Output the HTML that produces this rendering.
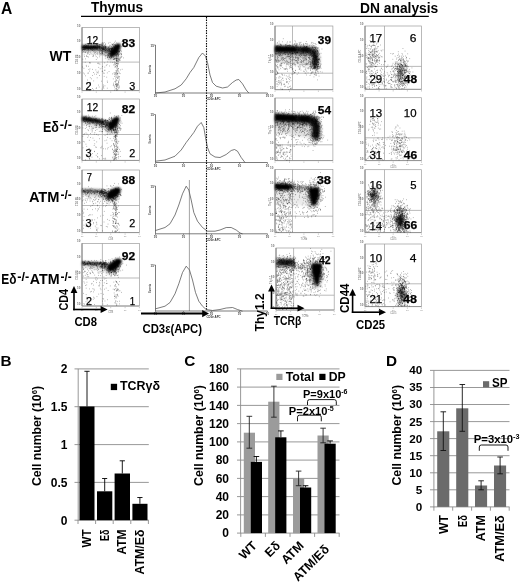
<!DOCTYPE html>
<html><head><meta charset="utf-8"><title>Figure</title><style>html,body{margin:0;padding:0;background:#fff}svg{display:block}</style></head><body>
<svg width="520" height="584" viewBox="0 0 520 584" font-family="'Liberation Sans', sans-serif">
<defs><filter id="b1" x="-50%" y="-50%" width="200%" height="200%"><feGaussianBlur stdDeviation=".95"/></filter><filter id="b2" x="-50%" y="-50%" width="200%" height="200%"><feGaussianBlur stdDeviation="1.6"/></filter><filter id="b3" x="-50%" y="-50%" width="200%" height="200%"><feGaussianBlur stdDeviation=".85"/></filter><filter id="b0" x="-10%" y="-10%" width="120%" height="120%"><feGaussianBlur stdDeviation=".35"/></filter></defs>
<rect width="520" height="584" fill="#fff"/>
<text x=".9" y="14.1" font-size="15.8" font-weight="bold" textLength="11.3" lengthAdjust="spacingAndGlyphs">A</text>
<text x="90.9" y="12.4" font-size="14.4" font-weight="bold" textLength="52.2" lengthAdjust="spacingAndGlyphs">Thymus</text>
<text x="360" y="13.4" font-size="14" font-weight="bold" textLength="78.3" lengthAdjust="spacingAndGlyphs">DN analysis</text>
<line x1="81" y1="16.4" x2="428.8" y2="16.4" stroke="#000" stroke-width="1.1"/>
<text x="49.5" y="60.7" font-size="13.9" font-weight="bold" textLength="21.8" lengthAdjust="spacingAndGlyphs">WT</text>
<text x="43" y="132" font-size="13.9" font-weight="bold" textLength="16" lengthAdjust="spacingAndGlyphs">Eδ</text>
<text x="59.8" y="129.3" font-size="13" font-weight="bold" textLength="12.2" lengthAdjust="spacingAndGlyphs">-/-</text>
<text x="28.9" y="201.9" font-size="13.9" font-weight="bold" textLength="30.6" lengthAdjust="spacingAndGlyphs">ATM</text>
<text x="60.6" y="199.2" font-size="13" font-weight="bold" textLength="11.2" lengthAdjust="spacingAndGlyphs">-/-</text>
<text x="1.3" y="283.6" font-size="13.9" font-weight="bold" textLength="15.2" lengthAdjust="spacingAndGlyphs">Eδ</text>
<text x="17.2" y="280.9" font-size="13" font-weight="bold" textLength="12" lengthAdjust="spacingAndGlyphs">-/-</text>
<text x="29.8" y="283.6" font-size="13.9" font-weight="bold" textLength="29.8" lengthAdjust="spacingAndGlyphs">ATM</text>
<text x="60.6" y="280.9" font-size="13" font-weight="bold" textLength="11.2" lengthAdjust="spacingAndGlyphs">-/-</text>
<g filter="url(#b0)">
<rect x="82" y="27.6" width="57.4" height="63" fill="none" stroke="#9c9c9c" stroke-width=".7"/>
<line x1="102.4" y1="27.6" x2="102.4" y2="90.6" stroke="#9c9c9c" stroke-width="0.7"/>
<line x1="82" y1="62.1" x2="139.4" y2="62.1" stroke="#9c9c9c" stroke-width="0.7"/>
<line x1="82" y1="27.6" x2="82" y2="90.6" stroke="#7a7a7a" stroke-width="0.9"/>
<line x1="82" y1="90.6" x2="139.4" y2="90.6" stroke="#8a8a8a" stroke-width="0.8"/>
<line x1="82" y1="91.4" x2="82" y2="92.8" stroke="#aaa" stroke-width="0.6"/>
<line x1="96.3" y1="91.4" x2="96.3" y2="92.8" stroke="#aaa" stroke-width="0.6"/>
<line x1="110.7" y1="91.4" x2="110.7" y2="92.8" stroke="#aaa" stroke-width="0.6"/>
<line x1="125.1" y1="91.4" x2="125.1" y2="92.8" stroke="#aaa" stroke-width="0.6"/>
<line x1="139.4" y1="91.4" x2="139.4" y2="92.8" stroke="#aaa" stroke-width="0.6"/>
<text x="80.4" y="26.6" font-size="3" font-weight="bold" text-anchor="end" fill="#6a6a6a">10</text>
<text x="80.4" y="42.4" font-size="3" font-weight="bold" text-anchor="end" fill="#6a6a6a">10</text>
<text x="80.4" y="58.1" font-size="3" font-weight="bold" text-anchor="end" fill="#6a6a6a">10</text>
<text x="80.4" y="73.8" font-size="3" font-weight="bold" text-anchor="end" fill="#6a6a6a">10</text>
<text x="80.4" y="89.6" font-size="3" font-weight="bold" text-anchor="end" fill="#6a6a6a">10</text>
<text x="78" y="64.1" font-size="2.7" transform="rotate(-90 78 64.1)" fill="#666">CD4 PE</text>
<g filter="url(#b2)"><path d="M82 45.3L104 45.3L110 50.3L104 54.3L82 51.8z" fill-opacity="0.18"/><ellipse cx="113.5" cy="52.5" rx="5" ry="8.5" fill-opacity="0.28" transform="rotate(37 113.5 52.5)"/></g>
<path transform="translate(82 27.6)" d="M7.8 21.4h.7M1.7 22h.7M12.9 19.6h.7M12.2 20.4h.7M.9 19.4h.7M2.2 20.3h.7M10.2 20.4h.7M5.4 19.2h.7M15.1 22.1h.7M9.5 19.3h.7M23.4 23.2h.7M7 21h.7M3.5 21.1h.7M19.6 21h.7M4.3 17.9h.7M8.9 18.8h.7M13.1 20.6h.7M4.9 20.2h.7M16.3 18.7h.7M14.1 20.6h.7M10.9 19.1h.7M16.8 22.9h.7M5.9 18.1h.7M21 19.1h.7M17.5 18.9h.7M2.8 24.6h.7M10 20h.7M11.7 19h.7M.9 18.6h.7M13.8 17.5h.7M21 19h.7M14.3 22.4h.7M13.9 16.9h.7M22.7 20.9h.7M11.4 19.7h.7M16.8 19.5h.7M15.5 23.2h.7M6.8 19.9h.7M9.3 19.8h.7M11.1 19.7h.7M4 20.4h.7M18.4 20.4h.7M3.1 20h.7M20.9 21.7h.7M1.9 18h.7M21.2 20.7h.7M19.7 20.9h.7M10 19h.7M8.6 23.2h.7M3.6 17.2h.7M4.2 20.1h.7M11.6 21.2h.7M14.1 20h.7M10.1 20.2h.7M8.9 16.2h.7M16.6 18.3h.7M12.4 18.1h.7M1.3 18.3h.7M21.6 20.6h.7M19.1 16.6h.7M9.4 19.4h.7M15.2 20.5h.7M1.5 21.1h.7M3.9 20.5h.7M8.2 20h.7M3.6 20h.7M2.4 19.7h.7M21 20.3h.7M14.7 20.8h.7M8.3 21h.7M8.7 22.4h.7M23.8 22.3h.7M11.2 19.3h.7M2.5 20.1h.7M8.2 19.7h.7M3.9 23.2h.7M.6 22h.7M3.5 19.4h.7M13 22.1h.7M23.5 20.4h.7M20.7 19.6h.7M8.8 18.8h.7M4 20.3h.7M18.7 17.9h.7M7.9 20.5h.7M23.6 23.1h.7M20.5 21.1h.7M17.8 17.1h.7M5.4 18.4h.7M.7 19.8h.7M.7 19.8h.7M16.6 21.3h.7M23 16.2h.7M23.7 21.3h.7M22.9 19.2h.7M5.4 20.9h.7M4.7 20.7h.7M21.6 22.3h.7M20.2 17.5h.7M19.2 20.3h.7M2 18h.7M18.8 16.8h.7M18 18.9h.7M18.9 20.1h.7M8 21.4h.7M9.5 15.7h.7M9.6 22.6h.7M4.1 19.1h.7M3 22.1h.7M19.4 23h.7M3.5 22.2h.7M15.8 15.8h.7M8.4 19.1h.7M.3 19.7h.7M23.3 18.8h.7M22.4 18.3h.7M10.4 22.2h.7M5.1 17.7h.7M6 19.7h.7M14.1 21.2h.7M6.2 19.2h.7M21.8 20.4h.7M8.5 17.8h.7M21.7 20.6h.7M10.1 21.7h.7M12.8 19h.7M12.6 21.8h.7M4.4 20.2h.7M11.4 19h.7M17.4 18.6h.7M12.4 19.5h.7M13.3 20.2h.7M13.4 19.2h.7M6 19.5h.7M12.2 22.9h.7M13.5 20.2h.7M10.6 16.3h.7M14.7 18h.7M16.6 19.9h.7M10.9 18.1h.7M22.6 19.6h.7M16.8 22.9h.7M6.2 17.2h.7M13.4 23h.7M3.3 18.9h.7M2.9 19.4h.7M5.8 20.2h.7M1.8 18.6h.7M21.5 17.4h.7M3.7 19.5h.7M3.4 17.6h.7M21.2 21.2h.7M22.9 19.8h.7M9.6 14.9h.7M20 20.4h.7M3.9 18.1h.7M8.1 20.9h.7M4.7 18.9h.7M.5 22.5h.7M13.3 19.7h.7M8 20.1h.7M15 19.4h.7M23.6 20h.7M18.9 20.8h.7M6.4 19.9h.7M1 20.2h.7M3.1 18.7h.7M10.1 22.7h.7M6.2 18.3h.7M3.6 21.9h.7M16.8 18.9h.7M2.1 22.4h.7M10.2 20.9h.7M1.7 22.2h.7M19.2 19.1h.7M2 20.4h.7M20.7 19.5h.7M10.9 18.9h.7M22.2 21.8h.7M6.4 21.4h.7M5.7 21.5h.7M2.6 20.3h.7M4.8 20.5h.7M7.5 19h.7M7 22.7h.7M12 20.7h.7M.4 21.4h.7M6 22.8h.7M13.2 20.3h.7M4.5 16.1h.7M2.6 20.6h.7M19.7 18.2h.7M20 20.8h.7M9.4 17.4h.7M23.6 19.9h.7M8.2 21.3h.7M15.3 17.7h.7M9.7 19.7h.7M3.1 20.5h.7M1.7 19.9h.7M3.9 18.7h.7M2 21.9h.7M16.1 17.1h.7M6.8 20.1h.7M11 21.4h.7M3.8 18.7h.7M23.1 20.4h.7M23.3 18.8h.7M23.2 19.6h.7M7.4 20h.7M9.2 20.1h.7M11.4 18.9h.7M12.1 20h.7M9.6 20.7h.7M1 21.4h.7M5.6 20.2h.7M14.1 17.2h.7M15.8 19.5h.7M17.2 21.2h.7M7.8 18.8h.7M23.6 21.6h.7M15.4 22.2h.7M1.1 21.8h.7M15.1 16.9h.7M17.6 20.4h.7M12.6 19.1h.7M12.1 21.6h.7M19.8 17.4h.7M14 22h.7M16.6 18.4h.7M5.5 20.9h.7M8.7 20.2h.7M2.5 21.1h.7M15.1 18.1h.7M15 19.2h.7M19.1 20h.7M12.8 18h.7M15.8 22.5h.7M6.1 21.1h.7M1.8 19.7h.7M4.9 22.7h.7M17.8 22h.7M9.2 19.7h.7M11.5 18.8h.7M14.8 17.3h.7M15.4 20.8h.7M6.1 20.4h.7M17.8 19.3h.7M1.5 19.7h.7M16.6 22.5h.7M16.2 19.5h.7M11.2 22h.7M11.2 22.6h.7M4.8 22.4h.7M23.5 20.3h.7M11 19.9h.7M27.7 25h.7M20.5 21.1h.7M19.7 23.1h.7M24.6 21.6h.7M18.8 15.6h.7M18.7 20.5h.7M27.7 17.5h.7M26.1 22h.7M20 23.8h.7M17.3 19.6h.7M17 18.6h.7M20.9 21.8h.7M18.8 20.3h.7M27.9 24.2h.7M17 21.2h.7M18.6 16.8h.7M29 21.5h.7M20.8 16.6h.7M21.8 14.9h.7M24.7 27.6h.7M21.7 20h.7M17.6 22.1h.7M18.3 22.4h.7M29.2 21h.7M20.2 21.3h.7M19.5 24.4h.7M21.9 26.6h.7M27.6 21.1h.7M25.2 27.1h.7M24.1 19.1h.7M26.4 26h.7M22.9 23.1h.7M26.8 21.2h.7M17.6 19.7h.7M29 24.5h.7M21.5 23.7h.7M20.9 21.2h.7M20.4 15.1h.7M25.5 21.3h.7M22.1 24.7h.7M19.2 22.3h.7M28.8 24h.7M23.5 23h.7M30 27.9h.7M22.8 22.9h.7M18.2 22.5h.7M21.4 23.2h.7M20.4 22.6h.7M24.4 25.1h.7M22.4 19.2h.7M22.4 19.5h.7M21.4 21.4h.7M17.8 20.2h.7M18.6 27.6h.7M23.5 18.7h.7M19.8 18.1h.7M20.5 21.6h.7M22.8 24.3h.7M29.4 25.5h.7M17.3 17.3h.7M17.4 20h.7M23.2 17h.7M24.6 24.5h.7M29 22.6h.7M27.7 26.4h.7M20.2 16.5h.7M18.4 23h.7M25.9 24.7h.7M29.2 22.1h.7M26.9 19h.7M22.9 21.3h.7M27.2 22.2h.7M20 24.6h.7M20.9 20h.7M18.7 21.4h.7M26.1 25.7h.7M18.5 24h.7M24.6 23.4h.7M22 22.3h.7M17.1 24.4h.7M20.9 15.8h.7M25.4 23.7h.7M28.5 20.8h.7M20.2 21.9h.7M29.5 22.1h.7M17.3 19.3h.7M23.5 20.8h.7M20.3 19.4h.7M25.7 23.8h.7M17.4 20.5h.7M21.4 18.5h.7M19.6 23.2h.7M27.4 22.2h.7M19.7 18.7h.7M29.6 21h.7M20 25.7h.7M19.9 21.7h.7M29.4 20.7h.7M23.4 22.6h.7M22.4 23.4h.7M25.6 23.5h.7M22.1 21.4h.7M19.8 22.8h.7M17.7 21.1h.7M17.8 17.3h.7M28.5 25.8h.7M26.5 27.9h.7M21.3 21.6h.7M19.4 25.1h.7M17.4 19.7h.7M25.6 20.6h.7M21.3 23.3h.7M19.2 23.4h.7M21.6 21.8h.7M29.4 27.1h.7M19.7 25.9h.7M21.6 23.7h.7M22.6 17.9h.7M17.6 19h.7M29 23h.7M19.5 18.1h.7M17.4 25.1h.7M22.3 23.4h.7M17.5 17.5h.7M17.5 26.2h.7M20.3 23.7h.7M26.7 24.1h.7M20.5 20.3h.7M29.4 21.3h.7M26.3 21.1h.7M21.1 21.7h.7M26.8 22.6h.7M28.9 18.8h.7M17.3 16.9h.7M20 15.6h.7M29.4 23.6h.7M22 21.8h.7M23.4 24.5h.7M29.1 24.4h.7M26.6 26.3h.7M23 25.3h.7M9.2 20.4h.7M8.9 21.1h.7M2.2 29h.7M5.5 24.7h.7M1.8 22.3h.7M.9 22h.7M27.4 23.8h.7M24.7 27.2h.7M2.4 24.5h.7M2.7 19.7h.7M12.5 24.7h.7M6.6 20.8h.7M18.9 26.9h.7M20.9 27.4h.7M3.4 20.8h.7M23.5 23.6h.7M10.4 28.7h.7M20.7 25.5h.7M6.9 27h.7M4.3 27.8h.7M9.1 21.9h.7M11.1 28.5h.7M6.5 24.5h.7M22.6 19.1h.7M2.9 16.6h.7M13.3 27.3h.7M25.6 19.1h.7M1.1 24.3h.7M5.3 26.3h.7M27.2 18.3h.7M10.4 21h.7M24.3 22.3h.7M21.8 25.5h.7M26.5 28.1h.7M17.4 27.4h.7M6.1 23.5h.7M5.7 26h.7M7.1 20.9h.7M5.7 22h.7M.3 22.5h.7M5.2 29h.7M8.7 26.3h.7M15.3 30.2h.7M1.8 27.3h.7M15.4 26.6h.7M17.9 26.3h.7M19.5 25.7h.7M11.5 24.1h.7M26.7 27.4h.7M8.7 22h.7M11.7 23.5h.7M24.2 27.7h.7M5.5 24.6h.7M20.4 24.8h.7M25.2 25h.7M11.9 26.1h.7M24.7 21.7h.7M12.9 25h.7M15.4 25.2h.7M17.9 25.9h.7M17.4 24h.7M10.4 22.9h.7M7.9 24.6h.7M14.6 26.1h.7M13.7 24h.7M22.5 26.8h.7M3.5 24.3h.7M26.4 28.3h.7M1.5 24.1h.7M25.9 19.4h.7M17.4 29.2h.7M23.1 27.7h.7M6.2 29.4h.7M11.3 28.1h.7M5.1 19.8h.7M6.1 21.6h.7M10.7 27h.7M3.4 24.8h.7M25.1 29.8h.7M36.7 24.6h.7M32.5 22.4h.7M33.4 21.9h.7M29 20.7h.7M30.5 21.2h.7M28.6 25.7h.7M28 25.8h.7M29.1 24.7h.7M37.2 24.1h.7M30 23.6h.7M33 17.2h.7M30.4 24h.7M30.9 23.7h.7M35 26.2h.7M35.6 25.5h.7M31.5 23.3h.7M31.6 22.3h.7M31.9 17.2h.7M31.4 23.3h.7M29.2 23.3h.7M34.3 22.8h.7M39.6 14h.7M31.8 16.8h.7M35.8 33h.7M24 23.9h.7M34.3 22.3h.7M34.4 15.3h.7M35.4 24.7h.7M32.6 21.3h.7M34.7 21.7h.7M33.3 21.6h.7M24.9 23.3h.7M33.2 26.1h.7M29.5 23.3h.7M34.6 23.9h.7M36.7 30.6h.7M29.4 16.5h.7M35.4 28.9h.7M35.6 26.3h.7M30.4 20.8h.7M35.5 20.1h.7M26.3 19.8h.7M41 30.3h.7M30.2 20.8h.7M33.3 20.7h.7M37 23.1h.7M28.8 28.1h.7M30.5 24.2h.7M32.5 22.3h.7M33.6 20.9h.7M26.2 15.5h.7M28.2 20.7h.7M32.4 23.6h.7M34.4 23.8h.7M29.8 20.8h.7M25.3 22.8h.7M34.1 25.3h.7M32.1 22.8h.7M35.7 23.5h.7M35 25.5h.7M33.2 28.1h.7M30.6 22.1h.7M29.8 20.5h.7M37.8 29.7h.7M32.6 25.4h.7M36.5 26.3h.7M36.6 18.9h.7M30.3 25h.7M37.4 23.8h.7M29.6 22.1h.7M30.3 20.3h.7M37.6 21.1h.7M32.6 31.2h.7M36.5 24.6h.7M30.4 24.9h.7M38 25.6h.7M36.8 23.8h.7M34.3 22.7h.7M34 28.1h.7M27.6 23.2h.7M33.3 21.3h.7M31.5 26.2h.7M39.3 25.7h.7M33.6 17.8h.7M39.1 23.7h.7M32.4 19.4h.7M32.3 19.5h.7M32.7 25.1h.7M32.6 24.4h.7M29.6 28.5h.7M30.3 16.9h.7M31.9 20.7h.7M29.1 22.1h.7M33.5 19.1h.7M32 28.5h.7M34.8 22.9h.7M32.9 23h.7M32.3 26h.7M32.2 14.7h.7M32.4 20.2h.7M34.7 21.2h.7M33 31.2h.7M28.9 19.4h.7M27.7 14.8h.7M26.1 24.7h.7M30.3 16.7h.7M27.5 25.6h.7M29.9 22.1h.7M33.6 28.3h.7M39.1 27.1h.7M33 24.1h.7M38.6 28.5h.7M31.4 25h.7M33.5 23.6h.7M30.8 18.6h.7M30.7 17.8h.7M36.7 25.3h.7M28.4 28.4h.7M35.5 16.5h.7M38.8 26.3h.7M39.5 19h.7M34.3 24.9h.7M33.2 24h.7M36.1 18h.7M28.3 18.4h.7M30.6 21.2h.7M33.7 24.4h.7M32.6 21h.7M31 26.8h.7M35.1 23.8h.7M31.4 29h.7M30.5 25.7h.7M36.4 22.4h.7M35.3 19.4h.7M35.9 24.1h.7M27.1 25.8h.7M29.5 28h.7M30.2 22.8h.7M33.5 22.2h.7M33.4 21.4h.7M34.8 23.4h.7M33.2 13.5h.7M36.4 23.5h.7M26.4 23.7h.7M34.1 27.3h.7M28.8 29h.7M32 32h.7M32 25.8h.7M31.3 19.4h.7M36.2 26.7h.7M37.7 26.5h.7M30.6 17.4h.7M30.3 21h.7M29.7 25.5h.7M33.6 22.4h.7M33.1 22.9h.7M33.2 26.1h.7M35.8 20.9h.7M27.4 28.5h.7M32.9 27.4h.7M26.9 22.2h.7M32.6 18.2h.7M30.7 26h.7M36.2 29.1h.7M29.6 18.4h.7M34.3 26.8h.7M33.2 18.7h.7M35.2 26.3h.7M34.4 21.6h.7M33.5 26.2h.7M30.6 16.8h.7M33.6 25.1h.7M32.5 26.6h.7M30.5 23.1h.7M31.5 25.5h.7M37.9 22.5h.7M39.5 28.9h.7M35.2 25.5h.7M38.5 22.8h.7M32.1 19.6h.7M34.1 28.2h.7M34.3 24.9h.7M31.8 24h.7M27.7 27.2h.7M31.1 19.4h.7M29.9 20.4h.7M35.4 27.2h.7M27.9 26.7h.7M35.5 21.3h.7M27.4 20.7h.7M30.3 24.6h.7M31.3 16.1h.7M33.3 17.9h.7M35.6 19.1h.7M30.1 20.3h.7M30.7 28.1h.7M35.4 25.6h.7M33.6 17.8h.7M30.7 21.4h.7M29.2 25.2h.7M27.6 24.1h.7M26.5 19.8h.7M32.4 30.7h.7M30.9 23.3h.7M20.6 27h.7M34.7 27.4h.7M33.6 31.1h.7M34.4 25h.7M34.1 28.9h.7M24.8 25.1h.7M25.2 26.1h.7M32.4 23h.7M22.9 30.6h.7M31.7 31.1h.7M25.5 29.8h.7M37.8 32.8h.7M29.5 27.3h.7M29.7 29.6h.7M34 26.7h.7M25.4 28.8h.7M28.6 28.4h.7M31.2 31.6h.7M34.4 25h.7M31.6 32h.7M28.4 27.8h.7M34.6 30.4h.7M32.2 22.2h.7M25.8 27.2h.7M31.7 34.6h.7M27.2 30h.7M33.1 21.1h.7M27.4 26.9h.7M28.5 25.9h.7M32 23.8h.7M32 24.4h.7M28.3 28.1h.7M28.2 27.3h.7M36.1 26.5h.7M29.8 28.8h.7M29 29.9h.7M25.7 28.4h.7M28.5 23.8h.7M36.7 23.7h.7M36.6 28.5h.7M35.5 23.3h.7M34.6 31.1h.7M29.9 26h.7M39.1 27h.7M28.8 24.4h.7M31.9 27.5h.7M30.9 31.9h.7M29.1 27.9h.7M35.6 23.2h.7M34 32.3h.7M25.4 22.9h.7M26.6 20.5h.7M31.9 20.5h.7M32.1 31.1h.7M24.5 25.4h.7M23.4 28.9h.7M27.6 25.5h.7M30.5 28.1h.7M29.1 26.4h.7M28.3 26.8h.7M26.1 26.6h.7M23.3 24.8h.7M37.2 26.7h.7M25.8 27.2h.7M26.8 21.1h.7M27.6 28.8h.7M31.7 26.1h.7M27 22.9h.7M35.2 27.2h.7M26.9 19.6h.7M25.4 34.3h.7M26.2 26.2h.7M31.1 25.9h.7M29.3 22h.7M26.5 31.8h.7M27.6 29.1h.7M24.2 25.5h.7M31.2 29.7h.7M26.3 28.3h.7M31.7 24h.7M32 23.5h.7M27.4 26.3h.7M20.5 26h.7M26.7 21.7h.7M28.8 28.8h.7M28.8 30.5h.7M26.1 22.2h.7M35.9 27.7h.7M33.7 23.8h.7M33.2 27.2h.7M32.6 26.5h.7M34.6 24.3h.7M26.8 21.7h.7M34.5 24h.7M26.5 23.4h.7M28.7 22.3h.7M29.3 24.4h.7M28.3 23.3h.7M30.4 24.9h.7M30.7 27.2h.7M31.5 19.4h.7M28.4 23.9h.7M33.1 21.4h.7M27.7 25.5h.7M29.1 29.6h.7M28.7 29.5h.7M25 20.6h.7M34.7 27.8h.7M32.1 26.8h.7M32 22.5h.7M33.7 24.7h.7M33.8 26.7h.7M23.2 22.3h.7M34.4 26h.7M28.9 27.2h.7M28.8 24.7h.7M30.7 26.9h.7M35.8 26.5h.7M37.1 32.2h.7M36.5 29.8h.7M30.8 26.8h.7M29.8 24.1h.7M30.1 24.3h.7M36.2 28.1h.7M28.7 20.3h.7M30.1 25.1h.7M26.4 22.8h.7M22.2 28.2h.7M30.1 34.7h.7M30.2 25.9h.7M35.5 26.8h.7M30.9 25.2h.7M28.1 31.2h.7M33.9 31.9h.7M29 26.5h.7M27.1 29.5h.7M25.3 28.2h.7M34.2 30.9h.7M26.9 29.9h.7M27.7 24h.7M25.5 30.1h.7M36.2 24.5h.7M27.6 25.3h.7M39.3 29.6h.7M28.3 20.7h.7M27.9 30.2h.7M35.5 62.2h.7M32.7 39.8h.7M35.6 43.9h.7M33.6 52.4h.7M36.7 49.7h.7M32.8 39h.7M34.4 29.6h.7M36.1 49.2h.7M34.8 56.8h.7M34.2 57.4h.7M35.8 56.7h.7M33.1 38.7h.7M35.3 58h.7M32.4 60.1h.7M36.1 41.1h.7M35.5 56.2h.7M34.5 36.2h.7M31 37.3h.7M33.8 49.8h.7M33 36.4h.7M34.5 38h.7M31.8 44.9h.7M35.4 32.4h.7M32.1 37.3h.7M37 48.9h.7M32.6 47h.7M33.7 45.5h.7M34 35.9h.7M34.1 35.6h.7M33.1 48.4h.7M33.7 43h.7M34.4 31h.7M35 50.7h.7M35.6 55.9h.7M36.2 41.1h.7M34.9 46.9h.7M34.6 62.7h.7M32.6 58.5h.7M34.7 38.3h.7M31.3 55.6h.7M36.1 55.2h.7M35.6 56.9h.7M34.2 30.8h.7M34.8 36.2h.7M35.1 31.2h.7M35.6 48.2h.7M33.3 61.2h.7M36.4 60h.7M35.3 42.8h.7M35.6 33.5h.7M34.2 48.4h.7M36.6 51h.7M33.9 42.7h.7M36.6 44.5h.7M35.6 36.9h.7M34.8 41.3h.7M36.9 59.7h.7M32.9 31.1h.7M34 55.8h.7M32.4 62.5h.7M36 31.4h.7M36.5 61h.7M33.9 52.2h.7M36.4 54.9h.7M34 33h.7M35.5 33.7h.7M35 45.6h.7M35.5 34.3h.7M36.9 52.2h.7M34.7 36h.7M35.5 30.7h.7M34 60.8h.7M35.1 58.5h.7M34 44.5h.7M37.1 32.7h.7M33.3 50.6h.7M33 44.7h.7M36.9 45.5h.7M35.2 50.5h.7M35.3 31.4h.7M33.7 53.4h.7M34.2 58.7h.7M33.8 38.4h.7M35 38.6h.7M34 57.6h.7M35.3 45.9h.7M35.1 40.2h.7M34.1 62.3h.7M36.3 31.4h.7M33.1 36.6h.7M34.2 45.5h.7M35.6 36.3h.7M39.8 41.7h.7M34.2 60.5h.7M33.7 32.8h.7M37.6 31.4h.7M33.4 53.8h.7M38.5 30h.7M34.1 56.5h.7M35.2 29.6h.7M33.6 57.4h.7M34.3 44.1h.7M34.9 60.1h.7M36.4 34.1h.7M34.8 35.5h.7M32.2 36.1h.7M36.3 32.2h.7M35.6 46.1h.7M35.1 38.7h.7M36.5 53.2h.7M33.6 56.7h.7M34 31.7h.7M32.5 54h.7M35.8 31.4h.7M33 56.7h.7M37 58.5h.7M37.8 46h.7M34.8 45.5h.7M34.4 58.7h.7M35.5 57.4h.7M35.2 41.8h.7M35.7 49.4h.7M32.9 29.7h.7M34.3 46.8h.7M33.9 33.5h.7M31.8 58.5h.7M34.1 40.3h.7M33.1 54.7h.7M37.1 31.6h.7M31.8 46.1h.7M32.7 46.7h.7M34.1 30.2h.7M34.7 61.9h.7M35.4 32.9h.7M34.7 37.9h.7M34.2 32.7h.7M34.6 52.9h.7M34.8 49.6h.7M32.2 48.8h.7M34.2 32.9h.7M34.4 58.6h.7M34.1 33.6h.7M33.3 46h.7M34.5 33.6h.7M35.8 43.1h.7M36 58.3h.7M32.3 34.4h.7M33.4 35h.7M21.5 60.7h.7M10.1 41.8h.7M21.8 45.7h.7M10.3 60.9h.7M20.2 38.9h.7M6.2 38.7h.7M11.3 62.3h.7M20.9 59.8h.7M21.2 57.4h.7M1.4 45.4h.7M24.9 60.6h.7M6.5 41.9h.7M16.4 39.8h.7M13.8 29h.7M11.3 44.9h.7M.5 31.6h.7M25.2 54.8h.7M24.4 49.6h.7M21 58.8h.7M23 27.8h.7M16.7 36.2h.7M17.6 36.5h.7M14.1 60.2h.7M16.2 35.6h.7M13.5 42.3h.7M24.7 37h.7M7.9 50.1h.7M3.1 48.2h.7M24.9 45.3h.7M7 43.5h.7M13.9 31.9h.7M3.2 31.3h.7M7.6 41.3h.7M7.5 35.4h.7M2.3 46.4h.7M21.8 48.8h.7M14.8 50.2h.7M5.2 52.4h.7M12 46.5h.7M15.9 43.6h.7M8.1 35.3h.7M5.8 45.2h.7M10 47.9h.7M.3 39.4h.7M22.4 35.2h.7M14.5 44.4h.7M7.4 62.5h.7M7.7 54.7h.7M4.1 28.9h.7M22.7 42.6h.7M1.6 40.7h.7M11.4 53.3h.7M2.8 34.7h.7M24.9 53.5h.7M4 38.8h.7M9.2 51.2h.7M16 57.5h.7M21.4 45.4h.7M19.2 53.6h.7M19.8 43.8h.7M30.9 51.3h.7M36 27.8h.7M34.3 22.9h.7M30.2 46.3h.7M19.6 61.5h.7M22.5 39.5h.7M30.9 57.9h.7M23.9 38h.7M17.8 41.2h.7M28.5 34.5h.7M15.4 45.1h.7M15.1 35.7h.7M31 56.9h.7M19.7 40.6h.7M7.3 35h.7M5.7 45.9h.7M22.9 26.2h.7M36.3 35.8h.7M33.2 56.5h.7M37.8 30.9h.7M16.8 59.4h.7M.4 24.6h.7M22.3 42.7h.7M36.3 53.9h.7M20.4 43.5h.7M27 38.4h.7M14.1 46.7h.7M13.8 60.9h.7M26.7 43.9h.7M3.9 37.8h.7M15.8 45.3h.7M22.6 58.2h.7M38 42.3h.7M17.3 47.9h.7" stroke="#000" stroke-opacity="0.55" stroke-width="0.7" fill="none"/>
<g filter="url(#b3)"><path d="M82 45.3L99 45.3L99 49.3L82 49.3z"/><path d="M99 45.3L113.3 49L113.3 52.5L99 49.3z" fill-opacity="0.5"/><ellipse cx="115.3" cy="50" rx="3.5" ry="7.8" transform="rotate(37 115.3 50)"/></g>
<rect x="82" y="99" width="57.4" height="61.4" fill="none" stroke="#9c9c9c" stroke-width=".7"/>
<line x1="102.4" y1="99" x2="102.4" y2="160.4" stroke="#9c9c9c" stroke-width="0.7"/>
<line x1="82" y1="134.5" x2="139.4" y2="134.5" stroke="#9c9c9c" stroke-width="0.7"/>
<line x1="82" y1="99" x2="82" y2="160.4" stroke="#7a7a7a" stroke-width="0.9"/>
<line x1="82" y1="160.4" x2="139.4" y2="160.4" stroke="#8a8a8a" stroke-width="0.8"/>
<line x1="82" y1="161.2" x2="82" y2="162.6" stroke="#aaa" stroke-width="0.6"/>
<line x1="96.3" y1="161.2" x2="96.3" y2="162.6" stroke="#aaa" stroke-width="0.6"/>
<line x1="110.7" y1="161.2" x2="110.7" y2="162.6" stroke="#aaa" stroke-width="0.6"/>
<line x1="125.1" y1="161.2" x2="125.1" y2="162.6" stroke="#aaa" stroke-width="0.6"/>
<line x1="139.4" y1="161.2" x2="139.4" y2="162.6" stroke="#aaa" stroke-width="0.6"/>
<text x="80.4" y="98" font-size="3" font-weight="bold" text-anchor="end" fill="#6a6a6a">10</text>
<text x="80.4" y="113.3" font-size="3" font-weight="bold" text-anchor="end" fill="#6a6a6a">10</text>
<text x="80.4" y="128.7" font-size="3" font-weight="bold" text-anchor="end" fill="#6a6a6a">10</text>
<text x="80.4" y="144.1" font-size="3" font-weight="bold" text-anchor="end" fill="#6a6a6a">10</text>
<text x="80.4" y="159.4" font-size="3" font-weight="bold" text-anchor="end" fill="#6a6a6a">10</text>
<text x="78" y="134.7" font-size="2.7" transform="rotate(-90 78 134.7)" fill="#666">CD4 PE</text>
<g filter="url(#b2)"><path d="M82 116.4L104 119.7L110 124.9L104 129.1L82 123.3z" fill-opacity="0.18"/><ellipse cx="112.2" cy="125.5" rx="5" ry="8.5" fill-opacity="0.28" transform="rotate(37 112.2 125.5)"/></g>
<path transform="translate(82 99)" d="M23.9 22.2h.7M19.6 24.8h.7M4.1 18.4h.7M19.8 27.6h.7M12.3 24.8h.7M16.6 24.9h.7M19.7 26.8h.7M10.1 21.2h.7M3.8 19.9h.7M12.1 23.9h.7M4.5 21.7h.7M14.5 24.5h.7M8.5 23.8h.7M1 19.9h.7M9.9 21.8h.7M16.6 20.8h.7M14.1 25.4h.7M16 23h.7M13.3 24h.7M6.4 19.5h.7M23.9 21.7h.7M13.8 21.2h.7M3.8 21h.7M18.2 23.3h.7M4.1 21h.7M12.5 22.9h.7M19.4 20.5h.7M1.5 23.3h.7M7.7 21.3h.7M17.2 21.8h.7M6.4 21.8h.7M2.4 22.3h.7M8.4 19.8h.7M10.8 21h.7M21.4 23.5h.7M14 23.9h.7M14.9 21.6h.7M6 25h.7M20.5 24.2h.7M7.6 23.8h.7M7.3 19h.7M14.5 24.2h.7M22.8 22.8h.7M5.8 18.5h.7M5.3 22.6h.7M7.4 22.5h.7M19 21.2h.7M5.8 21.6h.7M4.5 22.1h.7M23.3 22.8h.7M2.8 22.6h.7M12.8 20.4h.7M1.6 21.4h.7M3 21.1h.7M5.9 19.2h.7M4.6 20.3h.7M.8 21.4h.7M15.9 21.7h.7M16.9 23.4h.7M2.2 19.8h.7M3.1 23.9h.7M10.6 23.2h.7M3.8 17.6h.7M8.5 20.9h.7M23 21.6h.7M5 22.8h.7M5.5 20h.7M10.9 23.5h.7M6.3 23h.7M21.6 21.6h.7M5.9 19.8h.7M14.6 23h.7M2.9 24h.7M12.3 20.3h.7M18.5 22.3h.7M9.2 20h.7M7.5 19h.7M9.4 22.3h.7M20.4 23.6h.7M7.7 20.6h.7M13.5 21.2h.7M8.7 19.6h.7M1.6 20.1h.7M7.5 21.2h.7M17.2 23.4h.7M6.8 17.6h.7M18.6 25h.7M21.2 23.7h.7M6.6 20.1h.7M.7 18.8h.7M8.4 18.7h.7M9.9 19.8h.7M6 18.4h.7M20.3 21.4h.7M4.4 22.7h.7M2.8 22.9h.7M17.1 20.9h.7M1 21.1h.7M4.8 20.9h.7M7.3 20.6h.7M7.5 21.4h.7M15.3 23.7h.7M13.7 25.2h.7M17.2 22.4h.7M16.4 24.4h.7M8.4 24.7h.7M18.6 22.7h.7M6.9 24.5h.7M14.6 23.1h.7M1.1 20.1h.7M19 23.7h.7M5 23.3h.7M2.1 18.6h.7M16.7 20h.7M19.9 24.8h.7M6.7 24.7h.7M10.2 23.8h.7M22.3 22.2h.7M19.9 20h.7M15.1 21.6h.7M16.8 22.6h.7M10.3 17.2h.7M3.1 20h.7M18.3 25.4h.7M19.3 23.6h.7M6.3 16.1h.7M15.3 20.8h.7M13.1 21.9h.7M8.6 21.8h.7M9.9 21.9h.7M3.3 21.9h.7M17 21.8h.7M5.8 19.6h.7M12.4 17.6h.7M8.4 22.6h.7M7.2 21.8h.7M13.5 21.2h.7M8 22h.7M18.3 20.5h.7M4.1 19.2h.7M11.1 19.4h.7M18.4 23.1h.7M6.9 20.1h.7M8.7 21.4h.7M6.7 21.5h.7M4.7 20h.7M2.7 18.4h.7M7.8 19.3h.7M4 20.9h.7M1.7 26h.7M18 23h.7M2 19.1h.7M13.5 16.8h.7M2.6 18.3h.7M4.6 20.7h.7M13 26h.7M15.5 22.4h.7M15.1 24.7h.7M6 19.7h.7M5.9 21.1h.7M18.6 23h.7M20.1 22.6h.7M15.3 23.3h.7M20.3 24h.7M18.8 22.2h.7M19.9 22.8h.7M4.4 18.9h.7M19.8 22.1h.7M13.2 23.5h.7M8.9 21.9h.7M1 18.8h.7M13.6 19.5h.7M16.9 19.9h.7M21.7 25.2h.7M12 21h.7M3.8 19.7h.7M1.9 22.5h.7M16.5 23.4h.7M23.3 25.1h.7M2.2 22.2h.7M4.6 21.1h.7M17.4 26.1h.7M20.5 23h.7M18.9 21.4h.7M15.9 23h.7M12.4 20.3h.7M10.5 22.3h.7M16 24.2h.7M3.9 16.9h.7M7.1 18.7h.7M8.4 22h.7M4.7 22h.7M11.1 22.4h.7M23.3 26.5h.7M23.4 21.4h.7M23.1 20.9h.7M1.4 17.8h.7M16.2 21.1h.7M13.7 21h.7M22.9 20.6h.7M7.2 21.3h.7M8.2 21.5h.7M4.5 20.3h.7M16.3 21.6h.7M15.9 22.5h.7M8.9 19.5h.7M12.7 20.9h.7M13.6 21.2h.7M4.3 21.1h.7M21.4 22.2h.7M20.7 22.7h.7M6.1 22.7h.7M6 22.1h.7M11.7 20.4h.7M13.7 21.5h.7M2.7 17.8h.7M1.9 20h.7M9.8 23.2h.7M20.7 23.9h.7M13.2 21.2h.7M2.8 17.2h.7M23.8 23.3h.7M19.9 22h.7M9.4 23.6h.7M13.5 26.1h.7M18.6 24.8h.7M1.4 22.6h.7M5.7 20.5h.7M14.3 22.3h.7M5.1 19.8h.7M10.2 24.2h.7M21.3 20.4h.7M13.5 19.3h.7M22 24h.7M17.9 21.8h.7M8.2 21.4h.7M19.8 20.1h.7M2.9 18.2h.7M22.8 25.5h.7M17.3 24.9h.7M2.4 20.9h.7M13.2 22.2h.7M22.2 22.4h.7M16.2 22.3h.7M10.7 22.7h.7M20.1 22.1h.7M17.3 23.6h.7M18.4 24.8h.7M24.2 23.5h.7M20.8 23.6h.7M18.9 22.2h.7M28.4 21.9h.7M27.5 24.5h.7M29.3 27.8h.7M19 24.5h.7M23.5 27.9h.7M17.5 21.1h.7M19.4 25.9h.7M22.1 21.4h.7M23.2 27.4h.7M22.1 28.6h.7M28.3 24.7h.7M21.3 24h.7M19.8 27h.7M17.6 22.2h.7M19.2 22.6h.7M24.5 27.1h.7M22 24.5h.7M24.5 25.2h.7M21.3 27.3h.7M29.8 26h.7M17.6 26.3h.7M20.5 27.4h.7M20.6 22.7h.7M24.4 25h.7M23.9 32.1h.7M17.4 22.2h.7M24.3 25.6h.7M27.1 20.5h.7M25.2 23.6h.7M20.7 22.8h.7M27.3 29.3h.7M25.9 21.1h.7M21 24.9h.7M23.6 21h.7M25.3 23.3h.7M22.3 27.2h.7M17.8 23.1h.7M29.8 27.5h.7M23.3 23.6h.7M20.1 25.8h.7M21.5 24.8h.7M28.3 25.7h.7M22.9 21.9h.7M20.9 25.6h.7M19.2 26.2h.7M21 25.4h.7M26.4 19.9h.7M21.4 22.8h.7M29 24.7h.7M19.3 23.9h.7M24.5 27.3h.7M27.1 25.1h.7M22.6 25.4h.7M23.3 24.2h.7M28.7 25.2h.7M17.3 26h.7M19.1 23.9h.7M19.8 28.2h.7M22.2 25.7h.7M28.2 28.6h.7M25.4 26.4h.7M29.5 29.3h.7M24.8 28.9h.7M28.4 27.6h.7M21.4 25.6h.7M24 26.1h.7M28.4 22h.7M19.8 20.2h.7M21.2 24.6h.7M22.3 21.3h.7M25.8 24.7h.7M22.4 25.4h.7M17.6 22.7h.7M23.4 23.3h.7M24.8 24.9h.7M17.2 26.8h.7M29 19h.7M17.7 21.4h.7M25 24.7h.7M18.2 22.1h.7M19 26.9h.7M18.2 27.4h.7M27.6 22.7h.7M24.7 26.4h.7M24.2 23.2h.7M21.3 21.9h.7M26.6 25.1h.7M26.9 29.1h.7M27.1 23.8h.7M29.7 29.5h.7M22.9 24.3h.7M29.2 28.4h.7M18.7 27h.7M25.5 25.3h.7M27.1 20.6h.7M20 30h.7M26.8 25.8h.7M18.7 24.6h.7M17.8 21.1h.7M19.4 24.3h.7M29.2 24.7h.7M19.3 25.4h.7M26.6 26.5h.7M17.4 23.5h.7M27.1 25.6h.7M23.5 31.7h.7M25.3 22.7h.7M23 28.4h.7M21.2 25.5h.7M26.5 24.6h.7M17.9 22.7h.7M28.2 23.5h.7M17.8 21.9h.7M28.9 24.6h.7M29.3 24.4h.7M20.3 23.3h.7M20.4 22.9h.7M19.6 25.1h.7M26.9 24h.7M29.9 24.1h.7M19.8 23.2h.7M28.2 24.9h.7M28.3 25h.7M27.7 29.4h.7M20.7 23.2h.7M28.6 27.9h.7M19.1 23h.7M22.9 21.9h.7M24.5 26.2h.7M28.5 24.4h.7M21.7 25.6h.7M19.4 19.7h.7M28.2 27.5h.7M17.3 24.1h.7M18.5 24.6h.7M25.5 26h.7M4.2 26h.7M4.7 24.7h.7M19.1 28.6h.7M25.7 27.7h.7M20.1 32.7h.7M.9 20.1h.7M6.6 27.4h.7M1.1 21.4h.7M14.1 26.5h.7M2.9 29.5h.7M.6 28.9h.7M24.6 25.9h.7M3.4 24.4h.7M12 26.2h.7M5 25.4h.7M20.7 24.4h.7M14 28.4h.7M13.9 28h.7M25.7 24.8h.7M27.1 27.9h.7M24.7 25.8h.7M5 23.6h.7M7.4 27h.7M14.2 26.5h.7M11.4 23.3h.7M19.3 23.8h.7M15.4 22.8h.7M19.3 32.6h.7M20.1 25.4h.7M11.2 24.7h.7M27.2 29.1h.7M10.8 23.6h.7M4 28.3h.7M28 30.5h.7M25.9 26.2h.7M7.1 23.7h.7M6.7 24.1h.7M5.6 30.7h.7M22 30.2h.7M25.4 30.8h.7M9.1 27.6h.7M18.1 23.4h.7M27.2 25.3h.7M14.3 19.8h.7M16.6 28.4h.7M17.6 26h.7M20.8 22.4h.7M11 29.6h.7M14.7 22.4h.7M9 23h.7M17.6 23.9h.7M17.2 25.5h.7M7.4 29.1h.7M20.2 24.1h.7M14.6 23.9h.7M4 26.4h.7M26 22.3h.7M14.8 25.4h.7M22.8 26.2h.7M23 28.1h.7M12.9 22.3h.7M25 21.5h.7M24.3 29.1h.7M23.3 26.9h.7M22.9 27.4h.7M7 27.4h.7M2.9 22.5h.7M14.6 30.6h.7M12.7 28.8h.7M27.9 27.8h.7M19.5 22.6h.7M22.4 27.2h.7M21.2 28.9h.7M10.3 30h.7M14.6 26.3h.7M9.5 29.2h.7M10.7 28.2h.7M31.5 23.9h.7M30.7 27.5h.7M36.1 24.5h.7M34.2 25.4h.7M37.6 29.3h.7M33.8 26.5h.7M29.4 19.3h.7M34 22.4h.7M29 28.7h.7M32.2 21.2h.7M35.2 24h.7M34.5 21.1h.7M26.2 22.9h.7M33.9 17.8h.7M27.5 28.4h.7M39.7 24.2h.7M28 23.4h.7M28.6 30.5h.7M33.7 21.8h.7M34.1 17.3h.7M31.4 25h.7M30.4 21.7h.7M29.1 18.3h.7M32.7 21.5h.7M33.2 28h.7M28.9 20.7h.7M31.4 27.4h.7M26.7 24.8h.7M27.8 30.3h.7M32.5 19.2h.7M29.3 25.2h.7M29.5 25.3h.7M32.5 25.7h.7M29.8 30.1h.7M34.2 23.9h.7M30.7 22.6h.7M26.3 23.8h.7M31.3 23.6h.7M27.9 14h.7M25.1 28h.7M24.9 27h.7M33.6 24.6h.7M31.2 27.9h.7M31 24.8h.7M34.1 24.8h.7M37.9 21h.7M29.8 24h.7M31.7 22.6h.7M37.6 27.3h.7M24.9 24.9h.7M33.5 29.2h.7M32.6 22.2h.7M33.9 20.2h.7M31.5 20.7h.7M35.8 27.5h.7M38.5 23.9h.7M30.8 23.3h.7M35.1 21.1h.7M33.6 23.7h.7M33.6 25.9h.7M28.5 23.4h.7M25.3 21.7h.7M29.2 28.6h.7M29.7 25.9h.7M30.4 20.3h.7M33.2 31.8h.7M33.3 29.4h.7M33.2 28.5h.7M38.2 19h.7M28.9 19.6h.7M31.3 23.6h.7M28.7 26.7h.7M37.5 29.9h.7M37.2 25.4h.7M32.7 30.2h.7M34.6 28.5h.7M30.1 23.5h.7M29 29.5h.7M28.3 25.7h.7M32.2 24.6h.7M30.3 26.5h.7M28.8 25.5h.7M35.7 23.1h.7M35.2 29.5h.7M37.4 21.9h.7M37 28.7h.7M36.2 28.6h.7M30.8 28.4h.7M31.9 23.4h.7M29.3 23.5h.7M30.8 19.3h.7M32.4 20.1h.7M33.4 30.1h.7M35.4 30.9h.7M36.5 33.5h.7M31 22.1h.7M30.7 21.5h.7M35.8 16.7h.7M31.4 28.5h.7M33.4 28.2h.7M27.7 23.5h.7M30.8 26.8h.7M33.3 30.4h.7M27.1 26.2h.7M38.9 29.8h.7M32.1 28.2h.7M30.6 29.9h.7M29.5 28.1h.7M32.1 22.4h.7M32 24.9h.7M29.1 25.7h.7M28.4 29.2h.7M33 28.8h.7M33.6 26.1h.7M26.8 24.1h.7M31.4 23.4h.7M31.1 23.8h.7M29.8 22h.7M29.7 21.3h.7M34.8 26.1h.7M33 28h.7M30.1 29h.7M25.4 23h.7M31.4 31.1h.7M35.1 28.1h.7M33.9 23.2h.7M30.8 22.9h.7M31.6 20.8h.7M30.3 23.4h.7M32.9 23h.7M32.5 26.9h.7M33 27.9h.7M28.3 25.5h.7M30.8 28.9h.7M29.8 26.2h.7M26.9 24h.7M28.9 25h.7M29.2 24.9h.7M32 21.6h.7M33.8 23h.7M38.1 29.1h.7M33.5 25.5h.7M35.7 26.2h.7M26 27.5h.7M32.2 16.7h.7M25.5 29.8h.7M32.4 22.6h.7M25.4 21.4h.7M36.4 17.1h.7M33 33.5h.7M31.7 21.9h.7M33 27.3h.7M32.5 24.4h.7M26.1 26.9h.7M33.7 26.5h.7M32.9 25.6h.7M34.2 37.2h.7M29.4 26.1h.7M27.4 18.7h.7M31.3 30h.7M28.1 23.4h.7M29.5 20.1h.7M26.5 25.4h.7M29.7 24.3h.7M28.1 29.9h.7M38.7 22.2h.7M26.2 29.5h.7M36 32.2h.7M28.4 24.8h.7M24.8 26.5h.7M26.9 18.8h.7M33.7 26.6h.7M24.5 22.2h.7M39.5 16.5h.7M29.6 32.1h.7M37.1 25.6h.7M28.7 26.4h.7M29.1 26.3h.7M34.8 25.4h.7M35.1 29.6h.7M28.4 24.1h.7M27.9 26.3h.7M25.3 21.5h.7M23.8 26.7h.7M28.1 29.5h.7M33.8 26.7h.7M28.5 19.3h.7M27.6 25.1h.7M30.9 24.3h.7M31.2 30.1h.7M35.2 20.7h.7M33.5 21.9h.7M32 25.8h.7M34.3 27.8h.7M27.3 24.6h.7M32.6 24.3h.7M36.4 20.1h.7M33 25.6h.7M29.6 24.6h.7M30.3 26h.7M26.9 26.9h.7M38 26.5h.7M31 31.4h.7M25.8 30.5h.7M26.8 20h.7M29 18.4h.7M28.5 30.2h.7M35.3 30.1h.7M32.8 30h.7M29 31.3h.7M27.7 28.9h.7M26.5 27.1h.7M30.3 22h.7M26.7 24.9h.7M28.7 34.1h.7M25.7 27.4h.7M27.8 25.5h.7M26.3 30.9h.7M28.1 25.6h.7M24.7 25.2h.7M32.1 24.9h.7M22 25h.7M29 29.1h.7M28.8 30.5h.7M24.3 24.7h.7M27.6 28h.7M21.4 27.3h.7M23.1 30.8h.7M29.7 33.2h.7M35.8 29.4h.7M27.7 24.4h.7M26.5 31.1h.7M30 27.9h.7M23.8 27h.7M35 27h.7M33.4 20.2h.7M33.8 24.6h.7M23.8 26.6h.7M25.8 32.9h.7M27.7 27.1h.7M26.3 30.2h.7M33 30.6h.7M23.3 27h.7M30.6 21.5h.7M28.3 30.7h.7M34 29.3h.7M31.7 30.5h.7M30 21.8h.7M35.3 30h.7M28.5 25.2h.7M37 28.9h.7M32 26.6h.7M29.7 27.8h.7M32.6 21.8h.7M35.1 27.8h.7M31.4 30.9h.7M26.9 30.4h.7M24.6 28.5h.7M25.9 31.1h.7M33.9 24h.7M29.9 25.4h.7M23.7 27.5h.7M32.4 31.4h.7M26.8 26.9h.7M33.9 27.7h.7M35.2 33.8h.7M30.7 25.3h.7M27.6 30.3h.7M28 28.1h.7M30.4 22.9h.7M27.2 26.6h.7M25.7 28.6h.7M27.4 26.4h.7M33.9 32.4h.7M28 26h.7M23.2 22h.7M34.3 27.9h.7M25.7 23.5h.7M33.1 26.8h.7M30.9 30.7h.7M25.8 23.3h.7M28.3 29.4h.7M27.9 27.4h.7M30.1 24.8h.7M31.2 30.8h.7M24.7 25.1h.7M27.3 25.7h.7M27.7 31.2h.7M23.7 29h.7M27.2 25.5h.7M23.7 21.2h.7M29 32.2h.7M25.5 30h.7M24.3 29.2h.7M27.7 26.6h.7M23.6 26h.7M27.1 32h.7M31 29.1h.7M26.4 28.5h.7M31.5 32h.7M32 33.7h.7M28 24.8h.7M33.3 33.5h.7M32 27.9h.7M29.3 26.8h.7M27.6 27.8h.7M30.2 24.2h.7M30.5 28.3h.7M28 28.7h.7M27.5 28.7h.7M34 26.5h.7M31.7 26h.7M27.9 28.6h.7M26.6 31.1h.7M23.5 27.2h.7M28.8 28.1h.7M28.1 24.6h.7M28.9 32.2h.7M31 27.3h.7M24.3 24.9h.7M31.5 26.1h.7M27.6 35.1h.7M20.2 30.7h.7M20.3 23.5h.7M38.3 31.3h.7M30.8 30.3h.7M31.9 25.9h.7M23.8 25.2h.7M29.9 29.2h.7M32.4 27.6h.7M31.3 27.7h.7M24.7 26h.7M29.9 27.4h.7M26.7 27.6h.7M33.6 25.4h.7M19.8 27.9h.7M20.2 32.5h.7M26.2 27.8h.7M27.7 28.1h.7M29.6 31.4h.7M24.6 26.3h.7M26.9 26.8h.7M30.7 21.3h.7M20.8 27.7h.7M30 29.4h.7M32 32.7h.7M25.1 26.6h.7M29.5 29.4h.7M30.3 28.6h.7M25 35h.7M33 55.1h.7M33.5 45.2h.7M32.5 33.9h.7M32.2 47.9h.7M33.1 38.3h.7M35.2 31.2h.7M31.9 59.7h.7M31 60.8h.7M34.1 42.4h.7M33.6 55.6h.7M32.5 30.9h.7M31.9 37.1h.7M32.5 30.8h.7M33.6 56.2h.7M31.6 31.8h.7M32.6 58h.7M33.1 40.5h.7M34.5 49.8h.7M32.1 50.3h.7M33.3 36.9h.7M36.5 42.3h.7M32.5 33.7h.7M32.8 36.7h.7M31.4 44.6h.7M32.1 52.3h.7M35.4 44.1h.7M34.2 32.2h.7M31.4 45h.7M34.5 52.6h.7M31.8 37.9h.7M31.3 45.1h.7M34.9 34.9h.7M32.1 32.4h.7M34.3 37.9h.7M33.1 42.6h.7M34.2 54.9h.7M31.3 53.4h.7M36.6 31.7h.7M35.5 55.3h.7M34.3 31.7h.7M33.5 59.3h.7M31.6 37.3h.7M30.1 50.2h.7M33.1 58.9h.7M34.1 31.1h.7M36.4 53.9h.7M35.6 52.4h.7M33.5 36.3h.7M32.4 46.3h.7M33.9 33.8h.7M30.1 58.8h.7M34.3 30.6h.7M31.7 55.9h.7M31.7 46h.7M31.8 55.2h.7M35 32.9h.7M33.8 39.5h.7M35.7 42.8h.7M33.3 31.2h.7M33.8 56.1h.7M31.7 34.3h.7M33.6 50.6h.7M34.7 33.9h.7M31.9 60.7h.7M32.8 33.4h.7M34.9 53.1h.7M30.8 33.6h.7M32.4 41.9h.7M35.6 35.1h.7M35.7 49.2h.7M32.9 30.7h.7M34.9 32.8h.7M34.7 49h.7M31.7 46.6h.7M33.6 49.4h.7M35.3 50.5h.7M32 55.1h.7M34.4 58.7h.7M31.2 31.4h.7M34.1 51.5h.7M31.9 57.6h.7M34.7 36.1h.7M32.6 52.3h.7M32.8 38.3h.7M34.5 40.5h.7M29.2 33.4h.7M34.7 50.7h.7M33.4 59.3h.7M33 53.8h.7M34.3 43.2h.7M33.6 31.1h.7M36.3 59h.7M33.5 40.7h.7M30.6 58h.7M32.5 55.1h.7M33.1 56h.7M32.2 40.2h.7M32.2 47.1h.7M34.2 60.3h.7M34.8 50.6h.7M34.6 47.1h.7M32.6 58.7h.7M33.8 51.8h.7M33.1 37.1h.7M33.4 39.4h.7M33.1 38.5h.7M34.1 52.6h.7M33.1 44h.7M32.3 51.7h.7M30.9 53.8h.7M33.2 38.2h.7M33.6 51.9h.7M33 37h.7M37.1 50.4h.7M32.1 48.8h.7M31.5 52h.7M33.7 39.9h.7M33.4 30.9h.7M33.7 41.7h.7M33.8 45.8h.7M32.7 60.5h.7M32.1 54.3h.7M34.2 36h.7M33.9 43.1h.7M30.9 51.8h.7M34 33.4h.7M31.6 59.3h.7M35.6 31.4h.7M33.6 56.1h.7M36.1 55.3h.7M33.2 51.2h.7M33.4 36.4h.7M34.4 58.5h.7M35 48.6h.7M33.6 50.9h.7M34 33.5h.7M31.6 60.9h.7M34.7 48.1h.7M33.4 37.4h.7M33.3 56.8h.7M34.6 34.5h.7M32.9 52.8h.7M33.5 34.8h.7M32.1 41.8h.7M34.1 46.7h.7M33.9 55.1h.7M31.3 39.3h.7M34.9 37.4h.7M33.5 36.5h.7M34.6 41.8h.7M30.2 50.3h.7M33.7 32.1h.7M33.8 51h.7M32.3 31.4h.7M34.4 44h.7M34.3 52.5h.7M34.5 33.4h.7M34.4 35.9h.7M32.5 37.6h.7M33.5 32.6h.7M29.7 41.7h.7M33.9 47.6h.7M33.6 32.7h.7M35.6 47.9h.7M36.1 57.4h.7M32.5 33.9h.7M32.1 59.7h.7M33 35.8h.7M33.3 57.2h.7M6.9 58.8h.7M12 52.3h.7M1.9 42.9h.7M8.3 34.5h.7M17.2 39.7h.7M3.1 60.9h.7M12.5 33.6h.7M13.4 28.3h.7M12.2 52.6h.7M14 35.4h.7M13 48h.7M16.9 32.4h.7M20.9 59.6h.7M19.2 56.6h.7M9.6 58.1h.7M4.7 35.2h.7M15.5 58.1h.7M2.1 34.9h.7M.9 42.4h.7M3.7 34h.7M19.5 47.3h.7M24.4 41.1h.7M17.7 27.9h.7M24.7 35.4h.7M12.4 44.8h.7M24.7 44.2h.7M25.8 48.6h.7M5.6 55.8h.7M11.9 35.2h.7M25 38.4h.7M10.6 39.1h.7M17.4 28.3h.7M9.7 33h.7M21.5 27.5h.7M15.8 36.2h.7M11.8 46.5h.7M18.5 32.2h.7M6.3 31.6h.7M25 32.6h.7M3.6 45.2h.7M15.1 57.6h.7M1.5 35.4h.7M4.4 47.4h.7M11.8 41.4h.7M23.1 49.9h.7M22.4 59.9h.7M7 59.4h.7M10.6 29.2h.7M23.8 31h.7M.5 37.3h.7M7.5 60.3h.7M22.6 41.7h.7M13.8 56.3h.7M21 49.7h.7M13.3 31.5h.7M6.3 49.8h.7M15.2 54.7h.7M23.4 60.1h.7M7.6 25.5h.7M35.4 44.7h.7M7.2 49.5h.7M10.1 31.8h.7M14.4 42.9h.7M26.7 25.4h.7M29.2 46.8h.7M18.6 48.7h.7M31.5 23h.7M18.7 48.9h.7M27.9 47.7h.7M7.1 59.8h.7M31 31.6h.7M17 59.8h.7M8.2 38.5h.7M37.9 57.5h.7M9.2 51.1h.7M14.2 48.3h.7M30.2 27.5h.7M8.8 30.9h.7M10.5 24h.7M5.4 38.4h.7M16.6 25.6h.7M22.9 59.2h.7M22.7 36.4h.7M27.8 39.6h.7M6.9 41.3h.7M.7 48.8h.7M6.3 36.9h.7M37.9 52.4h.7M32.9 47.5h.7M25 49.9h.7M38.1 30.2h.7M30.2 34.3h.7M10.1 54.5h.7" stroke="#000" stroke-opacity="0.55" stroke-width="0.7" fill="none"/>
<g filter="url(#b3)"><path d="M82 116.4L99 118.9L99 123.3L82 120.8z" fill-opacity="0.95"/><path d="M99 118.9L112 122L112 125.5L99 123.3z" fill-opacity="0.475"/><ellipse cx="114" cy="123" rx="3.5" ry="7.5" transform="rotate(37 114 123)"/></g>
<rect x="82" y="170" width="57.4" height="62.6" fill="none" stroke="#9c9c9c" stroke-width=".7"/>
<line x1="102.4" y1="170" x2="102.4" y2="232.6" stroke="#9c9c9c" stroke-width="0.7"/>
<line x1="82" y1="205.5" x2="139.4" y2="205.5" stroke="#9c9c9c" stroke-width="0.7"/>
<line x1="82" y1="170" x2="82" y2="232.6" stroke="#7a7a7a" stroke-width="0.9"/>
<line x1="82" y1="232.6" x2="139.4" y2="232.6" stroke="#8a8a8a" stroke-width="0.8"/>
<line x1="82" y1="233.4" x2="82" y2="234.8" stroke="#aaa" stroke-width="0.6"/>
<text x="82" y="237.2" font-size="2.4" text-anchor="middle" fill="#888">10</text>
<line x1="96.3" y1="233.4" x2="96.3" y2="234.8" stroke="#aaa" stroke-width="0.6"/>
<text x="96.3" y="237.2" font-size="2.4" text-anchor="middle" fill="#888">10</text>
<line x1="110.7" y1="233.4" x2="110.7" y2="234.8" stroke="#aaa" stroke-width="0.6"/>
<text x="110.7" y="237.2" font-size="2.4" text-anchor="middle" fill="#888">10</text>
<line x1="125.1" y1="233.4" x2="125.1" y2="234.8" stroke="#aaa" stroke-width="0.6"/>
<text x="125.1" y="237.2" font-size="2.4" text-anchor="middle" fill="#888">10</text>
<line x1="139.4" y1="233.4" x2="139.4" y2="234.8" stroke="#aaa" stroke-width="0.6"/>
<text x="139.4" y="237.2" font-size="2.4" text-anchor="middle" fill="#888">10</text>
<text x="80.4" y="169" font-size="3" font-weight="bold" text-anchor="end" fill="#6a6a6a">10</text>
<text x="80.4" y="184.7" font-size="3" font-weight="bold" text-anchor="end" fill="#6a6a6a">10</text>
<text x="80.4" y="200.3" font-size="3" font-weight="bold" text-anchor="end" fill="#6a6a6a">10</text>
<text x="80.4" y="215.9" font-size="3" font-weight="bold" text-anchor="end" fill="#6a6a6a">10</text>
<text x="80.4" y="231.6" font-size="3" font-weight="bold" text-anchor="end" fill="#6a6a6a">10</text>
<text x="78" y="206.3" font-size="2.7" transform="rotate(-90 78 206.3)" fill="#666">CD4 PE</text>
<text x="110.7" y="239.6" font-size="2.6" text-anchor="middle" fill="#777">CD8</text>
<g filter="url(#b2)"><path d="M82 189L104 189.7L110 194.5L104 198.3L82 195.1z" fill-opacity="0.18"/><ellipse cx="112.2" cy="195.5" rx="5" ry="8.5" fill-opacity="0.28" transform="rotate(55 112.2 195.5)"/></g>
<path transform="translate(82 170)" d="M14.4 22.2h.7M20.4 23.2h.7M4.8 19.8h.7M.4 18.7h.7M6.5 20.8h.7M1.7 22.1h.7M16.7 21.6h.7M17.1 22.8h.7M23.7 22.6h.7M22.4 21.9h.7M23.3 22.6h.7M12.5 22.6h.7M7.7 19.8h.7M6.2 22.2h.7M1.3 21.9h.7M2.2 21.6h.7M15 21.2h.7M19 20.5h.7M17.5 20.7h.7M4.5 22.7h.7M22.3 21.3h.7M3.7 21h.7M16.6 19.8h.7M5.5 22.9h.7M19.1 21.9h.7M14.1 20.9h.7M4.6 20.5h.7M19 19h.7M5.5 23.1h.7M13.6 22.8h.7M3.3 21.9h.7M2.6 23.1h.7M15.2 21.6h.7M10.2 22.6h.7M12.8 21.4h.7M17.4 21.2h.7M5.3 20.7h.7M16.6 23.7h.7M14.8 22.4h.7M7.5 20.7h.7M15.9 21.5h.7M5.4 22.2h.7M18.5 22.8h.7M23 19.6h.7M19.1 21.2h.7M17.3 22.9h.7M1.3 20.6h.7M1.2 20.7h.7M12.3 23.5h.7M21.1 24.6h.7M11.1 21.7h.7M12.2 22.2h.7M12.5 19.9h.7M12.7 23.3h.7M18.6 22.1h.7M9.3 21.7h.7M11.6 21.4h.7M5.3 23.5h.7M7.6 18.9h.7M18.5 22h.7M8.9 18.1h.7M22.4 22.9h.7M14.8 22.9h.7M15.3 22.6h.7M6.7 25.5h.7M21.8 22.8h.7M3.1 19.1h.7M7.2 21.8h.7M1.6 21.2h.7M10.5 18.8h.7M2.1 20.6h.7M23.1 22.2h.7M1.2 20.5h.7M3.2 23.7h.7M2.6 22h.7M12.8 21.9h.7M20 22.2h.7M18.4 22.5h.7M10.2 21h.7M5.8 21.9h.7M23.3 22.7h.7M17.8 22.4h.7M21.4 23.2h.7M23 20.8h.7M14.5 21.1h.7M17.2 23.3h.7M17.6 22.3h.7M23 22.5h.7M2.6 21.7h.7M6 20h.7M6.1 16.7h.7M3.6 22.1h.7M20.5 21.3h.7M17.9 22.5h.7M8.2 22h.7M19.7 23.2h.7M20.7 21.5h.7M18.3 21.5h.7M14.6 24.6h.7M7.8 19.1h.7M20.4 22.2h.7M8.8 20.3h.7M9 20.5h.7M2.6 22.4h.7M5.5 22.6h.7M15.3 20.7h.7M21.3 21.8h.7M22.1 20.6h.7M19.3 24.1h.7M18.1 21.5h.7M19.5 21.6h.7M9.1 23.6h.7M20.2 23h.7M8.1 22.8h.7M19.7 20h.7M20.3 24.1h.7M21.1 24.1h.7M17.9 24.4h.7M16.2 21.3h.7M20.9 21.3h.7M13.1 20.2h.7M18.8 22h.7M18.8 22.4h.7M8.2 20.6h.7M6 22.4h.7M.6 21.9h.7M19.1 21.8h.7M1.6 21.7h.7M17.8 22.2h.7M22.2 26.1h.7M27.4 26.1h.7M25.2 23.3h.7M28.6 19.2h.7M26.5 25h.7M21 25.6h.7M18.4 20.8h.7M24.6 25.2h.7M23.3 21.1h.7M22.4 26.1h.7M19.7 20.8h.7M21.7 19.5h.7M26 28.6h.7M18.6 23.6h.7M24.7 23.5h.7M22.6 23.1h.7M18.2 20.6h.7M23.8 25.5h.7M21.6 19.6h.7M19.9 23.1h.7M19.8 18.9h.7M28.5 26.8h.7M21.9 23.4h.7M26.2 25.5h.7M20.9 22.7h.7M21.3 23.2h.7M24.1 22.2h.7M23.5 23h.7M29.4 23.2h.7M30 20.5h.7M19.4 21.6h.7M28.8 20.5h.7M28.3 23h.7M21.7 24.9h.7M17.3 22.2h.7M23.5 27.8h.7M29.4 21.3h.7M23.6 26.5h.7M18.9 21.9h.7M25.2 24.7h.7M24.8 21.5h.7M20.4 22.9h.7M23.7 26.2h.7M23.1 23.8h.7M21.4 23.6h.7M26.3 24h.7M20.3 21.5h.7M23.7 25.2h.7M28.8 27.2h.7M19.6 19.9h.7M26.7 22.1h.7M26.3 23.5h.7M27.9 22.4h.7M29 29.8h.7M22.8 25.5h.7M18.1 26.9h.7M25.8 25.8h.7M18.8 19.8h.7M30 25.3h.7M21.4 23.6h.7M19.6 21.4h.7M19.1 20.3h.7M20.9 25.2h.7M19.1 23.4h.7M19.5 24.2h.7M21.1 21.9h.7M23.2 23.6h.7M22.7 26.3h.7M29.3 23.9h.7M23.1 24.7h.7M18.9 26.2h.7M19.2 26.5h.7M29.6 26.1h.7M22.2 22h.7M21.6 25.5h.7M26 22.9h.7M28.2 25.1h.7M24.4 28.5h.7M26.5 24.2h.7M21.6 19.8h.7M22.2 19.6h.7M22.6 22.7h.7M25.6 26.8h.7M26.6 25.3h.7M21.8 23h.7M28.1 25h.7M25.8 20.9h.7M21.4 26.3h.7M22.2 22.5h.7M19.4 27h.7M27.4 27.5h.7M17.3 21.7h.7M23.4 26.1h.7M21.7 25.2h.7M23.9 22.4h.7M29.1 22.6h.7M21.3 21.3h.7M22 20.2h.7M20.4 20.6h.7M21.8 21.7h.7M28.9 25.8h.7M24 23.4h.7M27.7 26.3h.7M19.1 23h.7M19.5 22.7h.7M17.8 23.5h.7M20 22h.7M17.7 22.7h.7M26.4 27.9h.7M28.8 27.2h.7M29 23.3h.7M18.2 25.3h.7M19.5 22h.7M26.7 25.6h.7M18.2 21.2h.7M28.3 24.3h.7M29.7 21.2h.7M17.5 24.1h.7M17.3 23.4h.7M26.2 23.2h.7M19.1 22.3h.7M19.4 20.4h.7M29.6 22.1h.7M21.7 26h.7M22.1 23.2h.7M20.3 24h.7M29.9 30.9h.7M26.2 24.7h.7M19 24.5h.7M21.6 23.4h.7M23.9 22.9h.7M25.8 26.5h.7M27.3 24.7h.7M24.5 19.1h.7M24.8 25.3h.7M21.4 18.9h.7M28.2 27.7h.7M28.9 23.1h.7M19.3 22.7h.7M22 23.4h.7M22.5 25.8h.7M22 25.8h.7M22.3 26.1h.7M11.6 24.1h.7M20.4 22.5h.7M11.4 33.8h.7M26 24.1h.7M17.2 24.8h.7M7.5 28.9h.7M25.3 27.6h.7M23 20.7h.7M27.7 25h.7M21.2 23.5h.7M7.3 24.7h.7M24 24.9h.7M13.7 25h.7M2.3 33.3h.7M26 26.2h.7M21.3 24.3h.7M16.1 29.7h.7M12 23.8h.7M26.1 30.8h.7M2.9 29h.7M7.7 31h.7M12.4 30.3h.7M20.3 25.9h.7M18.2 31.3h.7M2.7 21h.7M6 26.3h.7M18.3 25.6h.7M25.8 29.1h.7M26.4 29.5h.7M16 26.1h.7M22.6 26.3h.7M24.2 22.6h.7M11.2 29.5h.7M3.3 25h.7M21 29.1h.7M1.5 29.9h.7M27.7 21h.7M3.7 24.8h.7M17.8 24.4h.7M22.8 27.8h.7M.9 24.7h.7M23.8 26.3h.7M25 29.6h.7M13.1 26.9h.7M20.1 25.7h.7M26.1 23.2h.7M5.2 29.9h.7M3.4 30.5h.7M5.2 23.2h.7M4.6 26.1h.7M26 20.6h.7M7 27h.7M25.6 27.4h.7M17.2 33h.7M27.2 26.7h.7M14.9 21.6h.7M23.9 24.7h.7M25.6 26.6h.7M22.6 23.9h.7M6.5 21.3h.7M13 29.7h.7M25.9 18.8h.7M4.5 24.5h.7M11.3 22.4h.7M4.7 28.4h.7M13.8 28.8h.7M7.5 23.4h.7M21.3 29.1h.7M16.5 29.6h.7M10.3 31.8h.7M26.9 27.8h.7M16.3 25.9h.7M27.1 23.1h.7M8.8 28.8h.7M.8 26.6h.7M8 27.7h.7M17.6 18.9h.7M28 22.7h.7M28.2 28.8h.7M29.7 17.1h.7M29.4 22.4h.7M28.4 21.6h.7M29.4 26.6h.7M30.7 25.3h.7M31 28.6h.7M31.5 25.2h.7M35.1 29.1h.7M35.6 21.3h.7M26.7 34h.7M26.5 21.5h.7M26.4 25.1h.7M31.2 15.5h.7M35.2 22.2h.7M35.3 27.7h.7M31.4 27.9h.7M28.6 24.3h.7M30.7 24.7h.7M33.2 24.8h.7M29.8 26.6h.7M30.1 27.2h.7M28.4 19.8h.7M39.1 19.4h.7M34.2 30.2h.7M33.8 25.7h.7M31 23.9h.7M28.5 26h.7M33.8 19.3h.7M24 35.4h.7M30.8 20.3h.7M27.7 27.1h.7M35.8 20.8h.7M30.2 26.2h.7M29.7 25.3h.7M32.8 26.8h.7M34.9 24.7h.7M29.3 19.3h.7M31.1 20.6h.7M29.9 23.4h.7M31 27.5h.7M32.5 24.5h.7M36.9 24.3h.7M37.5 24.1h.7M32.7 20.5h.7M31.7 20.9h.7M36.2 24.9h.7M36.2 26h.7M28 15.8h.7M31.1 22.2h.7M29.9 25.4h.7M31.8 23.2h.7M32.5 21.8h.7M28.3 22.4h.7M35 26.5h.7M30.2 25.7h.7M33.6 20.4h.7M37.9 23h.7M27.7 24.6h.7M32.1 29h.7M35.8 22.7h.7M29.6 23.1h.7M30.4 20.7h.7M31.1 28.7h.7M34.6 23.1h.7M27.2 26.6h.7M35.6 19.2h.7M33.2 30.5h.7M35.2 26.6h.7M31.3 22.1h.7M32.5 28.7h.7M33.9 27.2h.7M31.1 23.5h.7M36.2 24.6h.7M34.6 22.6h.7M27.9 24.8h.7M32.3 13.4h.7M28.4 25.4h.7M30.4 19.8h.7M31.1 25.8h.7M36 17.5h.7M31.4 21.8h.7M38.9 25.6h.7M27.7 26.6h.7M34.2 27.8h.7M34.9 22.5h.7M27 25.1h.7M31 22.6h.7M25.2 26.4h.7M33.2 28.5h.7M32.7 23.4h.7M28.1 22.8h.7M28.1 23.3h.7M28.5 27.8h.7M30.7 25.6h.7M31.2 22.9h.7M24.5 22.6h.7M29.7 28h.7M27.3 26.6h.7M33.4 23.9h.7M30.9 27.2h.7M32 32.5h.7M23.1 20.7h.7M38 25.6h.7M24.6 15.9h.7M26.5 18.6h.7M24.7 21.8h.7M30.3 19.9h.7M30.7 22.2h.7M34 19.2h.7M30.9 24.5h.7M33.9 19.7h.7M31.1 19.4h.7M33.7 25.8h.7M35 23h.7M37 22.2h.7M25.5 21.3h.7M30.9 27.8h.7M29.4 21.9h.7M33.2 19.4h.7M34.3 25.7h.7M27.7 23.7h.7M28.9 20.8h.7M32.2 22.8h.7M34.2 24.2h.7M25.7 24.7h.7M33.6 25.1h.7M26.4 21.7h.7M26.9 23h.7M28.7 27.2h.7M32.4 33h.7M33 18.7h.7M30.4 30.4h.7M29.9 24.4h.7M34.3 29h.7M35 23.7h.7M27.3 22.1h.7M33.2 18.3h.7M31.6 29.5h.7M27.2 26.6h.7M28.5 21.2h.7M32.6 26.3h.7M30.9 25.6h.7M33.5 30.2h.7M28.1 20.6h.7M37 26.9h.7M28.9 26.2h.7M36.7 22.7h.7M32.4 27.2h.7M29.1 20.1h.7M33.9 24h.7M31.9 21.3h.7M33.3 27.5h.7M31.4 24.2h.7M28.1 21.8h.7M26.9 24.3h.7M31.8 21.7h.7M27 23.3h.7M33.4 28.8h.7M25.3 24.5h.7M35.7 21.2h.7M29.8 27.1h.7M31.9 21h.7M27.6 22.2h.7M31.1 24.7h.7M34.1 21h.7M32.8 25.5h.7M30.2 26.7h.7M31 25.7h.7M29.2 21h.7M29.5 30.2h.7M32.6 25.1h.7M28.7 24.7h.7M27.4 25.2h.7M31.1 22.1h.7M32.9 19.6h.7M27 26.5h.7M27.6 19.1h.7M35.2 26.2h.7M32.8 24.1h.7M27.5 25.6h.7M31.1 21.6h.7M31.8 25.6h.7M31.2 26.9h.7M33 20.1h.7M32.9 22.6h.7M36.3 13.9h.7M30.2 26.1h.7M34.8 20.5h.7M31.3 25.6h.7M29.4 26.4h.7M29 21.5h.7M35.2 21.3h.7M30.1 31.7h.7M35.5 22.8h.7M32.4 21.5h.7M27.7 22.5h.7M33.9 25.8h.7M28.6 16.2h.7M33.5 24.9h.7M31.8 29.5h.7M33.5 25.2h.7M25.6 25.1h.7M30.5 27.9h.7M25.1 28.5h.7M26 26.9h.7M28.1 28.5h.7M38 25h.7M24.1 23.4h.7M29.1 27.6h.7M31.1 24h.7M24.6 26.7h.7M34.2 29.9h.7M32.7 28.8h.7M32.8 25.4h.7M33.2 29.4h.7M32.1 25.7h.7M27.7 25.3h.7M34.1 22.8h.7M27.6 27.8h.7M24.4 27.6h.7M32.8 29h.7M24.9 27.1h.7M25.6 19h.7M32 29h.7M24.3 30.5h.7M32.1 34.3h.7M30.7 32.1h.7M28 26.3h.7M35.9 29.7h.7M35.1 26.4h.7M28.9 29.7h.7M26.5 29.4h.7M24.2 20.8h.7M27.5 29h.7M36.4 26.6h.7M29.7 26.4h.7M30.1 31h.7M31.2 28.4h.7M30.5 26.3h.7M31.8 33.1h.7M25.2 33.6h.7M21.1 21.7h.7M31.4 25.6h.7M37.1 28.9h.7M23.6 27.2h.7M30.6 30.6h.7M26.9 22.2h.7M24.4 30.1h.7M33.4 21.5h.7M30.4 25h.7M29.7 29.5h.7M28.2 26.8h.7M22.2 27.1h.7M34.5 25.2h.7M30.6 28.6h.7M37.7 24.4h.7M32.2 26.3h.7M29 27.1h.7M23 29.1h.7M26.6 27.7h.7M32.2 26.5h.7M23.8 23.8h.7M31.4 31.1h.7M35.6 23.3h.7M29.8 27.5h.7M26.7 26.5h.7M25.7 27.5h.7M27.5 26.3h.7M34 23.9h.7M29.4 25h.7M27.8 26.8h.7M29.1 27.7h.7M26.4 29h.7M25 23.4h.7M26 30.9h.7M33.4 25.3h.7M35.9 28.1h.7M23.7 28.4h.7M25.5 23.3h.7M21.1 27.6h.7M30.5 23.8h.7M31.3 28.3h.7M31.1 29.1h.7M26.3 28.2h.7M30.8 25.2h.7M27.9 23.1h.7M29.7 23.5h.7M30.6 27.3h.7M28.4 28.9h.7M28 32.3h.7M30.5 23.4h.7M27.1 28.1h.7M35.1 25.2h.7M34.4 27.6h.7M33.7 25.2h.7M26.2 25.8h.7M29.2 24h.7M24.7 29.3h.7M32.7 26.8h.7M27.3 30.4h.7M22.8 29.3h.7M29.8 29.1h.7M30.4 30.2h.7M31.2 27h.7M32 24h.7M29.8 28.2h.7M23.4 28.7h.7M30.7 29.9h.7M29.2 30.8h.7M32.5 29h.7M17.3 27.2h.7M30 27.1h.7M25.3 29.9h.7M27.5 26.5h.7M30.3 30.6h.7M27.6 23.8h.7M30.4 27.7h.7M22.3 25h.7M29.3 21.4h.7M33.2 23.1h.7M31.9 23.7h.7M27.5 24.9h.7M27.8 21h.7M26.5 29.7h.7M30.7 33.5h.7M22.2 31.5h.7M29.4 22.8h.7M23.9 25.3h.7M29.4 25.4h.7M34.4 26.7h.7M26.6 24.1h.7M24.9 26.6h.7M28.4 24.4h.7M30.1 24.6h.7M27.1 30.3h.7M32.9 25.7h.7M35.2 25.6h.7M33.2 27.6h.7M27.3 26.9h.7M27.7 27.7h.7M28.7 26.5h.7M25.6 28.4h.7M32.3 23.7h.7M29 29.8h.7M32 24.4h.7M38 24.5h.7M31.6 28.2h.7M38.4 25h.7M35.1 57.2h.7M33.2 43.1h.7M32 34h.7M30.3 31.9h.7M34.2 37h.7M33.3 44.6h.7M32 35.4h.7M30 47.2h.7M34.8 59.3h.7M31.8 38.1h.7M32.6 31.6h.7M34.3 44.8h.7M32.6 49.3h.7M36.3 53.3h.7M34.5 34h.7M33.1 40.2h.7M32.9 42.6h.7M32.9 34.6h.7M33.2 35.4h.7M33.8 37.6h.7M33.5 36.7h.7M35 47.1h.7M35.3 43.9h.7M33.4 38.6h.7M36.1 32h.7M36.2 54.3h.7M35.3 43.6h.7M33.7 49.7h.7M32.7 32.6h.7M31.2 52.8h.7M31.9 39.4h.7M33.8 46.5h.7M34.7 39.5h.7M32.8 49.3h.7M34.3 51.1h.7M33.8 33.2h.7M31.5 37.8h.7M31.4 34.2h.7M33.1 53.6h.7M30.5 42.5h.7M34.9 39.3h.7M36.8 62h.7M30.3 60.8h.7M34 38.8h.7M31.3 37h.7M31 48.4h.7M33.8 33.1h.7M32.5 38.8h.7M33.8 50.3h.7M34.8 53.4h.7M32.8 33.6h.7M32.6 45.8h.7M33 51.3h.7M32.8 36.6h.7M32 61.3h.7M34.2 42.5h.7M33.1 52.8h.7M31 43.4h.7M32.2 48.8h.7M33.1 61h.7M34 61.5h.7M28.6 45.4h.7M33.3 57.4h.7M35.7 53.5h.7M34.7 60.6h.7M30.5 39.1h.7M31.9 55.8h.7M33.4 42.3h.7M34.8 56.1h.7M30.8 52h.7M34.3 36h.7M34.8 37.3h.7M33.9 41.3h.7M33.7 53.5h.7M34 37.7h.7M32.1 57.7h.7M33 40.2h.7M34.7 30.9h.7M33 44.5h.7M33.4 58.2h.7M37 42.5h.7M33.2 37.8h.7M33.9 38.6h.7M33.3 53.3h.7M32.1 49.2h.7M33.2 39.7h.7M30.1 61.6h.7M36.5 59h.7M33.4 34.5h.7M32.9 53.3h.7M32.6 56.5h.7M31.4 56.6h.7M32.1 35.5h.7M32.9 43.3h.7M32.7 36.6h.7M31.3 55.5h.7M30.4 50.7h.7M31.2 56.6h.7M31.6 48.7h.7M36.3 42.4h.7M32 33.8h.7M35.2 60.4h.7M31.4 51.2h.7M30.2 55.5h.7M30.7 44.8h.7M33.8 40.7h.7M31.2 34h.7M31.3 38.5h.7M33.8 52.4h.7M32.7 34.9h.7M31.3 46.3h.7M33.8 44.8h.7M31.2 36.1h.7M33.5 61.7h.7M33.7 45h.7M31.7 31.1h.7M33.4 61.1h.7M34.7 43.8h.7M15.2 35.8h.7M7.9 44.8h.7M10.3 50.2h.7M13.1 38.8h.7M5.3 39.3h.7M.3 30.8h.7M1.4 42.3h.7M21.7 52h.7M25.1 56.9h.7M15.2 47.9h.7M.3 41h.7M6.8 49.3h.7M1.7 46.5h.7M9.8 44.8h.7M10.5 31.1h.7M19 55.6h.7M15.6 31.6h.7M15.6 58.1h.7M25.7 54.1h.7M1.2 58.3h.7M17.3 37.2h.7M23.9 56.5h.7M23.3 36.2h.7M15 40.8h.7M7.7 54.2h.7M16 39.1h.7M14.1 60.1h.7M14.7 59.6h.7M.8 43.6h.7M14.4 53h.7M25.2 49.4h.7M12.4 49.8h.7M13.9 52.2h.7M24.6 28h.7M8.3 58.3h.7M1.6 55.2h.7M.8 50.3h.7M20.8 35.9h.7M9.9 35.4h.7M18.3 46.1h.7M15.7 38.9h.7M15.3 61h.7M20.3 60.9h.7M6.4 45.6h.7M10 39.6h.7M20.9 33.6h.7M14.5 54.7h.7M24.3 28.2h.7M7 44.8h.7M24.3 33.2h.7M21.9 41.4h.7M14.2 60.1h.7M1.7 39.1h.7M4.1 32.2h.7M7.9 52.1h.7M15.1 31.8h.7M20.8 45.3h.7M3.7 56.3h.7M32.3 32.2h.7M37 55.2h.7M9 23.8h.7M34.2 55.9h.7M3.8 53.5h.7M30.5 48.4h.7M32.8 62h.7M12.9 56.2h.7M36.3 36h.7M26.9 50.4h.7M33.4 45.8h.7M10.9 33.6h.7M21.4 29.1h.7M33.9 58.3h.7M9.5 50.9h.7M26.5 28.5h.7M30.7 53.5h.7M12.1 27.6h.7M11.1 53.7h.7M18.4 55.4h.7M6.3 27.9h.7M13.8 57.9h.7M6.4 26.6h.7M29.7 27.3h.7M26.3 27h.7M9.7 49.5h.7M34.4 39.7h.7M17.7 25h.7M13.4 33.2h.7M31.1 51.5h.7M30.9 44.4h.7M27.6 28.7h.7M15.2 35.2h.7M11.1 52.5h.7M8.4 36.4h.7" stroke="#000" stroke-opacity="0.55" stroke-width="0.7" fill="none"/>
<g filter="url(#b3)"><path d="M82 189L99 189.5L99 193.1L82 192.6z" fill-opacity="0.5"/><path d="M99 189.5L112 192L112 195.5L99 193.1z" fill-opacity="0.25"/><ellipse cx="114" cy="193" rx="4.1" ry="7.8" transform="rotate(55 114 193)"/></g>
<rect x="82" y="243.4" width="57.4" height="62.6" fill="none" stroke="#9c9c9c" stroke-width=".7"/>
<line x1="102.4" y1="243.4" x2="102.4" y2="306" stroke="#9c9c9c" stroke-width="0.7"/>
<line x1="82" y1="278" x2="139.4" y2="278" stroke="#9c9c9c" stroke-width="0.7"/>
<line x1="82" y1="243.4" x2="82" y2="306" stroke="#7a7a7a" stroke-width="0.9"/>
<line x1="82" y1="306" x2="139.4" y2="306" stroke="#8a8a8a" stroke-width="0.8"/>
<line x1="82" y1="306.8" x2="82" y2="308.2" stroke="#aaa" stroke-width="0.6"/>
<text x="82" y="310.6" font-size="2.4" text-anchor="middle" fill="#888">10</text>
<line x1="96.3" y1="306.8" x2="96.3" y2="308.2" stroke="#aaa" stroke-width="0.6"/>
<text x="96.3" y="310.6" font-size="2.4" text-anchor="middle" fill="#888">10</text>
<line x1="110.7" y1="306.8" x2="110.7" y2="308.2" stroke="#aaa" stroke-width="0.6"/>
<text x="110.7" y="310.6" font-size="2.4" text-anchor="middle" fill="#888">10</text>
<line x1="125.1" y1="306.8" x2="125.1" y2="308.2" stroke="#aaa" stroke-width="0.6"/>
<text x="125.1" y="310.6" font-size="2.4" text-anchor="middle" fill="#888">10</text>
<line x1="139.4" y1="306.8" x2="139.4" y2="308.2" stroke="#aaa" stroke-width="0.6"/>
<text x="139.4" y="310.6" font-size="2.4" text-anchor="middle" fill="#888">10</text>
<text x="80.4" y="242.4" font-size="3" font-weight="bold" text-anchor="end" fill="#6a6a6a">10</text>
<text x="80.4" y="258.1" font-size="3" font-weight="bold" text-anchor="end" fill="#6a6a6a">10</text>
<text x="80.4" y="273.7" font-size="3" font-weight="bold" text-anchor="end" fill="#6a6a6a">10</text>
<text x="80.4" y="289.4" font-size="3" font-weight="bold" text-anchor="end" fill="#6a6a6a">10</text>
<text x="80.4" y="305" font-size="3" font-weight="bold" text-anchor="end" fill="#6a6a6a">10</text>
<text x="78" y="279.7" font-size="2.7" transform="rotate(-90 78 279.7)" fill="#666">CD4 PE</text>
<text x="110.7" y="313" font-size="2.6" text-anchor="middle" fill="#777">CD8</text>
<g filter="url(#b2)"><path d="M82 261.7L104 262.4L110 266.7L104 270L82 266.8z" fill-opacity="0.18"/><ellipse cx="112.8" cy="267.5" rx="5" ry="8.5" fill-opacity="0.28" transform="rotate(52 112.8 267.5)"/></g>
<path transform="translate(82 243.4)" d="M6.8 18.5h.7M20.7 19.7h.7M9.1 19.2h.7M22.1 21.7h.7M13.6 19.9h.7M20.7 20.5h.7M2.5 20.8h.7M12 20.3h.7M10.4 19.6h.7M23.8 19.5h.7M20.1 20.6h.7M21.4 20.1h.7M15.3 20.8h.7M17.8 21.9h.7M7.4 19.4h.7M12.4 20h.7M11.2 21.4h.7M21.9 22.7h.7M11.5 18.8h.7M23.1 22.2h.7M15.4 22.3h.7M20.9 17.6h.7M.6 21.7h.7M20.3 21h.7M19.9 19.5h.7M5.1 20.1h.7M9.9 19h.7M4.7 20.6h.7M2.1 18.3h.7M23.5 20.8h.7M10 21.3h.7M13.8 22.4h.7M15.2 18.7h.7M8.8 20.5h.7M12.5 20.5h.7M14 17.3h.7M9.9 21.2h.7M8.4 19.6h.7M22.5 20.9h.7M14.2 19.2h.7M6 19.8h.7M7.6 18.9h.7M23.5 20.7h.7M13.5 20.4h.7M3.8 20.4h.7M8.3 20.6h.7M5.7 17.8h.7M18.7 19.2h.7M12.8 20.8h.7M1 21.4h.7M16.5 21.1h.7M9.1 22h.7M7.2 19.1h.7M1.6 18.4h.7M5.4 19.5h.7M1.1 19.6h.7M17.7 20.5h.7M15 20.1h.7M5.6 21.2h.7M4.5 20.9h.7M10.9 22.1h.7M17.2 19.3h.7M14.3 22h.7M15.7 19.3h.7M4.6 20.9h.7M23.4 20h.7M15.3 19.2h.7M2.4 19.6h.7M20.2 21.2h.7M.3 17.8h.7M18.8 21.2h.7M17.3 20.2h.7M16.9 21.2h.7M7.2 19.9h.7M18.3 19.4h.7M13.8 21.6h.7M9.1 17.2h.7M23.7 22.9h.7M.7 20.1h.7M13.1 18.8h.7M7.6 21.3h.7M5 20.3h.7M18.1 19.1h.7M11.7 22.1h.7M5.2 20.5h.7M11.3 21.1h.7M16 20.4h.7M18.3 19.7h.7M17.6 19.5h.7M16.1 20.8h.7M14.3 21.6h.7M17.5 20.7h.7M8.2 21h.7M2.3 18.9h.7M13.9 21.8h.7M4.2 20h.7M18 19.9h.7M3.5 20.7h.7M12.4 20.8h.7M6.5 22h.7M6.8 18.4h.7M18 20h.7M6.1 18.7h.7M22.8 20.8h.7M7.9 20.1h.7M7.7 20.5h.7M21.6 21.7h.7M.6 20.4h.7M.3 19.1h.7M21.6 20.4h.7M2.8 20.7h.7M8.8 20.7h.7M6 20.6h.7M13.9 19.4h.7M12.6 20.6h.7M18.6 20.3h.7M22 19.6h.7M19 19.3h.7M7.9 19.7h.7M3.2 21.1h.7M2.4 19h.7M22.2 20.8h.7M16.8 20.2h.7M5.7 18h.7M8.4 19.7h.7M12 19.9h.7M15 19.7h.7M10.2 20.9h.7M17.1 20.3h.7M1 19.8h.7M3.6 20.6h.7M12.7 21.2h.7M2.3 21.7h.7M15 20.7h.7M5.2 19.6h.7M18.4 17.9h.7M8.1 20.6h.7M9.6 21.2h.7M23.2 20.3h.7M21.4 21h.7M22.6 21.9h.7M2.8 21.1h.7M18 18.9h.7M14.4 22.6h.7M2.5 21.6h.7M18.8 20.3h.7M16.4 19.4h.7M9.9 20.2h.7M22.4 20.2h.7M9.2 20.6h.7M19.5 19.3h.7M7.2 19.9h.7M11.7 20.2h.7M1.9 21h.7M10.2 18.9h.7M23.4 23.2h.7M2 19.1h.7M16.9 20.2h.7M.4 18.4h.7M22.2 19.2h.7M19.6 21h.7M6.6 22.6h.7M6.5 20.6h.7M1 22.3h.7M17.8 23.1h.7M5 21.5h.7M16 22.3h.7M14 21.1h.7M22.7 21.4h.7M23.9 20.8h.7M2.5 22h.7M17.6 19.8h.7M1 19.5h.7M11.8 19h.7M3.5 18h.7M3.2 19.8h.7M21 19.8h.7M5.7 20.5h.7M11 19.4h.7M21.4 19.4h.7M12.3 17h.7M5.2 19.8h.7M.4 19.5h.7M3 20.8h.7M10 22.6h.7M11.6 20.8h.7M21.1 20h.7M18.2 18.8h.7M7.2 20h.7M13.3 19.6h.7M14.3 20.4h.7M8.3 19.5h.7M19.8 21.5h.7M2.8 17.1h.7M19.7 25h.7M26.7 25.3h.7M25.4 23.2h.7M24.3 19.7h.7M29 21h.7M24.7 19.8h.7M23.4 22.6h.7M18.7 18.8h.7M22.5 20.1h.7M24.3 23.8h.7M21.7 20.3h.7M21.8 23.9h.7M29.6 23.6h.7M26.4 23.1h.7M22.1 19.3h.7M21.8 23.3h.7M20.1 26.9h.7M29.2 23.6h.7M20.7 20.1h.7M17.8 22.3h.7M28.6 24h.7M20.3 20.6h.7M26.1 23.6h.7M22 19.7h.7M20 23.5h.7M28.2 18.5h.7M18.5 16.1h.7M26.3 18.9h.7M23 22.9h.7M26.5 23.5h.7M17.9 23.1h.7M23.2 19.1h.7M28.6 26.1h.7M18.3 20.5h.7M24.7 21h.7M29.1 24h.7M26.5 24.1h.7M21.5 23.4h.7M24.4 21.4h.7M27.6 25.3h.7M19.4 21.6h.7M29.3 21.1h.7M29.4 21.7h.7M18.4 24.8h.7M22.3 19.9h.7M21.5 19.8h.7M17.4 23.9h.7M19.2 24.1h.7M21 18.4h.7M23.7 19h.7M20.3 20.4h.7M27.2 21.9h.7M19 21.7h.7M28.8 25.7h.7M19.2 22.4h.7M19.8 23.2h.7M21.3 19h.7M22.2 24.8h.7M23.2 19.1h.7M28.7 25.6h.7M22.5 24h.7M29.7 22.4h.7M23.8 21.5h.7M20.5 20h.7M18.8 23.6h.7M26.1 21.3h.7M23 20.8h.7M19.3 21.7h.7M21.4 21h.7M17 19h.7M26.2 22h.7M20.4 22.5h.7M19.8 23.4h.7M21.2 19.5h.7M20.2 21.6h.7M21.5 24.1h.7M27.3 23.8h.7M28.5 19.5h.7M25.5 23.3h.7M19.1 22.4h.7M20.4 17.7h.7M24.6 21.8h.7M22.6 22.7h.7M26.8 29.7h.7M21.4 28.7h.7M20.3 24h.7M28 25.6h.7M21.6 24.6h.7M28.6 22.8h.7M19.6 23.1h.7M27.5 26.4h.7M25.9 22.3h.7M20.7 22h.7M29.8 24.2h.7M17.6 20.1h.7M19.4 20.5h.7M22.7 24h.7M19.1 21.2h.7M25.2 21.1h.7M19.3 19.6h.7M28.4 24.2h.7M20.1 23h.7M23.7 19.5h.7M26.5 23.3h.7M28.6 22.4h.7M27.8 23.1h.7M17.2 21.2h.7M24.8 23.9h.7M27.2 24.3h.7M28.1 24.5h.7M26 25.6h.7M27.3 25.2h.7M22.3 24.3h.7M21.1 25.1h.7M18.7 23.2h.7M18.6 24h.7M22 19.4h.7M22.2 21.4h.7M27.4 24.8h.7M29.1 24.3h.7M28.2 26.6h.7M24 20.6h.7M27.2 21.9h.7M20.3 21.6h.7M18.3 23.3h.7M22.3 20.8h.7M24 25.6h.7M27.3 25.2h.7M27.3 24.5h.7M18.9 20.5h.7M26.9 22.1h.7M21.5 20.1h.7M19 23.3h.7M27.6 20.6h.7M21.4 21h.7M26.7 25.5h.7M28.5 20.8h.7M22.2 25.3h.7M28.2 23.2h.7M21.7 19.2h.7M7.7 29.2h.7M8.5 21.1h.7M2.4 27.7h.7M1.1 32.7h.7M22.7 20.9h.7M15.1 24.2h.7M11.5 23.6h.7M25.8 24.4h.7M2.9 28h.7M17.9 28.6h.7M22.6 22.3h.7M1.4 18h.7M4.3 30.4h.7M14.9 25.1h.7M14.8 23h.7M25.2 24.8h.7M13.4 21.7h.7M7.8 30.3h.7M19.1 23.5h.7M8.5 24.5h.7M22.4 21.2h.7M10.2 28.5h.7M12.6 21.6h.7M15.8 26.2h.7M26.9 21.2h.7M13.7 21.9h.7M23.8 26.6h.7M20 27.2h.7M23.1 17.7h.7M18.2 32.2h.7M1.3 25.8h.7M16 25.8h.7M9 24.7h.7M2.2 28.4h.7M25.4 27.1h.7M12.4 21.4h.7M8.6 22.5h.7M27.3 23.1h.7M26.8 24h.7M2.1 19h.7M3.5 24h.7M11.8 26.3h.7M27.6 29h.7M6.2 17.9h.7M6.2 27.4h.7M1.6 25.3h.7M14.8 23.4h.7M15.7 29.4h.7M16.7 23.3h.7M19.3 29.9h.7M20 21.4h.7M8 25.5h.7M1.1 20.6h.7M5.2 25.8h.7M24.1 29.4h.7M22.9 20.6h.7M13.7 26h.7M20.7 27.2h.7M27.6 25.2h.7M9.9 25.1h.7M9.8 23.6h.7M23.6 24h.7M9.5 27.3h.7M8.5 23.3h.7M4.9 29.1h.7M23.1 24h.7M1.8 19.9h.7M27.5 23.5h.7M26.2 27.4h.7M28 26.8h.7M15 27.3h.7M.7 24.2h.7M26.5 24.5h.7M10.1 29h.7M16.2 32h.7M24.6 21.8h.7M7.2 25.2h.7M11.7 24.3h.7M34.2 21.7h.7M28.8 26.1h.7M32.2 28.2h.7M30.9 21.3h.7M32.9 21.9h.7M30.8 19.5h.7M32.6 23.7h.7M37.9 22.5h.7M26 24.2h.7M39.4 21h.7M29.1 22h.7M22.3 21.4h.7M31.2 17.3h.7M33.7 19.5h.7M25.6 20.1h.7M33.9 29.4h.7M36 23.3h.7M30.1 21.7h.7M35 20.8h.7M33.2 26h.7M28.8 20.5h.7M33.3 22.6h.7M31.4 20.7h.7M31.6 29.1h.7M36.3 16.9h.7M32 22.9h.7M31.9 17.7h.7M31.4 23.1h.7M29.5 23.7h.7M23.7 17.3h.7M32.1 24h.7M31.2 21h.7M32.4 26.4h.7M34.8 22.3h.7M30.2 26.3h.7M33.6 25.7h.7M30.9 19.6h.7M32.4 20.4h.7M35.6 25.6h.7M24.5 24.9h.7M36.2 26.3h.7M30.2 19.6h.7M35 26.2h.7M32 18.5h.7M26.7 23.5h.7M29 20.2h.7M33.3 26.3h.7M24.9 20.2h.7M36.1 22.5h.7M30.7 24.9h.7M28 18.3h.7M31.9 28.1h.7M35.2 22.6h.7M35.2 21.2h.7M27.9 16.7h.7M32.7 25.8h.7M33 22.5h.7M30.5 26.4h.7M31.6 17.5h.7M36.4 20.3h.7M33.1 22.6h.7M35.3 23.5h.7M35.9 23.3h.7M30.3 20.8h.7M34 19.7h.7M34.9 21.8h.7M28.7 19.5h.7M31.3 28.8h.7M34.4 22.7h.7M28.8 29.3h.7M30.9 22.6h.7M30.4 27.3h.7M32.4 21h.7M32.4 19.1h.7M28.3 22h.7M22.2 26.7h.7M38.4 18.7h.7M31.3 17h.7M32.4 23.3h.7M34.3 17.9h.7M29.8 20.3h.7M31 30.7h.7M31.1 22.5h.7M30.1 25.4h.7M40.4 26.7h.7M36.9 18.8h.7M35.3 22.7h.7M36 26.3h.7M34 16.7h.7M32.2 20.8h.7M33.3 22.7h.7M35.3 16.9h.7M29.3 22.3h.7M32.9 21.2h.7M31.7 22.8h.7M35.3 22.2h.7M32.6 16.2h.7M23.1 17.4h.7M33 14.5h.7M33.2 22.3h.7M31.8 20h.7M30.4 25.5h.7M33 22.5h.7M30.2 23.3h.7M35.8 22.5h.7M30.6 18.4h.7M32.1 19.4h.7M27 25.7h.7M29.7 15.4h.7M29.4 29.1h.7M31.4 17.9h.7M28.1 25.1h.7M33.2 23.4h.7M31.1 24.3h.7M36.9 24.3h.7M31.3 17.7h.7M33.3 28.1h.7M34 18.2h.7M32.4 27.2h.7M29.7 24.4h.7M35.8 28.4h.7M26.5 16.4h.7M33.1 25.1h.7M30.6 22.5h.7M30.4 26.8h.7M24.4 23.5h.7M27.5 20.2h.7M26.7 19.4h.7M31.7 22.7h.7M37.8 21.8h.7M33 23.9h.7M32.7 27.8h.7M32.3 23.1h.7M31.4 22.6h.7M31.6 26.1h.7M31.9 22.8h.7M31.6 25.3h.7M30.2 25.9h.7M29.9 25.1h.7M38.2 23.4h.7M31.5 18.4h.7M34.3 22.6h.7M34.8 20.3h.7M33.5 29h.7M33.1 21.4h.7M27.4 22.6h.7M34 24.7h.7M28.1 19h.7M28.5 19h.7M30.9 23.5h.7M38.2 23.3h.7M36.7 16.7h.7M37 25.4h.7M33.3 25.5h.7M33.9 29.4h.7M34.5 16.4h.7M25.9 28.3h.7M31.5 27.3h.7M30.7 20.3h.7M30.6 23.7h.7M32.4 20.4h.7M33.6 24.8h.7M28.7 18.6h.7M25.2 21.5h.7M31.8 20.1h.7M29.8 22.1h.7M31.9 24.6h.7M34.6 24.2h.7M35.6 19.2h.7M33.8 23.9h.7M28.3 20.2h.7M33.3 22.9h.7M27.6 20.6h.7M36.9 25.6h.7M32.1 27.4h.7M28.8 22h.7M35 21.4h.7M28 24.7h.7M37.2 13.6h.7M32.3 18.2h.7M30.8 17.6h.7M40.5 20.2h.7M31.9 20.1h.7M28.5 21h.7M32.5 28.8h.7M32.8 28.2h.7M28.2 22.9h.7M30.3 17h.7M44.3 21.7h.7M32.6 19.9h.7M29.9 18.9h.7M35.2 21.2h.7M31.3 23.2h.7M27.7 23.4h.7M31.2 24.2h.7M30.5 22.7h.7M33.5 26h.7M29.5 26.1h.7M28.5 21.9h.7M32.2 23.1h.7M20.7 22.5h.7M28.9 28.5h.7M27.1 30.4h.7M23.2 25.8h.7M31.5 25.7h.7M30.5 28.6h.7M26.7 27.5h.7M33.4 24.9h.7M21.4 21.8h.7M26.6 22.3h.7M31.1 23.1h.7M38.4 27.4h.7M25 24.7h.7M35 27.8h.7M26 28.9h.7M27.9 32.6h.7M27.6 27.5h.7M31.6 24.2h.7M29.1 29.3h.7M31.4 25.4h.7M31.2 31.1h.7M32.9 27.1h.7M30.8 20.7h.7M30.1 24.1h.7M32.2 23.7h.7M31.2 22.3h.7M32.8 23.3h.7M29.5 27.4h.7M28.4 25.6h.7M33.4 31.2h.7M23.2 22.7h.7M32 28.6h.7M27.9 25.9h.7M28.9 32.8h.7M28.9 21.8h.7M24.1 21.6h.7M34.2 24.4h.7M36.5 27.6h.7M31 27.6h.7M32.4 28.5h.7M26.1 23.8h.7M27.7 25.9h.7M28.7 21.7h.7M27.1 31.2h.7M37.1 22.9h.7M31 25.5h.7M26.6 27.9h.7M29.4 30.9h.7M31.2 24.6h.7M20.2 25.3h.7M32.6 23.3h.7M32.7 27.8h.7M23.3 25h.7M30.7 28h.7M30.2 25.6h.7M28.4 24.7h.7M29.6 22.2h.7M31.9 24.6h.7M31.5 24h.7M31.1 26h.7M32.8 27.1h.7M32.9 25.1h.7M29.4 24.8h.7M25.1 25.2h.7M33.5 28h.7M26.6 26.5h.7M32.3 21.3h.7M30.8 26.6h.7M32.3 26.4h.7M23.4 19.2h.7M36.7 24.4h.7M34.1 29.6h.7M29.9 22h.7M34.5 25.5h.7M31.4 27.1h.7M33 28.8h.7M24.5 21.2h.7M30.1 25.6h.7M32.4 25.2h.7M29 32h.7M34.5 29.3h.7M33.3 23.1h.7M29.3 25.4h.7M25.7 22.9h.7M30.2 21.8h.7M31.5 27.1h.7M28.8 24.5h.7M31.7 27.1h.7M30.9 21.7h.7M23.8 32.1h.7M27.3 24.4h.7M23.1 23.1h.7M27 28.1h.7M20.2 21.2h.7M28.1 24.1h.7M26.8 24.2h.7M24 26.4h.7M33.9 26.1h.7M27.7 29.6h.7M31.3 22.4h.7M27.6 23.7h.7M29.4 29.4h.7M27.1 25.1h.7M30 21.9h.7M27.9 27.5h.7M33.6 19.7h.7M32.1 24.7h.7M34.2 27.6h.7M36.6 26.6h.7M28.2 23h.7M24.5 27.3h.7M31.4 28.2h.7M30.8 20.9h.7M28.2 24.8h.7M30.2 28h.7M34.6 26.5h.7M22.3 22.4h.7M22 23.2h.7M25.3 26.4h.7M28.8 29.1h.7M33.4 24.2h.7M33 25.6h.7M31.2 29.8h.7M25.5 25.4h.7M35.1 23.2h.7M30.4 26h.7M28.1 21.5h.7M27.2 22.5h.7M33.4 26.4h.7M32.1 21.9h.7M31.4 26.1h.7M33.3 23.3h.7M32.5 29.9h.7M36 22.7h.7M25.6 21h.7M33 27.5h.7M30.8 22.9h.7M34.1 30.6h.7M29.5 25.2h.7M33.8 27.2h.7M34.4 24.3h.7M30.8 24.5h.7M27.6 24.7h.7M28.6 27.2h.7M28.5 25.8h.7M26.7 21.8h.7M34.7 22.5h.7M36.1 28.5h.7M21.5 23.6h.7M28.1 25.7h.7M35.8 52.8h.7M37.6 47.4h.7M32.5 59.4h.7M33.9 51.5h.7M32.6 53h.7M34.1 43.5h.7M33.9 53.2h.7M34.7 45.6h.7M34.9 51.3h.7M34.3 61.7h.7M34 38.4h.7M32.5 32.4h.7M35.6 45.6h.7M31.9 31.2h.7M32.6 52.8h.7M32.6 51.5h.7M34.7 46.8h.7M35.9 33.9h.7M35 39.8h.7M32.2 46.5h.7M32.3 53h.7M33.9 47.8h.7M33.5 30.3h.7M33.3 59.6h.7M33.1 57.8h.7M34.5 38.9h.7M31.8 49.6h.7M33.5 54.1h.7M36.6 47.5h.7M34.4 54.6h.7M32.8 43.2h.7M36.5 41.5h.7M35.2 52.2h.7M30.8 45.8h.7M32.9 31.9h.7M33.1 41.4h.7M32.1 46h.7M34.2 38.1h.7M36 40.9h.7M37 60.5h.7M31.5 38.7h.7M34.9 46.6h.7M34.7 32.1h.7M36.3 46.2h.7M33.1 41.6h.7M34.2 38.7h.7M33.6 57.5h.7M37.1 57.8h.7M35.3 50.9h.7M32 42.4h.7M34.7 47h.7M34.9 58.2h.7M33 29.9h.7M32.5 55.3h.7M32 32.1h.7M34.9 32.1h.7M33 45.2h.7M34.5 61.7h.7M35.8 31.6h.7M14.6 53.2h.7M4.1 54h.7M25.2 56.3h.7M20.6 60.7h.7M18.6 46.3h.7M21.4 55.6h.7M16.4 50.7h.7M4.6 38.8h.7M8.5 57.5h.7M20.3 37.1h.7M25.8 28.7h.7M1.6 38.4h.7M2 60.8h.7M9.3 40.6h.7M22.2 45.8h.7M16.4 42.4h.7M12 61.1h.7M7.2 45.5h.7M12.4 31.7h.7M3.8 44.8h.7M20.8 42.2h.7M1.5 60.3h.7M3.6 58.4h.7M1.2 50h.7M3.8 36h.7M11 53.8h.7M11.3 41.7h.7M10.5 45.3h.7M7.3 60.9h.7M5 31.4h.7M14.3 39.2h.7M18.8 28h.7M17.6 39.7h.7M24.1 37.4h.7M11.3 38h.7M13.9 36.7h.7M17.4 41.4h.7M18.4 37.1h.7M11.9 46.7h.7M18.7 50.1h.7M11.2 29.7h.7M2.9 31.9h.7M4.8 33.2h.7M17.2 38.9h.7M23.6 35h.7M6.4 33.2h.7M3.8 51.2h.7M15 35.6h.7M21.1 50.9h.7M11.1 48.5h.7M17.1 42.5h.7M2.4 39.7h.7M24.6 40h.7M16.6 29.8h.7M20.1 57.7h.7M9.7 40h.7M13.3 35.7h.7M5.5 31.2h.7M17.9 44.9h.7M24.9 61.2h.7M34.4 60.4h.7M33 23.6h.7M5.1 61.6h.7M34.4 47.2h.7M24.4 40.1h.7M16.7 28.4h.7M21.6 33.6h.7M4.8 57.4h.7M22.6 57.6h.7M11.6 45.7h.7M10.9 55.8h.7M8.2 48.5h.7M21.9 35.6h.7M3.2 42.1h.7M20.6 55.3h.7M8 30h.7M12 54.7h.7M9.1 48h.7M1.3 25.9h.7M27.9 42.5h.7M4.4 41.5h.7M37.1 38.2h.7M21.9 39.4h.7M19.9 24.3h.7M34.8 45.8h.7M13.7 34h.7M7.4 59.9h.7M33.1 37.7h.7M23.8 44.7h.7M7.9 23.9h.7M29 29.1h.7M22.3 23.3h.7M.9 29.2h.7M25.8 47.1h.7M39 49h.7" stroke="#000" stroke-opacity="0.55" stroke-width="0.7" fill="none"/>
<g filter="url(#b3)"><path d="M82 261.7L99 262.2L99 264.8L82 264.3z" fill-opacity="0.75"/><path d="M99 262.2L112.6 264L112.6 267.5L99 264.8z" fill-opacity="0.375"/><ellipse cx="114.6" cy="265" rx="3.7" ry="8.7" transform="rotate(52 114.6 265)"/><ellipse cx="117.1" cy="262.5" rx="3.4" ry="4.5" transform="rotate(52 117.1 262.5)"/></g>
</g>
<text x="86.8" y="44.2" font-size="11.7" textLength="11.4" lengthAdjust="spacingAndGlyphs" stroke="#000" stroke-width=".25">12</text>
<text x="121.8" y="46.9" font-size="11.8" font-weight="bold" textLength="13.4" lengthAdjust="spacingAndGlyphs" stroke="#000" stroke-width=".25">83</text>
<text x="85.4" y="90.2" font-size="11.7" textLength="6.1" lengthAdjust="spacingAndGlyphs" stroke="#000" stroke-width=".25">2</text>
<text x="129.2" y="90.2" font-size="11.7" textLength="6" lengthAdjust="spacingAndGlyphs" stroke="#000" stroke-width=".25">3</text>
<text x="86.8" y="111.2" font-size="11.7" textLength="11.4" lengthAdjust="spacingAndGlyphs" stroke="#000" stroke-width=".25">12</text>
<text x="121.8" y="113.2" font-size="11.8" font-weight="bold" textLength="13.4" lengthAdjust="spacingAndGlyphs" stroke="#000" stroke-width=".25">82</text>
<text x="85.4" y="157.3" font-size="11.7" textLength="6.1" lengthAdjust="spacingAndGlyphs" stroke="#000" stroke-width=".25">3</text>
<text x="129.2" y="157.3" font-size="11.7" textLength="6" lengthAdjust="spacingAndGlyphs" stroke="#000" stroke-width=".25">2</text>
<text x="86.8" y="181.2" font-size="11.7" textLength="5.2" lengthAdjust="spacingAndGlyphs" stroke="#000" stroke-width=".25">7</text>
<text x="121.8" y="183.5" font-size="11.8" font-weight="bold" textLength="13.4" lengthAdjust="spacingAndGlyphs" stroke="#000" stroke-width=".25">88</text>
<text x="85.4" y="227.3" font-size="11.7" textLength="6.1" lengthAdjust="spacingAndGlyphs" stroke="#000" stroke-width=".25">3</text>
<text x="129.2" y="227.3" font-size="11.7" textLength="6" lengthAdjust="spacingAndGlyphs" stroke="#000" stroke-width=".25">2</text>
<text x="121.8" y="260.2" font-size="11.8" font-weight="bold" textLength="13.4" lengthAdjust="spacingAndGlyphs" stroke="#000" stroke-width=".25">92</text>
<text x="86" y="305.3" font-size="11.7" textLength="6" lengthAdjust="spacingAndGlyphs" stroke="#000" stroke-width=".25">2</text>
<text x="129.8" y="305.3" font-size="11.7" textLength="5.4" lengthAdjust="spacingAndGlyphs" stroke="#000" stroke-width=".25">1</text>
<line x1="155.5" y1="45" x2="155.5" y2="93" stroke="#444" stroke-width="0.7"/>
<line x1="155.5" y1="93" x2="267.5" y2="93" stroke="#444" stroke-width="0.7"/>
<line x1="155.5" y1="93" x2="155.5" y2="94.5" stroke="#555" stroke-width="0.6"/>
<text x="155.5" y="97.4" font-size="3" font-weight="bold" text-anchor="middle" fill="#444">10</text>
<line x1="183.5" y1="93" x2="183.5" y2="94.5" stroke="#555" stroke-width="0.6"/>
<text x="183.5" y="97.4" font-size="3" font-weight="bold" text-anchor="middle" fill="#444">10</text>
<line x1="211.5" y1="93" x2="211.5" y2="94.5" stroke="#555" stroke-width="0.6"/>
<text x="211.5" y="97.4" font-size="3" font-weight="bold" text-anchor="middle" fill="#444">10</text>
<line x1="239.5" y1="93" x2="239.5" y2="94.5" stroke="#555" stroke-width="0.6"/>
<text x="239.5" y="97.4" font-size="3" font-weight="bold" text-anchor="middle" fill="#444">10</text>
<line x1="267.5" y1="93" x2="267.5" y2="94.5" stroke="#555" stroke-width="0.6"/>
<text x="267.5" y="97.4" font-size="3" font-weight="bold" text-anchor="middle" fill="#444">10</text>
<line x1="154" y1="45" x2="155.5" y2="45" stroke="#555" stroke-width="0.6"/>
<text x="153.9" y="46.5" font-size="3" font-weight="bold" text-anchor="end" fill="#444">15</text>
<text x="151.3" y="74" font-size="2.8" font-weight="bold" transform="rotate(-90 151.3 74)" fill="#444">Events</text>
<text x="206.5" y="100.4" font-size="2.9" font-weight="bold" fill="#333">CD3e APC</text>
<path d="M155.5 93 L165 92 L175 88.8 L181.2 85 L186.2 78.8 L190 72.5 L193.8 67.5 L198.8 57.5 L202.5 53 L205.5 56.2 L207.5 62.5 L210 75 L212.5 82.5 L216.2 86.2 L222.5 88 L227.5 87 L232.5 82.5 L236.2 80 L238.8 79.5 L242.5 83.8 L246.2 90 L248.8 93" fill="none" stroke="#444" stroke-width=".7" stroke-linejoin="round"/>
<line x1="155.5" y1="114.5" x2="155.5" y2="162.5" stroke="#444" stroke-width="0.7"/>
<line x1="155.5" y1="162.5" x2="267.5" y2="162.5" stroke="#444" stroke-width="0.7"/>
<line x1="155.5" y1="162.5" x2="155.5" y2="164" stroke="#555" stroke-width="0.6"/>
<text x="155.5" y="166.9" font-size="3" font-weight="bold" text-anchor="middle" fill="#444">10</text>
<line x1="183.5" y1="162.5" x2="183.5" y2="164" stroke="#555" stroke-width="0.6"/>
<text x="183.5" y="166.9" font-size="3" font-weight="bold" text-anchor="middle" fill="#444">10</text>
<line x1="211.5" y1="162.5" x2="211.5" y2="164" stroke="#555" stroke-width="0.6"/>
<text x="211.5" y="166.9" font-size="3" font-weight="bold" text-anchor="middle" fill="#444">10</text>
<line x1="239.5" y1="162.5" x2="239.5" y2="164" stroke="#555" stroke-width="0.6"/>
<text x="239.5" y="166.9" font-size="3" font-weight="bold" text-anchor="middle" fill="#444">10</text>
<line x1="267.5" y1="162.5" x2="267.5" y2="164" stroke="#555" stroke-width="0.6"/>
<text x="267.5" y="166.9" font-size="3" font-weight="bold" text-anchor="middle" fill="#444">10</text>
<line x1="154" y1="114.5" x2="155.5" y2="114.5" stroke="#555" stroke-width="0.6"/>
<text x="153.9" y="116" font-size="3" font-weight="bold" text-anchor="end" fill="#444">15</text>
<text x="151.3" y="143.5" font-size="2.8" font-weight="bold" transform="rotate(-90 151.3 143.5)" fill="#444">Events</text>
<text x="206.5" y="169.9" font-size="2.9" font-weight="bold" fill="#333">CD3e APC</text>
<path d="M155.5 161.2 L165 160 L175 156.2 L181.2 150 L186.2 142.5 L190 137.5 L193.8 132.5 L197.5 126.2 L201.2 122.5 L203.8 127.5 L205.5 137.5 L207.5 147.5 L210 153.8 L215 157 L220 157.5 L226.2 154.5 L231.2 150.5 L234.5 149.5 L237.5 151.2 L241.2 157.5 L245 162.5" fill="none" stroke="#444" stroke-width=".7" stroke-linejoin="round"/>
<line x1="155.5" y1="186" x2="155.5" y2="233.8" stroke="#444" stroke-width="0.7"/>
<line x1="155.5" y1="233.8" x2="267.5" y2="233.8" stroke="#444" stroke-width="0.7"/>
<line x1="155.5" y1="233.8" x2="155.5" y2="235.3" stroke="#555" stroke-width="0.6"/>
<text x="155.5" y="238.2" font-size="3" font-weight="bold" text-anchor="middle" fill="#444">10</text>
<line x1="183.5" y1="233.8" x2="183.5" y2="235.3" stroke="#555" stroke-width="0.6"/>
<text x="183.5" y="238.2" font-size="3" font-weight="bold" text-anchor="middle" fill="#444">10</text>
<line x1="211.5" y1="233.8" x2="211.5" y2="235.3" stroke="#555" stroke-width="0.6"/>
<text x="211.5" y="238.2" font-size="3" font-weight="bold" text-anchor="middle" fill="#444">10</text>
<line x1="239.5" y1="233.8" x2="239.5" y2="235.3" stroke="#555" stroke-width="0.6"/>
<text x="239.5" y="238.2" font-size="3" font-weight="bold" text-anchor="middle" fill="#444">10</text>
<line x1="267.5" y1="233.8" x2="267.5" y2="235.3" stroke="#555" stroke-width="0.6"/>
<text x="267.5" y="238.2" font-size="3" font-weight="bold" text-anchor="middle" fill="#444">10</text>
<line x1="154" y1="186" x2="155.5" y2="186" stroke="#555" stroke-width="0.6"/>
<text x="153.9" y="187.5" font-size="3" font-weight="bold" text-anchor="end" fill="#444">15</text>
<text x="151.3" y="214.9" font-size="2.8" font-weight="bold" transform="rotate(-90 151.3 214.9)" fill="#444">Events</text>
<text x="206.5" y="241.2" font-size="2.9" font-weight="bold" fill="#333">CD3e APC</text>
<path d="M155.5 230.5 L165 227.5 L170 223.8 L175 215 L178.8 205 L182.5 193.8 L186.2 186.2 L188.8 190 L191.2 200 L193.8 212.5 L197.5 221.2 L202.5 227.5 L207.5 231.2 L215 231.2 L220 230 L226.2 227.5 L231.2 227.5 L236.2 230 L240 233 L242.5 233.8" fill="none" stroke="#444" stroke-width=".7" stroke-linejoin="round"/>
<line x1="155.5" y1="265" x2="155.5" y2="311" stroke="#444" stroke-width="0.7"/>
<line x1="155.5" y1="311" x2="267.5" y2="311" stroke="#444" stroke-width="0.7"/>
<line x1="155.5" y1="311" x2="155.5" y2="312.5" stroke="#555" stroke-width="0.6"/>
<text x="155.5" y="315.4" font-size="3" font-weight="bold" text-anchor="middle" fill="#444">10</text>
<line x1="183.5" y1="311" x2="183.5" y2="312.5" stroke="#555" stroke-width="0.6"/>
<text x="183.5" y="315.4" font-size="3" font-weight="bold" text-anchor="middle" fill="#444">10</text>
<line x1="211.5" y1="311" x2="211.5" y2="312.5" stroke="#555" stroke-width="0.6"/>
<text x="211.5" y="315.4" font-size="3" font-weight="bold" text-anchor="middle" fill="#444">10</text>
<line x1="239.5" y1="311" x2="239.5" y2="312.5" stroke="#555" stroke-width="0.6"/>
<text x="239.5" y="315.4" font-size="3" font-weight="bold" text-anchor="middle" fill="#444">10</text>
<line x1="267.5" y1="311" x2="267.5" y2="312.5" stroke="#555" stroke-width="0.6"/>
<text x="267.5" y="315.4" font-size="3" font-weight="bold" text-anchor="middle" fill="#444">10</text>
<line x1="154" y1="265" x2="155.5" y2="265" stroke="#555" stroke-width="0.6"/>
<text x="153.9" y="266.5" font-size="3" font-weight="bold" text-anchor="end" fill="#444">15</text>
<text x="151.3" y="293" font-size="2.8" font-weight="bold" transform="rotate(-90 151.3 293)" fill="#444">Events</text>
<text x="206.5" y="318.4" font-size="2.9" font-weight="bold" fill="#333">CD3e APC</text>
<path d="M155.5 308.8 L165 306.2 L170 302.5 L175 293.8 L178.8 283.8 L182.5 272.5 L186.2 266.2 L189.5 270 L192.5 280 L195.5 292.5 L198.8 301.2 L202.5 306.2 L206.2 309.5 L212.5 310.5 L220 309.5 L226.2 308 L232.5 307.5 L237.5 309.5 L242.5 311.2" fill="none" stroke="#444" stroke-width=".7" stroke-linejoin="round"/>
<line x1="206.5" y1="17" x2="206.5" y2="310" stroke="#000" stroke-width="1.1" stroke-dasharray="1.4 1.2"/>
<line x1="189.4" y1="180" x2="189.4" y2="311" stroke="#666" stroke-width="0.6"/>
<line x1="141" y1="313.6" x2="203.5" y2="313.6" stroke="#000" stroke-width="2"/>
<path d="M209 313.6l-6.8-3.6v7.2z"/>
<text x="142.5" y="332.5" font-size="12.3" font-weight="bold" textLength="59.5" lengthAdjust="spacingAndGlyphs">CD3ε(APC)</text>
<g filter="url(#b0)">
<rect x="275" y="26" width="57.9" height="63.7" fill="none" stroke="#9c9c9c" stroke-width=".7"/>
<line x1="292.5" y1="26" x2="292.5" y2="89.7" stroke="#9c9c9c" stroke-width="0.7"/>
<line x1="275" y1="73.2" x2="332.9" y2="73.2" stroke="#9c9c9c" stroke-width="0.7"/>
<line x1="275" y1="26" x2="275" y2="89.7" stroke="#7a7a7a" stroke-width="0.9"/>
<line x1="275" y1="89.7" x2="332.9" y2="89.7" stroke="#8a8a8a" stroke-width="0.8"/>
<line x1="275" y1="90.5" x2="275" y2="91.9" stroke="#aaa" stroke-width="0.6"/>
<line x1="289.5" y1="90.5" x2="289.5" y2="91.9" stroke="#aaa" stroke-width="0.6"/>
<line x1="303.9" y1="90.5" x2="303.9" y2="91.9" stroke="#aaa" stroke-width="0.6"/>
<line x1="318.4" y1="90.5" x2="318.4" y2="91.9" stroke="#aaa" stroke-width="0.6"/>
<line x1="332.9" y1="90.5" x2="332.9" y2="91.9" stroke="#aaa" stroke-width="0.6"/>
<text x="273.4" y="25" font-size="3" font-weight="bold" text-anchor="end" fill="#6a6a6a">10</text>
<text x="273.4" y="40.9" font-size="3" font-weight="bold" text-anchor="end" fill="#6a6a6a">10</text>
<text x="273.4" y="56.9" font-size="3" font-weight="bold" text-anchor="end" fill="#6a6a6a">10</text>
<text x="273.4" y="72.8" font-size="3" font-weight="bold" text-anchor="end" fill="#6a6a6a">10</text>
<text x="273.4" y="88.7" font-size="3" font-weight="bold" text-anchor="end" fill="#6a6a6a">10</text>
<text x="271" y="62.9" font-size="2.7" transform="rotate(-90 271 62.9)" fill="#666">Thy1.2</text>
<g filter="url(#b2)"><path d="M275 47L316 48L317 66L308 66L275 62z" fill-opacity="0.14"/><g opacity=".4"><path d="M275 50L296.1 50.5" stroke="#000" stroke-width="9" fill="none"/><path d="M296.1 50.5L309 50.8" stroke="#000" stroke-width="9" fill="none" stroke-opacity="1"/><path d="M303 50.8Q315.6 50.3 315.6 59.8L315.1 65" stroke="#000" stroke-width="8" fill="none" stroke-linecap="round" stroke-linejoin="round" stroke-opacity="1"/><rect x="275" y="49" width="2" height="2" fill-opacity="0"/></g></g>
<path transform="translate(275 26)" d="M21.4 31.5h.7M20 24.2h.7M35.2 29.4h.7M19.5 25.1h.7M8.9 22.4h.7M23.8 24.2h.7M9 22.9h.7M28.3 21.6h.7M25.3 21.6h.7M12.1 15.9h.7M28 18.1h.7M33.8 27.6h.7M31.3 21.5h.7M37.2 22h.7M39.7 26.3h.7M33.7 22.6h.7M27.8 26.6h.7M18.6 18.6h.7M16.2 24.8h.7M22.1 19h.7M35.8 24h.7M19.1 23.6h.7M4 24.3h.7M36.2 22.3h.7M9.2 27.1h.7M27.8 27.5h.7M16.8 20.2h.7M38.9 21.2h.7M20.8 20h.7M16.9 22.6h.7M28.3 27.3h.7M38.1 26.7h.7M31.2 20.6h.7M4 22.7h.7M3.8 17.1h.7M35.5 21.9h.7M7.5 23.5h.7M19.7 17.7h.7M35.2 24.6h.7M21.1 26.2h.7M29.8 20.9h.7M35.5 24.4h.7M16.1 21.5h.7M19.8 24.6h.7M29 20.5h.7M20.2 27.1h.7M.5 26.1h.7M22.4 22.9h.7M39.3 23.8h.7M8.4 24.6h.7M6.3 25.8h.7M1.7 20.4h.7M11.1 21.5h.7M12.6 23.4h.7M37.1 21.3h.7M24.5 24.3h.7M4.6 18.9h.7M3.6 22.9h.7M22.5 21.6h.7M25.2 28.4h.7M37.3 21.9h.7M7.6 22.2h.7M28.9 23.9h.7M17.1 22.4h.7M11.6 17.1h.7M22.9 24.8h.7M30.5 23.7h.7M25.4 20.9h.7M15.4 19.6h.7M27.3 24.1h.7M6.9 24.5h.7M12.8 21.9h.7M34.8 26.5h.7M39 23.2h.7M1.5 25.6h.7M1.4 22.9h.7M31.2 26.3h.7M5.1 22.7h.7M19.3 24.5h.7M14.2 23.2h.7M39.6 19.8h.7M34.6 26.9h.7M36.7 29.8h.7M23.2 21.6h.7M13.2 23.2h.7M9 25h.7M13.3 27.7h.7M31.5 18.1h.7M3.6 20.8h.7M34.7 19h.7M9.8 23.3h.7M28.5 19.2h.7M24 26.3h.7M5.7 21.8h.7M.7 28.6h.7M25.9 18.6h.7M13.5 22.1h.7M19.6 18.2h.7M3 24.3h.7M20.9 23.2h.7M10.6 27.8h.7M8.5 24.3h.7M14.9 30.2h.7M36.1 23.3h.7M22.7 21h.7M.4 27.6h.7M4.6 21.7h.7M21.3 18.7h.7M11.9 23.6h.7M37.3 22.6h.7M33.6 22.6h.7M36.3 21.8h.7M35.3 28.3h.7M36.2 29h.7M10.2 26.1h.7M32.9 22.1h.7M37 20.2h.7M32.9 31.6h.7M23.5 23.2h.7M30.1 21.9h.7M20.5 20.7h.7M20.8 24h.7M34.6 25.9h.7M34.7 21.9h.7M20.9 18.9h.7M23.5 23.3h.7M18.2 23.2h.7M39.8 24.5h.7M3.2 27h.7M10.5 23.9h.7M32.8 22.8h.7M32.7 25.2h.7M38.2 21.7h.7M15.2 16h.7M22.3 25.9h.7M27.9 23.7h.7M10.8 23.7h.7M4.3 24.6h.7M39.3 21.3h.7M27.8 25.3h.7M13 28.2h.7M21.6 28.9h.7M32.3 26.3h.7M23.8 22.4h.7M5.2 20.8h.7M13.3 23.2h.7M5.5 19.4h.7M9.9 23h.7M1.8 23.6h.7M18.4 28h.7M5.3 28.5h.7M30.7 24.3h.7M22.2 20.8h.7M40.7 21.2h.7M40 21.4h.7M10.6 26.1h.7M17.3 22.7h.7M12.9 19.7h.7M28.3 18.1h.7M7.5 28.6h.7M20.8 23.2h.7M34.8 26.9h.7M32.2 26.2h.7M31.8 23h.7M19.6 22.5h.7M11 21h.7M18.7 21.5h.7M22.1 17.8h.7M11.6 20h.7M11.3 24.1h.7M34.8 24.9h.7M37.7 25.6h.7M37.1 25.7h.7M35.4 33.4h.7M12.5 22.1h.7M2.7 23.5h.7M.6 27.3h.7M10.4 18.7h.7M6.3 24.3h.7M5 22.8h.7M5 24.7h.7M4.2 25.5h.7M1.8 17.2h.7M33 26.1h.7M12.3 19.6h.7M33.6 24.4h.7M39.1 24h.7M9.1 28.1h.7M1.9 20.8h.7M3.9 22.4h.7M27.3 22.1h.7M27.6 23.9h.7M8.7 27.1h.7M35.7 20.2h.7M25.5 19.9h.7M2.5 27.7h.7M21.1 19.8h.7M24.2 18.1h.7M21.9 23.8h.7M11.4 21.3h.7M21.4 27h.7M8.6 19.8h.7M20.8 19.9h.7M18.9 21.4h.7M20.9 21h.7M21.1 17.4h.7M32.1 22.8h.7M10.6 22h.7M12.9 21.2h.7M12.1 26.5h.7M40.9 23.2h.7M28.7 20.4h.7M37.9 25.9h.7M39.3 27.3h.7M15.4 27.6h.7M13.1 19.5h.7M5.9 24.7h.7M14.4 20.4h.7M19 22.6h.7M37.6 16.8h.7M31.4 24.9h.7M8.2 22.4h.7M19.5 25.2h.7M5.4 21.6h.7M10.1 20.8h.7M28.1 23.2h.7M34.4 24.1h.7M30.9 25.4h.7M10.8 21.7h.7M28.6 28.6h.7M26.8 30.1h.7M22.5 26h.7M17.4 24.3h.7M40.2 26.1h.7M3.2 26.9h.7M39.8 23.4h.7M30.7 17.6h.7M7.4 23.5h.7M22.6 24.4h.7M3.3 24.2h.7M37.7 25.3h.7M32.4 21.6h.7M6.5 31.8h.7M5.8 19.2h.7M4 27.4h.7M32.3 18h.7M13.8 21.9h.7M1.7 27.7h.7M20.8 26.5h.7M31.3 24.3h.7M8.7 26h.7M34.9 23h.7M29.8 21.7h.7M1.6 21.1h.7M31.3 24h.7M29.5 22.6h.7M1.8 21.6h.7M26.2 23.4h.7M34.4 23.1h.7M36.8 21h.7M26.7 26.5h.7M38 21.2h.7M31.5 20.4h.7M20.1 27.4h.7M17 24.3h.7M13.7 21.7h.7M12.8 24.9h.7M30.6 26.2h.7M34.7 21.2h.7M5.1 18.2h.7M32 23h.7M15.9 27.5h.7M25 30.6h.7M26.8 22.6h.7M23.4 24.8h.7M16.6 27.1h.7M31 20.5h.7M23.4 23.5h.7M40.8 21.8h.7M23.8 21.8h.7M3.7 22.3h.7M28.9 22.8h.7M10.4 18.8h.7M20 24h.7M37.3 19h.7M3.7 23.6h.7M25.6 23h.7M21.9 26.5h.7M27.4 25h.7M35.6 26.9h.7M32.6 25.3h.7M4.8 29.4h.7M14 18.8h.7M8.6 24.9h.7M17.2 25.3h.7M29 27.3h.7M39.1 21.9h.7M17.5 23.5h.7M17.2 23.5h.7M.9 27.4h.7M4.7 27.8h.7M12.3 19.6h.7M1.2 22.9h.7M4.5 22.1h.7M3.8 20.6h.7M19.6 14.8h.7M2 32.5h.7M7.4 27.1h.7M39.4 25.3h.7M31.9 26.5h.7M14.7 26.1h.7M40.1 22.3h.7M10.5 19.3h.7M17.9 20.4h.7M23.1 23h.7M3.7 15.2h.7M16.4 28h.7M20.7 23.6h.7M30.2 17.6h.7M15.6 23h.7M25.3 21.4h.7M.7 24.2h.7M14.4 25.4h.7M30.3 30h.7M3.8 24.4h.7M39 27.7h.7M34.5 22.1h.7M38.6 17.5h.7M1.4 25.5h.7M32 20.2h.7M6.1 19.1h.7M3.4 19.2h.7M28.2 22.9h.7M7.3 15.8h.7M10.4 20h.7M33.6 28.1h.7M18.1 22.3h.7M17.2 21.9h.7M3.1 23.8h.7M11.5 26.7h.7M14.8 29.6h.7M35.9 17.2h.7M36.8 20.9h.7M29.2 21.2h.7M23.1 24.3h.7M12.8 23.9h.7M26.1 22.7h.7M13.9 20h.7M40.3 25.4h.7M40.7 18.5h.7M39.2 29.8h.7M21.6 21.5h.7M32.4 22.7h.7M19.9 24h.7M25.6 16.3h.7M28.5 21.9h.7M18.8 23h.7M2.6 27.3h.7M15.6 31.6h.7M5.5 22.5h.7M24.9 23.9h.7M9.4 24.4h.7M37.9 28h.7M.6 22.6h.7M20 19.4h.7M17.3 26.5h.7M21.5 23.7h.7M13.8 26.4h.7M34.7 23.4h.7M33.2 24.5h.7M20.5 19.9h.7M34.6 25.2h.7M.5 25h.7M20.1 15.9h.7M38.2 25.8h.7M16.6 22h.7M30.9 23.5h.7M21.3 26.7h.7M1.7 29.2h.7M7.9 12.7h.7M5.7 25.1h.7M10.9 24.2h.7M38.1 20.7h.7M.8 23.7h.7M34.8 26.2h.7M4.2 20.4h.7M39.9 17.6h.7M33 27h.7M8.9 24.6h.7M5 23.7h.7M23.6 28.7h.7M5.3 23.2h.7M38 24.7h.7M30.9 15.5h.7M40.1 24.9h.7M8.5 23.4h.7M25.8 25.6h.7M24.4 18h.7M21.7 22.9h.7M12.9 19.7h.7M2 16.7h.7M19.9 26.9h.7M17.7 27.6h.7M34.4 19.6h.7M23.8 16.4h.7M24.4 29.2h.7M13.9 22.6h.7M4.2 24.5h.7M37.9 23h.7M38.3 19.4h.7M24.9 16.9h.7M30.6 21.6h.7M3.2 22.2h.7M30.5 21.9h.7M22.9 24h.7M10.9 23h.7M25.3 30h.7M30.7 24.9h.7M18.5 20.4h.7M17.7 20h.7M36.3 27.8h.7M12.2 23h.7M.3 21.3h.7M28.1 24h.7M40.8 20.7h.7M29.5 21.2h.7M34.6 28.4h.7M5.8 26.4h.7M11.2 21.7h.7M15.5 19.6h.7M12.1 22.8h.7M2.5 20h.7M28.5 19.8h.7M16.3 23.9h.7M5.3 23h.7M.8 19.8h.7M9.3 22.2h.7M21.5 24.4h.7M39.5 23.5h.7M36.3 27.7h.7M20.8 25.5h.7M22.1 26h.7M38.6 19.6h.7M27.9 24.9h.7M33.7 22.7h.7M13.1 28.5h.7M39.6 20.8h.7M31 20.5h.7M32.1 26h.7M2.4 19.5h.7M29.4 22.5h.7M14 19.4h.7M15.6 20.3h.7M27.9 26h.7M21.6 21.7h.7M19.8 24.8h.7M11.7 21.3h.7M16.1 22.4h.7M40.1 22h.7M20.6 23.1h.7M1.1 20.2h.7M15.8 22.2h.7M40.2 22.9h.7M24.1 22.8h.7M10.1 23.7h.7M13.8 22.3h.7M19.9 21.9h.7M11.1 19h.7M21.2 21.6h.7M30.8 22.5h.7M26.9 22.6h.7M19.8 23.9h.7M14.4 16h.7M34.9 24.1h.7M33.8 20.2h.7M20.4 24.7h.7M15.3 24.1h.7M25.7 28.4h.7M2.2 22.5h.7M11.6 30.9h.7M12 20.8h.7M38.9 22h.7M40.3 25.1h.7M7 25.2h.7M18.2 22.5h.7M36.3 28.2h.7M2.9 25h.7M12.7 23.8h.7M5.5 20.7h.7M29.8 24.8h.7M39.6 26.8h.7M26.4 23h.7M5.4 18.4h.7M36.3 19.3h.7M5.7 27h.7M28.6 29.5h.7M31.3 38.3h.7M.9 34.8h.7M30.2 33.2h.7M30.1 39h.7M15 31.9h.7M13.5 37h.7M15 19.8h.7M9.1 37.3h.7M18.1 31.9h.7M12.7 29.8h.7M19.2 18h.7M35.1 27.8h.7M32.9 35.1h.7M39.8 32.3h.7M33.9 24.2h.7M37.7 37.9h.7M15.9 30.2h.7M40.7 27.9h.7M.6 42.8h.7M14.8 33.6h.7M27.6 24.7h.7M20 39.9h.7M31.2 37.1h.7M19.6 23.7h.7M20.3 28.6h.7M19.5 23.9h.7M30.2 32.8h.7M13.7 32.8h.7M27.6 27.2h.7M15.5 41.6h.7M31.9 25h.7M15.6 28.8h.7M24.8 36.3h.7M1.4 21h.7M2.6 28.8h.7M36.5 16.4h.7M29.6 24.4h.7M29.5 32.1h.7M4.8 26.8h.7M35 37.7h.7M8.9 26.4h.7M20.5 27.3h.7M20.1 31.6h.7M18.8 39h.7M40 31.1h.7M37.2 35.8h.7M15.6 39.7h.7M24.5 24.4h.7M12.3 28.8h.7M27.8 26h.7M20.2 38.4h.7M26.4 36.1h.7M36.7 24.9h.7M34.1 30.9h.7M36.5 20.9h.7M16 41.7h.7M29.8 34.3h.7M17.2 27.9h.7M15 29.2h.7M34.8 36.3h.7M2.5 40.8h.7M22.9 31.4h.7M26.3 29.4h.7M35.8 40.1h.7M15.7 28.5h.7M10.3 32h.7M34.9 28.6h.7M26.3 27.8h.7M7.6 36.7h.7M23.6 32.1h.7M7.6 27.7h.7M10.8 30.8h.7M30.3 26.7h.7M30.7 38.3h.7M15.4 41.4h.7M22.6 33.9h.7M23.8 29.5h.7M37.2 26.2h.7M.4 38.8h.7M16.7 30.6h.7M37.2 37.3h.7M.4 27.9h.7M25.6 26.4h.7M34 35.4h.7M5.4 34.4h.7M10.3 28.4h.7M1.5 35.1h.7M21.7 34.5h.7M38.5 33.9h.7M15.3 35.6h.7M26.2 27.5h.7M6.2 37.9h.7M1.8 25h.7M5.5 28.1h.7M2 31.1h.7M38 30.4h.7M28.3 34.7h.7M2.3 36.3h.7M3.6 25.9h.7M37.3 40.2h.7M30.9 27.7h.7M20.9 27h.7M26.9 27h.7M34.3 32.1h.7M12.3 25.7h.7M39.5 36.2h.7M14.1 27.4h.7M8.6 34.1h.7M14.5 32.8h.7M19.6 28.9h.7M11.6 24.4h.7M4.7 27.9h.7M19.9 34.8h.7M27.8 38.7h.7M9.1 32.5h.7M13.5 36.2h.7M36.6 38.2h.7M16.2 25.7h.7M18.7 33.7h.7M39 37.3h.7M3.7 29.4h.7M34.6 34h.7M12.4 30.4h.7M28.3 32.1h.7M21.1 34.5h.7M30.5 24.4h.7M10.8 32h.7M2 38.7h.7M38.4 30.9h.7M14.8 26.3h.7M3.2 23.9h.7M4.8 29.1h.7M4.1 29.8h.7M32.5 26.8h.7M16.9 42.1h.7M13.2 30.9h.7M22 27.3h.7M33.5 29.2h.7M28.9 33.6h.7M20.7 28.5h.7M22.3 31.2h.7M33.3 31.5h.7M18.4 37.3h.7M22.8 40.3h.7M30.4 31.6h.7M37.5 25h.7M2.3 30.5h.7M26.1 34.6h.7M9 34.7h.7M7.2 32.5h.7M22.1 26.6h.7M.5 33.5h.7M21.7 32h.7M2.3 34.2h.7M6.2 29.5h.7M19 33.8h.7M6.7 31h.7M13.3 21.8h.7M2.9 34h.7M26.6 31.5h.7M31 21.5h.7M6 33.1h.7M29.5 40.9h.7M34.8 26.1h.7M17.9 22.3h.7M15.6 31.3h.7M10.5 35.3h.7M5.8 32.7h.7M38.1 30.3h.7M40 36.3h.7M28.3 29.8h.7M15 33h.7M11.9 37h.7M39.9 30.3h.7M11.1 42.2h.7M3.1 35.1h.7M32.3 28.6h.7M34.2 29.7h.7M17.6 38.4h.7M38.7 31.3h.7M38.2 26.5h.7M29.8 37.4h.7M26.9 39.6h.7M31.2 33.1h.7M7.9 33.5h.7M22.3 33.1h.7M4.4 35h.7M40.8 27.8h.7M30.1 29.1h.7M17.5 33.4h.7M24.9 38.8h.7M13.3 23.9h.7M1 28.1h.7M26.5 25.4h.7M32.9 34.7h.7M33.7 25.5h.7M5.1 39h.7M3.9 29.5h.7M6.9 29.3h.7M38.4 28.7h.7M11.4 26.1h.7M38.5 32.5h.7M12.5 38.2h.7M23.3 27h.7M38.8 38.2h.7M22.4 26.4h.7M1.8 33.3h.7M4.8 39.1h.7M26.4 29.2h.7M33.7 36.1h.7M34.5 31.9h.7M22 26.6h.7M40.4 38.1h.7M3.2 28.9h.7M37 34.4h.7M27 32.7h.7M8.1 32.2h.7M6.8 24.4h.7M37.2 39.3h.7M40.3 31.9h.7M32.8 22.8h.7M38.5 33.6h.7M28.5 36.2h.7M28.9 34.4h.7M15 34.8h.7M5.8 36.8h.7M19.5 38.5h.7M8.7 36.7h.7M38.4 37.5h.7M26.4 36.4h.7M8.2 27.6h.7M25.2 27.5h.7M7.6 22.6h.7M25.3 33.4h.7M10 26.8h.7M2.2 40.9h.7M19.6 26.7h.7M4.4 35h.7M12 27.4h.7M18.5 33.9h.7M34 32.7h.7M31.1 33.4h.7M3.1 36.1h.7M13 23.7h.7M20.7 30.9h.7M34.8 38.5h.7M1.8 31.9h.7M5.5 30.8h.7M36.9 29.7h.7M2.2 47.6h.7M16.7 37.6h.7M22.8 29.9h.7M13.8 30.6h.7M15.1 31.3h.7M28.5 23.3h.7M7.4 21.2h.7M7.2 34.7h.7M14.3 19.8h.7M1 21.1h.7M28.3 26h.7M34.5 33.5h.7M3.9 28.4h.7M31 29.5h.7M29.3 29.5h.7M31.4 33.4h.7M28.7 24.4h.7M38.9 28.8h.7M10 28.6h.7M10.9 23.6h.7M37 27.1h.7M23.9 43.5h.7M39.9 38.5h.7M15.2 26.2h.7M18.8 24.3h.7M17.1 27.3h.7M36.9 33.3h.7M5.9 37.9h.7M7 31.6h.7M23.4 33.5h.7M25.4 24.9h.7M22.4 37.4h.7M28 35.8h.7M.9 34.3h.7M6.6 33.6h.7M24.4 29.8h.7M15.5 27.3h.7M34 23h.7M39.6 36.9h.7M40.5 30.9h.7M31.3 31.2h.7M21.5 36.4h.7M34.7 40.6h.7M27.5 38.1h.7M24.3 27.9h.7M16.6 34.7h.7M29.3 24.6h.7M35.9 34.8h.7M3.6 43.8h.7M7.9 33.4h.7M33.4 29.1h.7M.5 34h.7M17.6 30.6h.7M.5 31h.7M11.8 38.1h.7M10.5 26.3h.7M16.5 25.2h.7M11.7 35.9h.7M14.6 28.3h.7M17.6 31.9h.7M30.7 30.3h.7M14.3 32h.7M23.4 32.6h.7M22.9 36.9h.7M14.9 36.2h.7M2.7 41.3h.7M37.2 37.3h.7M22.3 35.6h.7M16.8 24.7h.7M13.1 24.6h.7M2.5 35.2h.7M24.6 41.8h.7M30.9 28.6h.7M28.3 34.8h.7M23.3 34.5h.7M14.1 30.5h.7M29.7 47h.7M20.1 44.3h.7M4.7 40.8h.7M14.2 42.1h.7M12.8 30.3h.7M11.6 42.8h.7M30.6 47.2h.7M17.8 27.5h.7M34.8 31.9h.7M30.9 37.3h.7M19.1 26.7h.7M9.8 43.4h.7M19.8 46.5h.7M34.7 38.4h.7M42.3 26.1h.7M17.2 38.4h.7M2.3 46.2h.7M6.4 39.5h.7M11.7 34.9h.7M20 32.7h.7M7.4 41.5h.7M26.9 27.9h.7M41.8 28.5h.7M9.6 32.5h.7M15.7 37.4h.7M38.8 28.3h.7M24.7 40.5h.7M11.1 34.2h.7M19.1 46.6h.7M33.4 37.1h.7M3 34.3h.7M35.1 36.1h.7M16.8 40.8h.7M1.7 41h.7M29.5 28.6h.7M17.9 45.9h.7M11.3 38.3h.7M14.9 38.8h.7M16.8 34h.7M39.8 42.1h.7M42.9 33.8h.7M20.1 34.5h.7M37.3 34.5h.7M29.2 30.1h.7M23.3 32.3h.7M39.3 34.5h.7M41 39.1h.7M14.7 38.8h.7M40 42.1h.7M35.4 39.1h.7M26.6 29.2h.7M35.8 40.9h.7M27.9 33.1h.7M32.8 38.2h.7M13.8 49h.7M33.2 41.7h.7M36.1 42.2h.7M16.5 48.2h.7M38.9 41.6h.7M18.7 37.6h.7M2 46.6h.7M35.7 39.8h.7M20 44.6h.7M.9 35.3h.7M10.8 40.1h.7M15.2 40.1h.7M38.6 35.5h.7M4.9 26.3h.7M35.9 36.9h.7M19 26.7h.7M4.4 26h.7M38.5 27.1h.7M13.8 37h.7M24.7 31.2h.7M27.8 40.8h.7M42.3 28.2h.7M12.7 28.4h.7M12.5 30.9h.7M1.3 44.7h.7M11.8 43.3h.7M35 44.5h.7M1.1 39.6h.7M36.6 40.7h.7M26 35.9h.7M35.4 38.4h.7M15.1 37.5h.7M20.3 30.3h.7M28.9 45.4h.7M28.1 26.2h.7M17.4 43.8h.7M5.6 37.7h.7M29.4 38.4h.7M14.2 26.4h.7M30.3 29.9h.7M25.9 38.2h.7M31.1 28.6h.7M41.9 43.4h.7M37.5 30.3h.7M31 34.8h.7M30.1 42.2h.7M17.6 48h.7M18.8 36.8h.7M30.7 29.5h.7M38.5 33.7h.7M38.2 29.4h.7M5.3 39.7h.7M10.3 36.2h.7M8.6 42.8h.7M31.7 41.9h.7M5.8 27.1h.7M25.1 27.9h.7M30.8 38.7h.7M40.1 45h.7M28.2 45.2h.7M21.8 32.7h.7M2.6 42.3h.7M28.6 40.7h.7M22 36.6h.7M39.5 34.7h.7M6 48.1h.7M32.7 46.8h.7M42.4 36.1h.7M6.7 37.4h.7M21.1 35h.7M33.8 31.8h.7M41.7 30.9h.7M12.2 45.3h.7M10.1 42.8h.7M11.8 35.5h.7M20.2 31.7h.7M35.4 47.8h.7M39.8 29.7h.7M1.1 36.2h.7M31.8 38.7h.7M41.3 48.9h.7M29.4 32.1h.7M17.3 27.5h.7M16.9 43.4h.7M13.6 30.3h.7M23.2 46.8h.7M27.8 28.6h.7M18.6 31.3h.7M34.9 35.7h.7M19.1 46.4h.7M12.8 36.4h.7M42.2 33.1h.7M23.2 41h.7M14.4 40.6h.7M18.1 45.3h.7M23.9 42.9h.7M24.6 42.2h.7M16.8 29.4h.7M15.6 33.6h.7M.6 43.8h.7M22.6 37.1h.7M30.3 27.5h.7M5.4 42.6h.7M1.8 46.2h.7M21.8 48.4h.7M36.9 35.5h.7M14.8 36.1h.7M33.1 36.7h.7M31 49h.7M32.2 37.9h.7M31.9 37.5h.7M25 35.8h.7M40.2 48.9h.7M24.4 39h.7M4.4 39.1h.7M40 31.6h.7M33.3 31.9h.7M30.7 32.5h.7M25.6 44h.7M1.4 45.5h.7M22.5 31.7h.7M13.2 38.9h.7M31.9 30.1h.7M3 31.4h.7M27.3 35.4h.7M32.8 42.9h.7M15.8 39.7h.7M6.3 40.1h.7M27.8 31.5h.7M28.7 29.2h.7M41.8 38.7h.7M39.7 41.5h.7M9.2 43h.7M26.4 34.8h.7M29.8 43.6h.7M29.2 31.1h.7M41.5 47.1h.7M18.7 47.5h.7M42.7 34h.7M8.2 31.7h.7M21.1 29.4h.7M10.2 43h.7M.8 40.2h.7M17.5 42.5h.7M11.1 37.1h.7M9.2 26.4h.7M39 40h.7M42.1 41.6h.7M39.1 29.1h.7M40.1 30.1h.7M42.7 40.3h.7M36.2 41.1h.7M41.8 26.1h.7M40.9 35.3h.7M37.7 33h.7M43.5 25.8h.7M39.3 34.4h.7M41.2 38.1h.7M41.9 25.1h.7M36.3 30.6h.7M40.9 31h.7M41.9 36.3h.7M38.2 29.2h.7M39.5 26.9h.7M40.7 24.6h.7M37.7 24.4h.7M41.6 40.2h.7M42 24.5h.7M40.6 33.3h.7M39.9 41.3h.7M41.8 36.5h.7M38.1 30.6h.7M40.1 23.1h.7M45.7 27.3h.7M43.4 40.8h.7M35.4 24.1h.7M41.6 30.3h.7M38.6 26.4h.7M37.3 21.5h.7M39.8 25.7h.7M39.4 26.7h.7M39.3 38.3h.7M39.3 40.2h.7M41.2 33.6h.7M43.7 27.5h.7M43 33.3h.7M40.6 27h.7M44.7 41.2h.7M38.9 28.7h.7M39.6 31.2h.7M39.3 33.8h.7M43.8 32.9h.7M42.5 22h.7M42.3 24.3h.7M37.5 33h.7M38.5 40.5h.7M40.7 34.4h.7M39.2 40.2h.7M36.4 41.5h.7M37.9 33.1h.7M42.1 30.6h.7M43 36.7h.7M43 38.5h.7M38.6 41.8h.7M43.2 29.2h.7M40.8 32.9h.7M40.6 38h.7M41.1 36.9h.7M42.5 25.2h.7M37.8 24h.7M40.8 32.5h.7M38.7 42h.7M42.6 22.2h.7M43.3 35.9h.7M42 34.2h.7M39.7 22h.7M38.9 32.8h.7M42.6 29.7h.7M39.6 40.4h.7M44.4 33.5h.7M42.2 27.3h.7M39.5 27.6h.7M39.3 25.2h.7M36.7 29h.7M38.6 23.6h.7M39.2 33.1h.7M41.3 35.4h.7M40.5 39h.7M42.1 40.1h.7M41.5 30.4h.7M38.1 39.3h.7M46.6 23h.7M43.8 40.9h.7M41.7 42.4h.7M42.6 36.9h.7M39.3 42h.7M39.8 40.9h.7M44.9 41.2h.7M37 25.7h.7M43.3 33.6h.7M37.9 41.2h.7M41.7 24.7h.7M41.9 27h.7M39.1 40.7h.7M38.5 38.7h.7M39.6 21h.7M43.6 23.6h.7M34.7 42.2h.7M43.1 27.2h.7M39.4 29.1h.7M42.2 41h.7M37 27.3h.7M41.3 23.4h.7M42.4 25.2h.7M39.8 33.6h.7M42.2 40.3h.7M40.9 29.1h.7M40.5 33.1h.7M39.9 21.7h.7M40.3 31.3h.7M38.7 34.6h.7M40 39.4h.7M42.9 42.4h.7M34.9 42.4h.7M37.9 29.1h.7M39.8 38.3h.7M40.9 24.7h.7M43.3 33h.7M40.4 42.8h.7M40.7 29.5h.7M43.1 40.3h.7M42.3 34.2h.7M38.8 39.5h.7M43.6 42h.7M38.3 42.4h.7M39.6 35.3h.7M38.8 37.1h.7M37 29.5h.7M39.4 36.8h.7M42 23.2h.7M41.5 33.2h.7M42.4 27.5h.7M34.4 29.2h.7M44 32.6h.7M37.8 33.1h.7M42.4 38.9h.7M38.1 32.5h.7M40.3 25.1h.7M42.3 25.7h.7M41.6 21.9h.7M39.3 30.1h.7M39.9 37.6h.7M38.5 30.9h.7M38.6 38.5h.7M42.9 36h.7M42.8 26.8h.7M39.2 37.4h.7M41.8 21.7h.7M41.9 42.7h.7M41.8 41.5h.7M38.2 22.1h.7M42 36h.7M42.7 38.2h.7M40.1 22.9h.7M42.6 25.7h.7M40.6 34.6h.7M42.2 40.7h.7M41.7 40.6h.7M39.7 33.9h.7M41.1 22.2h.7M39.8 25.8h.7M39.9 32.1h.7M42.6 39h.7M40.5 30.1h.7M40.1 34.4h.7M36.6 30.6h.7M38.5 28.4h.7M38.4 41.4h.7M37.2 32.6h.7M38.5 31.6h.7M38.7 31.8h.7M37.5 43h.7M33.5 27.7h.7M40.7 38.9h.7M40 33.2h.7M42 30.2h.7M38.7 30.4h.7M41.3 31.6h.7M43.6 33.6h.7M42.8 36.6h.7M40.5 25.3h.7M41.2 31.4h.7M37.6 35.9h.7M42.3 34.3h.7M43.4 22h.7M41.5 41.3h.7M38.6 36.5h.7M41.2 23.9h.7M40.7 35.2h.7M37.9 22.9h.7M39.3 27.1h.7M36.2 29.8h.7M40.1 40.5h.7M40.9 25.5h.7M40.2 40.6h.7M39.4 27.3h.7M39.9 29.7h.7M40.6 41.3h.7M40.4 32.7h.7M41.2 33.6h.7M39.5 41.5h.7M35.5 40.2h.7M42.6 35.6h.7M41.3 33.8h.7M40.7 30.2h.7M41.5 40h.7M39.6 35.7h.7M43.3 40.2h.7M39.2 24.2h.7M39.1 40.9h.7M42.9 38.6h.7M39.7 32.2h.7M36.7 28.1h.7M45.7 42.3h.7M43 42.9h.7M38.9 35.5h.7M35.2 41h.7M43 38.5h.7M38 27.2h.7M43.6 24.6h.7M40.9 26.6h.7M41.7 41h.7M41.8 42.9h.7M37.7 37.4h.7M37.6 36.1h.7M41.6 23.8h.7M39.1 26.3h.7M42.5 35.5h.7M40.9 26.3h.7M45.8 38.2h.7M40.8 41.5h.7M38.8 31.7h.7M41.1 39.3h.7M38.7 31.6h.7M42.4 34h.7M40.6 37.3h.7M37.3 35.7h.7M41.6 32.6h.7M44.2 28.6h.7M42.7 38h.7M41.1 30.6h.7M35.7 36.2h.7M41.2 38.8h.7M40.3 41.7h.7M41.2 30.9h.7M36.3 23.2h.7M44.1 33.9h.7M42.7 28.5h.7M39.8 29.3h.7M45.2 35.1h.7M40.4 27.6h.7M38.8 38.6h.7M40.9 34.3h.7M36.9 42.7h.7M37.1 36.3h.7M41.3 33.5h.7M38.9 27.3h.7M44.9 39h.7M39.3 42.2h.7M37.7 29.7h.7M36.8 36.5h.7M35.5 37.4h.7M40.4 29.4h.7M41.3 38.2h.7M39.8 30.4h.7M41 31.9h.7M39.8 40.8h.7M44.7 37.7h.7M38.9 35.5h.7M39.4 35.8h.7M43.6 33.9h.7M39.9 28.8h.7M38.8 40.9h.7M38.8 35.3h.7M42.5 24.4h.7M45.5 31.2h.7M41.1 38.6h.7M43.4 26.2h.7M38.4 38.6h.7M39 29.5h.7M41.5 25.6h.7M44.4 27.9h.7M38.3 23.3h.7M42.4 42.7h.7M34.8 29.5h.7M44.5 36.9h.7M39 31.1h.7M41.6 24.4h.7M39.7 31.4h.7M39.6 31.5h.7M38.6 24.8h.7M39.1 35.6h.7M38.4 38.2h.7M41.9 22.7h.7M37.1 25.7h.7M37.2 24h.7M15.6 62.3h.7M5.9 56.1h.7M10.8 52.6h.7M5.9 59.1h.7M7.8 54.4h.7M9 49.1h.7M7.5 52.1h.7M2.7 55.9h.7M11.2 55.9h.7M8 58.3h.7M6.7 63.4h.7M3.4 47.3h.7M9.1 58.7h.7M6.1 53.8h.7M5.5 51.2h.7M12.7 61.4h.7M4.5 56.5h.7M7.4 49.4h.7M11.7 56h.7M15.9 62.2h.7M14.5 51.5h.7M1.8 60.6h.7M1.7 58.5h.7M2.8 58.8h.7M.9 48.6h.7M13.9 55.7h.7M7.2 63.2h.7M12.5 50.9h.7M11.3 53.6h.7M7.4 52.4h.7M3.6 52.2h.7M4.4 50.3h.7M14 53.5h.7M9 60.6h.7M10.9 49.8h.7M15.2 62.6h.7M13.4 52.6h.7M13.3 57.8h.7M.5 53.4h.7M11.2 56.2h.7M15.2 60.2h.7M13.4 63.4h.7M5.5 62.2h.7M1.4 55.4h.7M7.1 48.4h.7M10.2 60.2h.7M3.6 51.2h.7M12.3 55.9h.7M15.1 51.8h.7M4.6 54.6h.7M14.2 60.6h.7M6.2 58.2h.7M.4 48.3h.7M6 57.7h.7M2.2 47.9h.7M13.7 50.3h.7M.9 48.6h.7M1.3 51.9h.7M9.3 58h.7M4.6 55.7h.7M5.3 56.8h.7M1.7 57.5h.7M3.3 56.3h.7M3 54.5h.7M4.2 57.8h.7M12.5 61.1h.7M15.6 54.7h.7M37.3 42.9h.7M39.2 48.6h.7M41 43.8h.7M40 40.5h.7M38.1 42.2h.7M39.3 39.4h.7M38.8 48.1h.7M41.4 44.1h.7M41 43.1h.7M36.4 47.6h.7M46.8 46.1h.7M42.1 53.9h.7M36.4 46.2h.7M39 43h.7M35 43.7h.7M41.2 37.7h.7M39.3 42.1h.7M37 46.6h.7M44.9 45.7h.7M43.1 47.1h.7M39.8 46.4h.7M44 42.4h.7M39.6 38.6h.7M34.4 40.8h.7M42.7 45.5h.7M40.8 49.3h.7M34.7 49.5h.7M40.3 47.1h.7M44.2 40.8h.7M37.4 45.7h.7M39.8 41.7h.7M39.6 41.2h.7M40.4 42.5h.7M45.1 39.9h.7M41.7 44.4h.7M44.8 40.2h.7M38.6 50.9h.7M38 42.5h.7M38.8 40.2h.7M43.7 50.1h.7M39.5 41.1h.7M35.9 46.7h.7M38.4 46.2h.7M32.7 42.4h.7M41.9 45.7h.7M31.4 45.2h.7M40.4 44h.7M39 42.3h.7M40.4 46.1h.7M30.5 44h.7" stroke="#000" stroke-opacity="0.55" stroke-width="0.7" fill="none"/>
<g filter="url(#b1)"><path d="M275 49L296.1 49.5" stroke="#000" stroke-width="6.2" fill="none"/><path d="M296.1 49.5L309 49.8" stroke="#000" stroke-width="6.2" fill="none" stroke-opacity="0.72"/><path d="M303 49.8Q315.6 49.3 315.6 58.8L315.1 63.5" stroke="#000" stroke-width="4.8" fill="none" stroke-linecap="round" stroke-linejoin="round" stroke-opacity="0.72"/><rect x="275" y="48" width="2" height="2" fill-opacity="0"/></g>
<rect x="275" y="98" width="57.9" height="62.6" fill="none" stroke="#9c9c9c" stroke-width=".7"/>
<line x1="292.5" y1="98" x2="292.5" y2="160.6" stroke="#9c9c9c" stroke-width="0.7"/>
<line x1="275" y1="144.8" x2="332.9" y2="144.8" stroke="#9c9c9c" stroke-width="0.7"/>
<line x1="275" y1="98" x2="275" y2="160.6" stroke="#7a7a7a" stroke-width="0.9"/>
<line x1="275" y1="160.6" x2="332.9" y2="160.6" stroke="#8a8a8a" stroke-width="0.8"/>
<line x1="275" y1="161.4" x2="275" y2="162.8" stroke="#aaa" stroke-width="0.6"/>
<line x1="289.5" y1="161.4" x2="289.5" y2="162.8" stroke="#aaa" stroke-width="0.6"/>
<line x1="303.9" y1="161.4" x2="303.9" y2="162.8" stroke="#aaa" stroke-width="0.6"/>
<line x1="318.4" y1="161.4" x2="318.4" y2="162.8" stroke="#aaa" stroke-width="0.6"/>
<line x1="332.9" y1="161.4" x2="332.9" y2="162.8" stroke="#aaa" stroke-width="0.6"/>
<text x="273.4" y="97" font-size="3" font-weight="bold" text-anchor="end" fill="#6a6a6a">10</text>
<text x="273.4" y="112.7" font-size="3" font-weight="bold" text-anchor="end" fill="#6a6a6a">10</text>
<text x="273.4" y="128.3" font-size="3" font-weight="bold" text-anchor="end" fill="#6a6a6a">10</text>
<text x="273.4" y="143.9" font-size="3" font-weight="bold" text-anchor="end" fill="#6a6a6a">10</text>
<text x="273.4" y="159.6" font-size="3" font-weight="bold" text-anchor="end" fill="#6a6a6a">10</text>
<text x="271" y="134.3" font-size="2.7" transform="rotate(-90 271 134.3)" fill="#666">Thy1.2</text>
<g filter="url(#b2)"><path d="M275 115L317 116L318 138L309 138L275 132z" fill-opacity="0.13"/><g opacity=".4"><path d="M275 118.2L296.1 119.3" stroke="#000" stroke-width="9.5" fill="none"/><path d="M296.1 119.3L309 120" stroke="#000" stroke-width="9.5" fill="none" stroke-opacity="1"/><path d="M303 120Q316.2 119.5 316.2 129L315.7 136" stroke="#000" stroke-width="9.5" fill="none" stroke-linecap="round" stroke-linejoin="round" stroke-opacity="1"/><rect x="275" y="117.2" width="2" height="2" fill-opacity="0"/></g></g>
<path transform="translate(275 98)" d="M39.6 16.1h.7M28.3 25.4h.7M3 21.7h.7M40.1 19.2h.7M5.4 22.8h.7M21.1 17.9h.7M7.5 14.3h.7M22.8 20.6h.7M40.2 13.9h.7M5.5 18.2h.7M30.2 15h.7M13.8 16h.7M19 21h.7M15.2 17.7h.7M34.7 18.3h.7M.6 16.5h.7M31.3 18.4h.7M15.8 21.2h.7M5.6 22.8h.7M39.6 15.9h.7M27.6 22.1h.7M40.8 23.6h.7M7 21.2h.7M11.3 19h.7M35.6 19.8h.7M17.6 20.7h.7M21.5 21.5h.7M14.3 18.4h.7M14.6 19.9h.7M20.7 23.4h.7M34.5 22.4h.7M24.2 23.3h.7M3.4 22.9h.7M5.8 23.6h.7M7.3 20h.7M11.4 24.8h.7M6 24.3h.7M27.7 21.5h.7M23.9 16.9h.7M13.7 21.9h.7M3.2 15.2h.7M28.9 22.7h.7M7.5 22.6h.7M19.9 17.2h.7M13.3 15.6h.7M2.2 12.8h.7M22.6 22.4h.7M25.4 20.7h.7M38.9 16.1h.7M39.1 20.3h.7M5.8 13.9h.7M10.9 18.8h.7M35.3 16.5h.7M31.7 19.5h.7M27 22h.7M4.5 17.1h.7M16.4 20.1h.7M26.8 17.3h.7M2.5 16.3h.7M36.7 18.6h.7M25.1 13.6h.7M26.5 24.3h.7M26 16.9h.7M1.6 24.6h.7M34.7 21.3h.7M15.8 20.8h.7M34.5 23.9h.7M31 21.9h.7M8.5 21.3h.7M30.6 20.4h.7M16.9 26.7h.7M7.9 18.2h.7M36 21.5h.7M.9 16.8h.7M1.6 21.1h.7M9.1 26.1h.7M17.2 19.6h.7M35.8 25.9h.7M29.8 16.9h.7M23.3 15.1h.7M24.7 19.9h.7M39.9 23.6h.7M31 26.6h.7M18.1 21.6h.7M16 17.8h.7M23.6 22.6h.7M34.7 20.1h.7M27 22.7h.7M27.2 19h.7M36.4 24.3h.7M34.4 17.2h.7M26 18.3h.7M21.3 19.5h.7M40.1 21.6h.7M12.4 19.6h.7M9.8 20.9h.7M31.4 18.7h.7M8 15.1h.7M5.1 26.9h.7M23.8 19.4h.7M2.7 24.9h.7M27.8 20h.7M13.5 27.9h.7M27.4 27.8h.7M26 21.6h.7M37.5 20.6h.7M30.5 19.3h.7M15.6 22h.7M27.2 26.7h.7M14.3 24.1h.7M2.4 21.6h.7M9.8 21.7h.7M30.7 21h.7M11 22.4h.7M32.8 20.3h.7M30.2 17.7h.7M5.7 16.3h.7M34 24h.7M7.7 17.9h.7M3.5 19.3h.7M13 28.4h.7M11.5 19h.7M32.4 20.3h.7M32 20.2h.7M36.9 21.3h.7M33.2 20.7h.7M39.1 18.5h.7M26.3 29.1h.7M28.6 22.2h.7M7.5 23.1h.7M26.1 17.5h.7M1.1 20.8h.7M.6 25h.7M7.9 23.6h.7M5.6 21.5h.7M32.2 15.1h.7M37.4 22.3h.7M39.8 21.8h.7M32.6 23.3h.7M13.6 22.6h.7M25.7 19.2h.7M10.5 19.4h.7M17.3 17.4h.7M29.6 21.2h.7M7.1 18.2h.7M8.7 20.3h.7M29.4 15.6h.7M33.1 20.9h.7M14.4 17.9h.7M32.6 19h.7M8.7 15.2h.7M9.1 21.5h.7M27.2 19.5h.7M4.3 20.2h.7M26.7 22.4h.7M35.4 16.2h.7M27.3 21.4h.7M24.4 14.2h.7M21.8 21.4h.7M3.5 21.6h.7M4.6 17.6h.7M23.1 21.9h.7M34 19.7h.7M34.2 27.3h.7M7.9 17.9h.7M2.7 18.4h.7M9 19.9h.7M1 19.9h.7M33.1 24.7h.7M3 14.8h.7M1 21.5h.7M14.2 17.5h.7M28.7 17.6h.7M6.2 19.1h.7M4.7 18h.7M1.6 12.8h.7M9.2 17.3h.7M20.1 19.7h.7M20.6 20h.7M17.2 21.6h.7M33.3 23.1h.7M33.2 23.5h.7M23.4 16h.7M32 26.5h.7M40.9 19.6h.7M18.5 23.6h.7M34.5 17.6h.7M21.1 17.4h.7M36.5 19.6h.7M7.2 21.1h.7M10 27h.7M22.8 25.1h.7M32.7 16.8h.7M9.2 20.9h.7M36.5 17.7h.7M30.4 22h.7M35.6 24.2h.7M17.4 20h.7M33.9 18.6h.7M19.6 21.1h.7M12.5 19.6h.7M14.3 25.4h.7M25.6 19.8h.7M32 22h.7M31.8 19.2h.7M7.1 15.5h.7M20.6 22.9h.7M24.2 15.4h.7M25.9 20.8h.7M34.7 21.5h.7M.7 19.5h.7M28.7 23.6h.7M28.6 25.3h.7M11.1 14.4h.7M10.2 21.9h.7M4.2 21.6h.7M39.4 17.4h.7M2.4 17.9h.7M37.4 20.8h.7M8.4 25.2h.7M11.1 22.4h.7M11.7 22.9h.7M23.4 19.7h.7M5.4 17.4h.7M21.1 17.3h.7M15.1 22h.7M6.8 23.4h.7M26 23.9h.7M28.2 17.9h.7M8.1 16.8h.7M37.5 17.2h.7M10.7 19.1h.7M15.5 23.2h.7M33 20.1h.7M5.1 17.6h.7M9.6 18.3h.7M12.4 16.2h.7M16.7 22.8h.7M35.3 24.1h.7M17.9 25.2h.7M32.5 18.5h.7M36.7 22.1h.7M26.1 19.6h.7M29.1 16.5h.7M39.2 20.2h.7M14.3 11.5h.7M12.2 24.4h.7M36.4 16.5h.7M17.9 13.4h.7M8.3 23.8h.7M6.8 21h.7M17.1 22.4h.7M15.7 19.1h.7M14 20.1h.7M20.8 23.6h.7M37.1 21.8h.7M26.8 26.3h.7M20.3 18h.7M.9 23.4h.7M34.5 22.1h.7M13.6 23.6h.7M22.1 24.1h.7M19.2 22.9h.7M23.5 23.1h.7M29.1 21.4h.7M34.1 19.8h.7M13.2 17.4h.7M33.1 22h.7M18.1 23.3h.7M6.1 21.3h.7M.7 22.5h.7M18.5 21h.7M22.3 25.4h.7M40.2 13h.7M28.3 18.3h.7M15.9 21.7h.7M32.5 21h.7M27.1 19.8h.7M26.2 22.1h.7M38.1 20.8h.7M21.9 31h.7M8.5 21.8h.7M38 25.2h.7M8.3 19.9h.7M8.5 21.5h.7M9.2 17.7h.7M27.2 21.5h.7M9.8 19.5h.7M6.9 23h.7M2.1 19.8h.7M27.6 20.5h.7M2 12.9h.7M25.2 21.1h.7M12.6 17.1h.7M13.2 21.8h.7M2.2 20.6h.7M8.5 21.2h.7M13.6 23.4h.7M8.2 22.4h.7M20.9 18.8h.7M30.4 16.9h.7M32 18.4h.7M1.7 20.3h.7M28.4 18.6h.7M3.4 21.6h.7M7.4 22.5h.7M34.7 18.3h.7M34.6 20.6h.7M36.4 22.9h.7M9.7 13.7h.7M19.1 15.7h.7M17.4 26.2h.7M38 19h.7M29 20.5h.7M.9 20.5h.7M37.8 14.2h.7M39.3 18.9h.7M9.7 22.3h.7M7.3 19.2h.7M11.2 27.4h.7M14.4 19.7h.7M19.8 22.7h.7M36.8 15.4h.7M14.9 20.4h.7M38.3 24.5h.7M25.1 21.7h.7M20.8 18.6h.7M37.6 15.5h.7M33.1 18h.7M18.2 18.2h.7M18 15.5h.7M21.3 22.6h.7M40.5 14.6h.7M15.1 18.1h.7M34.9 16.9h.7M9.9 17.4h.7M32.9 21h.7M29.1 21.9h.7M5.8 19.7h.7M24.2 20.7h.7M3.3 16.7h.7M24 17.7h.7M11.1 17.6h.7M14.2 20.6h.7M15.6 25.8h.7M29.3 18.2h.7M11.5 19.1h.7M27.5 25h.7M6.3 14.3h.7M10.6 21.5h.7M15.8 21.2h.7M29.4 24.1h.7M6 17.5h.7M15.4 21.6h.7M23.6 22.2h.7M20.6 21.3h.7M36.7 22.9h.7M25.8 18h.7M12.3 18.2h.7M31.2 25.1h.7M39.2 21.1h.7M26 21.1h.7M32.2 20.7h.7M7.6 15.6h.7M27.7 22.5h.7M11.8 16.9h.7M19.2 13.6h.7M16.2 17.4h.7M28.2 14.4h.7M38 22.2h.7M10.3 11.9h.7M27.6 20.7h.7M14 21.5h.7M38.8 19.9h.7M38 23.3h.7M40.3 20.8h.7M33.8 17.5h.7M2.7 20.7h.7M13.7 20h.7M9.9 22h.7M34.9 17.9h.7M20 18.1h.7M1.9 21.7h.7M18.6 28.2h.7M38.2 18.1h.7M4 14h.7M6.3 21.8h.7M2.7 19.9h.7M30.3 21.7h.7M29.2 21.4h.7M28.8 20.3h.7M32.5 21h.7M40.2 21.9h.7M32.4 22.3h.7M27 21.2h.7M7 18h.7M3.8 20.3h.7M19.9 14.1h.7M14.5 23.6h.7M6.8 21.5h.7M13.6 24.5h.7M27.4 19.4h.7M24.8 21.7h.7M39.8 25.3h.7M3.7 21.2h.7M8.3 17.3h.7M26.9 21.5h.7M8.1 18.2h.7M20.5 21.2h.7M40.6 24.4h.7M1.1 17.6h.7M6.8 20.6h.7M24.1 23.6h.7M22.9 19h.7M28.7 25.6h.7M13.7 13.4h.7M7.3 23.5h.7M36.2 18.4h.7M6 20.1h.7M5.4 18.1h.7M5 17.5h.7M27 22.8h.7M38.4 16.9h.7M16.8 21.8h.7M15.7 19.9h.7M10.5 20.1h.7M29.6 21.9h.7M18.1 15.4h.7M16.8 20.9h.7M40.9 22.9h.7M24.1 17h.7M20.2 22.4h.7M12.1 16.9h.7M36.8 22.3h.7M36.5 19.8h.7M9.1 23.2h.7M39.1 23.1h.7M.5 22.3h.7M18.9 19.5h.7M6.2 19.8h.7M20.5 17.4h.7M2.2 20h.7M13.3 19h.7M24.6 21.5h.7M9 14.8h.7M.6 18.5h.7M20.4 15.7h.7M28.3 15.2h.7M34.3 19.3h.7M33.4 18.6h.7M31 13.2h.7M2 20.2h.7M37.2 18.1h.7M32.7 23.6h.7M6.9 19.1h.7M1.5 19.6h.7M39.2 21.3h.7M4.9 23h.7M38.2 14.4h.7M11.2 19.6h.7M19 20.2h.7M29 24.6h.7M23.5 17.8h.7M39 19.3h.7M.8 21.9h.7M39.9 24.8h.7M34.7 20.7h.7M18.7 27.7h.7M23.4 17.5h.7M36.1 17h.7M36.8 17.9h.7M12.9 26.1h.7M28 22.8h.7M12.3 23.7h.7M40.8 19.1h.7M39.4 18h.7M4.7 19.6h.7M.7 14.9h.7M18.9 30h.7M4.1 28.5h.7M26.1 18.7h.7M38.3 20.2h.7M23.5 18.4h.7M6.3 18h.7M13.4 22h.7M20.3 20.6h.7M16 20.1h.7M8.5 18h.7M21.4 19.1h.7M8.5 17.2h.7M5.1 17.6h.7M32.7 22.8h.7M9.8 16.9h.7M8.5 24.2h.7M1.6 26.5h.7M13 18.7h.7M11.6 23.7h.7M32.2 27.9h.7M36.3 25.8h.7M34.4 22.1h.7M38.4 30h.7M7.1 33.8h.7M40.4 28.5h.7M30.4 22.1h.7M12 32.5h.7M3.1 29.3h.7M18.7 31h.7M10.9 21.8h.7M8.7 21.4h.7M37 24.9h.7M7 21.7h.7M15.5 28.2h.7M7.6 22.3h.7M8 31.2h.7M13.1 15.3h.7M19.8 25h.7M14.2 32.9h.7M14.1 28.3h.7M4.7 20.2h.7M14.4 28.1h.7M30.1 25.8h.7M2 25.7h.7M21.5 22h.7M9.4 23.1h.7M14.1 26h.7M21.7 22.1h.7M9.4 23.1h.7M30.9 31.8h.7M38.6 13.1h.7M28.8 23.2h.7M28.8 27.8h.7M17.2 25.9h.7M24.8 29.2h.7M29.1 27.3h.7M8.4 24.1h.7M26.1 34.2h.7M38 34.6h.7M25.9 26.5h.7M31.4 33.4h.7M14.1 23h.7M37.3 21.5h.7M31.8 23.9h.7M36.5 21.5h.7M24.7 25.4h.7M4.4 23h.7M22.9 29.3h.7M9.1 40h.7M36.7 25.4h.7M23.7 29.8h.7M13.2 33.9h.7M4.1 26.7h.7M12.7 31.5h.7M21.6 30.8h.7M13 24.5h.7M33.6 22.2h.7M27.8 26.5h.7M1.2 36.4h.7M9.6 39.1h.7M22 29.2h.7M34.5 29.2h.7M36.9 26.9h.7M.8 24.3h.7M15.8 18.5h.7M36.5 27.6h.7M11.5 21.2h.7M6.5 32.5h.7M21.5 29.9h.7M7.7 25h.7M12.4 26.6h.7M27.4 30.5h.7M5.5 32h.7M36.2 29.8h.7M37.6 38.2h.7M39.6 25.5h.7M2.9 34.4h.7M39.9 26.5h.7M5.7 25.7h.7M4.3 20.2h.7M32.4 36.6h.7M13.4 27.3h.7M22.3 26.3h.7M16 37h.7M27 32.1h.7M40.8 22.6h.7M5.2 21.6h.7M19.5 32.1h.7M26.2 23.1h.7M18.8 26.5h.7M9 27.6h.7M7.6 28.4h.7M31 27.9h.7M40.8 24h.7M8.6 18.1h.7M34.8 19.8h.7M9.8 33.7h.7M12.3 23.5h.7M10.6 26.4h.7M29.8 30.5h.7M26.8 13.2h.7M14.4 20.5h.7M24.3 28.3h.7M37.6 15.4h.7M19.6 21.8h.7M18.3 31.4h.7M19.8 27.8h.7M.5 24.7h.7M11 27.9h.7M36.2 29.1h.7M24.1 25.8h.7M19.9 31h.7M21.9 28.4h.7M17.4 25.3h.7M25.1 26.2h.7M25.1 29.4h.7M38.3 33h.7M36.5 22.5h.7M30.7 22.9h.7M18.6 25.7h.7M22.8 22.3h.7M30.1 21.2h.7M15.8 23.5h.7M14.4 24h.7M18.1 22.5h.7M15.5 25.2h.7M36 33.8h.7M8 23.4h.7M26.1 22h.7M27.2 26.4h.7M14.9 27.4h.7M21.4 19.2h.7M27 18.7h.7M26.8 21.8h.7M5.3 34.2h.7M36.3 21.5h.7M28.4 27.4h.7M22.3 29.5h.7M2.6 26.9h.7M24.4 27.5h.7M40.9 30.6h.7M21.7 25.7h.7M9.2 31.6h.7M10.3 36.1h.7M30.1 37.3h.7M14.7 37.6h.7M36.5 35.6h.7M3.9 31.3h.7M40.4 22.4h.7M18.1 26.4h.7M23.6 27.3h.7M9.8 29.6h.7M36.2 24.6h.7M13.7 29.8h.7M38.3 19.6h.7M23.6 24.5h.7M9.6 30h.7M4.2 25.7h.7M33.7 31.2h.7M6.5 26.9h.7M28.4 29.2h.7M6.9 34.9h.7M36 26.2h.7M6.2 29.1h.7M8.4 29.9h.7M39.8 30.2h.7M15.4 20.4h.7M3 32.2h.7M3.6 30h.7M7.2 23.8h.7M7.5 26.4h.7M16.4 13.2h.7M29.2 23.7h.7M12.9 27.8h.7M13.9 27h.7M3.7 35.9h.7M15.8 26.9h.7M39.5 25.7h.7M25.2 25.1h.7M8.3 24.3h.7M34.6 27.9h.7M33.5 26.9h.7M8.2 33h.7M3.9 30.1h.7M34.5 29.3h.7M5.9 23.6h.7M21 27h.7M28.9 25.6h.7M5.1 24.8h.7M3.3 29.1h.7M21.9 23.6h.7M37.1 37.5h.7M29.8 19.8h.7M13.6 26.5h.7M19.2 22h.7M18.2 25.5h.7M34.9 35.1h.7M35.2 26.4h.7M12.5 30.2h.7M20.5 28.6h.7M31.4 25.9h.7M31.9 16h.7M12.2 32.4h.7M13.5 29h.7M35.7 32.2h.7M31.7 23.5h.7M29.8 21.6h.7M39.1 26.3h.7M32.7 13.7h.7M6.1 20.6h.7M31.5 22.8h.7M5.2 25.6h.7M23.8 29.1h.7M36.8 24.7h.7M40.5 29.2h.7M19.9 33h.7M13.8 29.9h.7M38.6 29.7h.7M34.4 32.6h.7M20.5 25.2h.7M2.5 21.1h.7M40.7 29.9h.7M2.6 26.1h.7M39.8 25.7h.7M8.3 24.6h.7M8.4 20.3h.7M18.9 24.2h.7M16.2 28.5h.7M2.6 23.5h.7M22.2 14.2h.7M16.4 24.2h.7M30.3 26.8h.7M28.3 30.9h.7M5 30h.7M28.7 37.1h.7M2.7 27.9h.7M34.3 29.2h.7M29.2 32.7h.7M38.5 29h.7M29.3 25h.7M17.6 29.8h.7M38.4 31.8h.7M.8 25h.7M36.2 21.1h.7M19.5 27.1h.7M4.4 36.8h.7M28.2 26.5h.7M6.9 28.6h.7M34.9 33.2h.7M6 36.3h.7M38.1 33.9h.7M21.9 29.4h.7M24.5 30.2h.7M40.7 25.4h.7M23.4 28.4h.7M40.9 23.5h.7M29.5 23.6h.7M36 27.6h.7M23 37.4h.7M30.7 26.3h.7M29.6 31.6h.7M29.3 35.2h.7M4 29.1h.7M9 28h.7M31.3 27.8h.7M15.1 19.3h.7M38.5 29.1h.7M18.1 29.9h.7M10.7 26.2h.7M30.5 17.6h.7M13.3 23.2h.7M22.5 24.9h.7M21.8 32.5h.7M33.3 34.9h.7M31.9 30.1h.7M30.7 29h.7M33.1 18.4h.7M17.5 19.2h.7M9.3 22.8h.7M15.6 27.7h.7M32.1 23.5h.7M24.3 34.1h.7M.9 17h.7M26.6 26.3h.7M34.9 16.6h.7M1.6 14.6h.7M17.4 29.7h.7M12.1 35h.7M27.3 26.5h.7M25.2 26.2h.7M13.5 26.9h.7M25.9 34.2h.7M8.8 26.5h.7M2.3 25.1h.7M36.4 37.9h.7M40.8 21.7h.7M30.4 21.4h.7M21.9 24.4h.7M38.7 32.2h.7M8.3 25.9h.7M22 18.9h.7M37.8 31.2h.7M25.4 32.4h.7M5.3 30h.7M22 30.1h.7M19.2 20.2h.7M6.5 36.2h.7M20 22.8h.7M2.1 24.7h.7M16.3 22.5h.7M15.5 26.6h.7M26.7 29.7h.7M21.3 19.4h.7M20.6 30.5h.7M6.6 26.3h.7M27.3 33.4h.7M26 26.9h.7M31.4 22.3h.7M23.9 26.9h.7M25.7 29.6h.7M34.7 35.8h.7M33.7 24.2h.7M24.2 27.1h.7M35.3 31.2h.7M11.2 20.7h.7M.7 27.6h.7M4.6 29.8h.7M32.2 35.5h.7M3.6 34.7h.7M6.8 39.5h.7M32.8 18.3h.7M30.2 21.8h.7M4 28h.7M1.7 19.1h.7M38.6 25.5h.7M21.5 32.4h.7M22.8 25.3h.7M35 26.2h.7M21.5 31.8h.7M7.8 30.4h.7M17.7 25.4h.7M6.6 18.8h.7M11.8 33.9h.7M7.6 25.6h.7M25 27h.7M27 29h.7M4.6 31.8h.7M39.6 32.8h.7M2.8 27h.7M2.4 24.2h.7M.7 35h.7M37.2 28h.7M.5 27.9h.7M16.7 28.3h.7M13.2 30.3h.7M4.3 35.6h.7M25.9 31.5h.7M5.3 32.7h.7M8.1 30.9h.7M18.5 26.7h.7M27.1 33.3h.7M4.8 27h.7M27.4 24.3h.7M15.8 20.9h.7M33.6 32.8h.7M22.3 29.4h.7M37.6 27.7h.7M15.7 23.4h.7M24.4 25.7h.7M40.7 28.2h.7M18.6 28.8h.7M.6 29.2h.7M37.3 31.1h.7M38.7 32h.7M31.5 23.6h.7M27.6 24.8h.7M34.7 27.5h.7M9.8 33h.7M25.7 45.8h.7M25.4 29.2h.7M31.2 26h.7M4.6 22.3h.7M24.8 37.5h.7M20 36.8h.7M8.1 27.6h.7M25.2 32.8h.7M21.5 46.5h.7M20.1 41.9h.7M2.6 35.1h.7M2.3 27.3h.7M8.1 32.3h.7M6.8 47h.7M12.9 30.2h.7M3.1 31.9h.7M33.7 36.6h.7M38.4 38.5h.7M27.7 33.4h.7M35.9 34.1h.7M6 28h.7M34.3 23.5h.7M7.8 38.8h.7M29.3 34.5h.7M28.1 33.3h.7M25.4 23h.7M17.7 48.1h.7M24.7 31.1h.7M26.8 48.2h.7M20 33.2h.7M35.3 44.8h.7M9.7 39.9h.7M12.8 31.5h.7M34.5 31.7h.7M39.3 35h.7M37.3 25.5h.7M17.4 22.9h.7M36.9 45.8h.7M20.9 34.5h.7M41.7 32.4h.7M13.2 25.7h.7M39.5 43.5h.7M22.7 41.5h.7M35.9 39.9h.7M4.7 39.4h.7M37.5 34.7h.7M18.4 39.3h.7M8.2 28h.7M29.2 48.6h.7M4.9 39.8h.7M21.6 23h.7M6.9 30.2h.7M29.8 25.6h.7M16.1 38.6h.7M32.5 48.7h.7M36 27.1h.7M24 38.2h.7M23.8 38h.7M16.5 28.4h.7M28.7 45.4h.7M29.3 39.6h.7M41.2 28.8h.7M24.7 44.2h.7M28.1 22h.7M22 43.9h.7M8.7 32.6h.7M42.2 34.2h.7M23.4 38h.7M36.5 34.2h.7M38.6 40.9h.7M17.3 38.5h.7M12.9 23.4h.7M20.9 23.2h.7M12.9 44.6h.7M41.7 27.3h.7M7.1 31.5h.7M19.4 25.8h.7M34.7 26.2h.7M23.2 29.3h.7M27.8 25.1h.7M21.2 44.7h.7M.7 27.2h.7M3.1 44.4h.7M28.8 28.5h.7M38.7 26.6h.7M21 41.6h.7M25.8 23.8h.7M2 26.9h.7M40.7 46.1h.7M12.9 23.3h.7M27.3 27.3h.7M38.4 46.6h.7M33.6 42.8h.7M33.5 44.3h.7M16.3 41.3h.7M.5 40.6h.7M19.1 48.4h.7M33.8 34.1h.7M30.4 37.7h.7M26.5 22.2h.7M9.7 28.9h.7M30.2 46.6h.7M27 42.3h.7M27.4 25.9h.7M11 37.6h.7M32.4 33.2h.7M29.9 31h.7M13.5 26.5h.7M17.8 37.5h.7M4.7 46.9h.7M.4 41.6h.7M14.9 47.1h.7M12.3 22.7h.7M29.7 32.1h.7M35.2 39.9h.7M19 39.7h.7M29.3 30.8h.7M8.4 39.5h.7M24.5 23.3h.7M7 33.5h.7M3.9 36.1h.7M17 29.9h.7M32.3 41.8h.7M2.9 38h.7M42.7 38.3h.7M42.4 28.2h.7M9.5 30.8h.7M10.1 26.3h.7M11 35.4h.7M34.9 42.7h.7M1.7 42.5h.7M27.4 29.1h.7M5.8 28.8h.7M13.1 43.3h.7M40.6 46.5h.7M36.5 44.7h.7M20.3 23.5h.7M10.1 25.8h.7M5 25.6h.7M13.7 23.3h.7M12.7 44.9h.7M10.4 35.6h.7M36.6 22.4h.7M31.3 36.6h.7M1.3 45.9h.7M34.2 24.7h.7M41.3 37.5h.7M27.3 27.7h.7M1.3 40.9h.7M30.7 26.9h.7M1.5 37.4h.7M13.2 31.2h.7M37.3 37.2h.7M5.1 40.7h.7M31 37.2h.7M41 34.8h.7M27.9 23.5h.7M40 25.5h.7M44 30.8h.7M40.6 20.9h.7M40.1 24.3h.7M43.6 32.6h.7M41.4 38.2h.7M39.7 36.3h.7M42.3 36.8h.7M43.7 39.7h.7M42.5 31.7h.7M42.6 35.3h.7M46.3 33.2h.7M45.3 38h.7M39.5 34.8h.7M40.6 25.4h.7M43.9 38.3h.7M39.9 32.9h.7M47.4 30.9h.7M38.2 42.5h.7M37 26.6h.7M36.5 42.8h.7M41.6 28.1h.7M42.3 31.1h.7M43.6 28.3h.7M42.1 36.6h.7M42.7 34.1h.7M41.4 29.8h.7M40.6 29.1h.7M41.1 38.8h.7M38.2 30.9h.7M42.2 27.9h.7M41 23.7h.7M41.9 39.8h.7M43.3 31.9h.7M39.5 35.4h.7M38.9 26.5h.7M41.8 18.3h.7M38.2 25.3h.7M39.3 23.2h.7M41.1 26.1h.7M42.3 20.6h.7M44.4 26.2h.7M41.7 20.7h.7M40.2 28.3h.7M43.3 25.3h.7M41.9 29h.7M40.8 35.2h.7M43.9 40.5h.7M39 33.9h.7M41.7 37.6h.7M41.4 41.3h.7M46.8 27.3h.7M43.2 30h.7M41.4 24h.7M44.4 23.1h.7M34.5 26h.7M39.7 38.1h.7M44.8 22.9h.7M37 40.7h.7M40.6 37.9h.7M36.3 31.1h.7M41.3 29.9h.7M40.5 32.4h.7M42.6 23.6h.7M40.5 42.3h.7M40.7 22.7h.7M32 32.6h.7M40.4 40.6h.7M44 19.8h.7M33 36.6h.7M37.9 41.8h.7M43.9 35.1h.7M39.8 37.9h.7M35.6 26.4h.7M34.7 37.9h.7M36.6 26.1h.7M44.3 33.5h.7M37.1 35.4h.7M42.5 21.6h.7M43.2 34.3h.7M40.2 18.8h.7M39.7 22.8h.7M36.4 24.9h.7M39.6 41.7h.7M46.1 23.7h.7M44 32.7h.7M40.7 41h.7M39.5 27.1h.7M38.7 23.5h.7M41.8 39.5h.7M45.6 40.4h.7M52.4 42.1h.7M46.1 27.6h.7M35.9 36.4h.7M37.5 27.1h.7M37.3 26.5h.7M42.5 29.9h.7M41.9 37.9h.7M40.1 25.7h.7M38 35.8h.7M44.8 25.1h.7M43.3 24.4h.7M37.6 23.1h.7M41.8 40.3h.7M38 35.4h.7M42.3 33h.7M39.8 21.2h.7M44.9 41.5h.7M43 33h.7M48.6 37.9h.7M40.5 23.6h.7M41.6 37.1h.7M43.2 23.5h.7M36.8 37.4h.7M41 32.1h.7M41.8 32.9h.7M35.9 18.3h.7M40.4 21.5h.7M39.3 28.9h.7M40.6 23h.7M41.8 33.3h.7M42.5 23.5h.7M42.2 41.4h.7M40.1 32.3h.7M43.2 28.3h.7M41.4 34.3h.7M43.4 18.5h.7M40.4 26.7h.7M42 41.7h.7M42.2 29.8h.7M39.3 25.8h.7M44.6 41.8h.7M43.8 28.4h.7M41.8 39.3h.7M43.1 28.8h.7M41.8 23.7h.7M39.1 26.8h.7M45.1 36h.7M44.4 19.1h.7M45.4 39.9h.7M43 37.7h.7M45.1 19.9h.7M42 34.9h.7M46.6 39.1h.7M39.9 29.7h.7M33.9 40.3h.7M38.9 34.2h.7M39.1 35.1h.7M39.8 21.5h.7M41.3 20.3h.7M39.2 34.7h.7M41.9 41.7h.7M37.6 25.3h.7M40.1 22.6h.7M41.3 42.8h.7M34.7 25.5h.7M47 40.8h.7M37.2 22.4h.7M42.1 21.9h.7M41.7 35.5h.7M38.3 19.3h.7M41.6 36.2h.7M39.6 19.2h.7M33.6 25.4h.7M40.9 28.1h.7M38.4 39.2h.7M41.6 42.9h.7M44.3 21.7h.7M34.7 31.9h.7M46 36.2h.7M43.1 42.8h.7M35.8 27.6h.7M43.1 34.6h.7M42.8 41h.7M42.6 42.5h.7M44.1 28.1h.7M39.1 33.5h.7M39.7 40h.7M41.8 29.3h.7M36.3 42.5h.7M36.6 30.9h.7M38.3 23.7h.7M42.8 19.1h.7M36.7 36.7h.7M42.9 38h.7M46.9 34h.7M35.4 41.6h.7M38.9 19.4h.7M36.8 22.1h.7M39.5 27.6h.7M41.9 19.8h.7M40.2 40.2h.7M39.9 23.8h.7M37.1 23.9h.7M41.2 26.2h.7M44.7 24.9h.7M40.7 31.6h.7M42.5 35.4h.7M43.9 24.5h.7M40 24.6h.7M43.3 36h.7M39.3 36.3h.7M43.5 26.3h.7M40.9 18.9h.7M37 18.1h.7M39.9 25.2h.7M38.6 28.4h.7M42.5 22.7h.7M40.6 31.6h.7M40.4 40h.7M38.9 24.5h.7M41.3 34.8h.7M38.3 28.2h.7M39.5 30.7h.7M44.1 20.2h.7M40.6 26.3h.7M39.5 39.2h.7M46.1 28.6h.7M38.8 20.9h.7M39.9 23h.7M44.1 42.7h.7M39.7 38.2h.7M40.5 34.7h.7M42.5 32.5h.7M41.1 22.8h.7M37 23.5h.7M44.4 37.4h.7M40.3 42.2h.7M44.3 29.2h.7M41.4 26.8h.7M33.4 40.9h.7M39.9 22.1h.7M42 27.6h.7M41.1 35.8h.7M41.6 18.8h.7M44.2 41h.7M45.7 23.9h.7M41.1 35.4h.7M46.4 21.5h.7M38.4 41.4h.7M36.5 38.6h.7M39.7 21.1h.7M39.3 34.1h.7M43.1 25.8h.7M42.9 20h.7M36.3 18.2h.7M44.7 30.8h.7M41.5 22.2h.7M39.5 42h.7M44.3 24.6h.7M43.5 40.6h.7M41.1 23.6h.7M36.9 36.7h.7M45.3 26.2h.7M39.8 21.1h.7M41.4 21.8h.7M39.1 31.1h.7M40.1 22.5h.7M37.8 31h.7M42.2 34.8h.7M42.1 21.5h.7M41.1 37.9h.7M42.5 35.6h.7M43.2 25.7h.7M37 41.1h.7M43.5 20.1h.7M41.7 19h.7M45.2 29.2h.7M42.9 39.8h.7M37 42.9h.7M42 42h.7M40.1 28h.7M38.3 21.6h.7M38.7 20.3h.7M36.9 20h.7M41.9 28.2h.7M37.9 29.8h.7M37.5 35.7h.7M43.9 28.4h.7M46.3 19h.7M42.5 23.1h.7M44.8 33.5h.7M37.1 20.5h.7M40.6 35.2h.7M40.7 19.8h.7M38.6 27.6h.7M43.3 21.1h.7M37.5 38.3h.7M43.3 30.9h.7M42.9 20h.7M41 20.5h.7M41 27.7h.7M41.8 19h.7M31.9 18.8h.7M43.3 27.1h.7M40.7 25.8h.7M43.6 42.7h.7M39.6 34.8h.7M40.9 37.9h.7M41.2 27.3h.7M44.2 35.3h.7M40.3 28.3h.7M40.5 27.5h.7M40.6 40.8h.7M41.3 41.9h.7M41.1 25.8h.7M41.7 21.6h.7M35 31.6h.7M41.3 41.6h.7M43 27.6h.7M43.2 29.3h.7M47.4 36.8h.7M41.4 25.2h.7M43.4 27.9h.7M42.2 34.4h.7M33.8 20h.7M35.6 22.9h.7M46.1 29.4h.7M42.6 36h.7M38.1 27.4h.7M35 37.4h.7M33.7 24.8h.7M35 41.8h.7M41.5 34h.7M41.8 32.1h.7M40 25h.7M41.8 30.2h.7M39.3 37.5h.7M39 20.2h.7M43.7 35.9h.7M43.7 31.1h.7M37.3 27.6h.7M36.3 31h.7M44.9 25.6h.7M41.1 22.5h.7M43.3 38.2h.7M41.1 35.2h.7M44.1 40.4h.7M42.2 42h.7M48.1 19.5h.7M37.8 43h.7M47.7 18.8h.7M45.9 35.2h.7M38.5 32.3h.7M41.6 21.9h.7M48.2 39.7h.7M38.7 23.5h.7M44.4 25.6h.7M42 23.3h.7M39.9 33.8h.7M35 28.1h.7M42.1 36.6h.7M46.4 37.4h.7M41.6 37.8h.7M41.7 18h.7M45.8 39.7h.7M42 31.5h.7M40.2 24.5h.7M41.6 38.5h.7M38.9 32.2h.7M7 58.5h.7M6.4 51.8h.7M12.2 57.8h.7M5.8 58.1h.7M4.2 54.7h.7M3 52.2h.7M6.7 48.2h.7M5 52.4h.7M5.2 54.8h.7M14.4 60.2h.7M4.7 48.9h.7M1.4 60.8h.7M12.2 58.5h.7M14.5 53.1h.7M2.7 48.2h.7M6.4 58.9h.7M1.4 53.7h.7M1.3 50.2h.7M8.9 57.1h.7M15.1 51.9h.7M3.7 47.8h.7M3 47.4h.7M8.6 54h.7M14.5 54.5h.7M1.4 49.1h.7M11.2 62.3h.7M12 50.5h.7M5.5 53.7h.7M6.9 51.3h.7M2.5 47.2h.7M14.1 62.2h.7M15.6 52.8h.7M11 50.1h.7M1.8 46.8h.7M5.3 59.4h.7M8.4 50.5h.7M7.7 55.3h.7M3.1 53.9h.7M14.9 53.9h.7M15.8 58.2h.7M2.1 61.3h.7M11.1 53.8h.7M3 57.2h.7M3 54.1h.7M2.4 53.3h.7M15.5 56.2h.7M8.2 56.6h.7M10.5 56.3h.7M4.6 50.2h.7M9.7 61.5h.7M13.9 54.5h.7M4.7 56.1h.7M.7 54.6h.7M12.5 62.1h.7M1.5 50h.7M7.7 56.4h.7M15.4 48.5h.7M2.1 54.5h.7M12.7 47.3h.7M6.1 58h.7M6.7 49.6h.7M1.1 58.8h.7M8.2 55.3h.7M10.9 58.9h.7M6.4 52.6h.7M14.7 48h.7M12.4 54.1h.7M8.5 50.8h.7M15.1 51.6h.7M5.1 47.7h.7M14.3 59.9h.7M.8 49.1h.7M4.6 47.3h.7M8 60.2h.7M11.5 54.7h.7M15.7 51.6h.7M5.1 51h.7M9.6 54.2h.7M2 54.6h.7M15.5 60.7h.7M10 60.4h.7M7.8 54.6h.7M11.1 50h.7M9.5 54.7h.7M4.8 54.7h.7M2.8 57h.7M1.8 53.9h.7M.9 55.3h.7M1.6 59.8h.7M45.4 43.8h.7M37.7 52.5h.7M39.2 45h.7M38.9 40.4h.7M41.3 38.8h.7M39.6 48.3h.7M40.4 46.1h.7M41.9 44.5h.7M40.3 45.3h.7M37.2 45.2h.7M36.9 40.2h.7M38.3 38h.7M34.2 44.4h.7M41.5 45.5h.7M46.6 43.7h.7M42.2 40.2h.7M42.1 38.7h.7M45.9 39.4h.7M38.8 45.8h.7M33.5 48.1h.7M37.2 43.8h.7M42.9 43.6h.7M42.8 41.1h.7M41.8 34.8h.7M44.5 40.5h.7M37.5 43.1h.7M45 40.4h.7M40 41.6h.7M37.3 38.1h.7M41.8 45.7h.7M37.8 43.9h.7M41.3 44.4h.7M39.5 43.2h.7M40.8 39h.7M39.6 46h.7M38.4 47.9h.7M39.3 38.9h.7M39.1 37.9h.7M41.8 37h.7M40.1 42.1h.7" stroke="#000" stroke-opacity="0.55" stroke-width="0.7" fill="none"/>
<g filter="url(#b1)"><path d="M275 117.2L296.1 118.3" stroke="#000" stroke-width="6.8" fill="none"/><path d="M296.1 118.3L309 119" stroke="#000" stroke-width="6.8" fill="none" stroke-opacity="0.88"/><path d="M303 119Q316.2 118.5 316.2 128L315.7 135" stroke="#000" stroke-width="6.6" fill="none" stroke-linecap="round" stroke-linejoin="round" stroke-opacity="0.88"/><rect x="275" y="116.2" width="2" height="2" fill-opacity="0"/></g>
<rect x="275" y="169.5" width="57.9" height="63.1" fill="none" stroke="#9c9c9c" stroke-width=".7"/>
<line x1="292.5" y1="169.5" x2="292.5" y2="232.6" stroke="#9c9c9c" stroke-width="0.7"/>
<line x1="275" y1="216.2" x2="332.9" y2="216.2" stroke="#9c9c9c" stroke-width="0.7"/>
<line x1="275" y1="169.5" x2="275" y2="232.6" stroke="#7a7a7a" stroke-width="0.9"/>
<line x1="275" y1="232.6" x2="332.9" y2="232.6" stroke="#8a8a8a" stroke-width="0.8"/>
<line x1="275" y1="233.4" x2="275" y2="234.8" stroke="#aaa" stroke-width="0.6"/>
<text x="275" y="237.2" font-size="2.4" text-anchor="middle" fill="#888">10</text>
<line x1="289.5" y1="233.4" x2="289.5" y2="234.8" stroke="#aaa" stroke-width="0.6"/>
<text x="289.5" y="237.2" font-size="2.4" text-anchor="middle" fill="#888">10</text>
<line x1="303.9" y1="233.4" x2="303.9" y2="234.8" stroke="#aaa" stroke-width="0.6"/>
<text x="303.9" y="237.2" font-size="2.4" text-anchor="middle" fill="#888">10</text>
<line x1="318.4" y1="233.4" x2="318.4" y2="234.8" stroke="#aaa" stroke-width="0.6"/>
<text x="318.4" y="237.2" font-size="2.4" text-anchor="middle" fill="#888">10</text>
<line x1="332.9" y1="233.4" x2="332.9" y2="234.8" stroke="#aaa" stroke-width="0.6"/>
<text x="332.9" y="237.2" font-size="2.4" text-anchor="middle" fill="#888">10</text>
<text x="273.4" y="168.5" font-size="3" font-weight="bold" text-anchor="end" fill="#6a6a6a">10</text>
<text x="273.4" y="184.3" font-size="3" font-weight="bold" text-anchor="end" fill="#6a6a6a">10</text>
<text x="273.4" y="200.1" font-size="3" font-weight="bold" text-anchor="end" fill="#6a6a6a">10</text>
<text x="273.4" y="215.8" font-size="3" font-weight="bold" text-anchor="end" fill="#6a6a6a">10</text>
<text x="273.4" y="231.6" font-size="3" font-weight="bold" text-anchor="end" fill="#6a6a6a">10</text>
<text x="271" y="206.1" font-size="2.7" transform="rotate(-90 271 206.1)" fill="#666">Thy1.2</text>
<text x="303.9" y="239.6" font-size="2.6" text-anchor="middle" fill="#777">TCRb</text>
<g filter="url(#b2)"><path d="M275 184L318 186L317 206L275 204z" fill-opacity="0.08"/><ellipse cx="314" cy="196.5" rx="5.5" ry="10" fill-opacity="0.3"/></g>
<path transform="translate(275 169.5)" d="M6.7 21h.7M3.1 20.6h.7M17.6 16.2h.7M13.3 18.4h.7M3.5 15.1h.7M12 19.4h.7M9.8 14.5h.7M18.4 12.8h.7M11.8 14.2h.7M6.6 18.6h.7M15.8 13h.7M15.6 15.9h.7M13.2 19.4h.7M13.2 15.1h.7M16.8 11.9h.7M5.3 17.5h.7M3 19.2h.7M18.3 14.3h.7M11.4 17h.7M17.1 18.5h.7M4.8 18.8h.7M13.6 20.1h.7M10.9 21.8h.7M12.8 18.5h.7M6.2 20h.7M14.6 15.6h.7M1.7 15.4h.7M13 21.5h.7M13.3 16.9h.7M16.3 16.5h.7M.8 17.2h.7M9.5 19.5h.7M1.8 15.7h.7M6.4 17.8h.7M6.5 20.9h.7M.6 20.4h.7M3.8 19.3h.7M18 15.3h.7M5.8 13.7h.7M7.7 16.7h.7M18.8 13h.7M9.6 20h.7M6.6 20.7h.7M11.4 17.2h.7M7.7 13.8h.7M13.7 18.9h.7M3.8 19.7h.7M16.4 17.7h.7M14.9 14.4h.7M10.3 15.9h.7M14.7 15.4h.7M12.3 19.3h.7M7.6 17.1h.7M14.8 16.8h.7M16.1 21.9h.7M3.2 16.8h.7M5.2 14.8h.7M6.7 17.8h.7M7.3 13.2h.7M13 17.8h.7M16.4 15.4h.7M9.9 13.4h.7M4.1 12.9h.7M8.9 17h.7M7.4 16.6h.7M10.3 13.9h.7M15.9 18.1h.7M2.2 16.7h.7M1.6 14.9h.7M8.8 19.2h.7M3.2 19.3h.7M8.4 23.2h.7M4 24.2h.7M8.4 13.8h.7M2.5 14.6h.7M16.1 16.3h.7M8.2 17.9h.7M11.8 14.2h.7M5.9 20.6h.7M15.5 21.8h.7M1.2 15h.7M8 14.4h.7M3.5 16.5h.7M11.2 18.3h.7M7.9 18.3h.7M18.9 11.7h.7M12.8 22h.7M12.3 20.3h.7M14 15.2h.7M9 18.7h.7M17.8 21h.7M1.4 17.9h.7M14.4 15.7h.7M16 17.7h.7M4.7 19.3h.7M10.6 15.5h.7M8.5 17.3h.7M9.8 14.5h.7M4.4 16.4h.7M5 18.3h.7M5.3 16.5h.7M2.9 15.6h.7M18.5 16.4h.7M16.4 16.2h.7M14.4 11.6h.7M10.1 12.6h.7M2.6 18.3h.7M8.8 17.2h.7M10.5 17.6h.7M1.3 16.2h.7M1.8 12.8h.7M14.8 22.1h.7M.8 15.6h.7M4.3 16.1h.7M6.1 17.2h.7M4.3 19.4h.7M6.5 14.1h.7M13.9 15.2h.7M5.3 20.7h.7M5.9 17.7h.7M4 11.4h.7M11.4 20.8h.7M13.6 20.5h.7M13.3 18.1h.7M16.4 17.2h.7M18.8 16.2h.7M.3 17.5h.7M17.6 14h.7M18 17.1h.7M12.3 15.9h.7M2.2 15.8h.7M5.7 17.8h.7M1 15.9h.7M4.6 16.8h.7M14.8 16.1h.7M16.4 20.7h.7M12.1 19.8h.7M4.7 11.2h.7M3.5 23.4h.7M6.1 16.9h.7M17.6 18.8h.7M16.4 18.1h.7M2 18.4h.7M14.6 15.6h.7M2.4 13.4h.7M10.6 17.1h.7M16.4 21.4h.7M16.2 18.1h.7M9.9 17.6h.7M8.2 22.1h.7M5 17.8h.7M15.7 12.4h.7M9.4 17.7h.7M10.5 17.2h.7M.7 16h.7M14.7 16.1h.7M.4 16.4h.7M19 15.3h.7M9 11.7h.7M5.4 16.5h.7M18.5 16.9h.7M5.3 17.8h.7M7 16.2h.7M17.2 16.5h.7M14.8 16.9h.7M1 8.7h.7M13 18.2h.7M7.8 15.7h.7M3.8 19.9h.7M15.8 15.7h.7M4.8 13.4h.7M6.5 14.3h.7M5.1 20.5h.7M7.8 19.1h.7M3.8 16h.7M2.4 19.3h.7M11.3 18.2h.7M6.9 18.7h.7M18.8 16.6h.7M16 15.2h.7M17.8 14.7h.7M12 21.5h.7M10.5 20.5h.7M12.3 14.7h.7M17.8 15.8h.7M13.7 11.5h.7M18.5 18.2h.7M4.8 18.2h.7M.4 20.6h.7M1.9 19.2h.7M8.4 18.2h.7M3.7 15.3h.7M15.8 12.7h.7M10.4 17.2h.7M13.8 12.1h.7M6 12.4h.7M4.7 14.7h.7M6.8 20.9h.7M2.2 17.4h.7M8.5 17.6h.7M16.9 18.4h.7M6.3 21.5h.7M11.2 15.9h.7M9.2 14.1h.7M3.6 13h.7M10.3 16.9h.7M4.1 18.9h.7M15 19.8h.7M3.3 15.9h.7M3.4 16.2h.7M16.8 19.6h.7M10 13.2h.7M3.4 17.3h.7M7 16.1h.7M5.8 17.5h.7M10.9 15.3h.7M1.4 15.8h.7M10.8 17.2h.7M18.3 17.3h.7M13.9 19.4h.7M14.6 16.2h.7M16.2 16.6h.7M5.2 16.6h.7M7.1 13.7h.7M3.5 18.5h.7M4.2 19.9h.7M2.2 17.5h.7M4.4 22.4h.7M4.3 17.7h.7M9.6 16.4h.7M10.4 16.7h.7M15.2 17.4h.7M13.8 21h.7M10.7 15h.7M12.7 19.7h.7M8.3 16.7h.7M14.3 12.5h.7M8.2 18.2h.7M5.6 18.5h.7M10.7 19.3h.7M2.8 18h.7M10.2 18.7h.7M1.2 22.1h.7M6.8 17h.7M7.4 11.8h.7M17.9 19.7h.7M6.3 14.6h.7M3.7 16.7h.7M12.3 16.2h.7M4.4 18.6h.7M7.4 20.7h.7M1.1 20h.7M7.4 21.1h.7M14.8 16.9h.7M6.5 17h.7M11.4 17.2h.7M19 18.6h.7M6.2 15.5h.7M18.8 14.6h.7M4.3 21.1h.7M13.2 17.9h.7M15.9 18.4h.7M9 18.2h.7M5.3 18.2h.7M.8 18.2h.7M8.1 17.5h.7M1.8 17.6h.7M13.4 15.5h.7M15.3 15.1h.7M.9 11.4h.7M1 20.3h.7M2.8 14.5h.7M1.3 17.4h.7M15.9 18h.7M7.9 13.5h.7M10.6 13.5h.7M6.1 17.1h.7M15.5 15.1h.7M11.1 16.8h.7M14.8 14.6h.7M10.3 17.1h.7M13.1 19.5h.7M7.8 22.4h.7M8 12.4h.7M3.2 16.5h.7M3.5 16.6h.7M8.3 17.1h.7M2.4 17.9h.7M17 19.6h.7M11.6 16.3h.7M9.7 21h.7M15.3 18.7h.7M18.3 20.4h.7M7.2 17.5h.7M8.5 18.4h.7M10.3 14.4h.7M31.7 20.8h.7M26.6 16.1h.7M17.2 17.3h.7M32 19.6h.7M29.8 20.7h.7M34.2 21h.7M33.7 16.8h.7M26.7 20.2h.7M24.2 23.3h.7M34.7 17.7h.7M37 23.3h.7M22.9 22.2h.7M20.7 16.5h.7M19.6 17h.7M36.4 18.9h.7M23.6 19.5h.7M33.1 19.4h.7M23.9 15.9h.7M18.1 19.7h.7M19.8 14.5h.7M29.7 20.3h.7M20.1 17h.7M31.4 16.7h.7M15.1 16.8h.7M22.1 18h.7M25.6 17h.7M31.9 17.8h.7M29.9 19.6h.7M30.1 14.3h.7M23.2 15.1h.7M26.2 13.8h.7M22.3 20h.7M20.3 15.3h.7M31.3 21.9h.7M19.1 21.5h.7M22.4 11.8h.7M32.4 17.3h.7M20.1 15.3h.7M15 20h.7M33.1 16.8h.7M33.8 21h.7M31 15.3h.7M33 23.7h.7M34.4 16.5h.7M22.1 19.5h.7M19.1 18h.7M34.1 12.6h.7M22.3 16.7h.7M16.5 21.6h.7M32.8 22.7h.7M24.4 18.1h.7M35.6 17.9h.7M21.2 19.4h.7M25.5 21.2h.7M25.7 18.2h.7M32.5 16.9h.7M22.2 14.2h.7M31.3 21.7h.7M31 19.2h.7M22.6 16h.7M26.5 19.4h.7M30.4 17.2h.7M25.4 22.2h.7M35.3 17.2h.7M24.1 16.7h.7M19.6 19h.7M21.9 19.3h.7M27.5 21.9h.7M31.2 18.5h.7M26.6 11.9h.7M28.5 15.7h.7M22.5 18h.7M21.8 17h.7M24.8 21.1h.7M27 14.9h.7M27.8 12h.7M36.8 17.1h.7M27.8 21.6h.7M24.9 16.7h.7M36.6 19h.7M16.6 19.5h.7M22.6 15.8h.7M21.8 20.6h.7M27.7 17.7h.7M24.1 16.8h.7M26.7 15.8h.7M17.3 22.1h.7M15 19.1h.7M26.4 17.7h.7M22.1 22.5h.7M16.1 19.7h.7M29.2 20.4h.7M30.5 21.6h.7M27.2 13.1h.7M16 17.3h.7M28.3 16.5h.7M18.8 17h.7M29.9 19.6h.7M35.8 16.5h.7M29 20.7h.7M31.8 17.3h.7M29.4 20h.7M21.8 15h.7M27.2 18.6h.7M36.4 17.5h.7M23.9 19.9h.7M34.7 19h.7M18.8 17.8h.7M20.2 19.2h.7M18.6 14.7h.7M32.4 21.5h.7M22.7 15.1h.7M33 18.1h.7M18.1 24.3h.7M23.7 16.9h.7M31.8 22.9h.7M26.7 16.5h.7M27.9 18h.7M16 17.4h.7M25 12.4h.7M25.2 16.4h.7M35.4 17.3h.7M19.7 14.7h.7M31.4 18.8h.7M21.8 21.3h.7M17.8 21.2h.7M33.1 23.6h.7M32.9 19.1h.7M26.1 21.9h.7M29.8 15.7h.7M20.7 19.6h.7M17.1 19.2h.7M29.8 16.7h.7M23.4 12.7h.7M23 21.3h.7M36.6 15.1h.7M15.2 21h.7M32.6 17.8h.7M19.6 14.5h.7M30.8 17.4h.7M30.3 23.2h.7M16.2 21.4h.7M33 15.3h.7M19.9 17.1h.7M32.4 18.6h.7M35.5 16.6h.7M24.1 19.7h.7M23.2 17.1h.7M19.7 19.9h.7M18.4 18.8h.7M26.4 17.3h.7M35.2 18.6h.7M29 16.5h.7M24.2 18.3h.7M35 15.9h.7M35.3 19.9h.7M23.8 19.1h.7M30.6 17.8h.7M17.7 18.3h.7M34.4 19.5h.7M34.7 19.3h.7M17.5 15.7h.7M26.4 21.7h.7M15 16.1h.7M36.7 21.7h.7M15.5 17.4h.7M30.7 18.3h.7M24.8 18.3h.7M15.4 22h.7M31.8 19.9h.7M14 23.2h.7M11.8 25.4h.7M23.9 26.8h.7M39.2 19h.7M9.9 37.4h.7M19.3 21h.7M16.6 27h.7M34.3 25.7h.7M27.5 38.9h.7M17.9 19.9h.7M23 21.8h.7M10.3 46.4h.7M7.5 47.4h.7M6.8 19.5h.7M1.3 43.8h.7M38.5 26.7h.7M14.8 28.8h.7M27.2 27.7h.7M20.1 38.2h.7M11.8 22.6h.7M28.1 38.2h.7M36.4 36.4h.7M29 48h.7M8.7 30.4h.7M6.4 45.6h.7M25.2 44.9h.7M28.3 28.8h.7M30.5 26.7h.7M21.7 37.4h.7M33.4 25.9h.7M32.4 34.9h.7M27 21.4h.7M22.6 21.3h.7M27.1 42.4h.7M16.5 31.6h.7M26.8 35.4h.7M42.1 43.9h.7M29.5 29h.7M2.4 39h.7M9.6 39.8h.7M28.1 44.5h.7M2.6 33.1h.7M14.6 28.8h.7M11.1 43.6h.7M19.6 35.1h.7M5.1 35.3h.7M27.2 22.2h.7M14.6 26.5h.7M23.8 20.9h.7M42.3 30.2h.7M39.8 19.5h.7M32.3 45.7h.7M18.9 29.8h.7M26.8 27.7h.7M10.6 46.1h.7M27.7 33.6h.7M19.8 42.5h.7M31.8 27h.7M13.4 30.9h.7M2.4 31.2h.7M4.9 38.6h.7M14.3 28.3h.7M9.4 26.1h.7M9.9 45.3h.7M19.6 35h.7M13.7 47.3h.7M25.7 23.6h.7M29.3 18.5h.7M42.8 40.9h.7M9.2 31.5h.7M39.1 41.9h.7M33.8 36h.7M8.5 38.2h.7M24.9 23.1h.7M2.4 34.4h.7M39.4 28.4h.7M27.4 21.6h.7M37.8 45.3h.7M12.9 40.2h.7M31.8 31.5h.7M37.9 19.9h.7M12.4 22h.7M35.5 40.8h.7M9.9 38.4h.7M22 35.6h.7M17.9 35.6h.7M24.1 28.1h.7M15.8 23.4h.7M27.1 43.3h.7M9.8 36.3h.7M16.8 24h.7M2.7 19.6h.7M32 22.5h.7M12.1 33.9h.7M8.5 36h.7M20.4 25.2h.7M29.2 37.8h.7M40.9 28.6h.7M33.4 37.3h.7M24.6 19.6h.7M13.2 31.5h.7M2 21.5h.7M35.4 21.9h.7M24.1 25.7h.7M22.6 30.3h.7M11.4 32.3h.7M12 47h.7M19.8 22.3h.7M31.9 23.5h.7M32 41.9h.7M39.7 34.2h.7M32.1 42.4h.7M35 36.8h.7M38.4 41h.7M16.4 29.6h.7M36.1 46.5h.7M16.2 46.4h.7M34.1 39.5h.7M14.6 26.8h.7M12.5 39.2h.7M19.9 25.2h.7M6.3 43h.7M8.2 23.7h.7M22.8 20.1h.7M17.4 24.6h.7M36.9 35.2h.7M21.2 32.6h.7M.8 44h.7M40.6 18.7h.7M24.3 42.2h.7M36.4 47.4h.7M38.9 45.2h.7M6.3 48.5h.7M42.3 38h.7M37.7 26.4h.7M18.6 21.8h.7M20.3 48.4h.7M30.3 32.4h.7M13.5 24.9h.7M18.5 27.2h.7M21 35.8h.7M17.4 36.4h.7M17.8 33.5h.7M20.9 44h.7M38.5 36.2h.7M32.6 27.6h.7M7 28h.7M6 41.6h.7M39.4 37.9h.7M9.4 22.5h.7M33.2 35.8h.7M6.3 48.5h.7M32.4 47.6h.7M42.3 42.2h.7M40 47h.7M6.9 29h.7M23.1 37.8h.7M6.5 26.7h.7M33.2 47.7h.7M20.4 46.7h.7M37.6 45.7h.7M8.1 30.1h.7M28.5 43h.7M35.8 22.1h.7M29.1 19.3h.7M13.4 20.1h.7M22 22.3h.7M28.4 30.8h.7M34.8 28.3h.7M41.1 25.3h.7M43.3 29.4h.7M30.9 25.3h.7M41.6 26.2h.7M39.1 32.8h.7M41.7 16.4h.7M39.3 32.2h.7M39.6 16.9h.7M42.1 29.5h.7M43.6 26.6h.7M39.4 31.2h.7M34.5 37h.7M40.6 27h.7M42 30.8h.7M30.1 31.7h.7M38.5 20.2h.7M42.6 31.8h.7M40.5 21.3h.7M39.4 19.1h.7M49.1 21h.7M42.5 36.4h.7M35.5 21.9h.7M29.9 23.8h.7M33.6 26.5h.7M38.1 25.6h.7M39.1 22.3h.7M39.4 25h.7M36.1 23.3h.7M36.7 16.8h.7M38.8 12.9h.7M41.1 25.2h.7M39.6 33.3h.7M42.8 22.5h.7M40.4 33.5h.7M38.3 28h.7M40.6 18.5h.7M40.1 22.8h.7M37.9 28.4h.7M41.6 19.4h.7M37.9 24.1h.7M35.1 28h.7M38.1 20.7h.7M42.7 24.9h.7M34.3 24.8h.7M38.2 27.4h.7M48 29.2h.7M44.7 24.3h.7M40.8 28.8h.7M38.5 27.1h.7M37.1 30.1h.7M35.3 37h.7M24 16.1h.7M38.4 27.9h.7M39.5 14.6h.7M40.7 19.5h.7M39.8 22.6h.7M37.9 15.2h.7M33.7 21.7h.7M34.7 27.1h.7M33.3 26.9h.7M41.2 20.4h.7M35.1 23.1h.7M42.1 34.8h.7M47.6 26.1h.7M41.4 26.8h.7M38.9 18.2h.7M37.5 33h.7M44.5 21.4h.7M32.4 38.2h.7M39.1 28.5h.7M38.2 13.3h.7M40.2 18.9h.7M37.8 21.3h.7M37.9 41.6h.7M45 12.3h.7M32.7 22.1h.7M36.3 30.7h.7M45.2 20.5h.7M41.2 24.1h.7M31 33.4h.7M46 19.9h.7M41.5 22h.7M38.6 22.4h.7M38.4 25.8h.7M36.5 27.3h.7M33.7 31h.7M35.1 12.9h.7M42.3 23.2h.7M36.8 31.6h.7M38.8 38.6h.7M40.7 15.8h.7M36.9 20.9h.7M37.8 36.8h.7M49.9 37h.7M40.8 29.2h.7M39.6 10.6h.7M44.5 38.9h.7M36.8 25.3h.7M36.1 24.1h.7M35.5 17.8h.7M43.8 12.3h.7M43.1 17.7h.7M37.9 11.9h.7M41.6 18.7h.7M49 19.2h.7M39.9 29.9h.7M35 19.9h.7M34.6 29.2h.7M40.1 32.3h.7M33.2 19.2h.7M38.5 22.5h.7M40.2 33.1h.7M39.5 20.1h.7M38.8 20.6h.7M36.3 38h.7M41.7 37.8h.7M38.1 25h.7M33.9 27.1h.7M41.9 30.1h.7M34.3 26.2h.7M42.7 22.3h.7M41.8 22.1h.7M38.9 21.6h.7M33 19.8h.7M39.6 23.5h.7M38.9 21.6h.7M42.5 24.3h.7M40.5 22.3h.7M44.2 24.8h.7M40.7 40.3h.7M40.7 14.9h.7M36.3 27.7h.7M33.7 15.5h.7M38.5 14.8h.7M43.3 28.4h.7M37.7 33.6h.7M36.2 17.5h.7M42.6 25.6h.7M38 32.4h.7M38.4 29.8h.7M39.8 33.3h.7M41.2 22.3h.7M45 23.1h.7M45.9 16.9h.7M39.2 10.4h.7M41.1 34.5h.7M37.4 28.7h.7M38.1 35.2h.7M40.3 27.9h.7M43.4 15.2h.7M41.8 26.4h.7M44.2 25.7h.7M41.4 25.1h.7M35 22.1h.7M38.2 16.5h.7M38.8 22.3h.7M46.3 23.8h.7M39.5 26.1h.7M41.8 14.6h.7M31.9 36.2h.7M35.6 19.5h.7M43.7 27.5h.7M35.7 30.5h.7M34.4 36.4h.7M37.7 27.7h.7M38.9 38.4h.7M35.1 24.8h.7M47.6 11.7h.7M37 27.4h.7M38.1 28.5h.7M43.6 17.8h.7M36.4 34.4h.7M46.8 7.5h.7M41.2 32.2h.7M36.3 19.6h.7M34.4 24.1h.7M34.4 30.3h.7M36.2 29h.7M32.7 31.5h.7M41.7 31.9h.7M40.1 41h.7M42.9 25.8h.7M45.4 23.1h.7M39.6 36.5h.7M37.1 25.5h.7M40 26.7h.7M38.1 32.3h.7M47.7 22.9h.7M33.1 22.4h.7M33.4 16.9h.7M34.8 32.7h.7M39.6 30.3h.7M38.6 32.4h.7M37.4 34.3h.7M42.5 27h.7M33.1 18.1h.7M40 18.5h.7M38.3 24.4h.7M44.5 20.9h.7M39.5 22.4h.7M36 28.5h.7M42.9 15.9h.7M45 40.5h.7M39.6 29h.7M34.8 22.8h.7M40.2 24.9h.7M44.5 19.6h.7M38 29.1h.7M38.7 23.8h.7M38.5 28.2h.7M31.3 43h.7M42 18.4h.7M35.4 17.9h.7M40.8 13h.7M48.9 21.8h.7M33.4 39.4h.7M39 28.8h.7M38.2 23.8h.7M47.3 12.3h.7M40 20.5h.7M37.6 25.1h.7M31.6 29.7h.7M39.8 29.3h.7M36.6 30.5h.7M37.1 30.7h.7M44.4 29.7h.7M33.2 26h.7M34.9 38.6h.7M39.8 16.9h.7M32.9 34.4h.7M35 28.3h.7M37.7 24.5h.7M37.2 25.6h.7M45.5 19.6h.7M41.1 28.7h.7M36.3 18.2h.7M35.4 29.4h.7M39.7 32.4h.7M40.5 26.3h.7M39.1 27.1h.7M39.2 30h.7M35.6 32.7h.7M45.5 24.9h.7M41.3 17.6h.7M39.4 15.9h.7M43 25.8h.7M43.4 33.1h.7M36.1 31h.7M45.2 40.4h.7M38.6 29.2h.7M36.5 29.8h.7M41.4 35.2h.7M38.4 25.9h.7M41 24.4h.7M47.3 10.7h.7M32.1 22.2h.7M41.8 25.7h.7M40.7 15.4h.7M41.4 29.2h.7M45.6 31h.7M36.5 20.6h.7M34.5 22.3h.7M38.6 33.9h.7M45.7 26h.7M41.4 24.4h.7M33.8 29.1h.7M36.1 14.8h.7M35.7 35.5h.7M34.4 34.6h.7M33.5 25.1h.7M41.1 22.9h.7M35.1 25.6h.7M45.8 29.9h.7M39.8 29.4h.7M43.8 34.4h.7M37.9 19.7h.7M35.1 26h.7M37.8 25.6h.7M36.5 42.2h.7M36.2 35.1h.7M35.6 20.3h.7M34.3 18.3h.7M32.4 20h.7M38.1 30.2h.7M31.8 28.5h.7M38.6 25.5h.7M30.3 28.8h.7M41.7 33.2h.7M37.9 33.8h.7M39.3 19.4h.7M41.1 32.1h.7M40 25.3h.7M38 30h.7M31.7 27.5h.7M33.8 22.1h.7M39.8 33.8h.7M39 19.4h.7M50 27.7h.7M28.1 24.9h.7M36.1 21.5h.7M43.3 39.7h.7M39.4 16.6h.7M42.5 26.2h.7M37.4 26.9h.7M34.3 26.8h.7M40.5 33.5h.7M47.2 21.4h.7M40.6 20.3h.7M39.5 33.2h.7M41.6 23.6h.7M46.3 31.5h.7M44 26.1h.7M44.4 24.6h.7M42.6 25.8h.7M39 15.2h.7M43 29.4h.7M36.5 26h.7M41.5 29.8h.7M30.6 35.4h.7M34.9 38.2h.7M43.7 26.5h.7M39.9 27.4h.7M37.4 35.6h.7M36.3 22h.7M38.1 15h.7M43.3 17.7h.7M45.2 31.9h.7M47.3 21.6h.7M37.8 22.6h.7M42.3 19.6h.7M37.7 10.1h.7M39.2 26.9h.7M47.2 20h.7M43 29.4h.7M42.6 18.2h.7M24.8 22.3h.7M43 26.7h.7M45 40h.7M36.2 22.8h.7M45.3 14.4h.7M28.8 27.4h.7M40.4 35.7h.7M42 25.3h.7M36.7 13.3h.7M41.2 21.5h.7M37.5 27.7h.7M30.6 25h.7M36.5 38.9h.7M38.5 33.1h.7M35 14.9h.7M42.7 23.2h.7M33.5 32.8h.7M41.1 14h.7M38.1 39h.7M39.5 16.4h.7M35.6 34.9h.7M45.3 30.2h.7M32.8 31.2h.7M35.6 22.1h.7M37 32.8h.7M41.1 29.5h.7M37.2 22.1h.7M43.5 21.4h.7M37.9 29.3h.7M38.3 32.2h.7M41.4 29.9h.7M48.6 21.9h.7M47.7 16.8h.7M35.8 8.6h.7M36.3 20.1h.7M42 34.1h.7M48.7 21.9h.7M43.5 24.3h.7M37.6 12.3h.7M42.7 19.2h.7M41.8 21h.7M41 19h.7M40.7 37.9h.7M40.6 16.2h.7M35.8 26.5h.7M42.4 17.1h.7M35.2 14.5h.7M46.4 27.5h.7M40.4 22.5h.7M47 29.5h.7M38.6 33.9h.7M41.5 23.6h.7M37.5 25.6h.7M44.8 15.8h.7M32.1 30.2h.7M43.4 35.5h.7M41.4 15.2h.7M42.5 26.7h.7M34.8 14.5h.7M32.6 26h.7M33.7 28h.7M38.4 29.9h.7M42.7 19.2h.7M37.5 30.6h.7M36.4 32.5h.7M41.5 31.7h.7M36.5 30.9h.7M38.2 27h.7M41.7 21.7h.7M38.9 9.1h.7M36.2 29.8h.7M34.5 10.9h.7M33.1 23.5h.7M41.8 29.2h.7M33.1 28.3h.7M33.9 33h.7M40.7 21.1h.7M37.1 25h.7M36.6 33.6h.7M40.3 21.6h.7M40.9 16h.7M39.7 23.2h.7M36.7 25.1h.7M40 15.4h.7M40.6 46h.7M42.3 21.4h.7M40.5 37h.7M34.6 37h.7M37.6 38.6h.7M35.6 32.7h.7M36.7 34.2h.7M42.7 27.8h.7M35.6 32.7h.7M40.6 18h.7M41.3 24.3h.7M38.6 18.7h.7M39.9 31.5h.7M35.6 31.1h.7M31.6 26.3h.7M40.1 18.9h.7M39.7 16.4h.7M46.7 28.2h.7M43.5 19h.7M29.8 24.9h.7M44.5 24.4h.7M43.8 28.3h.7M40.4 32.8h.7M36.6 22.6h.7M43.5 28.7h.7M36.8 18h.7M45.1 3.1h.7M42.7 24.5h.7M33.8 28.3h.7M41 41.3h.7M40.2 8h.7M35.3 30.8h.7M37.1 25.1h.7M38.7 35.4h.7M40.4 24.4h.7M36.4 32.5h.7M36.2 28.4h.7M40.7 30.7h.7M42.2 27.4h.7M47 30.9h.7M36 19.2h.7M36.2 34.7h.7M34.6 36.4h.7M40.7 21.4h.7M35 24.8h.7M42.1 25h.7M41.9 26.7h.7M44.5 22.1h.7M38.5 17.7h.7M37.8 18.6h.7M33 23.9h.7M41.7 9.9h.7M33.9 15.8h.7M40.5 29.4h.7M40.3 24.2h.7M36 26.8h.7M35.6 23.9h.7M40.6 23.7h.7M43.8 10.4h.7M32.7 32.4h.7M10.5 30.1h.7M8.8 25.9h.7M5.3 23.7h.7M3.1 58.2h.7M8.7 57.4h.7M7.8 33.6h.7M8.3 35.9h.7M16.6 22h.7M3.4 29.9h.7M8.6 37.1h.7M2.1 46.5h.7M15 43.8h.7M5.8 41.8h.7M4.2 22.3h.7M5.2 36.8h.7M13.2 37.9h.7M14.9 25.5h.7M5.3 28h.7M13.4 27.6h.7M9.6 42h.7M12.5 42.9h.7M4.9 60.9h.7M8.2 27.5h.7M9.3 42.4h.7M1.6 22.2h.7M8.4 51h.7M6.1 47.9h.7M4.4 51.5h.7M13.5 43.2h.7M15.6 37.9h.7M6.4 20.9h.7M6.4 53.1h.7M13.1 38.8h.7M7.6 46.4h.7M.9 42.7h.7M14.4 25.9h.7M1.3 41.6h.7M10.4 36.6h.7M7.1 60.3h.7M16.9 62.3h.7M2.9 34.1h.7M4.5 59.2h.7M10.5 44.2h.7M1.5 54.4h.7M16.6 30.2h.7M4.9 21h.7M14.3 30.5h.7M2.9 57.6h.7M11.5 39.4h.7M4.1 61.2h.7M5.8 51.9h.7M10.9 37h.7M16.5 38.2h.7M4.4 30.2h.7M.6 39.7h.7M15.8 51.6h.7M5.9 33.4h.7M13.7 55.5h.7M5.3 31.2h.7M4.5 55.1h.7M8.1 49.2h.7M11.5 54.6h.7M9.2 21.6h.7M11.3 30.8h.7M14.5 45.4h.7M11.7 49.8h.7M14.5 55.3h.7M15.6 55.7h.7M4.3 52.3h.7M6 52.6h.7M9.5 45h.7M1.6 28.3h.7M2.2 24.7h.7M14.8 59.3h.7M5.9 39.9h.7M9.8 50.1h.7M1.5 61.9h.7M.5 25.4h.7M12.3 34.5h.7M10.9 44.3h.7M8.2 42.6h.7M13.8 37.8h.7M13 45.6h.7M15 25h.7M5 21.5h.7M.5 43.6h.7M7.8 28.3h.7M2.6 29h.7M15.1 44.4h.7M7.1 44.7h.7M7.4 41.5h.7M1.2 62.4h.7M9.9 51.4h.7M15.3 24.8h.7M1 30h.7M2.9 28.8h.7M6.7 55.9h.7M10.1 51.2h.7M8.5 59.9h.7M14.9 26h.7M11.5 61h.7M13.9 44h.7M6.7 24.3h.7M4.6 24.4h.7M1.2 53.6h.7M8.6 36.1h.7M12.1 34.1h.7M15.5 30.3h.7M3.4 29.9h.7M16.2 58.2h.7M3.4 60.1h.7M.6 50.2h.7M7.8 30.2h.7M10.1 30h.7M8.9 52.2h.7M7.2 58.9h.7M15.2 28.3h.7M3.6 21h.7M6 23.7h.7M5.1 25.7h.7M8.2 31.5h.7M15.7 54.4h.7M6 43.3h.7M1.4 23.1h.7M13.9 24.2h.7M6.3 30.6h.7M3.6 29.7h.7M3.7 60.3h.7M4.1 48.2h.7M4.1 60.2h.7M15.2 42.2h.7M16.1 51.4h.7M15.2 42.8h.7M1.3 23.7h.7M14.3 61.4h.7M7.1 58.3h.7M15.4 33.9h.7M12.9 53.7h.7M11.4 30.4h.7M.9 34.6h.7M4.6 42.7h.7M6 37.6h.7M5.3 26.4h.7M4.8 48.9h.7M4.8 58.6h.7M14.8 40.1h.7M5 48.3h.7M15.1 55.3h.7M3.6 29.6h.7M.8 60.6h.7M4.7 37.2h.7M13 32.9h.7M12.3 21.2h.7M6.9 21.7h.7M13.9 32.7h.7M13.8 52.7h.7M1.9 33.3h.7M13.5 49.6h.7M7.1 26.1h.7M2.9 35.3h.7M8.4 48.3h.7M14.8 50h.7M9.4 43h.7M10.4 22.7h.7M.7 43.7h.7M7.3 57.4h.7M4 35.3h.7M4.3 48.4h.7M13.6 24.8h.7M6.6 49.5h.7M12.6 53.3h.7M2.8 51.2h.7M7.7 58.3h.7M3.3 56.2h.7M15.6 46.4h.7M2.9 35.3h.7M6.3 58.1h.7M2.9 38.1h.7M6.3 43.1h.7M12.4 21.8h.7M4 24h.7M8.4 48.1h.7M13.4 51.4h.7M2.8 62.8h.7M10.7 48h.7M6.6 49.5h.7M7.7 33.8h.7M5.3 38.8h.7M1.8 50.9h.7M2.9 45.2h.7M15.8 55.1h.7M13.9 28.4h.7M13.7 21h.7M3.8 32.2h.7M11.5 62.3h.7M3.6 41.7h.7M4.9 51.3h.7M5.1 28.1h.7M14 51.5h.7M13.4 57.9h.7M7.7 38.8h.7M13.5 41.6h.7M4.1 46.7h.7M7.4 53h.7M14.8 54.3h.7M1.2 44h.7M7.6 22.5h.7M4.9 20.8h.7M12 29.6h.7M3 57.4h.7M4.6 49.7h.7M11.3 47.5h.7M1.3 29.7h.7M14 37.1h.7M5.1 41.6h.7M.6 50.8h.7M13.1 61.7h.7M5.4 49.9h.7M15.9 57.1h.7M7.8 61.2h.7M9.2 44.5h.7M9.8 28.4h.7M6.7 42h.7M13.4 44.4h.7M5.9 61.9h.7M1.3 28h.7M5.9 62.2h.7M7.9 37.6h.7M14 30.4h.7M13.6 23.7h.7M10.1 60.5h.7M10.3 30.9h.7M3.6 54.8h.7M4.5 60.1h.7M7.3 24.8h.7M12.4 52h.7M11.4 20.9h.7M6.3 41.4h.7M15.5 24.5h.7M7.3 35.4h.7M10.6 39.8h.7M5.4 41.1h.7M9.2 22.2h.7M5.4 31.3h.7M4.7 35.7h.7M4.7 36.1h.7M11.6 30.5h.7M16.2 23.8h.7M5 51.4h.7M11.1 33.5h.7M4.8 50.9h.7M6.4 54.8h.7M15.4 27h.7M11.5 30.4h.7M9.6 58.6h.7M10.8 57.8h.7M5.8 32.6h.7M9.2 35.8h.7M8.9 31.3h.7M3.5 46.4h.7M1.9 30.3h.7M1.5 49.9h.7M2.7 32.2h.7M14.6 42.7h.7M7.9 34.5h.7M8.8 53.6h.7M6.1 26.4h.7M3.1 50.4h.7M8.1 60.1h.7M3.8 50.9h.7M6.6 32.5h.7M12.2 34.1h.7M3.8 39.6h.7M7.2 24.1h.7M16.7 37.5h.7M6.2 25.9h.7M2.5 28.3h.7M1.2 43.9h.7M11 56.7h.7M4.4 54.8h.7M12.7 23h.7M3.4 29.1h.7M14.8 52.3h.7M1.1 30.8h.7M2.8 47.2h.7M7.3 60.7h.7M14.2 32.7h.7M4.6 41.9h.7M6.9 54.4h.7M3.3 57.4h.7M10 37.3h.7M16.4 35.3h.7M13.1 61.5h.7M15.2 62.4h.7M7.5 53.5h.7M14.2 33.2h.7M7.7 59.7h.7M13.3 33.5h.7M13.2 17.1h.7M9.7 16.8h.7M5.2 19.1h.7M10.4 14.8h.7M11.3 15.2h.7M.8 15.7h.7M9.2 16.8h.7M8.5 15.1h.7M6.4 13.8h.7M8.8 12.8h.7M7.2 17.1h.7M15.8 21.7h.7M16.4 14.5h.7M11.9 15.3h.7M15.3 12.8h.7M13.7 16.9h.7M9.4 9.9h.7M8.9 11.5h.7M13.9 9.1h.7M8.2 17.8h.7M11.8 12.2h.7M9 15.8h.7M4.8 13.9h.7M2.8 21h.7M3.3 7.6h.7M4.9 14.6h.7M12.1 19.3h.7M4.3 16.3h.7M8.5 11.1h.7M6.2 13.6h.7M.7 14.7h.7M16.5 13.7h.7M16.6 17.7h.7M5.3 20.4h.7M6.8 18.4h.7M11 14h.7M3.7 16.2h.7M13 9.5h.7M12.4 13.2h.7M9.7 13.5h.7M3.1 12.4h.7M7.4 15.9h.7M13.2 12.4h.7M14.1 14.3h.7M2.2 12.8h.7M13.7 14.6h.7M9.9 15.2h.7M11.8 17h.7M10.1 9.5h.7M6.1 17h.7M7.7 13.3h.7M1.9 9.8h.7M8.8 12.1h.7M6.4 19.3h.7M.7 15.9h.7M12.9 9.4h.7M11.2 9.8h.7M12.9 12.9h.7M10 22.7h.7M9.3 9.5h.7M10.7 19h.7M9.4 9.8h.7M16.8 10.5h.7M3.4 17.3h.7M7.4 13.8h.7M12.5 15.7h.7M5.2 11.5h.7M9 11h.7M5.1 14.9h.7M15.5 13.2h.7M10.7 16.2h.7M6.4 15.9h.7M3.3 19.2h.7M8.4 18.1h.7M2.6 9.2h.7M14.2 14h.7M7.4 14.7h.7M10 15.4h.7" stroke="#000" stroke-opacity="0.55" stroke-width="0.7" fill="none"/>
<g filter="url(#b1)"><path d="M275 183.6L288 184L292 186L292 188L288 190L275 189.6z"/><path d="M292 186.5L308 187.5L308 189.5L292 188.5z" fill-opacity="0.45"/><path d="M308.5 188L319.5 188L318.5 197L315 205L312.5 205L310 197z"/></g>
<rect x="276" y="248" width="58.2" height="62" fill="none" stroke="#9c9c9c" stroke-width=".7"/>
<line x1="293.6" y1="248" x2="293.6" y2="310" stroke="#9c9c9c" stroke-width="0.7"/>
<line x1="276" y1="295.2" x2="334.2" y2="295.2" stroke="#9c9c9c" stroke-width="0.7"/>
<line x1="276" y1="248" x2="276" y2="310" stroke="#7a7a7a" stroke-width="0.9"/>
<line x1="276" y1="310" x2="334.2" y2="310" stroke="#8a8a8a" stroke-width="0.8"/>
<line x1="276" y1="310.8" x2="276" y2="312.2" stroke="#aaa" stroke-width="0.6"/>
<text x="276" y="314.6" font-size="2.4" text-anchor="middle" fill="#888">10</text>
<line x1="290.6" y1="310.8" x2="290.6" y2="312.2" stroke="#aaa" stroke-width="0.6"/>
<text x="290.6" y="314.6" font-size="2.4" text-anchor="middle" fill="#888">10</text>
<line x1="305.1" y1="310.8" x2="305.1" y2="312.2" stroke="#aaa" stroke-width="0.6"/>
<text x="305.1" y="314.6" font-size="2.4" text-anchor="middle" fill="#888">10</text>
<line x1="319.6" y1="310.8" x2="319.6" y2="312.2" stroke="#aaa" stroke-width="0.6"/>
<text x="319.6" y="314.6" font-size="2.4" text-anchor="middle" fill="#888">10</text>
<line x1="334.2" y1="310.8" x2="334.2" y2="312.2" stroke="#aaa" stroke-width="0.6"/>
<text x="334.2" y="314.6" font-size="2.4" text-anchor="middle" fill="#888">10</text>
<text x="274.4" y="247" font-size="3" font-weight="bold" text-anchor="end" fill="#6a6a6a">10</text>
<text x="274.4" y="262.5" font-size="3" font-weight="bold" text-anchor="end" fill="#6a6a6a">10</text>
<text x="274.4" y="278" font-size="3" font-weight="bold" text-anchor="end" fill="#6a6a6a">10</text>
<text x="274.4" y="293.5" font-size="3" font-weight="bold" text-anchor="end" fill="#6a6a6a">10</text>
<text x="274.4" y="309" font-size="3" font-weight="bold" text-anchor="end" fill="#6a6a6a">10</text>
<text x="272" y="284" font-size="2.7" transform="rotate(-90 272 284)" fill="#666">Thy1.2</text>
<text x="305.1" y="317" font-size="2.6" text-anchor="middle" fill="#777">TCRb</text>
<g filter="url(#b2)"><path d="M276 258L295 258L295 267.5L276 267.5z" fill-opacity="0.25"/><ellipse cx="316.5" cy="275" rx="6" ry="13" fill-opacity="0.3"/></g>
<path transform="translate(276 248)" d="M10 16.8h.7M1 14.4h.7M10.1 13.8h.7M5.2 12.4h.7M3.6 16.7h.7M5.2 11.3h.7M6.8 14.5h.7M15.8 15.1h.7M14.6 13.4h.7M17.7 17h.7M5 12.5h.7M5.8 8.1h.7M14.9 11.1h.7M2.7 22.1h.7M3.3 13.6h.7M8.7 11.9h.7M16.3 15.7h.7M11.7 16.3h.7M4.5 12.5h.7M12.1 15.1h.7M12.4 19.5h.7M17.8 16.1h.7M5.7 15.1h.7M17.1 12h.7M18.2 13.7h.7M6.6 11.5h.7M3.5 19.6h.7M13.5 9.8h.7M17.4 13.9h.7M9.1 15.6h.7M19 9.8h.7M12.3 11.3h.7M7.8 12.3h.7M7.4 14.7h.7M18.2 18.1h.7M13.4 12.5h.7M6.2 10.5h.7M1.4 9.4h.7M18.5 14.9h.7M.4 15.3h.7M7.7 14.3h.7M17.9 12.3h.7M14.6 17.9h.7M4 18.5h.7M13.5 19.6h.7M6.6 16.2h.7M13.1 17.7h.7M7.3 16h.7M2.8 7.4h.7M.7 18.3h.7M18.3 11.6h.7M15.5 19.1h.7M11.1 8.6h.7M8.4 9.2h.7M15.4 11.9h.7M18.9 14.8h.7M2.7 19.2h.7M3.3 13h.7M16.9 19.1h.7M18.3 15.7h.7M14.5 18.5h.7M13.9 12.2h.7M17.2 17.1h.7M3.3 13.3h.7M7.2 19.7h.7M8.2 18.5h.7M18.6 17.1h.7M11.5 16.6h.7M7 13.9h.7M.6 12.2h.7M16.9 11.9h.7M14.9 13.9h.7M2 13.3h.7M16.3 17.8h.7M11.1 10.4h.7M17.7 15.5h.7M7.1 15.9h.7M2.6 17.9h.7M4.6 12.7h.7M3.4 11.7h.7M12.1 13.5h.7M10.6 6.7h.7M18.8 15.6h.7M18 11.9h.7M17.6 11h.7M4.4 10.6h.7M6.2 14.6h.7M11.2 8.6h.7M8.8 11.1h.7M7.7 14.3h.7M.6 14.4h.7M.5 18.9h.7M14.4 10.3h.7M4.9 13.2h.7M10.2 13.4h.7M10 13.8h.7M17.6 13.1h.7M11.2 15.8h.7M13.8 14.5h.7M15.5 16.7h.7M6.2 14.4h.7M17 14h.7M11.5 13.1h.7M5.7 14.9h.7M13.7 13.2h.7M7.6 15.7h.7M15.2 16.4h.7M18 15.3h.7M16.8 14.3h.7M11.9 13.9h.7M13.6 15h.7M10.2 15.3h.7M1.5 18.1h.7M17.9 17.3h.7M18.9 10.5h.7M3.4 7.1h.7M17.2 15.2h.7M12.2 17.2h.7M10.5 16.7h.7M10.2 14h.7M5.7 16.6h.7M4.7 16.3h.7M3.9 14.1h.7M18.7 15h.7M7.5 15.1h.7M10.6 11.2h.7M17.4 9.4h.7M11.6 12.5h.7M15.7 17.2h.7M17.7 17.1h.7M7.8 11.2h.7M6.9 10.6h.7M2.1 14.3h.7M17.6 13.9h.7M9.1 12.9h.7M10.2 14h.7M8.4 13.7h.7M5.5 13.4h.7M10.3 15.1h.7M.5 10.1h.7M17.9 11.1h.7M18.7 17.1h.7M15.9 13h.7M9.7 16.3h.7M9.5 17.2h.7M16 17.6h.7M3.4 11.7h.7M4 12h.7M16.3 17.9h.7M1.4 18.5h.7M16.9 13.9h.7M12.6 19.1h.7M12.8 14.8h.7M8.4 12.1h.7M11.3 13.8h.7M6.7 11.5h.7M11.9 17.6h.7M7.6 16.6h.7M13 14h.7M13.2 15.4h.7M6.1 15.3h.7M18 14.9h.7M9.6 15.2h.7M10.6 15.3h.7M8.3 18.1h.7M9.6 15.6h.7M11 14.8h.7M11.8 14.7h.7M16.5 14.3h.7M10.1 15.5h.7M15.6 15.8h.7M4.4 12.2h.7M5.8 12.9h.7M7 12.4h.7M6.4 12.6h.7M6.8 19.3h.7M14.5 7.8h.7M14.5 11h.7M12.8 17.8h.7M18.8 14.5h.7M9.7 14.7h.7M13.4 11.2h.7M3.8 21.8h.7M12.2 19.7h.7M7.3 7.5h.7M13.9 16.7h.7M2.6 17.3h.7M14.7 13.5h.7M18.5 14.3h.7M9.4 18.6h.7M11.2 9.2h.7M8.3 13h.7M3.4 11.3h.7M13.6 7.8h.7M10.1 15.9h.7M5.3 12.2h.7M14.9 17.4h.7M10 12h.7M11.7 12.1h.7M1.3 16.5h.7M11.2 15.4h.7M13.3 11.9h.7M13.9 13.8h.7M8.5 12.8h.7M11.4 15h.7M2 14.1h.7M3.7 15h.7M10.2 12.8h.7M5.7 13.4h.7M5.2 11.5h.7M10.1 19.2h.7M10.2 10.7h.7M13.6 18.7h.7M11.7 12.3h.7M14.6 17.5h.7M5 17.1h.7M9.5 16.6h.7M9.8 15.8h.7M15.5 22.6h.7M11.8 13.5h.7M15.4 13.3h.7M5.8 15.5h.7M12.9 13.1h.7M4.1 13.9h.7M13 17.5h.7M9.8 13.3h.7M17 14.2h.7M10.3 10h.7M15.5 14h.7M15.4 15.4h.7M12.9 20.3h.7M8.8 18.7h.7M8.7 16h.7M15.3 15.3h.7M13.4 11.2h.7M6.8 12.9h.7M15 15.8h.7M5 14.3h.7M14.7 12.6h.7M2.6 9.6h.7M7.8 13.9h.7M10.8 14.6h.7M3.1 9.4h.7M1.7 14.5h.7M17.8 14.5h.7M1.8 11.6h.7M13.1 5.4h.7M8.9 18.7h.7M11.7 13.6h.7M7.8 15.9h.7M4.2 12.2h.7M13.8 14.4h.7M16.3 13.4h.7M1 12.3h.7M14.3 7.9h.7M2.3 19.3h.7M11.7 16.1h.7M7.5 12.5h.7M4.9 22.1h.7M7.6 15.3h.7M15.7 20.9h.7M9.3 14.7h.7M15.8 13.8h.7M8.8 16.6h.7M7.8 13.6h.7M.6 16.1h.7M.4 15.7h.7M15.8 16.1h.7M12.6 13.4h.7M6 14.1h.7M18.1 19.6h.7M6.8 10.6h.7M12.3 14.5h.7M10.1 18.8h.7M11.2 16.6h.7M5.4 15.2h.7M9.8 13.4h.7M9.4 17.2h.7M10.7 12.8h.7M10.9 16.6h.7M11.9 14.2h.7M2.3 10.3h.7M6.7 11.5h.7M17.2 10.9h.7M13.9 11.1h.7M5.1 12.1h.7M10.9 12.7h.7M4.2 16.5h.7M18.2 17h.7M9.8 14h.7M1.3 15.6h.7M16.2 12.4h.7M4.4 9.9h.7M11.3 14.1h.7M17.2 14.2h.7M7.4 11.1h.7M7.5 9.1h.7M.6 16.1h.7M5.8 14h.7M15.2 13.1h.7M6.7 16.1h.7M14.7 13h.7M16.3 12.7h.7M14.7 17.9h.7M17.9 8.8h.7M16.9 11.7h.7M18.4 15.4h.7M11.7 17.7h.7M11.6 17.6h.7M17.5 16.9h.7M10.3 15.6h.7M17.3 16.8h.7M8 16.6h.7M10.9 15.7h.7M3.1 11.1h.7M12.6 14.7h.7M21.5 18.5h.7M19.6 20.6h.7M27.2 11.6h.7M19.7 21.2h.7M26.6 16.7h.7M18.7 18.9h.7M27.2 12.2h.7M29.6 16.4h.7M17.5 25.1h.7M21.2 15.5h.7M19.4 17.4h.7M28.8 15.6h.7M22.2 18.8h.7M25.8 16.6h.7M18.5 20.8h.7M31.7 21h.7M19.1 19h.7M21.9 16.9h.7M21 16.9h.7M16.2 21.7h.7M32.1 20.5h.7M29 9h.7M18.7 16.6h.7M34.7 18.8h.7M28.1 15.7h.7M31 11.2h.7M35.4 18.4h.7M25.5 20h.7M28.2 14.3h.7M22.3 17h.7M29.5 22.8h.7M17.8 20h.7M24.5 18.6h.7M26.4 15.4h.7M20.2 20.7h.7M34 20.1h.7M24.2 19.7h.7M29.6 15.4h.7M33.4 19.5h.7M21.6 22.1h.7M23.9 21.6h.7M21.8 22.9h.7M24 19h.7M27.5 14.1h.7M27.8 17.9h.7M33.7 13.3h.7M20.6 17.5h.7M32.3 17h.7M26.4 18.5h.7M17.8 15.6h.7M31.4 14.6h.7M32.9 18.5h.7M28 18.2h.7M28 21.4h.7M17 12.3h.7M19.7 16.3h.7M34 13.8h.7M22.3 20.2h.7M24.6 20.4h.7M25.3 16.6h.7M21.1 14.6h.7M35.2 18.6h.7M34.7 20.7h.7M33.9 21.7h.7M29.4 19.6h.7M34.3 16h.7M31.6 15.4h.7M30.5 13.5h.7M34.9 17.4h.7M28.7 17.7h.7M17.3 22.5h.7M35.9 12.9h.7M18.7 15.9h.7M30.1 17.5h.7M18.3 18.8h.7M19.2 18.5h.7M33.4 21.8h.7M30 14.4h.7M24.6 17.7h.7M17.6 19.2h.7M17.8 16.1h.7M17.4 21.3h.7M27.3 14h.7M17.6 17h.7M24.1 20.4h.7M30.2 12.4h.7M22 19.9h.7M17.7 22.3h.7M25.2 15.5h.7M17 18.8h.7M22 13.3h.7M32.3 15.2h.7M28.8 19.4h.7M22.1 16.4h.7M23 18.8h.7M26 19.2h.7M23.8 15.4h.7M30.6 22.9h.7M34.4 12.6h.7M27.9 15.7h.7M34.5 13.7h.7M26.1 23h.7M31.4 17.6h.7M27.9 14.2h.7M25.1 18.8h.7M35.1 20h.7M22.8 20.6h.7M25.5 20.9h.7M28.2 20h.7M25 20.1h.7M27.4 12.6h.7M35.8 17.7h.7M18.3 20.1h.7M18.4 18.1h.7M16.7 16.9h.7M16.1 10.3h.7M19.7 17.8h.7M35.8 20.3h.7M17.6 13.7h.7M20 19.8h.7M14.2 39.4h.7M28.6 42.4h.7M29.3 27.1h.7M5.7 16.5h.7M28 42.4h.7M29.5 36h.7M17.2 17.6h.7M18.8 19.7h.7M12.4 41.4h.7M24.6 45.7h.7M36.1 40h.7M39.3 21.1h.7M31.1 37h.7M23.1 20h.7M21 46h.7M30 46.9h.7M32.7 18.2h.7M16.8 44.1h.7M30.3 32.3h.7M19.1 29h.7M15.5 27.8h.7M19.8 35.6h.7M6.5 21.6h.7M26.5 35.1h.7M20.6 33.3h.7M14.9 49.1h.7M12.5 33.7h.7M12.6 36h.7M12.8 30h.7M2 27.3h.7M19 36.5h.7M32.4 17.7h.7M13.5 24.1h.7M19.4 46.1h.7M39.1 40h.7M39.3 32.6h.7M25.9 20.5h.7M30.4 24.8h.7M23.3 23.7h.7M21.5 29.1h.7M36.9 33.4h.7M32.2 24.5h.7M21.2 33.5h.7M13.1 29.7h.7M.9 21h.7M13.9 38.6h.7M24.4 39.7h.7M3.8 23.2h.7M39 20.5h.7M7.3 34.5h.7M19.4 45h.7M36 35.4h.7M18.9 30.7h.7M41.5 19.7h.7M20.3 41.3h.7M28.2 19.2h.7M34.1 46.8h.7M31.3 21.7h.7M37.7 20.8h.7M.7 39.3h.7M29 41.9h.7M22.2 18.3h.7M1.6 37.5h.7M32 27.5h.7M32.1 28.6h.7M19.2 38.8h.7M28.9 37.5h.7M5.8 38.9h.7M32.8 41h.7M26.5 35.7h.7M10.2 49.1h.7M40.8 24.6h.7M27.6 41h.7M19.9 25.6h.7M14.8 21.2h.7M33.7 33.2h.7M42 23.1h.7M41.2 37.5h.7M23.1 19.5h.7M2.8 32.5h.7M5.1 37h.7M9.9 46.6h.7M27.2 17.6h.7M36.2 38.6h.7M9.1 28.4h.7M28.4 45.6h.7M16.8 42.8h.7M39.5 47.6h.7M26 43.3h.7M3.1 39.7h.7M35.8 27.5h.7M35.7 27.6h.7M35 27h.7M23.3 36.7h.7M5 18.8h.7M14.7 30.3h.7M26.8 47.9h.7M39.5 20.2h.7M29.8 19.9h.7M2.8 19.3h.7M37.6 39.5h.7M21.8 35.2h.7M26.3 19.5h.7M20 46.2h.7M1.4 39.6h.7M3.1 33.7h.7M7.4 18.5h.7M2.7 30.2h.7M40.9 20.8h.7M18.5 26.2h.7M15.3 23.3h.7M16.7 48.5h.7M5.9 43.6h.7M33.4 31.3h.7M29 34.3h.7M41.6 17.8h.7M31.8 43.2h.7M27.5 48.2h.7M2.2 36.3h.7M31.3 18.4h.7M22.5 43.1h.7M28.2 28.7h.7M34.3 46.4h.7M9.6 24.3h.7M34.5 41.1h.7M18 48.9h.7M41 35.8h.7M16 18.9h.7M.5 29h.7M18.2 18.8h.7M9.4 44.7h.7M31.3 27.9h.7M4.4 46.9h.7M38 41.3h.7M28.7 38.7h.7M11.4 34.5h.7M7.8 19.7h.7M30.4 30.7h.7M13.3 42h.7M26.9 38.4h.7M37.9 22.2h.7M18.9 18.4h.7M30.9 40.9h.7M1.3 27.4h.7M3 43.1h.7M25.4 24.2h.7M29.4 47h.7M36.8 28.8h.7M1 28.2h.7M11.1 39.5h.7M13.9 44.1h.7M11.7 45.7h.7M39 34h.7M1.5 42.2h.7M36 20.5h.7M30.6 19.1h.7M13.4 25.6h.7M6.6 37.3h.7M41.4 32.7h.7M39.6 24.8h.7M5.4 25.4h.7M34.4 26.8h.7M14.6 44.9h.7M25.6 29.2h.7M36.6 20.7h.7M8.4 36.5h.7M20.7 38.7h.7M34.2 38.7h.7M7.4 40h.7M9.9 19.2h.7M12.5 28.8h.7M21.2 19.9h.7M26.6 28.6h.7M41.6 31.9h.7M34.9 42.8h.7M25.4 38h.7M3.6 46.2h.7M40.6 46.6h.7M3.4 23.1h.7M13.3 21.8h.7M10.7 19.2h.7M24.6 45h.7M14.1 43.7h.7M36.4 35.1h.7M36.3 24.4h.7M25.7 37.4h.7M10.9 33.2h.7M33.2 31.9h.7M5.3 48.9h.7M36.5 32.4h.7M13.6 16.2h.7M13.1 48.5h.7M31.8 20.9h.7M27.3 18.8h.7M20.7 47.6h.7M1.1 32.6h.7M40.6 19.3h.7M18.9 42.6h.7M43.4 15.2h.7M35.8 19h.7M35 3.1h.7M38.9 18.9h.7M41.1 33.8h.7M36.7 10.9h.7M40.1 29.5h.7M46.6 31.7h.7M41.1 24.2h.7M33.2 29.6h.7M43.9 23.2h.7M39.3 27.3h.7M42.4 28.2h.7M42.3 11.1h.7M38.2 10.1h.7M43.9 45.4h.7M37.2 22.7h.7M41.6 18h.7M47.7 25.6h.7M49.6 42.9h.7M42.6 17.5h.7M46.1 21.6h.7M37.1 22.1h.7M45.3 17.2h.7M39.6 31.1h.7M39.3 31.2h.7M45.7 19.7h.7M35.5 14h.7M45.9 28.4h.7M40.9 20.6h.7M45 19.9h.7M52 26.5h.7M33.7 32.6h.7M41.6 23.7h.7M39.8 33.8h.7M38.5 36.8h.7M37.3 31.4h.7M34.2 31.8h.7M36.4 21.8h.7M43.7 17.4h.7M42.8 23.8h.7M46 31.3h.7M41.6 22.2h.7M36.7 35.5h.7M39.5 13.4h.7M37.1 8.1h.7M36.8 20.1h.7M41.5 31.4h.7M44 8.7h.7M38.5 28.7h.7M41.9 23.6h.7M37.1 29.6h.7M40.1 21.7h.7M40 21.8h.7M41.8 32.8h.7M40.8 18.5h.7M40 22.5h.7M42.5 30h.7M47.4 31.1h.7M33.3 16.7h.7M35.1 26.2h.7M50.4 27.5h.7M38.1 35.2h.7M43.1 17h.7M36.4 35.9h.7M43.7 6.4h.7M37.3 28.4h.7M34.7 23.7h.7M36.7 9.9h.7M38.2 19.3h.7M41.6 9.5h.7M41.5 20.7h.7M33.7 33.7h.7M38.5 27.2h.7M47 27.1h.7M44.4 25.5h.7M38 25.3h.7M33.7 27.7h.7M43.9 27.3h.7M37.5 13.7h.7M37.3 21.3h.7M34.4 39.6h.7M37 24.8h.7M38.4 24.8h.7M31.3 15.2h.7M40.3 23.4h.7M42.1 19.3h.7M43.9 25.5h.7M40.2 23.9h.7M44.9 23.4h.7M47 24.8h.7M41.4 23.7h.7M41.7 27.6h.7M37.7 30.3h.7M51.3 28.2h.7M40.9 17.1h.7M37.1 16.9h.7M41.5 18h.7M47.2 20.2h.7M36.6 16.2h.7M40 22.5h.7M44.3 17.7h.7M41.8 31.6h.7M39.2 9.3h.7M41.4 32.2h.7M42.1 23.8h.7M32.1 37.1h.7M39.6 13.9h.7M38.9 25h.7M40.6 16.3h.7M50.6 34h.7M44.6 29h.7M38.7 14h.7M34.9 32.6h.7M40.7 37.2h.7M30.7 34.7h.7M42.3 19.2h.7M44.1 18.2h.7M39.2 28h.7M41 26.1h.7M41.3 32.3h.7M36.7 7.1h.7M36.4 3.7h.7M48.6 18.2h.7M40.2 26.5h.7M37 19.6h.7M41.5 23.8h.7M43.8 21.7h.7M37.5 11.6h.7M33.2 25.9h.7M41.7 20.3h.7M45.5 1.4h.7M43.1 13.8h.7M38.9 21.8h.7M37.2 21.3h.7M41.5 43.5h.7M40.4 29.6h.7M43.9 15.8h.7M42.4 20.3h.7M44.2 18.9h.7M44.9 16.3h.7M38.3 30.7h.7M44.7 30.9h.7M48.9 32.2h.7M40.3 31.5h.7M36.8 30.4h.7M42 22.5h.7M37.3 32.5h.7M31.8 22.3h.7M34.3 20.8h.7M38.5 16.8h.7M37.7 26.1h.7M48.8 38.1h.7M39.5 20.2h.7M43 16.7h.7M34 31.8h.7M38.6 36.3h.7M41.8 11.6h.7M41.6 27.7h.7M40.6 12.4h.7M33.9 39.2h.7M28.4 15.7h.7M43.8 38.6h.7M43.1 23.5h.7M42 33.2h.7M38.1 34.3h.7M41.4 25.4h.7M42.2 26.3h.7M36.4 36.6h.7M38.3 21.5h.7M30.3 10h.7M42.8 22.9h.7M39.9 20.6h.7M43 18.3h.7M34 10.2h.7M36.9 26.3h.7M46.5 28.4h.7M37.4 12.7h.7M43.9 27.9h.7M40.1 28.9h.7M42.9 27.9h.7M46 10.9h.7M37.6 19.3h.7M36.1 40.1h.7M41.9 27.2h.7M43.7 21.7h.7M43.9 22h.7M43.6 28.4h.7M45.9 11.1h.7M36.4 17.4h.7M36.8 26.9h.7M44.5 20.8h.7M44.9 31.1h.7M37.8 29.2h.7M46.5 19.7h.7M31 28.3h.7M41.6 28.9h.7M42.6 23.3h.7M40.3 17h.7M48.7 36.7h.7M39.8 16.6h.7M42.2 37.1h.7M40.6 16.9h.7M44.4 25.9h.7M37 21.9h.7M41.1 14.5h.7M41.6 34.4h.7M44.9 34.2h.7M43.6 23h.7M43 34h.7M40.6 28.1h.7M37.7 23.9h.7M38.3 14.9h.7M42.1 42.3h.7M33.2 19.8h.7M41.2 17.6h.7M41.1 30.9h.7M33.5 23h.7M42.9 28.6h.7M48.2 25.5h.7M45.7 19.1h.7M36.6 19.4h.7M38.6 31.3h.7M43.6 24h.7M36.6 25.1h.7M38.7 20.7h.7M33.1 37h.7M42.9 48.7h.7M51.8 24.3h.7M49.9 20.4h.7M52.3 23.5h.7M32.6 23.8h.7M43.9 38.2h.7M44.6 38.7h.7M41.3 11.2h.7M41.1 16.5h.7M44 6.1h.7M36.3 14.2h.7M40.9 32.6h.7M39.2 13h.7M38.3 22.6h.7M45.4 24.9h.7M48 42.4h.7M38.3 46.7h.7M33.9 31.8h.7M34.9 18.8h.7M42.6 25.8h.7M41.7 22.4h.7M32.6 10.3h.7M36.8 15.5h.7M38.5 9.6h.7M40 28h.7M38.3 35.2h.7M41.3 31.8h.7M36.7 25.7h.7M34.4 8h.7M33 20.5h.7M41.5 41.9h.7M41.8 20.8h.7M45 24.9h.7M40.5 25.1h.7M44.6 37.5h.7M34.4 24.8h.7M38.4 24.1h.7M50.6 22h.7M29.9 31.2h.7M38.4 16.1h.7M49.9 40.9h.7M44.9 26.1h.7M37.4 36.3h.7M39.4 25.9h.7M39.7 25.3h.7M32 13.6h.7M35 5.5h.7M35.5 19.7h.7M39.7 23.2h.7M38.6 32.8h.7M31.6 19.4h.7M39.4 16.6h.7M46.4 22.9h.7M45.2 28.6h.7M39.3 32.3h.7M34.2 13.5h.7M38.7 3.6h.7M38.6 22.2h.7M33 15.1h.7M34.8 44h.7M45.8 29h.7M41.4 35.2h.7M40.9 34.4h.7M44.2 41.9h.7M45 19.1h.7M43.1 33.4h.7M43.3 42.5h.7M41.7 20.4h.7M44.3 33.6h.7M40.4 28.3h.7M41.1 26.1h.7M42 20.5h.7M43.6 27h.7M47.9 26.5h.7M41 13.5h.7M50.2 21.9h.7M38.3 21.6h.7M40.5 23h.7M47.8 19.8h.7M39.5 20.1h.7M43.1 10h.7M44.8 20.8h.7M34.4 36.4h.7M34.8 29.8h.7M40.6 18.2h.7M33.3 17.8h.7M43.7 23.3h.7M38 32.1h.7M40.6 24.5h.7M36.7 12.1h.7M38.5 26.3h.7M38.7 26.5h.7M39.4 21.8h.7M40.3 26.8h.7M30.8 23.7h.7M39.6 20h.7M44.7 33.6h.7M45.4 30h.7M42.4 24.9h.7M43.7 18.2h.7M39.9 26.5h.7M39.8 13.3h.7M40.1 20.3h.7M37.7 29h.7M45.1 24.5h.7M35.5 22.3h.7M39.7 14.9h.7M37.8 24.9h.7M37.9 27.5h.7M34.8 29.2h.7M37.4 24.8h.7M40.5 19.4h.7M44.9 8.7h.7M41.3 29.1h.7M39.4 23.2h.7M35.5 23.3h.7M41.2 18.7h.7M40.5 20.6h.7M36 23h.7M37.1 31h.7M37 35.4h.7M40.3 23.4h.7M37.3 27.3h.7M36 10.7h.7M42.3 6.1h.7M45.3 19.2h.7M47.2 25.6h.7M47.5 11.4h.7M38.5 25.8h.7M38 24.2h.7M39.7 29.1h.7M46.6 5.5h.7M43.1 13.9h.7M47.5 11.2h.7M36.8 27.9h.7M39.7 29.3h.7M42 17.1h.7M33.4 33.3h.7M39.5 22.7h.7M39.1 21.4h.7M37.3 24h.7M41.5 13.2h.7M33.6 28.2h.7M44.2 19h.7M39.7 19.4h.7M42.2 22.9h.7M38 17.2h.7M42.3 26.6h.7M38.5 26.9h.7M27 19.9h.7M41.2 6.6h.7M37.9 25.5h.7M45.9 26.8h.7M35.1 31h.7M39.2 30.4h.7M34.4 9.9h.7M33.5 28.5h.7M45.6 25.6h.7M41.2 22.6h.7M41.3 15h.7M45.8 30.2h.7M44.6 22.9h.7M44.1 31.7h.7M51.3 32.5h.7M37.2 16.9h.7M44.2 27.7h.7M42.8 24h.7M36.9 24.7h.7M34.1 25.9h.7M50.3 29.6h.7M36.7 16.3h.7M50.9 29h.7M38.2 28.4h.7M39 14.7h.7M41 27.8h.7M46.1 13.1h.7M46.9 21.5h.7M31.8 31.8h.7M44.8 28h.7M44.1 16.1h.7M42.7 9.9h.7M37.6 44.6h.7M47.7 26.8h.7M42.6 24.3h.7M43.2 25.3h.7M36.4 20.6h.7M32.1 16.3h.7M39.7 26.7h.7M50.2 10.1h.7M49.7 20h.7M38.6 22.9h.7M50 14.6h.7M38.8 28.1h.7M44.6 26.8h.7M41 31.8h.7M36.2 36.7h.7M38.3 26.7h.7M36.4 18.5h.7M44.8 28.3h.7M39.6 30.3h.7M54.6 3.2h.7M31.4 25.1h.7M32.9 32h.7M36.8 23.6h.7M36.8 40.7h.7M47.2 9.5h.7M43.4 21.1h.7M46.9 26.4h.7M37.2 20h.7M40.7 37.7h.7M40.9 19.3h.7M38.7 30.6h.7M39.1 38.2h.7M44.4 24.9h.7M40.9 20.9h.7M30.1 33.4h.7M47.1 21.9h.7M41.7 12.4h.7M39.6 25.1h.7M40.1 24.1h.7M44.8 29.5h.7M43.9 18.8h.7M38.2 23.7h.7M33.4 11.7h.7M41.9 23.7h.7M40.8 33.5h.7M31 27h.7M39.4 12.8h.7M43.4 35.3h.7M34 24h.7M44.7 24h.7M38.5 31.7h.7M32.9 23.3h.7M37.6 23h.7M34.9 25.1h.7M45.9 27.4h.7M34.8 19.4h.7M37.1 11.3h.7M43.7 27.8h.7M39.7 35.9h.7M43.6 18.8h.7M40.7 22.5h.7M40.4 34.6h.7M46.1 15.7h.7M49.1 10.4h.7M39.3 43.9h.7M43.5 33.4h.7M41.1 27.9h.7M37.6 35.9h.7M39.6 19.3h.7M33.9 41.9h.7M33.9 15.2h.7M42.6 24h.7M48.1 28.9h.7M42 17.2h.7M42.9 11.8h.7M37.2 35.2h.7M41.7 14.1h.7M37.7 22.6h.7M41.9 25.4h.7M43.7 8.2h.7M38.5 24.8h.7M45.1 18.6h.7M34.6 16.9h.7M41.6 43.7h.7M35.1 19.5h.7M37.4 33.2h.7M43 22.5h.7M41.9 36.9h.7M39.3 14.4h.7M40.6 13.5h.7M41.5 31h.7M38.9 31.5h.7M45.8 39.1h.7M39 28.7h.7M44.1 30.6h.7M44.7 27.9h.7M43.6 31.5h.7M42.7 28.7h.7M41.8 23.3h.7M32.5 23.3h.7M40.7 19.3h.7M38.6 34.3h.7M39.4 5.1h.7M38.2 22.9h.7M46 26.4h.7M42.8 19.4h.7M38 10.7h.7M43.3 24.1h.7M37.4 24.4h.7M45.4 31.6h.7M44 33.5h.7M41.6 23.9h.7M40.5 27.9h.7M33.1 26.3h.7M40.7 16.6h.7M38.1 33.5h.7M38.8 23.1h.7M47.1 15.9h.7M40.4 20.4h.7M38.3 22.4h.7M43 21.7h.7M44.7 30h.7M35.9 24.4h.7M39.8 13.2h.7M32.8 32.3h.7M41.8 34h.7M47.4 30.3h.7M42.2 34.5h.7M40 20.7h.7M44.8 29.3h.7M38.3 20.5h.7M35 41.2h.7M38.9 19.8h.7M37.9 19.6h.7M41.1 24.2h.7M44 3.3h.7M41.1 37.7h.7M40.8 19h.7M49.2 19.6h.7M43.5 25.9h.7M39.9 15.6h.7M41.2 25.6h.7M48.5 11.4h.7M33.8 28.5h.7M34 .5h.7M39.1 33.3h.7M32.6 11.5h.7M47 16.6h.7M36.7 22.5h.7M47.5 22.3h.7M16.4 30.5h.7M7.9 38.1h.7M7.2 56.9h.7M8.3 50.3h.7M8.6 57.8h.7M14.1 31.3h.7M17 55.7h.7M13.6 48h.7M7.5 24.1h.7M1.7 33.8h.7M10.7 56.4h.7M6.4 48.9h.7M10.1 57.7h.7M15.6 18.4h.7M12.5 30.8h.7M16 20.9h.7M6.4 19.6h.7M10.5 20.1h.7M1.4 43.5h.7M2.6 18.4h.7M14.9 54.9h.7M8.5 55.4h.7M10 56.4h.7M1.8 19.7h.7M11.6 31.1h.7M9.7 50.7h.7M8.7 31h.7M16.1 34.9h.7M7.6 40.8h.7M.6 41.9h.7M10.4 25.5h.7M11.9 37.8h.7M16.1 34.7h.7M1.4 58.5h.7M4.8 60.2h.7M11.3 33.3h.7M8.5 53.2h.7M14.9 24h.7M5 22.1h.7M8.8 30.2h.7M4.8 46.9h.7M16.5 27h.7M8.9 36.7h.7M9.7 32.5h.7M3.1 30.9h.7M15.6 39.8h.7M16.2 18.8h.7M3.2 58.6h.7M1.9 43.6h.7M3 23.9h.7M8.1 56.3h.7M9.5 18.6h.7M3.6 61.6h.7M13.3 40.9h.7M5.5 31.9h.7M.6 28.1h.7M14.4 34.1h.7M14.5 60.1h.7M11.6 30.8h.7M7.4 23.3h.7M3.9 33.4h.7M.7 55.6h.7M8.5 33.6h.7M10.6 38h.7M5.4 34.9h.7M7.5 31.5h.7M6.3 38.5h.7M14.6 53.5h.7M14.7 38.6h.7M16.2 20.6h.7M14.4 47.5h.7M.5 55.2h.7M5.6 44.7h.7M.9 46.5h.7M11.2 33.5h.7M5.7 52.9h.7M15.5 18.1h.7M5.1 41.2h.7M5.4 32.4h.7M9.6 55.3h.7M13.7 35h.7M14.8 61h.7M2.5 26.1h.7M16.6 22.3h.7M13.9 26.7h.7M4.3 52.1h.7M4.3 36.7h.7M16 47h.7M7.3 60.4h.7M15.3 59.6h.7M9 23.4h.7M5.4 26h.7M4.8 24.7h.7M11.4 52.2h.7M.4 53.9h.7M13.7 40.3h.7M16.7 22.4h.7M.6 23.2h.7M2.5 51.7h.7M10.7 23.4h.7M14 49.4h.7M9.8 29.8h.7M6.5 61.1h.7M10.3 20.5h.7M7.4 42.8h.7M11.7 41.5h.7M3.6 47.9h.7M8.6 47.4h.7M16.8 57.9h.7M5.4 51.5h.7M3.6 33.2h.7M1 52.6h.7M3.8 54.6h.7M10.2 54.2h.7M11.8 26h.7M12.5 53.7h.7M7.4 52.5h.7M5.5 22.2h.7M8.6 21.2h.7M6.2 58.7h.7M14.6 51h.7M6.7 24.5h.7M8.8 21.8h.7M13.1 53.3h.7M1.5 32h.7M9 35h.7M11.8 19.6h.7M12.8 47.2h.7M3.8 21.5h.7M2.3 24.8h.7M7.9 24.8h.7M.7 19.1h.7M13.8 44.3h.7M4.4 30.6h.7M7 36.7h.7M10.5 25.6h.7M10.3 46h.7M14.6 53.8h.7M13 43.7h.7M.9 57.4h.7M11.1 44.5h.7M6.1 21.8h.7M1.9 57.9h.7M7.9 35.5h.7M15.3 39.4h.7M5.6 35.6h.7M8.4 45h.7M12.1 19.8h.7M12.8 49.3h.7M15.7 33.5h.7M2.1 61h.7M4.9 55.2h.7M15.6 50.1h.7M4.8 40.5h.7M9.7 30h.7M9.9 61.3h.7M9.9 44.4h.7M7.6 29.2h.7M14.4 22h.7M8 45.1h.7M16.8 25.6h.7M16.2 46.4h.7M.8 32.1h.7M2.4 56.7h.7M11.2 57.2h.7M.8 37.3h.7M14.6 24.1h.7M5.8 45.1h.7M14.7 27.6h.7M3.8 19.8h.7M9.7 46.4h.7M.7 23.7h.7M7.9 45.6h.7M.8 56.9h.7M9.4 45.2h.7M10.9 34.6h.7M10.1 35.2h.7M12.6 40.6h.7M.9 34.6h.7M1.1 57.2h.7M1.3 37.5h.7M12.5 36.4h.7M.4 26.9h.7M7 29.1h.7M14.1 27.6h.7M16.2 48.1h.7M3.9 36.5h.7M9.9 25.1h.7M15.4 24.2h.7M11.6 40.3h.7M14.3 21.9h.7M2.4 42.7h.7M4.3 28.9h.7M5.4 51.7h.7M9.1 24.4h.7M11 25.1h.7M6.6 39.5h.7M4.1 24.5h.7M14 22.8h.7M8.9 53.5h.7M6 47.1h.7M4.6 46.6h.7M1.2 60.3h.7M16 60.2h.7M11.5 38.2h.7M10.5 53.4h.7M15.1 39.7h.7M5.6 26.4h.7M5 49h.7M1.4 45h.7M.8 52.3h.7M3.8 37.7h.7M14.6 50.8h.7M2 47.5h.7M6.5 61.5h.7M3.9 45.1h.7M8 40.1h.7M10.8 36.4h.7M13.3 45.5h.7M4.3 27.2h.7M11.1 42.2h.7M2.7 37h.7M15.7 36.3h.7M5 45.4h.7M1 33.7h.7M15.6 19.6h.7M2.3 33.4h.7M3.8 19.8h.7M8.7 44.8h.7M.4 49.7h.7M9.3 45.8h.7M4.1 45.8h.7M17 57.4h.7M6.3 18.9h.7M6.1 51.4h.7M7 45.1h.7M11.6 37.1h.7M3.7 51h.7M8 41h.7M5.8 42h.7M10.4 54.5h.7M11.9 42.3h.7M14.4 51.7h.7M13.2 22.3h.7M15.8 37.8h.7M4.6 50.9h.7M2.9 45.3h.7M.9 47.7h.7M13.3 50h.7M9.1 52.3h.7M3.5 38.9h.7M9.5 30.3h.7M15.7 58.9h.7M9.5 18.8h.7M5.4 50.1h.7M8.9 49.6h.7M9.5 52.9h.7M14.6 59.8h.7M8.4 50.8h.7M14.1 29.1h.7M16.1 22.5h.7M7.7 21.4h.7M15 50.5h.7M.9 32.8h.7M11.9 27.6h.7M3.2 31.8h.7M6.7 40.1h.7M4.1 30.8h.7M15.6 20.1h.7M3.4 27.1h.7M8.4 46.3h.7M8.2 59.6h.7M8.2 22.7h.7M2 44.3h.7M1.6 51.5h.7M12 29.1h.7M16.4 60.6h.7M6.1 24.4h.7M7.9 30.8h.7M13.9 23.7h.7M8.4 36h.7M13.9 35.6h.7M2 18.8h.7M7.3 34.7h.7M6.9 50.2h.7M5.9 41.3h.7M1.8 18.4h.7M7.1 48.2h.7M5.5 59.6h.7M1.3 22.9h.7M4.1 27.2h.7M2 25.5h.7M16.6 32h.7M15 57.6h.7M7.6 52.1h.7M12.7 46h.7M9.9 44.6h.7M1.3 45.9h.7M10.3 56.8h.7M13.1 39.6h.7M10.4 30.2h.7M4 25h.7M10.1 31.1h.7M3.8 50h.7M15.2 23.6h.7M16.7 33.6h.7M7.3 47.9h.7M15.5 55.2h.7M14.3 45h.7M10.7 18.3h.7M9.1 20.6h.7M15.4 30.5h.7M10.9 20.6h.7M13.9 26.5h.7M1 31.2h.7M11.5 44h.7M4.9 36.2h.7M1.7 60.1h.7M3.3 46.8h.7M11 21.5h.7M13.1 53.3h.7M13 22.4h.7M1.1 46.8h.7M16.3 49.8h.7M.3 47.3h.7M1.8 26.9h.7M6.8 48.6h.7M5.9 29.4h.7M12.6 33.2h.7M6.4 21.8h.7M4.7 51.2h.7M4.9 46.7h.7M4.1 39.1h.7M11.1 59h.7M2.3 40.2h.7M10.5 18.9h.7M2.3 27.6h.7M7 18.1h.7M3.6 37.5h.7M13.5 60.4h.7M15.3 22.2h.7M1.6 42.9h.7M8.8 23.5h.7M8.6 58.9h.7M8.2 37.6h.7M5.7 45.5h.7M16.3 43.8h.7M5.9 48.5h.7M9.1 44.7h.7M6.9 22.2h.7M12.9 31.6h.7M1.1 34.1h.7M3.7 49.3h.7M.4 54.7h.7M10 22.5h.7M12.5 35.8h.7M10.1 31h.7M2.6 32.7h.7M10 61.3h.7M11.3 40.1h.7M12.7 51.2h.7M6.5 20h.7M14.9 24.4h.7M2.8 31.5h.7M11.9 36.7h.7M7 24.9h.7M13.2 50.4h.7M10.7 57.5h.7M.6 54h.7M13.2 39h.7M6.5 61.3h.7M13.4 59.8h.7M.6 50.7h.7M4.7 19.5h.7M13.9 57.2h.7M13.4 41.9h.7M9.7 22.1h.7M11.3 30.5h.7M13.9 21.6h.7M3.3 29.7h.7M9 31.7h.7M6.5 39.7h.7M2.5 41.5h.7M.3 37.1h.7M10.2 41.1h.7M.3 41h.7M15.4 34.4h.7M4.6 54.4h.7M14.3 53.3h.7M7.9 27.5h.7M2 45.8h.7M2.6 47h.7M2.4 37.6h.7M11 46.4h.7M5.3 43.9h.7M15.2 51.5h.7M7.7 19.8h.7M1.4 26.8h.7M.5 47.8h.7M10.7 20h.7M16.4 38.2h.7M15.3 26.5h.7M11.4 59.2h.7M11.8 30.3h.7M15.9 32.2h.7M6.7 39.7h.7M4.8 56.8h.7M8 22.3h.7M5.5 51.1h.7M15.3 20.7h.7M12.6 55.9h.7M15.4 45.6h.7M15.9 49.1h.7M32.2 37.7h.7M29.5 24.2h.7M31.2 24.8h.7M32.8 23.1h.7M34.2 21.2h.7M38.6 28.7h.7M26.4 20.5h.7M30.4 30.5h.7M22.4 31.6h.7M22.3 19.9h.7M27.8 21.8h.7M35.9 30.3h.7M31.5 22.7h.7M27.2 32h.7M29.6 42.3h.7M24.2 19.6h.7M35.4 36.4h.7M30.5 27h.7M29 25.5h.7M21.5 28.4h.7M29.4 27h.7M31.4 17.6h.7M24.3 17.4h.7M31.8 29h.7M37.6 30.6h.7M42.2 30.8h.7M40.9 29.4h.7M33.6 12.5h.7M36.8 23.2h.7M30.1 15.1h.7M38.3 24h.7M29.9 18.8h.7M31.6 27.1h.7M35 24.8h.7M33.1 24.5h.7M29.9 31.8h.7M31.3 20.2h.7M40.6 17.8h.7M29.8 24.9h.7M31.1 23.5h.7M36.8 30.9h.7M25.4 36.7h.7M26.2 17.2h.7M35.4 17.3h.7M26 29.7h.7M34.5 26.7h.7M39 31.1h.7M29.7 20.9h.7M34.1 21.3h.7M33.3 30h.7M33.3 14.6h.7M40.2 23.7h.7M33.7 13.1h.7M31.8 15.4h.7M39.9 20.9h.7M25.1 23.3h.7M27.4 24.5h.7M27.3 12.5h.7M31.1 22.1h.7M28 28.7h.7M36.2 23.4h.7M31.6 26.5h.7M36.6 25.3h.7M26.4 28.4h.7M43.8 28.4h.7M33.6 20.3h.7M24.4 27.5h.7M34.9 27.1h.7M32.8 32.7h.7M31.5 11.4h.7M31.3 25.2h.7M35.9 27.9h.7M35.5 27.2h.7M33.5 16.3h.7M30.4 30.9h.7M40.1 6.2h.7M31.3 21.2h.7M36.3 10.9h.7M29.2 25.3h.7M28 12.5h.7M41.2 22.4h.7M32.3 28.2h.7M41.4 19.3h.7M31.2 21.8h.7M36.7 30.4h.7M39.9 21.1h.7M26 19.8h.7M22.5 26.4h.7M21.8 26.9h.7M26.8 26.9h.7M39.3 23.3h.7M31.3 24.3h.7M28.9 26.4h.7M30.7 25.1h.7M27.9 27.6h.7M33.6 18.3h.7M31.6 14.7h.7M24.9 16.6h.7M34 21.4h.7M31.7 25.9h.7M30.6 22.8h.7M29.1 38.6h.7M27.9 28.2h.7M30.7 36.2h.7M26.3 23.4h.7M33.9 20.8h.7M42.5 25.8h.7M34 12.8h.7M34 16h.7M34.7 26.6h.7M31.3 20.3h.7M27.9 19.8h.7M39.6 18.7h.7M30.4 26.8h.7M25.2 21.2h.7M37.6 25.7h.7M34.7 28.9h.7M31.8 8.2h.7M35.7 27.9h.7M20.1 22.6h.7M39 16.3h.7M36.6 33.8h.7M31.4 22.2h.7M26.9 28.4h.7M33.1 27.8h.7M31.6 24.3h.7M28.9 31.3h.7M31.2 32.4h.7M36.4 19.1h.7M26.4 31h.7M33.9 21.6h.7M37.1 10.5h.7M34.8 21.7h.7M35.6 20.2h.7M29.6 28.6h.7M33.8 14.4h.7M34.5 28.8h.7M23.7 17.7h.7M26.3 17.5h.7M28.5 36.8h.7M26.9 17.7h.7M30.7 32.9h.7M29.9 30.4h.7M37 21.3h.7M33.9 30.7h.7M33.1 34.9h.7M33.9 34.7h.7M27 25.6h.7M20 14.5h.7M29.1 21.3h.7" stroke="#000" stroke-opacity="0.55" stroke-width="0.7" fill="none"/>
<g filter="url(#b1)"><path d="M277 259.5L292 259.5L294 262.5L292 265.5L277 265.5z" fill-opacity="0.8"/><path d="M311.5 263.5L322 263.5L321 273L318 285L315.8 285L312.5 273z"/></g>
</g>
<text x="317.8" y="43.6" font-size="11.8" font-weight="bold" textLength="13.2" lengthAdjust="spacingAndGlyphs" stroke="#000" stroke-width=".25">39</text>
<text x="317.8" y="114.2" font-size="11.8" font-weight="bold" textLength="13.2" lengthAdjust="spacingAndGlyphs" stroke="#000" stroke-width=".25">54</text>
<text x="316.7" y="183.5" font-size="11.8" font-weight="bold" textLength="14.3" lengthAdjust="spacingAndGlyphs" stroke="#000" stroke-width=".25">38</text>
<text x="319" y="264.2" font-size="11.8" font-weight="bold" textLength="11.6" lengthAdjust="spacingAndGlyphs" stroke="#000" stroke-width=".25">42</text>
<line x1="271.5" y1="309" x2="271.5" y2="289.4" stroke="#000" stroke-width="1.6"/>
<line x1="270.7" y1="308.2" x2="299.5" y2="308.2" stroke="#000" stroke-width="1.6"/>
<path d="M271.5 284.4l-3.4 7h6.8z"/>
<path d="M304.5 308.2l-7-3.4v6.8z"/>
<text x="263.9" y="331.4" font-size="13" font-weight="bold" textLength="38" lengthAdjust="spacingAndGlyphs" transform="rotate(-90 263.9 331.4)">Thy1.2</text>
<text x="273.7" y="324.9" font-size="12.4" font-weight="bold" textLength="27.8" lengthAdjust="spacingAndGlyphs">TCRβ</text>
<line x1="74" y1="310.3" x2="74" y2="291" stroke="#000" stroke-width="1.6"/>
<line x1="73.2" y1="309.5" x2="102.6" y2="309.5" stroke="#000" stroke-width="1.6"/>
<path d="M74 286l-3.4 7h6.8z"/>
<path d="M107.6 309.5l-7-3.4v6.8z"/>
<text x="68.4" y="310.6" font-size="12.6" font-weight="bold" textLength="21.6" lengthAdjust="spacingAndGlyphs" transform="rotate(-90 68.4 310.6)">CD4</text>
<text x="74.5" y="325.8" font-size="12.2" font-weight="bold" textLength="22.5" lengthAdjust="spacingAndGlyphs">CD8</text>
<line x1="352.6" y1="313" x2="352.6" y2="293.8" stroke="#000" stroke-width="1.6"/>
<line x1="351.8" y1="312.2" x2="381" y2="312.2" stroke="#000" stroke-width="1.6"/>
<path d="M352.6 288.8l-3.4 7h6.8z"/>
<path d="M386 312.2l-7-3.4v6.8z"/>
<text x="348.8" y="313" font-size="12.6" font-weight="bold" textLength="29.5" lengthAdjust="spacingAndGlyphs" transform="rotate(-90 348.8 313)">CD44</text>
<text x="356" y="328.8" font-size="12.2" font-weight="bold" textLength="29" lengthAdjust="spacingAndGlyphs">CD25</text>
<g filter="url(#b0)">
<rect x="365" y="26" width="56.5" height="63.3" fill="none" stroke="#9c9c9c" stroke-width=".7"/>
<line x1="384.5" y1="26" x2="384.5" y2="89.3" stroke="#9c9c9c" stroke-width="0.7"/>
<line x1="365" y1="66.4" x2="421.5" y2="66.4" stroke="#9c9c9c" stroke-width="0.7"/>
<line x1="365" y1="26" x2="365" y2="89.3" stroke="#7a7a7a" stroke-width="0.9"/>
<line x1="365" y1="89.3" x2="421.5" y2="89.3" stroke="#8a8a8a" stroke-width="0.8"/>
<line x1="365" y1="90.1" x2="365" y2="91.5" stroke="#aaa" stroke-width="0.6"/>
<line x1="379.1" y1="90.1" x2="379.1" y2="91.5" stroke="#aaa" stroke-width="0.6"/>
<line x1="393.2" y1="90.1" x2="393.2" y2="91.5" stroke="#aaa" stroke-width="0.6"/>
<line x1="407.4" y1="90.1" x2="407.4" y2="91.5" stroke="#aaa" stroke-width="0.6"/>
<line x1="421.5" y1="90.1" x2="421.5" y2="91.5" stroke="#aaa" stroke-width="0.6"/>
<text x="363.4" y="25" font-size="3" font-weight="bold" text-anchor="end" fill="#6a6a6a">10</text>
<text x="363.4" y="40.8" font-size="3" font-weight="bold" text-anchor="end" fill="#6a6a6a">10</text>
<text x="363.4" y="56.6" font-size="3" font-weight="bold" text-anchor="end" fill="#6a6a6a">10</text>
<text x="363.4" y="72.5" font-size="3" font-weight="bold" text-anchor="end" fill="#6a6a6a">10</text>
<text x="363.4" y="88.3" font-size="3" font-weight="bold" text-anchor="end" fill="#6a6a6a">10</text>
<text x="361" y="62.6" font-size="2.7" transform="rotate(-90 361 62.6)" fill="#666">CD44 APC</text>
<path transform="translate(365 26)" d="M6.9 33.9h.7M2.5 19.4h.7M10.4 32.5h.7M11.1 36h.7M8.9 27.2h.7M9.5 24.4h.7M3 28.4h.7M15.7 24.3h.7M12.5 29.4h.7M13.9 27.3h.7M3.5 26.3h.7M7 34.2h.7M5.1 31.9h.7M16.2 30.7h.7M10.1 47.6h.7M5 30.5h.7M6.5 32.3h.7M4.9 28.6h.7M10.3 30.6h.7M.8 38h.7M9.1 43h.7M4.7 32.8h.7M4.5 35.7h.7M5.7 38.9h.7M8.1 16.3h.7M3.6 34.9h.7M10.4 37.1h.7M9.5 27.5h.7M8.2 30.9h.7M7.8 37.1h.7M4.4 28.5h.7M12.4 29.7h.7M9.7 27h.7M7.9 39h.7M13.4 30.8h.7M5.4 40.3h.7M.9 29.3h.7M10.3 45.9h.7M11.5 29.7h.7M7.5 30.2h.7M4.3 27.9h.7M8.8 19.5h.7M4.8 11.2h.7M11.1 31.3h.7M1.8 20.8h.7M5.2 41.2h.7M9.4 23.2h.7M5.9 19.8h.7M4.3 19.2h.7M14.1 35.1h.7M12.3 33.5h.7M5 36.9h.7M9.4 25.8h.7M1.8 30.3h.7M3.3 28.6h.7M.4 18.5h.7M11.1 34h.7M8.2 28.7h.7M8.4 24.2h.7M10.5 40.8h.7M5.5 20.3h.7M7.7 19.2h.7M14.8 29.8h.7M9.2 31.7h.7M5.9 25.6h.7M3.8 43.5h.7M8 37.5h.7M13.1 28.5h.7M5.8 27.8h.7M9 23.9h.7M11.1 28.8h.7M4.9 35h.7M12.8 24.6h.7M7 29.3h.7M9.6 35.6h.7M7.2 24.3h.7M5.5 36.2h.7M14.4 31.6h.7M4.7 47h.7M11.8 25.6h.7M3.1 24.4h.7M18.4 38.7h.7M4.1 25.3h.7M6.3 21.9h.7M9.8 23.2h.7M6.8 34.3h.7M6.8 36.9h.7M5.8 38.2h.7M5.3 26.5h.7M2.4 32.6h.7M10.2 30.5h.7M12.9 34.7h.7M8.9 19.5h.7M7 32.8h.7M3.4 40.1h.7M8.9 40.3h.7M3.2 42.3h.7M12.7 31.3h.7M6.4 41.1h.7M4.1 29h.7M11.8 29.9h.7M4.7 22.8h.7M5.9 38.8h.7M17.6 23.9h.7M3.3 34.5h.7M7.1 27.6h.7M7.1 39.3h.7M10.5 25.4h.7M9.5 22.3h.7M11.8 16.9h.7M6.1 36.4h.7M13.9 33.8h.7M.5 29.1h.7M11.1 34.7h.7M9.1 26.6h.7M.7 27.2h.7M8.3 25.9h.7M4.6 33h.7M6.5 31.6h.7M11.6 25.6h.7M11.3 22.9h.7M10.9 33.1h.7M9.5 35.2h.7M8.5 18.8h.7M13.8 31.8h.7M8.4 30.8h.7M9.1 28.9h.7M2.8 22.5h.7M14.2 34.5h.7M3.8 41.1h.7M8.7 23h.7M4.9 26h.7M11.9 35.4h.7M6.8 28.8h.7M5.1 31.1h.7M3.9 36.3h.7M7.3 36.7h.7M13.4 32.4h.7M10.9 10h.7M4.3 32.1h.7M4.5 37.6h.7M6.5 29.2h.7M5.9 39.1h.7M9.6 30h.7M10.9 28.6h.7M4.7 30.1h.7M6.9 37.7h.7M5.2 23.2h.7M12.6 36.4h.7M6.4 31.2h.7M1.8 41.5h.7M5.7 15.9h.7M7.2 33.8h.7M10.1 32h.7M8.6 29.3h.7M7.4 28.8h.7M16.8 30.9h.7M8.2 16.6h.7M7.6 34.2h.7M10.3 20h.7M7.5 41.1h.7M7 29.1h.7M9.9 29.8h.7M5.8 26.1h.7M1.4 31.6h.7M9.8 34.5h.7M5 33.2h.7M3.9 19.4h.7M10 21.9h.7M2.6 28.2h.7M6.5 40.8h.7M11.5 44.5h.7M8.4 19.4h.7M3 32.2h.7M2.7 33.3h.7M11.5 34.4h.7M1.5 37.9h.7M14 37.4h.7M16.4 25h.7M7.3 36.2h.7M11.4 40.5h.7M7.2 25.8h.7M7 25.6h.7M8.1 28.1h.7M10.6 25.7h.7M11.1 25.2h.7M12.2 38.6h.7M7.6 28.9h.7M9 33.4h.7M4 35.2h.7M1 22.5h.7M3.4 31.8h.7M4.7 14.5h.7M11.7 26.5h.7M6.5 32.7h.7M9 34.4h.7M3 32.5h.7M11.3 35.5h.7M13.1 20.6h.7M12.2 20.7h.7M3.6 31.8h.7M16.3 38.6h.7M7.3 31h.7M11.8 22.1h.7M6.5 26.4h.7M12.1 34.2h.7M8.9 38.7h.7M6.8 24.3h.7M11.1 18h.7M8.8 30.3h.7M1.9 31.7h.7M4.6 39.7h.7M10.6 36.5h.7M11.4 30.4h.7M11.8 34.6h.7M9.8 37.7h.7M15 19h.7M6.1 20.5h.7M3.2 35.1h.7M4.2 29h.7M5.7 37.1h.7M13.7 31.2h.7M5.3 26.6h.7M7.1 19.4h.7M3.3 31.8h.7M8.7 31.6h.7M9 25.5h.7M7.4 23.6h.7M8.6 16.9h.7M37.9 48.3h.7M34.5 47.7h.7M39.7 47h.7M43 56.1h.7M36.4 44.9h.7M31.7 37.9h.7M36.7 47.4h.7M37.3 59.8h.7M37.5 49.6h.7M35.2 37.8h.7M34.3 45.7h.7M38.6 51.9h.7M32.3 45.6h.7M38.8 35.1h.7M35.1 34.9h.7M33.5 55.6h.7M32.3 53.7h.7M35.4 33.8h.7M36.7 48.3h.7M35 56.1h.7M34.9 52.3h.7M36 42.3h.7M37.4 54.9h.7M41.2 55.9h.7M29.9 35.9h.7M35.1 55.9h.7M29.2 47.6h.7M31.7 52.7h.7M39.8 44.3h.7M40.9 52.4h.7M35.5 58h.7M43.7 45.8h.7M37 49.2h.7M39 43.3h.7M35.2 55.9h.7M35.6 57.1h.7M37 60.1h.7M41.4 37.4h.7M38.6 44.6h.7M33.9 53.5h.7M39.9 50.7h.7M40 59.5h.7M37.4 51.5h.7M37.8 58.5h.7M32.9 46h.7M31.7 42.2h.7M37.4 43.8h.7M33.4 44.7h.7M36.5 40.8h.7M36.8 41.7h.7M37.3 52.1h.7M43.1 40.7h.7M35.6 40h.7M40 39.1h.7M40.8 61h.7M29.9 55.3h.7M44.4 47.5h.7M35.9 62.7h.7M35.3 45.9h.7M32.8 51.8h.7M40.9 40.5h.7M39.1 50.7h.7M41.8 45.9h.7M33.4 48.5h.7M37.8 44.5h.7M32.7 51.8h.7M30.4 37.5h.7M35.7 35.9h.7M37.9 33.9h.7M35.4 50h.7M41 40h.7M37.1 56.2h.7M33.2 49.7h.7M40.2 55.6h.7M35.9 49.6h.7M33.5 51.1h.7M37.7 42.6h.7M44.8 51.9h.7M33.1 47h.7M37.9 38.4h.7M32.9 52.7h.7M35.9 46.2h.7M39.9 44.6h.7M30.7 37.8h.7M35.6 45.2h.7M34.7 39.7h.7M29.8 44.7h.7M37.6 48.9h.7M31.9 41.8h.7M36.7 27.5h.7M38.6 45.9h.7M47.6 46h.7M35.7 46.8h.7M35.3 41.4h.7M40.1 49.4h.7M37.3 44.6h.7M29.2 43h.7M28 41.7h.7M37.4 44.6h.7M36.4 59.3h.7M38.1 54.7h.7M34.9 44.1h.7M31 58.5h.7M40.2 46.1h.7M37.8 48.7h.7M41 50.8h.7M35.7 38.3h.7M27.2 28h.7M35.2 56.2h.7M33.5 44.8h.7M38.3 59.5h.7M27.6 45.5h.7M34.3 53.2h.7M34.7 32.7h.7M27.5 33.3h.7M34.6 38.1h.7M31.1 62.5h.7M30.6 44.2h.7M40.4 46.6h.7M28.7 46.7h.7M36 57.4h.7M33.1 34.3h.7M34.6 37.7h.7M36.8 51.8h.7M35.8 46.2h.7M31.6 35.5h.7M37.1 57.8h.7M32.4 29.5h.7M35.8 48.7h.7M32.9 31.4h.7M41 31.4h.7M37.9 53.3h.7M40.8 46.1h.7M39.4 44.6h.7M38.7 57.2h.7M35.9 32.6h.7M37.6 22.5h.7M41.1 41.6h.7M34 54.5h.7M39.2 50.5h.7M33.9 52.3h.7M36.5 43.7h.7M33.1 50.4h.7M33.3 57h.7M29.5 38.5h.7M36.7 32.9h.7M42.8 35.3h.7M33.8 43.2h.7M36.7 57.7h.7M34.4 42.4h.7M40.7 46.4h.7M38.9 46.9h.7M34.1 41.6h.7M32.4 40.2h.7M36.6 46.1h.7M38.9 47.4h.7M37.5 39.5h.7M30 54.7h.7M42.6 44.2h.7M39.2 39.4h.7M32.7 49.6h.7M39.1 51.1h.7M40.1 47.2h.7M35.5 47.3h.7M32.8 43.6h.7M29.9 37.1h.7M38.9 42.1h.7M27.7 37.3h.7M38.9 46h.7M35.7 51.2h.7M40.2 44.1h.7M36.9 62.5h.7M38.2 42.2h.7M33 42.8h.7M40.2 30h.7M38.3 43.1h.7M38.3 48h.7M30.2 42.6h.7M28.7 45.3h.7M33.2 53.8h.7M29.3 48.8h.7M32.4 42.5h.7M29.8 61.3h.7M35.2 47.1h.7M44.4 32.6h.7M35.6 39h.7M35 43.2h.7M37.9 52.5h.7M36.2 56h.7M34.8 36.2h.7M29.8 53.3h.7M34.7 50.3h.7M38.6 39.2h.7M40.7 52.4h.7M42 52.2h.7M31.8 51.1h.7M36.5 35h.7M39.2 44.5h.7M37.5 59.7h.7M40.8 43.2h.7M38.7 54.8h.7M36.6 55.2h.7M38.1 42.9h.7M41.2 44.6h.7M34.3 43.5h.7M29.4 55h.7M31.6 31.9h.7M37.2 28.9h.7M35 52.5h.7M37.3 49.5h.7M34.9 38.9h.7M37.1 52.8h.7M35.8 54.3h.7M27.1 39.1h.7M26.4 43.1h.7M36.6 36.3h.7M34 45.8h.7M33 44.7h.7M39.5 46.6h.7M39.8 50.1h.7M34.1 47.1h.7M39.4 42h.7M33.6 56.4h.7M39.1 51.7h.7M34.1 45.1h.7M37.4 49.8h.7M39.2 37.7h.7M39.3 38.5h.7M32.5 42.6h.7M34 54.9h.7M33.5 47.7h.7M40.8 32.7h.7M39 61.7h.7M39.6 40.6h.7M35.7 47.7h.7M33.5 38.2h.7M40.2 39.5h.7M39.9 37.9h.7M33.1 28.1h.7M26.8 61.5h.7M33.6 43.4h.7M39.1 34.9h.7M36 55.6h.7M39 58.4h.7M35.5 34.3h.7M36.1 50.8h.7M32.2 44h.7M33.6 40.2h.7M35.3 41.4h.7M36.2 42.3h.7M31.5 40.9h.7M29 60.1h.7M41.1 45.6h.7M36.8 52h.7M37.2 39.3h.7M32.8 53h.7M35.1 49.9h.7M34.5 53.6h.7M35.5 48.5h.7M38.1 30.3h.7M39.4 57.2h.7M34.3 33.4h.7M37.5 39.4h.7M32.4 59.1h.7M35.6 37.8h.7M31.3 49.6h.7M37.3 49.7h.7M31.8 41h.7M35.9 43.3h.7M36.3 43.8h.7M35.8 48h.7M38.4 56.9h.7M35.9 30.1h.7M41.3 34.3h.7M36.9 56.2h.7M38.3 57.2h.7M38 33.3h.7M38.7 43.9h.7M40 40.8h.7M39.1 36.1h.7M35 45.6h.7M40.2 40h.7M37.2 55.5h.7M29.4 59h.7M35.7 48.2h.7M43.1 46.1h.7M38.7 56.7h.7M41.4 56.4h.7M33.8 49.6h.7M30.8 36.6h.7M34.9 44h.7M34 40.3h.7M42.2 35.9h.7M38 36.3h.7M37.2 39.7h.7M29.8 30.2h.7M40.3 56.5h.7M35 45.1h.7M37.3 33.9h.7M34.4 33.1h.7M33.9 46.5h.7M34.9 60.6h.7M38.3 41.8h.7M36.9 42.8h.7M33.2 58.9h.7M35.4 41.8h.7M41.2 44.2h.7M39.7 25.1h.7M38.5 37.3h.7M34.6 53.8h.7M42.4 27.8h.7M40.9 44h.7M34.3 55h.7M35.5 41.9h.7M35.2 44.7h.7M34.1 55.3h.7M42.1 39.1h.7M33.6 45.4h.7M33.2 47.3h.7M36.6 46.4h.7M33.3 48.9h.7M31.4 43.3h.7M35.5 46.8h.7M39 45h.7M32.4 49.8h.7M35.5 52.8h.7M42 58.8h.7M35.9 38.5h.7M36.8 44.9h.7M33.3 34h.7M40.2 38.5h.7M39.7 55.1h.7M32.6 49.7h.7M35.7 34.6h.7M33.7 47.5h.7M39.5 40.5h.7M35.2 54.9h.7M34.5 40.9h.7M30.4 49.9h.7M33.4 38.5h.7M34.3 40.3h.7M46.6 41.9h.7M38.8 36h.7M39.1 49.3h.7M32.5 37.6h.7M25.5 27.5h.7M33.4 45.9h.7M38.8 45.7h.7M33.2 38.5h.7M41.9 42.7h.7M42.3 45.6h.7M34.6 43.4h.7M37.8 52.9h.7M34.6 50.5h.7M31.3 33.1h.7M30.2 42.6h.7M33.5 52.1h.7M34.7 42.9h.7M34.9 34.5h.7M31.4 62h.7M38.1 34.6h.7M31.5 49.3h.7M28 27.6h.7M34.3 41.7h.7M38.8 37.7h.7M31.3 49.9h.7M32.4 47.6h.7M29.1 43.3h.7M42.6 34.7h.7M35.7 45.4h.7M36.4 45.2h.7M38.6 40.9h.7M32.6 48h.7M36.8 31.6h.7M38.7 43.3h.7M39.5 46.4h.7M31.4 43.3h.7M38.5 54.8h.7M35.3 51.6h.7M40.8 48.8h.7M41.2 51.7h.7M32.5 36.3h.7M33 60.3h.7M40.2 39h.7M33 46.5h.7M34.7 53.4h.7M29.1 49.2h.7M36.7 55.7h.7M37.5 49.6h.7M32.5 48.7h.7M34.1 61.2h.7M37.2 46.8h.7M36.5 47.1h.7M34.6 51.8h.7M35.9 39.2h.7M39.2 52.6h.7M40.1 43.2h.7M39.4 58.8h.7M38.4 49.8h.7M35.8 33.8h.7M32.3 46h.7M39.8 50.8h.7M34.1 48.3h.7M35.6 40.6h.7M35.9 53.5h.7M31.9 43.2h.7M35.9 38.3h.7M32.6 50.2h.7M43.8 47.2h.7M34.1 59.5h.7M36.5 31.2h.7M34 30.8h.7M34.9 58.4h.7M39.6 43.9h.7M33.7 43.4h.7M32.1 39h.7M37.3 47.7h.7M36.7 45.3h.7M30.7 51.2h.7M36.1 53.2h.7M36.6 38.5h.7M39.4 53h.7M35.1 52.4h.7M37.6 42.8h.7M36.8 40.5h.7M40.9 43h.7M39.5 61.2h.7M36.2 52.1h.7M41.3 31.4h.7M43.7 51.6h.7M31.7 48h.7M43.8 47.5h.7M41 55.3h.7M33.7 49.7h.7M42.3 40.3h.7M36.4 42.2h.7M34.1 45.1h.7M28.4 41.6h.7M29.9 38.9h.7M34 55.1h.7M32.1 53.8h.7M34.6 40.4h.7M30 48h.7M35.7 53.1h.7M33.8 29.9h.7M38 57.6h.7M36.1 47.8h.7M37.8 48.9h.7M45.3 45.9h.7M37.9 54h.7M38 32.9h.7M37.5 44.1h.7M32.5 54.3h.7M33.7 50.1h.7M33.5 51.6h.7M40.8 39.9h.7M33.2 54.3h.7M32.8 55.3h.7M37.4 39.4h.7M34 57.5h.7M39.1 48h.7M36.8 55.7h.7M33.9 49.6h.7M37.7 57.6h.7M34.7 45.3h.7M37 45.1h.7M35.1 51.3h.7M34.3 44.6h.7M37 47.8h.7M34.7 46.1h.7M31.7 40.8h.7M33.5 38h.7M35.2 46.1h.7M35.6 43.9h.7M34 54.2h.7M37.9 36.4h.7M36.8 40.1h.7M38.3 40.7h.7M37.1 40.9h.7M35.4 49.8h.7M38.5 35.7h.7M34.1 40.2h.7M30 48.8h.7M35.2 44.4h.7M33.1 61.2h.7M32.9 25.7h.7M34.8 49.2h.7M32.2 45.7h.7M27.8 44.7h.7M36.2 39.2h.7M32.1 38.2h.7M34.1 55.3h.7M36.4 41.8h.7M34.2 53.1h.7M33.6 39.6h.7M38.8 46.7h.7M40.7 44.8h.7M34.9 50.2h.7M36.7 47.1h.7M32.6 41.4h.7M33.3 42.7h.7M40.6 39.5h.7M37.7 50.3h.7M30.5 54.9h.7M36.8 49.7h.7M36.7 54.8h.7M37.4 41.5h.7M33.8 39.8h.7M12 51.3h.7M4.1 49.8h.7M5.3 50.5h.7M1.7 53.9h.7M1.4 52.1h.7M10.9 56.6h.7M9.6 53.2h.7M10 55.7h.7M1.4 45.2h.7M6.9 47.7h.7M18.6 59.8h.7M14.5 55h.7M15.6 58.6h.7M5.4 48.9h.7M13.3 62.4h.7M13.6 55.6h.7M1.5 62.4h.7M10.4 49.8h.7M4.6 49.5h.7M1.4 56.4h.7M11.4 59.7h.7M15.8 56.2h.7M1.7 56.1h.7M4.5 47.4h.7M6.5 53.3h.7M14.8 44h.7M13.2 61.4h.7M6.4 44.7h.7M12 44.2h.7M7.2 59.2h.7M10 40.4h.7M10.4 47.5h.7M2.9 43.5h.7M11.8 46.4h.7M3.5 57.6h.7M6.8 45.2h.7M1.4 47.1h.7M9.4 48.3h.7M14.5 51h.7M5.9 58.9h.7M15.3 48h.7M18.3 52.5h.7M12.1 56.5h.7M16.5 56.9h.7M2.9 44h.7M6.7 48.7h.7M18.8 50h.7M4.7 45.2h.7M4.6 54.1h.7M.4 46.3h.7M15.9 42.6h.7M16.5 49.2h.7M14.2 52.9h.7M.4 62.1h.7M4.4 43h.7M7.3 61.4h.7M8.4 58.4h.7M6.1 47.5h.7M1.2 45.5h.7M18.1 50.2h.7M16.3 42.1h.7M12.6 53.2h.7M4.1 58.7h.7M11.1 49h.7M7.9 46.7h.7M9.2 60.2h.7M12.4 52.7h.7M2.1 41.6h.7M4 53.3h.7M7.4 58.8h.7M4.1 62.4h.7M1.1 55.8h.7M9.1 59.9h.7M1.5 58.5h.7M14.1 52.7h.7M14.4 55.6h.7M10.9 47.8h.7M16 46.2h.7M10.4 40.4h.7M3.5 45.3h.7M17.4 43.7h.7M15.1 44.8h.7M10.8 54h.7M14.2 60.5h.7M1.4 47.6h.7M11.3 59.4h.7M13.1 62.2h.7M8.8 58.7h.7M2.6 61h.7M3.5 53.5h.7M17.1 57.5h.7M17.6 58.6h.7M13.9 62.7h.7M13.7 58.6h.7M.5 61.8h.7M17.5 49.8h.7M1.6 50.9h.7M6.5 45.1h.7M13.3 54.4h.7M11.6 62.6h.7M3.9 60.8h.7M12.3 46.4h.7M18.7 53.9h.7M19.3 35.7h.7M34.1 62.8h.7M20.3 35.6h.7M37.7 52.2h.7M40.4 35.5h.7M33 46.2h.7M25 60.8h.7M42.1 53.2h.7M40.4 57.5h.7M33.3 62.1h.7M20.5 60.1h.7M29.8 42.4h.7M32.4 60.2h.7M35.8 55.5h.7M36.6 44.1h.7M39.5 51.4h.7M22.6 39h.7M21.8 46.7h.7M23.1 50.7h.7M21.9 56.4h.7M41.5 57.7h.7M26.2 54.3h.7M28.3 45.2h.7M22.8 57.2h.7M30.4 39.8h.7M26.3 40.2h.7M32.2 58.9h.7M45 49.1h.7M23 57.6h.7M40 36.9h.7M36.7 51.7h.7M33.7 37.2h.7M42.4 49.3h.7M32.3 40.4h.7M26.2 51.3h.7M25.4 53.5h.7M38.6 62.6h.7M37.9 48.4h.7M38.6 44.8h.7M43.8 45.2h.7M26.2 60.7h.7M36.1 38.5h.7M27.2 42.7h.7M19.6 35h.7M43 51.6h.7M22.5 48.2h.7M40.8 39h.7M26 48.5h.7M28.7 51.8h.7M21.8 40.5h.7M42 41h.7M19.2 56.1h.7M44 43.4h.7M26.6 48.7h.7M32.1 45.2h.7M36.6 58.1h.7M19.1 45.9h.7M32.1 58.2h.7M20.8 62.4h.7M25.9 54.3h.7M25.6 53.5h.7M26.4 53.2h.7M24.7 57.4h.7M21 41.3h.7M18.5 47.8h.7M27.6 55.6h.7M31.1 42.5h.7M19.1 55.9h.7M36.1 55.9h.7M26.4 58.5h.7M35.5 58.3h.7M28.1 50.2h.7M24.3 49.3h.7M20.9 54.2h.7M32.3 50.2h.7M31 56.2h.7M26.4 51.7h.7M34.7 47.4h.7M23.5 49.5h.7M23.2 55.6h.7M30.2 50.3h.7M30.3 40.9h.7M32 45.7h.7M31.6 48h.7M30.2 56.4h.7M20 49.3h.7M30.6 55.9h.7M28.2 50.1h.7M31.2 54.4h.7M25.4 59.1h.7M35.1 48.4h.7M25.1 45.5h.7M21 53.2h.7M32 43.1h.7M25.9 54.2h.7M24.1 57.5h.7M30.2 51.8h.7M33.1 54.3h.7M32.8 56h.7M25.8 61.6h.7M23.7 54.5h.7M25.5 47h.7M20.6 59.4h.7M34 59h.7M17.1 56.2h.7M27.7 55.9h.7M28.5 55.9h.7M29.5 58.9h.7M27.9 48.8h.7M15.9 54.1h.7M16.4 48.5h.7M27 51.4h.7M19.9 59.7h.7M25.6 51.4h.7M27.5 55.1h.7M18.3 55.3h.7" stroke="#000" stroke-opacity="0.55" stroke-width="0.7" fill="none"/>
<ellipse cx="401" cy="73" rx="2" ry="5" fill="#000" fill-opacity="0.25" filter="url(#b2)"/>
<rect x="365" y="97.7" width="56.5" height="62.9" fill="none" stroke="#9c9c9c" stroke-width=".7"/>
<line x1="384.5" y1="97.7" x2="384.5" y2="160.6" stroke="#9c9c9c" stroke-width="0.7"/>
<line x1="365" y1="137.8" x2="421.5" y2="137.8" stroke="#9c9c9c" stroke-width="0.7"/>
<line x1="365" y1="97.7" x2="365" y2="160.6" stroke="#7a7a7a" stroke-width="0.9"/>
<line x1="365" y1="160.6" x2="421.5" y2="160.6" stroke="#8a8a8a" stroke-width="0.8"/>
<line x1="365" y1="161.4" x2="365" y2="162.8" stroke="#aaa" stroke-width="0.6"/>
<text x="365" y="165.2" font-size="2.4" text-anchor="middle" fill="#888">10</text>
<line x1="379.1" y1="161.4" x2="379.1" y2="162.8" stroke="#aaa" stroke-width="0.6"/>
<text x="379.1" y="165.2" font-size="2.4" text-anchor="middle" fill="#888">10</text>
<line x1="393.2" y1="161.4" x2="393.2" y2="162.8" stroke="#aaa" stroke-width="0.6"/>
<text x="393.2" y="165.2" font-size="2.4" text-anchor="middle" fill="#888">10</text>
<line x1="407.4" y1="161.4" x2="407.4" y2="162.8" stroke="#aaa" stroke-width="0.6"/>
<text x="407.4" y="165.2" font-size="2.4" text-anchor="middle" fill="#888">10</text>
<line x1="421.5" y1="161.4" x2="421.5" y2="162.8" stroke="#aaa" stroke-width="0.6"/>
<text x="421.5" y="165.2" font-size="2.4" text-anchor="middle" fill="#888">10</text>
<text x="363.4" y="96.7" font-size="3" font-weight="bold" text-anchor="end" fill="#6a6a6a">10</text>
<text x="363.4" y="112.4" font-size="3" font-weight="bold" text-anchor="end" fill="#6a6a6a">10</text>
<text x="363.4" y="128.2" font-size="3" font-weight="bold" text-anchor="end" fill="#6a6a6a">10</text>
<text x="363.4" y="143.9" font-size="3" font-weight="bold" text-anchor="end" fill="#6a6a6a">10</text>
<text x="363.4" y="159.6" font-size="3" font-weight="bold" text-anchor="end" fill="#6a6a6a">10</text>
<text x="361" y="134.2" font-size="2.7" transform="rotate(-90 361 134.2)" fill="#666">CD44 APC</text>
<text x="393.2" y="167.6" font-size="2.6" text-anchor="middle" fill="#777">CD25</text>
<path transform="translate(365 97.7)" d="M8 26.3h.7M8.7 25.7h.7M12.5 20.9h.7M5.9 29.6h.7M7.9 32.2h.7M8.9 37.5h.7M12.2 20.7h.7M12.4 21.2h.7M9.7 24.1h.7M3.6 31.5h.7M10.6 24.5h.7M5.6 21.6h.7M8.1 33.3h.7M7 26h.7M7.1 18.8h.7M7.2 22.5h.7M12.8 27.5h.7M13.1 25.9h.7M9.2 35.1h.7M10.2 26.9h.7M10.3 28.5h.7M12.6 22.6h.7M6.9 20.9h.7M12.9 30.4h.7M7.5 29.9h.7M15.4 31.3h.7M8.3 20.5h.7M10.6 42.6h.7M12.8 24.5h.7M3.1 32.5h.7M5.6 23.9h.7M16.3 23.9h.7M7.8 42.8h.7M14.6 11.8h.7M11.4 24.9h.7M9.2 22.6h.7M9.7 30.4h.7M7.5 31.4h.7M11.3 19.2h.7M15 27.4h.7M11.7 35.3h.7M8.5 41.4h.7M5.4 19.9h.7M7.3 37.8h.7M14.3 31.5h.7M5.2 24h.7M7.9 27.1h.7M4.5 26.7h.7M6.9 29.2h.7M5.2 23h.7M9 30.5h.7M8.9 27.5h.7M8 22.6h.7M7.1 21h.7M10.5 28.8h.7M8 21.1h.7M7.1 25.3h.7M12.2 24.3h.7M9.3 22.3h.7M36.5 44.7h.7M29.7 31.1h.7M32 44h.7M38.9 36.5h.7M30.8 36.7h.7M37.1 49.1h.7M31.9 51.9h.7M34.3 42.8h.7M33.3 51.7h.7M37.8 61.2h.7M34.8 47.4h.7M34 40.1h.7M32.8 51.4h.7M31.8 44.4h.7M27.7 51.8h.7M38.3 46.9h.7M34.3 48.5h.7M33.8 45.1h.7M38.1 49.3h.7M31.9 36.8h.7M38.2 45.2h.7M36.1 42.7h.7M28.1 51.7h.7M38.8 33.4h.7M34.3 45.9h.7M26.6 61.1h.7M31.3 51.1h.7M33.7 62.2h.7M29.4 43.7h.7M34.8 52.7h.7M33.5 56.1h.7M38.7 50.2h.7M27.4 39.2h.7M26.2 42.9h.7M37.6 60h.7M34.5 54h.7M31.8 44.5h.7M36.8 33.5h.7M32.7 39.8h.7M34.7 51.6h.7M34.5 58h.7M34 57.1h.7M34.6 30.3h.7M33.4 39.7h.7M31.9 27.4h.7M32.4 44.1h.7M28.5 45h.7M37.2 47.4h.7M36.6 39.6h.7M41.3 39.4h.7M28 48.5h.7M36.2 57.4h.7M36.9 54.7h.7M26.6 48.4h.7M30.8 29.3h.7M40.2 37.3h.7M36.5 53.7h.7M32.1 38.8h.7M39.5 46.9h.7M34.3 47.9h.7M35.1 51.9h.7M34.3 54.8h.7M33.4 35.9h.7M30 51.4h.7M29.5 48.7h.7M36.9 41.5h.7M33.4 36.6h.7M27.9 50.8h.7M34.5 37.9h.7M31.6 41.2h.7M32 41.6h.7M31.3 36.1h.7M31.7 56.7h.7M32.6 52.2h.7M32 43.5h.7M40 49h.7M30.9 52.5h.7M27.3 34.7h.7M32.2 43.4h.7M33.9 36.8h.7M35.4 45.2h.7M32.4 49.4h.7M31.9 55.2h.7M29.6 49.2h.7M32.8 28.3h.7M29.1 42.7h.7M35.5 36.3h.7M30.9 42.8h.7M27 42.4h.7M37.7 54.3h.7M28.8 40.5h.7M30.2 29.4h.7M43.5 40.7h.7M34.8 42.7h.7M32.1 34.3h.7M28.6 45.3h.7M30.3 52.2h.7M31 49.8h.7M35.7 36.9h.7M38.8 45.1h.7M44.4 42.2h.7M38 52.5h.7M26.6 34h.7M26.8 53.4h.7M33.4 54.3h.7M28.5 52.9h.7M33.3 51.6h.7M36.2 47.6h.7M39.5 35.4h.7M31.7 55h.7M28.8 52.7h.7M33.6 49.1h.7M22.7 39.6h.7M36.5 37.1h.7M36.9 52.5h.7M20.2 47.7h.7M28.3 38.1h.7M26.2 49.1h.7M39.9 42.9h.7M26.1 55.3h.7M36.8 47.2h.7M27.2 37h.7M32.3 58.9h.7M40.2 39h.7M25.5 45.8h.7M37 40.5h.7M33.9 54.1h.7M25.8 61.5h.7M39.8 47.3h.7M34.7 51.3h.7M30.2 52.8h.7M33.8 40.6h.7M33 44.5h.7M31.2 52.5h.7M36.9 54.5h.7M31.4 52.2h.7M32.2 60.4h.7M28.5 55.1h.7M31 32.8h.7M36.7 36.1h.7M29.4 46.2h.7M35.3 45.8h.7M35.2 49h.7M26 56.8h.7M39.8 42h.7M36.5 44.4h.7M29.6 44.5h.7M24.6 41.6h.7M36.4 54.9h.7M35.5 48.7h.7M30.5 54.6h.7M41.9 49.6h.7M41.2 47.8h.7M32.3 54.1h.7M33.9 44.9h.7M31 47.9h.7M33.3 33.8h.7M35.6 60.6h.7M35 50.6h.7M35.8 54h.7M36.8 44.2h.7M28.3 50.5h.7M35.3 42.4h.7M32.2 50.6h.7M40.4 42h.7M29.3 46.7h.7M29.9 42.9h.7M29.2 56.3h.7M35.4 48.3h.7M36.1 53.8h.7M29.2 51.5h.7M30.7 34.8h.7M35.2 42.3h.7M39.9 44.8h.7M32.2 40h.7M32.7 46.2h.7M36.3 40.8h.7M30.2 38.4h.7M30.4 43.7h.7M32.8 41.5h.7M37.4 41.1h.7M34.5 45.7h.7M35.1 47.5h.7M31.6 46.7h.7M31.1 45.7h.7M38.5 53.6h.7M39.4 40.2h.7M38.7 50.4h.7M36.3 44.7h.7M41.2 39.8h.7M34.5 36.1h.7M32.2 50h.7M34.5 49.1h.7M39.2 38.6h.7M25.8 55.1h.7M10.1 55.7h.7M1 61.6h.7M5.2 48.5h.7M7.3 50.7h.7M12.6 46.2h.7M11.1 50.8h.7M4.4 58.6h.7M2.4 53.3h.7M5 57.7h.7M5 55h.7M8.1 53.8h.7M10.4 50.3h.7M13.9 58.4h.7M.7 41.7h.7M9.7 57.4h.7M14 56.2h.7M6.5 52.1h.7M10.7 42.4h.7M12.6 40.7h.7M9.9 50.2h.7M9.2 59.4h.7M13.5 53.8h.7M9.1 55.6h.7M12.3 45.9h.7M8.3 43.9h.7M17.8 50.1h.7M10.8 60.2h.7M8.2 49.5h.7M1 50.9h.7M6.9 52.7h.7M13.1 52.4h.7M5.1 60.1h.7M14.1 44.8h.7M16.5 49.7h.7M1.7 53.3h.7M10.4 53.8h.7M12.9 47.3h.7M17.2 41.9h.7M.5 57.2h.7M2.5 53.4h.7M3.3 48h.7M6.6 52h.7M2.6 54.6h.7M11.8 46h.7M18.8 50.7h.7M.6 62h.7M7.9 53.1h.7M14.6 59h.7M13.4 61h.7M17.7 62.4h.7M10.6 47.4h.7M6.5 54.9h.7M13.7 54.5h.7M1.3 46.5h.7M7.7 57.3h.7M11.3 56.4h.7M18 55.5h.7M14.4 46.5h.7M13.8 59.9h.7M13.1 46.7h.7M17.6 48.9h.7M11.1 48.5h.7M8.9 59.2h.7M11.3 60.5h.7M16.2 41.8h.7M17.2 61.6h.7M4.2 58.3h.7M12.9 54.7h.7M3.3 60.3h.7M7 50.8h.7M.6 44.5h.7M18 46.8h.7M17.8 44.7h.7M13.8 50.2h.7M12.7 40.2h.7M11.5 51.1h.7M5.6 54.8h.7M2.9 46.4h.7M1.5 54.9h.7M2.2 60.6h.7M18.6 45.1h.7M17.3 40.3h.7M12.9 57.3h.7M15.1 54.1h.7M3.6 58.8h.7M14.6 48h.7M7.2 47.3h.7M13.6 42.1h.7M14.9 51.4h.7M8.4 50.1h.7M29 46.4h.7M31.3 40.1h.7M26 51.4h.7M30.7 38.3h.7M31.5 49.1h.7M27.5 38.7h.7M30.7 59.9h.7M24.6 38.5h.7M24 48.5h.7M34.1 48.6h.7M39.2 54.3h.7M41.9 62.5h.7M41.9 42.9h.7M23.9 55.8h.7M43.5 59.1h.7M38.8 43.5h.7M31.6 52.5h.7M36.6 52.7h.7M36.4 42.5h.7M31.3 49.3h.7M21.6 42h.7M35.8 49h.7M30.8 61.2h.7M42 51.5h.7M35 57.6h.7M44.4 52.9h.7M31.3 39.6h.7M38.6 38.5h.7M26.6 42.2h.7M41.4 53.4h.7" stroke="#000" stroke-opacity="0.55" stroke-width="0.7" fill="none"/>
<rect x="365" y="169.7" width="56.5" height="62.9" fill="none" stroke="#9c9c9c" stroke-width=".7"/>
<line x1="384.5" y1="169.7" x2="384.5" y2="232.6" stroke="#9c9c9c" stroke-width="0.7"/>
<line x1="365" y1="210.4" x2="421.5" y2="210.4" stroke="#9c9c9c" stroke-width="0.7"/>
<line x1="365" y1="169.7" x2="365" y2="232.6" stroke="#7a7a7a" stroke-width="0.9"/>
<line x1="365" y1="232.6" x2="421.5" y2="232.6" stroke="#8a8a8a" stroke-width="0.8"/>
<line x1="365" y1="233.4" x2="365" y2="234.8" stroke="#aaa" stroke-width="0.6"/>
<text x="365" y="237.2" font-size="2.4" text-anchor="middle" fill="#888">10</text>
<line x1="379.1" y1="233.4" x2="379.1" y2="234.8" stroke="#aaa" stroke-width="0.6"/>
<text x="379.1" y="237.2" font-size="2.4" text-anchor="middle" fill="#888">10</text>
<line x1="393.2" y1="233.4" x2="393.2" y2="234.8" stroke="#aaa" stroke-width="0.6"/>
<text x="393.2" y="237.2" font-size="2.4" text-anchor="middle" fill="#888">10</text>
<line x1="407.4" y1="233.4" x2="407.4" y2="234.8" stroke="#aaa" stroke-width="0.6"/>
<text x="407.4" y="237.2" font-size="2.4" text-anchor="middle" fill="#888">10</text>
<line x1="421.5" y1="233.4" x2="421.5" y2="234.8" stroke="#aaa" stroke-width="0.6"/>
<text x="421.5" y="237.2" font-size="2.4" text-anchor="middle" fill="#888">10</text>
<text x="363.4" y="168.7" font-size="3" font-weight="bold" text-anchor="end" fill="#6a6a6a">10</text>
<text x="363.4" y="184.4" font-size="3" font-weight="bold" text-anchor="end" fill="#6a6a6a">10</text>
<text x="363.4" y="200.1" font-size="3" font-weight="bold" text-anchor="end" fill="#6a6a6a">10</text>
<text x="363.4" y="215.9" font-size="3" font-weight="bold" text-anchor="end" fill="#6a6a6a">10</text>
<text x="363.4" y="231.6" font-size="3" font-weight="bold" text-anchor="end" fill="#6a6a6a">10</text>
<text x="361" y="206.1" font-size="2.7" transform="rotate(-90 361 206.1)" fill="#666">CD44 APC</text>
<text x="393.2" y="239.6" font-size="2.6" text-anchor="middle" fill="#777">CD25</text>
<path transform="translate(365 169.7)" d="M8 25.5h.7M9.1 36.3h.7M10.7 29.1h.7M8.1 28.2h.7M12.5 31.2h.7M5.8 26.6h.7M9.7 21.1h.7M7.4 23.8h.7M11.4 26h.7M15.1 28.2h.7M7.1 27h.7M8.8 22.3h.7M9.7 19.8h.7M9.1 23.8h.7M8.8 22.8h.7M14.2 22.9h.7M11.1 26.1h.7M12.3 22.8h.7M4.3 28.9h.7M11.9 28.7h.7M13.3 26h.7M5.5 28.1h.7M2.8 24.5h.7M10.5 31.8h.7M7.2 24.9h.7M4 25.2h.7M6.2 25.9h.7M6 27.8h.7M8.2 22.9h.7M10.4 28.1h.7M7.6 25h.7M11.2 28h.7M8 34.3h.7M6.9 20.2h.7M6.4 26.8h.7M2.7 34.1h.7M11.5 21.7h.7M9.7 20.3h.7M8.4 24.8h.7M13.6 17.8h.7M6.8 17.6h.7M6.9 24.4h.7M8.5 30.3h.7M5.5 23.4h.7M13.3 26h.7M5.3 25.9h.7M4.9 22h.7M6.7 19.3h.7M14.4 24.1h.7M9.2 24.7h.7M8.1 22.3h.7M9.9 23.9h.7M5.7 29.8h.7M13.5 27.7h.7M10.2 24.4h.7M8.9 28.9h.7M8.6 31.6h.7M13.2 26.8h.7M9.2 22.2h.7M7 23h.7M7.3 21.9h.7M9.7 27.2h.7M8 32.8h.7M9.3 25.6h.7M9.1 23.2h.7M11 21.9h.7M8.3 34.4h.7M9.4 21.3h.7M4.8 30.8h.7M2.3 33h.7M12.8 23.8h.7M9.3 23.8h.7M5.4 27.7h.7M6.2 28.4h.7M9.6 23.1h.7M8.7 26h.7M7.9 24.9h.7M12.5 22.7h.7M9 30.3h.7M9.8 24h.7M4.7 24.7h.7M2.1 23.9h.7M8.4 31.5h.7M10.6 30.3h.7M10 26.8h.7M3.3 23.4h.7M7.7 25.4h.7M4.4 19.2h.7M9.1 24.6h.7M8.5 24.9h.7M7.7 20.9h.7M11.3 27.5h.7M8.4 33.2h.7M6.1 29.3h.7M8.3 25.9h.7M11.3 25.8h.7M8.4 20.7h.7M9.4 27.5h.7M7.1 20.8h.7M11.7 26.4h.7M12.3 25.5h.7M16.9 20.6h.7M10.8 26.4h.7M9.3 24.9h.7M10.3 29.4h.7M8.8 21.5h.7M11.7 30h.7M4.7 26.8h.7M13.5 28.4h.7M6.8 27h.7M9.6 21.2h.7M7.6 24.5h.7M7.4 31.5h.7M2.7 21.5h.7M6.2 31.2h.7M8.2 24.7h.7M7.8 32.5h.7M14.8 26.8h.7M5.3 24.7h.7M2.8 29.8h.7M7.8 30.5h.7M6.6 22.7h.7M1.4 26.9h.7M11.9 16.7h.7M5 25.5h.7M11.9 33.8h.7M13.9 27h.7M3.8 22.3h.7M10.2 25.9h.7M5.9 25.5h.7M9 35.3h.7M7.4 28.3h.7M9.5 29h.7M6.2 32.1h.7M12.9 28h.7M4.9 21.3h.7M7.8 25.3h.7M5.6 25.3h.7M3.4 25h.7M4.1 27h.7M.4 22.7h.7M7.1 19.7h.7M7 25h.7M12.7 28.7h.7M7.1 29.2h.7M8.3 29.2h.7M7.1 27h.7M7.4 29.8h.7M14.2 32.6h.7M13.1 25.2h.7M13.7 24.6h.7M8.4 22.1h.7M11.5 19h.7M8.2 28.7h.7M4.8 27.8h.7M4.9 24.4h.7M9.6 31.7h.7M15.3 21.6h.7M3 22.7h.7M9.2 25.3h.7M4.2 22.1h.7M9.2 26h.7M15.1 20.9h.7M6.6 40.4h.7M4.4 30.4h.7M6.8 26.3h.7M12.5 23.4h.7M7.6 25.9h.7M8.6 33h.7M13.2 23.1h.7M12.6 19.4h.7M6.2 22.8h.7M6.4 26.5h.7M9.3 22h.7M9.7 23h.7M10.2 27h.7M4.8 21.9h.7M11.6 25.4h.7M9.4 24.3h.7M13.5 27.7h.7M6.1 26.7h.7M4.9 24h.7M7.3 21.4h.7M5.6 30.2h.7M5.5 24.8h.7M4.4 31h.7M5.3 28.9h.7M10.5 28h.7M6.8 16.5h.7M5.5 24.8h.7M3.7 20.9h.7M9.5 25.7h.7M11.8 27.6h.7M12.6 26.9h.7M8 26.5h.7M11.3 29.8h.7M10.6 23.8h.7M5 30h.7M11.9 21.5h.7M8.6 21.6h.7M8.7 34.7h.7M7.3 24h.7M8.3 23.9h.7M9.7 19.1h.7M10.9 22.6h.7M8.6 36.2h.7M12.5 26.6h.7M8 27.8h.7M11.5 39.9h.7M14.9 31.9h.7M5.8 31.9h.7M7.9 26.5h.7M7.3 24.3h.7M10.3 26.6h.7M10.9 23.6h.7M5.6 24h.7M7.6 27.3h.7M14.5 26.4h.7M7.6 36.4h.7M14.5 29.6h.7M11.7 18.3h.7M7.3 25.7h.7M8.5 17.6h.7M9.4 33.4h.7M13 27h.7M10.2 25.8h.7M1.5 28.1h.7M11.6 19.7h.7M16.1 29.1h.7M10.2 31.9h.7M5.3 25.4h.7M3.6 29.8h.7M10.1 35.5h.7M11 24.1h.7M1.8 24.4h.7M7.4 25.6h.7M6.8 24.4h.7M9 23.3h.7M5.8 24.8h.7M3.5 16.1h.7M8.3 21.6h.7M3.6 25.2h.7M8.5 31.1h.7M6.6 25.7h.7M7.8 23.1h.7M4.1 17.5h.7M2.4 21.1h.7M5.5 23.5h.7M2.3 26.9h.7M9.6 20.5h.7M6.1 23.9h.7M10.4 30.7h.7M10.4 28.7h.7M12.6 28.6h.7M9.1 28h.7M11.7 26.5h.7M11.8 23.4h.7M4.8 25.6h.7M10.3 34.4h.7M7.8 21.4h.7M2.6 21.9h.7M7.3 24h.7M9.6 25.9h.7M6.5 36.3h.7M6.6 24.6h.7M4.3 23h.7M9.3 18.4h.7M7.4 22.5h.7M8.7 28.3h.7M8.1 29.7h.7M6.7 27.2h.7M5.3 18.8h.7M5 24.5h.7M10.1 33.5h.7M9.8 28.4h.7M5.6 32.9h.7M6.3 25.2h.7M14.8 29.6h.7M15.6 23.2h.7M9.8 20.5h.7M9.7 23h.7M12.8 28h.7M2.8 24.2h.7M5.9 26.1h.7M11.8 20.6h.7M7.7 28.6h.7M5.4 23.9h.7M6.2 30.2h.7M10.9 20.9h.7M12 32.6h.7M7.4 27.2h.7M10.4 28.7h.7M15.7 26.2h.7M7.4 26.7h.7M8.2 18h.7M11.3 27h.7M5.7 22.1h.7M3.3 26.4h.7M9.4 26.4h.7M11.6 24.7h.7M4.7 26h.7M13.6 31.6h.7M8.5 33.8h.7M5.4 23.3h.7M7.2 34.5h.7M8.7 21.9h.7M9.8 17.3h.7M9.2 21.6h.7M6 26.9h.7M8.1 23.5h.7M8.5 22.6h.7M12.7 27.2h.7M9.5 31.7h.7M14.6 19.4h.7M8.9 20.6h.7M10.6 23.3h.7M6.2 24.6h.7M12.3 21.6h.7M9.7 24.6h.7M7.4 26.3h.7M14.3 23.9h.7M9.2 27.4h.7M3.4 24.6h.7M10.3 27.3h.7M8.8 21.5h.7M7.3 28.2h.7M6.1 29.7h.7M9.8 32.6h.7M3.2 25.6h.7M3.3 21h.7M14.9 28.8h.7M9.7 21.2h.7M8.6 27.8h.7M12.8 17.2h.7M8.2 20.8h.7M15.7 32.5h.7M8.6 24.4h.7M13.3 32.8h.7M7.1 29.8h.7M9.5 26.7h.7M3.7 34.6h.7M8.2 21.2h.7M4 32.2h.7M9.4 29.8h.7M8.9 19.8h.7M7.8 22.4h.7M4.9 26.4h.7M6.1 27.1h.7M8.9 23.6h.7M5.5 24.6h.7M11.9 30.3h.7M12.4 22.1h.7M5.6 26.7h.7M8.4 28.5h.7M9.9 19.6h.7M9.2 32.2h.7M8.1 25.5h.7M8.7 19h.7M10.8 27.5h.7M11.3 23.4h.7M6.1 21.2h.7M8 25.6h.7M10.4 21.6h.7M6 20.8h.7M6.8 29.4h.7M11.4 25.9h.7M12.2 27.6h.7M7 28.5h.7M4.3 22.7h.7M9.2 25.8h.7M6.3 24.3h.7M4.9 22.4h.7M17.4 28.3h.7M11.6 30.9h.7M3.4 28.9h.7M6 19.7h.7M6.7 26.2h.7M12 30.4h.7M9 31h.7M1.8 25.2h.7M10.5 36.3h.7M3.2 15h.7M7.8 24.6h.7M10.2 24.8h.7M5.4 23.8h.7M9.4 36.4h.7M7.8 23.7h.7M3.5 23.6h.7M6.6 26.3h.7M10.3 24h.7M10.4 22.4h.7M6.6 27.1h.7M7.1 28.7h.7M11.2 23.1h.7M15.5 28.7h.7M6.4 20.6h.7M7.9 25.8h.7M10.6 27.1h.7M10.6 19.3h.7M6.5 25.4h.7M11 25.1h.7M9.3 21.4h.7M12.3 26h.7M4.1 24.5h.7M7.6 26.3h.7M14.9 20.6h.7M12.8 20.4h.7M8.1 20.8h.7M8.2 30.4h.7M14.1 29.5h.7M8 29.2h.7M3.5 25h.7M6.1 16.6h.7M7.5 20.1h.7M12.4 21.8h.7M12.4 24.7h.7M11.9 28.4h.7M12.2 28.9h.7M1.9 35.1h.7M16.2 41.2h.7M7.2 40.3h.7M6.9 35.3h.7M11.8 36h.7M6.5 34.8h.7M11.5 41.6h.7M12.9 36.9h.7M3.2 39.2h.7M5.8 29.6h.7M6.6 30h.7M2 34.6h.7M3.4 39.2h.7M8.3 27h.7M8.7 36.5h.7M2.5 38.7h.7M5.4 32.5h.7M9.8 21.8h.7M4.9 38.2h.7M8.5 42.4h.7M9.2 34.6h.7M11.5 33.3h.7M10.1 19.4h.7M1.3 40.3h.7M11.2 37.2h.7M11 24.2h.7M8.7 26.5h.7M4.9 29.6h.7M11.2 29.5h.7M10.7 38.5h.7M8.4 36.5h.7M11.7 35.5h.7M9.8 37.1h.7M.6 45.1h.7M9.1 33.7h.7M9.5 28.8h.7M6.4 27.4h.7M6.5 40.4h.7M1.9 28.3h.7M9.1 30.4h.7M17.2 29.1h.7M11.5 34.4h.7M8.8 40.2h.7M14.7 42h.7M9.7 33.5h.7M10.2 39.1h.7M6.8 29.2h.7M3.5 26h.7M8.5 40.5h.7M9.2 32.9h.7M2.8 36.8h.7M18 43.3h.7M6.8 42.5h.7M7.1 34.2h.7M7.5 26.5h.7M13.3 31.6h.7M7.6 35.7h.7M9.4 29.7h.7M4.4 32.6h.7M3.4 29.3h.7M10 32.5h.7M9.5 32.6h.7M8.5 30.5h.7M13 30.8h.7M8.9 44.6h.7M13.1 30.3h.7M4.4 35.7h.7M8.2 41.6h.7M5.4 37.6h.7M6.4 30.8h.7M12.8 42.8h.7M9.5 36.1h.7M5.7 44.7h.7M3.6 41h.7M4.7 37.9h.7M7.7 32.2h.7M6.3 35.6h.7M5.4 30.2h.7M12.5 29.8h.7M7.5 27.7h.7M2.3 31.4h.7M15.6 35.3h.7M10 39.2h.7M3.1 28.9h.7M6.8 40.1h.7M7.8 27.4h.7M6.8 25h.7M8.2 26.5h.7M3.5 23.5h.7M4 30.7h.7M10.4 31.7h.7M6.1 31.2h.7M7.4 31.9h.7M2.4 32.7h.7M9.4 24.7h.7M6.5 29.3h.7M1.1 32.5h.7M11.2 30.6h.7M7.7 47.3h.7M9.8 33.4h.7M2.5 41.3h.7M10.9 32.3h.7M10.2 37.5h.7M13.4 39.5h.7M7.5 38.7h.7M6.3 28.2h.7M5.8 31.6h.7M11.8 34.7h.7M9.2 29.6h.7M10 30.9h.7M1.2 37.9h.7M8 42.4h.7M13.7 34.2h.7M1.9 21.6h.7M7.2 26.4h.7M12.3 37.2h.7M2.5 23h.7M13 40.6h.7M39.3 62h.7M37.4 44.6h.7M36.3 50.5h.7M33.2 49.3h.7M25 41.2h.7M34.6 32.5h.7M36.2 45.1h.7M44.6 61.2h.7M38.9 48.6h.7M28.1 41.3h.7M34.1 57.7h.7M27.6 48.7h.7M40 54.7h.7M31.7 48.9h.7M36.9 58.4h.7M33.7 48.1h.7M34.8 41.2h.7M33.2 55.7h.7M33.8 45.9h.7M32.7 43.7h.7M38.1 52.4h.7M37 51.5h.7M35.7 55.2h.7M32.7 47.4h.7M31.2 59.8h.7M38.2 50.8h.7M37 55.5h.7M38.2 54.9h.7M35.5 49.4h.7M39.2 55.7h.7M36.9 59h.7M32.6 50.4h.7M31.3 58.9h.7M38 50.5h.7M33.8 49.1h.7M25.8 56.6h.7M37.8 54.5h.7M32.5 47.2h.7M33.6 49.6h.7M32.9 43.2h.7M42.4 45h.7M36.3 53.3h.7M40.2 59.9h.7M34.2 55.1h.7M38.8 53h.7M27.9 35.9h.7M39.2 49h.7M35.8 52.2h.7M35.4 55.9h.7M32.5 46.6h.7M34.6 40.1h.7M30.8 43.7h.7M30.7 56.7h.7M39.2 53.8h.7M31.4 52.6h.7M35.8 39.3h.7M39.6 53.5h.7M38 33.5h.7M37.1 45.6h.7M32.5 43.1h.7M33.6 31.7h.7M36.1 50.5h.7M33.1 48.9h.7M33.4 58.8h.7M32.4 49h.7M40.9 61.3h.7M32.9 36.1h.7M42.3 43.5h.7M34.1 50.3h.7M38.3 46.2h.7M34 46.7h.7M31 57.9h.7M33.6 51.4h.7M32.7 56.7h.7M42.6 44.9h.7M35.6 49.8h.7M40.9 45.9h.7M39.7 52.4h.7M38.8 46.1h.7M32.5 47.7h.7M38.7 49.1h.7M38.3 62.4h.7M29.5 41.7h.7M33.1 44.8h.7M37.4 41.3h.7M32.1 49h.7M35.2 50.8h.7M35.2 37.6h.7M33.3 53.8h.7M36.5 53.3h.7M31.1 44.7h.7M28.7 47.9h.7M31.7 55.1h.7M34.1 59.1h.7M43.4 52.2h.7M36.9 40.4h.7M33.4 31.1h.7M37.7 60.2h.7M34.5 47.8h.7M35.9 46.5h.7M37.2 55.1h.7M30.2 33.7h.7M34.4 48.4h.7M29.8 55.5h.7M40.4 54.3h.7M30 51.6h.7M31.7 57.8h.7M36.5 52.8h.7M38.6 54.9h.7M45 39.1h.7M35.8 56.7h.7M38.2 29.2h.7M39.4 46.3h.7M34.7 56.1h.7M37.5 54.8h.7M39.3 52.8h.7M40.1 50.1h.7M31.9 61.4h.7M35.6 56.1h.7M29.8 30h.7M35.8 52.2h.7M41 40.1h.7M32.1 52.1h.7M39.9 52.3h.7M37.3 56.7h.7M43.4 61.7h.7M34.3 37.5h.7M28.8 47.7h.7M31.9 51h.7M34.7 31.9h.7M39 55h.7M32.1 39.7h.7M40.8 52.1h.7M34.4 42.4h.7M32.7 62.4h.7M32.5 49.9h.7M33.8 48.7h.7M30.7 60h.7M35.6 56.3h.7M31.6 48.6h.7M42.8 49.7h.7M33.7 39h.7M32.8 54.4h.7M33.6 45h.7M33.9 46.9h.7M29.3 42.3h.7M31 49.5h.7M35.9 53.8h.7M26.8 48.5h.7M30.8 49.1h.7M27.9 46.6h.7M34.2 40.8h.7M35.8 53.1h.7M38.3 40.7h.7M30.3 50.1h.7M35.5 45.3h.7M29 49.9h.7M39.4 42.6h.7M37.3 40.1h.7M37.8 39.1h.7M39.2 49.4h.7M39.5 46.7h.7M30 42.3h.7M31.4 52h.7M32.8 54.4h.7M34.8 46.2h.7M33.2 47.8h.7M37.1 60.4h.7M33.4 50.4h.7M39.1 61h.7M31.9 40.5h.7M33.1 59.8h.7M33.6 57.6h.7M34.6 54.8h.7M36.9 49.1h.7M32.8 50.6h.7M44.3 42.1h.7M38.2 48.2h.7M30.2 49.2h.7M38.6 40.2h.7M31 56h.7M30.1 59.4h.7M39.5 44.7h.7M35.9 59.3h.7M38.7 34.2h.7M29.7 50.8h.7M39.5 62.5h.7M36.8 49.2h.7M32 55.8h.7M42.6 56.5h.7M32.3 49.6h.7M39.5 52.4h.7M37.4 45.5h.7M26.6 55.9h.7M42.3 47h.7M36.2 35.7h.7M40.6 42.1h.7M35.8 51.5h.7M36.7 45.6h.7M37.1 51.6h.7M30.9 42.4h.7M41.7 52.3h.7M32.9 60h.7M39.7 44.6h.7M34.7 52.9h.7M29.5 36.9h.7M33 60.7h.7M28.9 47.8h.7M36.7 59.2h.7M38.3 58.8h.7M38 51.6h.7M41.3 56.8h.7M32.9 57.3h.7M37.7 51.9h.7M37.7 48.2h.7M33.9 37.7h.7M33.8 61.4h.7M25.6 47.3h.7M37.7 55.5h.7M29.4 50h.7M36.3 58.9h.7M35.7 45.2h.7M37.5 51.3h.7M31.1 50.5h.7M36.4 49.7h.7M33.7 50.1h.7M35.7 56h.7M31.2 46.4h.7M37.7 46.9h.7M31.9 40.3h.7M30 42.7h.7M35.1 55.3h.7M35.9 51.5h.7M37.7 49.7h.7M30.4 51.1h.7M34.8 39.7h.7M34.3 48.3h.7M35 47.7h.7M44.2 52.8h.7M34.7 50.1h.7M35.2 58.8h.7M35.3 57.7h.7M31.7 52.2h.7M35 51.8h.7M30.8 45.4h.7M29.5 53.7h.7M40.1 50.1h.7M30 47.6h.7M39.4 37.6h.7M34.1 51.2h.7M33.5 52.4h.7M37 53.2h.7M38.7 58.5h.7M29.3 42h.7M34.5 51.1h.7M36.1 41.4h.7M35.9 53.1h.7M41.9 35.6h.7M36.2 48.5h.7M34.9 61.2h.7M34.9 39.1h.7M30.9 40.1h.7M39.7 45.6h.7M31 48.8h.7M30.1 53.8h.7M35.7 52.1h.7M39.6 47.3h.7M38.8 37.3h.7M32.2 56.5h.7M31.5 51.2h.7M37.3 46.2h.7M31.2 49.6h.7M35.1 53.4h.7M35.6 36.9h.7M39.4 54.1h.7M29.7 49.2h.7M34.8 46.1h.7M40 49.9h.7M35.2 38h.7M31.4 53.5h.7M42.4 53.4h.7M34.7 47.5h.7M30.9 41.1h.7M34.1 43.7h.7M29.4 46.9h.7M39.3 37.5h.7M34.2 60h.7M41.3 44.9h.7M36.3 54.2h.7M36 49.8h.7M36.1 51.8h.7M34.6 48.9h.7M35.3 59h.7M31.9 61.9h.7M39.4 51.6h.7M44.7 56.8h.7M42.4 43.6h.7M26.9 56.3h.7M35.5 45.4h.7M31.4 54.7h.7M38.6 59.1h.7M35.2 47.1h.7M30.1 42.8h.7M40.5 40.1h.7M34.9 46.6h.7M32.7 40.4h.7M33.8 54.2h.7M34.3 52.9h.7M32.7 42.3h.7M38.4 49.4h.7M34.4 54.5h.7M39 46h.7M35.6 48.6h.7M40.5 39.9h.7M32.6 49.8h.7M26.1 38.5h.7M37.1 59.1h.7M41.6 48h.7M37.4 50.7h.7M32.4 52.2h.7M35.1 60.4h.7M34.4 39.3h.7M36.3 45.7h.7M35.8 53.4h.7M28.6 37.1h.7M36.6 56.8h.7M33 50h.7M37.1 45.8h.7M35 46.4h.7M39.2 50.2h.7M31.6 52.2h.7M32.5 47.9h.7M30.6 48.6h.7M38.3 55.8h.7M37.6 43.6h.7M35.2 50h.7M34.4 48h.7M32.5 51.4h.7M36 41.7h.7M33 53.2h.7M35.2 54.4h.7M31.5 49.7h.7M31.7 50.5h.7M32.8 46.3h.7M37.5 59h.7M35 52.2h.7M31.7 46.5h.7M33.7 53.5h.7M41.8 35.8h.7M39.7 61.2h.7M37.5 47.7h.7M38.1 39h.7M30.2 51.6h.7M33 56h.7M31.9 36h.7M34.7 54.9h.7M29.7 50.9h.7M35.7 53.6h.7M38.4 52.5h.7M32.7 40.1h.7M37.7 48.2h.7M38.8 59.8h.7M33 46h.7M40.1 52h.7M31.1 49h.7M33.8 60h.7M30.5 45.2h.7M38.4 57h.7M36.2 46.4h.7M31.8 30.2h.7M37.9 52.5h.7M35.6 40.3h.7M28.5 47.1h.7M33.7 59.8h.7M44.2 39.7h.7M32.4 56.8h.7M39 56.6h.7M34.8 46.4h.7M33.6 39.7h.7M32.7 44.3h.7M39.7 61.4h.7M36.4 38.2h.7M34.6 46.3h.7M39.9 42.6h.7M36.9 49.9h.7M38.5 45.8h.7M41.5 53h.7M34.7 48.6h.7M33.5 58.9h.7M38.4 48.4h.7M46 54.1h.7M39.6 53.9h.7M31.6 43.2h.7M38.3 49.6h.7M34.3 60.2h.7M38.1 61.7h.7M34.2 42.7h.7M34.9 57.3h.7M31.3 50.1h.7M37.7 52.1h.7M37.1 31h.7M37.3 58h.7M31.9 52.9h.7M35.3 50.2h.7M47.9 47.9h.7M30.6 44.3h.7M32.8 50.8h.7M36.9 46.5h.7M44.5 54.1h.7M35.5 47.5h.7M36.2 43.6h.7M34.6 46.2h.7M38.3 44.2h.7M31 47h.7M39.5 53.4h.7M33.7 49.6h.7M32.3 43.9h.7M36.5 45h.7M32.1 47.6h.7M35.5 54.6h.7M33.5 52h.7M35.9 33h.7M36.5 42.2h.7M36.7 51.5h.7M31.3 32h.7M37.3 43.9h.7M39.3 39.2h.7M30.4 38.7h.7M36.3 61.8h.7M36.1 40.8h.7M37.5 38.9h.7M35.5 62.1h.7M35.1 38.9h.7M35.3 53.1h.7M29.4 54h.7M35.6 32.3h.7M37.3 41.9h.7M33.5 59.3h.7M37.8 45.8h.7M41.2 46h.7M42.2 48.2h.7M31.1 42.6h.7M28 45.5h.7M34.1 42.5h.7M36.9 50.8h.7M39.7 41.7h.7M38.1 42.1h.7M33.5 57.7h.7M33.2 54.1h.7M33.6 57.7h.7M36.6 54h.7M41.6 41h.7M38.2 51.9h.7M31.4 49.8h.7M36.6 41.3h.7M33.5 60.3h.7M34.1 39.4h.7M33.5 53.5h.7M34.2 53.4h.7M36.2 44.7h.7M36.6 48.6h.7M25.5 61.2h.7M30.1 46.9h.7M41.8 44.5h.7M35.7 62.3h.7M31.6 58h.7M36.3 44.3h.7M35.5 54.8h.7M36.6 46.4h.7M36.7 52.5h.7M31.3 39.8h.7M32.4 49.6h.7M35.1 56.1h.7M34.3 49.7h.7M39.9 40.4h.7M28.6 61.4h.7M39.2 43.8h.7M40.1 52.8h.7M29.4 44.2h.7M35.8 56.3h.7M35.8 57.8h.7M31.3 48.4h.7M40.7 47.9h.7M33.2 45.6h.7M35.4 48.4h.7M26.5 36.2h.7M41.2 60.7h.7M35 57.5h.7M32.6 55.3h.7M39.2 46.6h.7M34.4 52.7h.7M39.6 46.5h.7M38.1 50h.7M33.1 59.2h.7M41 40.6h.7M36.1 47.7h.7M30.9 51.1h.7M35.2 45.5h.7M30.3 56.4h.7M39.6 50.8h.7M27.4 55.5h.7M41.7 49.7h.7M29.1 40.4h.7M35 47.1h.7M34.2 50.1h.7M37.1 48.6h.7M33.3 37.8h.7M40.8 47.5h.7M34.9 39.4h.7M36.9 49.6h.7M32.3 53.9h.7M44.3 48.1h.7M34.6 55h.7M32.8 47.9h.7M41.2 48.3h.7M36 43.1h.7M30.5 47.9h.7M34.9 40.8h.7M33.3 53h.7M32.5 41h.7M37 47.3h.7M37.7 44.4h.7M33.6 55.1h.7M41.3 46.6h.7M30 52.3h.7M37.9 54.4h.7M28.9 47.9h.7M43.7 40.4h.7M40.3 38.5h.7M33 40.4h.7M39.6 58h.7M37.5 43.6h.7M37.3 54h.7M41.4 40.3h.7M34.9 55.1h.7M34.8 42.3h.7M38.6 59.3h.7M37.1 49.4h.7M34.1 48.4h.7M34.3 48.2h.7M30.7 46.8h.7M35.8 42.4h.7M31.9 41h.7M26.7 50.4h.7M32.7 48.8h.7M29.4 52.4h.7M31.4 51.8h.7M34.2 56.2h.7M33.1 55.9h.7M33.6 40.3h.7M39 50.6h.7M41.4 50.3h.7M32.1 40.7h.7M36.6 39.9h.7M34.9 36.4h.7M40.6 55.4h.7M37 45.2h.7M29.9 61.3h.7M37.9 47.8h.7M31 50.4h.7M33.2 47.7h.7M29.9 60.9h.7M36.9 49.6h.7M37.9 47h.7M38.5 56.6h.7M40.5 50.2h.7M34.7 60.8h.7M34.8 45.6h.7M39.4 47h.7M38.8 59.5h.7M32.3 50.1h.7M35.9 49.3h.7M34.3 61h.7M35.9 51.7h.7M35.6 45.8h.7M36.8 57.7h.7M31.5 54.3h.7M41.1 56.8h.7M40.8 51.2h.7M33.4 46.3h.7M35 43.9h.7M40.4 58.9h.7M37.1 53.9h.7M33.7 40.5h.7M34.9 46.9h.7M34.2 43.1h.7M34.7 53.5h.7M35.7 61.4h.7M35.2 51h.7M36.3 50.8h.7M32.1 36.9h.7M29.2 45.7h.7M33.3 48.7h.7M35.8 57.9h.7M28.9 44.4h.7M37.3 43.4h.7M36.8 44.1h.7M30.4 44.2h.7M33.6 38h.7M34.6 44.5h.7M39.2 39.9h.7M37 44.8h.7M32.7 54.8h.7M37.9 42.1h.7M30.4 38.2h.7M32.3 57.4h.7M32.1 50.8h.7M30.3 49.6h.7M39.7 55.5h.7M33.9 54.6h.7M31.9 36.8h.7M32.6 36.3h.7M37.1 57.6h.7M35.6 53.3h.7M34.3 46.5h.7M37.7 42.1h.7M28.4 56h.7M34 38.9h.7M37.2 41.5h.7M31.4 59.3h.7M38.3 61.7h.7M42.1 61.6h.7M38.4 47.9h.7M32.4 60.7h.7M39.6 47.6h.7M31.1 53.4h.7M41.2 60.2h.7M31.7 40h.7M36.4 46.7h.7M33.8 62.2h.7M37.5 59.4h.7M32.2 49.8h.7M39.8 55.3h.7M40.3 58.7h.7M36.8 47h.7M32.5 41.5h.7M32.8 46.4h.7M35.6 46.6h.7M36.3 57.8h.7M33.6 51.9h.7M40.1 42.7h.7M34 57.7h.7M36.8 55.5h.7M34 49.5h.7M38 46.1h.7M41.6 53.3h.7M35.3 36h.7M41.5 61.7h.7M38 60.1h.7M41.3 49.4h.7M31.2 57.7h.7M30 48.8h.7M27.8 42h.7M35.5 42.4h.7M35.5 38.2h.7M35.2 62.5h.7M33.3 48.2h.7M31 46.5h.7M28.4 48.6h.7M32.9 34.1h.7M35.7 49.5h.7M28.4 57.5h.7M41.9 55.8h.7M40.6 49.2h.7M30.7 50h.7M32.8 54.7h.7M34.9 42.2h.7M34.4 48.7h.7M45.6 49.3h.7M29.2 46.4h.7M30.2 52.3h.7M34.8 48.5h.7M29.3 49.2h.7M37.7 57.3h.7M32.9 49.2h.7M36 44.3h.7M30.6 52.2h.7M38.9 62.6h.7M37.6 50.3h.7M36.3 38.8h.7M33.6 33.9h.7M33.3 36.8h.7M34.5 42.8h.7M36.2 44.5h.7M37.8 39h.7M34.8 41.6h.7M36.6 41.6h.7M36.3 48.9h.7M40.5 56.1h.7M30.9 50.4h.7M33.1 61.2h.7M39.6 49.7h.7M36.1 42.3h.7M30.9 52.3h.7M37.2 44h.7M41.7 54.1h.7M41.9 37.4h.7M33.9 54.2h.7M38 53.1h.7M32.3 47.9h.7M30.1 55.5h.7M31.9 51.8h.7M39.9 51.8h.7M27 49.2h.7M31.4 58.4h.7M28.6 49.1h.7M26.2 47.5h.7M33.6 49h.7M37 49h.7M38.9 52.6h.7M32.4 41.1h.7M39.9 56.1h.7M33.6 38.5h.7M32.5 46.4h.7M37.1 52h.7M38.3 57.1h.7M32.5 42.4h.7M33.8 43.7h.7M37.4 60.1h.7M37.1 43.4h.7M39.7 57.7h.7M32.2 55.5h.7M37.5 46.9h.7M38.8 33.9h.7M41.2 30h.7M35.7 47.1h.7M34.7 53.5h.7M34.4 59h.7M28.5 59.6h.7M41.1 46.6h.7M27.8 48.2h.7M36.4 51.4h.7M38.9 43.8h.7M39 41h.7M31.8 48h.7M35.1 31.1h.7M32.6 49.2h.7M32.8 54.1h.7M37.1 44h.7M31.7 47.9h.7M43 58.4h.7M32.3 39.1h.7M31.6 51.8h.7M40.9 54.1h.7M32.2 41h.7M38.3 56.6h.7M34.5 50.8h.7M40 52.1h.7M39.8 57.9h.7M33.8 57.2h.7M31.6 60.5h.7M29 40.9h.7M38.2 39.2h.7M35.6 53.7h.7M33.4 58h.7M38.2 49.3h.7M33.7 42.6h.7M44.9 62.5h.7M35.6 54.2h.7M36.1 52.1h.7M34.9 49.5h.7M35.2 44.8h.7M39.6 61.2h.7M42.5 48.4h.7M34.8 55h.7M36.2 47.6h.7M31.8 58.4h.7M37.6 40.6h.7M32.1 50.6h.7M33.6 38h.7M37 42.3h.7M35.7 42.3h.7M38.3 59.3h.7M37.4 51.7h.7M38.9 50.1h.7M44.6 43.5h.7M41.6 43.8h.7M34.3 58.9h.7M32.8 39h.7M39 45.8h.7M35.2 47.6h.7M37.4 45h.7M35.3 48.9h.7M31.8 55.5h.7M30.8 51.2h.7M42.7 49.2h.7M34.5 52.2h.7M34.3 40.7h.7M35.2 44.9h.7M31.2 51.6h.7M33.2 58.2h.7M38.9 57.6h.7M32.5 42.3h.7M37.1 35.2h.7M32.8 43.5h.7M33.1 55.7h.7M36.7 49h.7M37.7 56.4h.7M37.6 61h.7M41 47.6h.7M31 47.5h.7M32 56.6h.7M34.6 43.3h.7M36 55.4h.7M40.2 52.1h.7M34.4 45.7h.7M31.6 46.2h.7M36.7 53.6h.7M36.4 32.5h.7M34 60.6h.7M31.1 54.3h.7M33.4 59h.7M37.1 55.4h.7M37.7 58.7h.7M31.7 43.3h.7M33.4 60.9h.7M27.5 58h.7M34.1 53.7h.7M32.4 53.1h.7M38.3 38.7h.7M39.5 47.6h.7M35.9 38.8h.7M36.8 52h.7M42.6 38.7h.7M34.4 52.3h.7M31.3 59.9h.7M34.5 44h.7M37.5 52.9h.7M35.2 56.2h.7M29.6 50.8h.7M32.4 49.7h.7M36.1 49.3h.7M36.7 42.3h.7M35.4 49.6h.7M44.7 54h.7M31 51.7h.7M42.8 55.2h.7M38.2 55h.7M40.6 36.5h.7M16.7 38.3h.7M14.7 58.8h.7M16.6 55.6h.7M3.4 49.9h.7M2.8 37.4h.7M11 53.3h.7M16.6 38.6h.7M16 49.7h.7M14.1 44.2h.7M9.2 55.7h.7M6.4 37.7h.7M5.8 54.6h.7M9.8 50.9h.7M1.7 56.7h.7M10.8 47.3h.7M14.6 40.2h.7M4.4 59.7h.7M3.4 61.6h.7M15.4 52.8h.7M4 57.7h.7M14.8 61.5h.7M14.1 38.3h.7M16 55.7h.7M10.7 38h.7M4.1 38.4h.7M.5 48.5h.7M.5 55.1h.7M1.1 61.6h.7M14.6 47.6h.7M12.3 40.8h.7M18.3 52.1h.7M5.1 39.2h.7M5 43.2h.7M12.2 46h.7M5.6 47.5h.7M12.9 61h.7M14.7 40.3h.7M17.4 39h.7M.6 55.3h.7M10.9 40.4h.7M17.9 56.9h.7M4.2 56.7h.7M2.8 50.3h.7M8.9 48h.7M1.4 55.6h.7M7.7 60.4h.7M.6 44.7h.7M16.2 50.1h.7M2.2 59.6h.7M2.7 50.9h.7M9.9 50.5h.7M4.8 42.8h.7M9.2 51.3h.7M17.1 54.4h.7M1 57h.7M12.6 47.1h.7M18.1 56.3h.7M9.9 43.2h.7M2.6 56.3h.7M13.7 59.4h.7M8.7 38.1h.7M7.2 60.9h.7M4.1 60.2h.7M11.2 56.1h.7M7.4 59.5h.7M8.6 42h.7M12.4 53.2h.7M8.3 43.1h.7M11.7 41.8h.7M14.7 40.5h.7M14.1 49.1h.7M11.6 59.5h.7M7.7 52h.7M11.6 59.5h.7M18.5 62h.7M16.9 53.7h.7M11.2 39.5h.7M7.1 42.1h.7M4.5 48.8h.7M7.1 38.8h.7M6.7 53.7h.7M12 58.7h.7M11.7 47h.7M12 61.5h.7M9.1 47.5h.7M17.7 56.9h.7M9.2 46.4h.7M3.1 55.1h.7M16.7 46.8h.7M15.3 61.4h.7M4.3 56.3h.7M3.7 61.6h.7M8.7 39.8h.7M5.3 44.5h.7M18.9 49.2h.7M1.7 42.9h.7M14.6 52.6h.7M4.1 45.3h.7M13.2 56.7h.7M3.1 58.6h.7M5.4 48h.7M7.2 58.4h.7M5.5 50.4h.7M8.7 50.3h.7M13.2 59.4h.7M8.5 56.8h.7M6.7 46.4h.7M3.4 45h.7M12.7 42.9h.7M6.4 39.6h.7M7.7 46.7h.7M4.9 36.7h.7M1.9 56.1h.7M11.2 60.3h.7M1.9 62.1h.7M14.9 45.9h.7M8.5 45.8h.7M17.8 52h.7M2 44.4h.7M6.7 49.7h.7M9.8 58.8h.7M5.7 57.4h.7M13.2 52.7h.7M13.2 59.3h.7M15.2 52.7h.7M1.2 39.3h.7M1.4 37.5h.7M27.1 57.7h.7M19.4 55.4h.7M17.6 50.4h.7M19.1 59.8h.7M26.9 49.6h.7M23.5 46.1h.7M28.2 47.1h.7M27.8 59.9h.7M29.3 60.3h.7M20.4 42.4h.7M23.2 50.3h.7M25.5 45.1h.7M36.9 56.2h.7M27 53.7h.7M15.3 56.8h.7M21.9 42.3h.7M19.9 50.5h.7M31.9 61.7h.7M20.2 57.6h.7M25.1 56.9h.7M24.9 48.8h.7M18.2 55.3h.7M20.7 47.5h.7M33.2 48.9h.7M34 41.7h.7M28.4 53.8h.7M23.7 54.2h.7M18.9 46.9h.7M16.8 45.4h.7M18.7 48.4h.7M25.2 42h.7M26.3 51.8h.7M22.2 50.1h.7M28.7 42.2h.7M25.1 50.5h.7M26.8 55.3h.7M34.8 51.2h.7M29.1 44.2h.7M17.9 46.9h.7M14.3 56.2h.7M23.3 46.7h.7M25.2 60.4h.7M21 52.8h.7M31.7 62.2h.7M29.2 50.5h.7M27.1 52.4h.7M20.8 45.7h.7M25.9 42.5h.7M19.5 46.2h.7M29.2 46.7h.7M22.4 46.6h.7M25.3 57.1h.7M36.6 59.3h.7M26.1 45.6h.7M31.1 37.6h.7M33 52.3h.7M20.5 56.3h.7M27.7 55.3h.7M23.2 41.8h.7M30.2 54.5h.7M21.5 53.1h.7M32.7 52.9h.7M15.4 48.9h.7M30.2 58.4h.7M21.9 53.6h.7M21.7 55.1h.7M25.8 56.7h.7M25.4 51.5h.7M25.1 55.1h.7M29 40.1h.7M23.1 57.9h.7M20.9 55h.7M27.1 55.8h.7M27.4 49.7h.7M31.3 44.9h.7M30.1 47.6h.7M23.9 57.9h.7M23.2 52.4h.7M25.9 46.8h.7M25.2 39.4h.7M21.5 50.5h.7M28.3 50.5h.7M18.2 50.8h.7M33.1 52.7h.7M27 52.1h.7M24.3 47.1h.7M24.8 52.9h.7M20 57.7h.7" stroke="#000" stroke-opacity="0.55" stroke-width="0.7" fill="none"/>
<ellipse cx="400.4" cy="221" rx="2.6" ry="6" fill="#000" fill-opacity="0.9" filter="url(#b2)"/>
<ellipse cx="374" cy="194.5" rx="2.5" ry="2.5" fill="#000" fill-opacity="0.35" filter="url(#b2)"/>
<rect x="365" y="244" width="56.5" height="62.6" fill="none" stroke="#9c9c9c" stroke-width=".7"/>
<line x1="384.5" y1="244" x2="384.5" y2="306.6" stroke="#9c9c9c" stroke-width="0.7"/>
<line x1="365" y1="283.8" x2="421.5" y2="283.8" stroke="#9c9c9c" stroke-width="0.7"/>
<line x1="365" y1="244" x2="365" y2="306.6" stroke="#7a7a7a" stroke-width="0.9"/>
<line x1="365" y1="306.6" x2="421.5" y2="306.6" stroke="#8a8a8a" stroke-width="0.8"/>
<line x1="365" y1="307.4" x2="365" y2="308.8" stroke="#aaa" stroke-width="0.6"/>
<text x="365" y="311.2" font-size="2.4" text-anchor="middle" fill="#888">10</text>
<line x1="379.1" y1="307.4" x2="379.1" y2="308.8" stroke="#aaa" stroke-width="0.6"/>
<text x="379.1" y="311.2" font-size="2.4" text-anchor="middle" fill="#888">10</text>
<line x1="393.2" y1="307.4" x2="393.2" y2="308.8" stroke="#aaa" stroke-width="0.6"/>
<text x="393.2" y="311.2" font-size="2.4" text-anchor="middle" fill="#888">10</text>
<line x1="407.4" y1="307.4" x2="407.4" y2="308.8" stroke="#aaa" stroke-width="0.6"/>
<text x="407.4" y="311.2" font-size="2.4" text-anchor="middle" fill="#888">10</text>
<line x1="421.5" y1="307.4" x2="421.5" y2="308.8" stroke="#aaa" stroke-width="0.6"/>
<text x="421.5" y="311.2" font-size="2.4" text-anchor="middle" fill="#888">10</text>
<text x="363.4" y="243" font-size="3" font-weight="bold" text-anchor="end" fill="#6a6a6a">10</text>
<text x="363.4" y="258.6" font-size="3" font-weight="bold" text-anchor="end" fill="#6a6a6a">10</text>
<text x="363.4" y="274.3" font-size="3" font-weight="bold" text-anchor="end" fill="#6a6a6a">10</text>
<text x="363.4" y="290" font-size="3" font-weight="bold" text-anchor="end" fill="#6a6a6a">10</text>
<text x="363.4" y="305.6" font-size="3" font-weight="bold" text-anchor="end" fill="#6a6a6a">10</text>
<text x="361" y="280.3" font-size="2.7" transform="rotate(-90 361 280.3)" fill="#666">CD44 APC</text>
<text x="393.2" y="313.6" font-size="2.6" text-anchor="middle" fill="#777">CD25</text>
<path transform="translate(365 244)" d="M8.6 36.8h.7M8.2 33.1h.7M3.1 30.9h.7M7.3 26.1h.7M3.7 34.3h.7M8.8 33.9h.7M12.1 22.5h.7M1 28.1h.7M6.8 20.8h.7M7.1 25.3h.7M4.7 27.9h.7M5.7 27.9h.7M12.5 32.4h.7M9.4 35.8h.7M8.3 28.8h.7M8 18.1h.7M8.1 20.4h.7M13.9 29.7h.7M5 33.6h.7M8.2 22.7h.7M12.1 32.1h.7M10.4 35.6h.7M2.6 21.8h.7M6.8 28.6h.7M4.3 24.6h.7M10 42h.7M10.5 19.5h.7M12 30.4h.7M9.2 24.4h.7M4.2 22.2h.7M15.1 33.6h.7M4 27.7h.7M3.3 24.1h.7M8.8 39h.7M2.1 37.3h.7M11.4 20.1h.7M4.5 35.5h.7M15.7 32.9h.7M9 31.4h.7M5.4 24.4h.7M4.4 26.6h.7M6.2 28.8h.7M6.2 34.9h.7M3.4 33.3h.7M8.8 35.1h.7M7.7 38.5h.7M6.4 38.5h.7M4.3 31.8h.7M9.2 26.7h.7M9.1 27.4h.7M9.3 30.1h.7M2.9 28h.7M10.6 22.1h.7M9.8 31.3h.7M11.7 28.2h.7M4.5 24.6h.7M5.9 34.1h.7M12.4 30.8h.7M5.9 34.6h.7M3.4 35.4h.7M6.6 28.9h.7M4.1 33.7h.7M10.1 35.8h.7M6.4 41.2h.7M9.6 32.5h.7M5.4 29.3h.7M5.8 31.7h.7M8.6 23.1h.7M11.4 18.2h.7M6.6 31.6h.7M14.5 34.2h.7M3.8 27.9h.7M9 45.2h.7M8.4 32.2h.7M9 25h.7M7.7 27.3h.7M7 28h.7M5.3 22.5h.7M37.3 53.5h.7M35.8 48.4h.7M37.8 52.8h.7M35.1 45h.7M46.2 48.5h.7M31.3 44h.7M38.3 48.7h.7M33.4 43.3h.7M44.3 39h.7M40.4 49.7h.7M41.1 50.4h.7M39.7 46.9h.7M35.6 56.9h.7M33.3 36.1h.7M38.6 50.4h.7M35 51.7h.7M36.7 41.4h.7M35.8 54.7h.7M36 40.2h.7M40.9 49.6h.7M37.8 61.7h.7M36.8 48.1h.7M43.1 49.5h.7M34.7 47.5h.7M38.8 58.4h.7M34.7 43.7h.7M37.8 52.7h.7M36 45.4h.7M31.8 54.5h.7M36.2 37h.7M39.7 49h.7M32.9 54.5h.7M40.5 53.6h.7M45.2 45.6h.7M33.5 51.5h.7M37.8 56.6h.7M36.4 41.1h.7M33.8 58h.7M36.7 48.2h.7M40 42.6h.7M38.9 37.2h.7M36.8 44.8h.7M39.5 54.9h.7M36.7 49.2h.7M31.1 44.6h.7M42.4 61.5h.7M36.4 42.1h.7M32.8 46.4h.7M32.7 57.6h.7M35.4 36.1h.7M33.2 61.3h.7M39.4 51.5h.7M33.9 42.8h.7M41.4 55.5h.7M38.4 38.9h.7M38.9 61.3h.7M34.6 34.9h.7M32.9 47.4h.7M31.9 50.9h.7M35.8 52.5h.7M35.1 49.3h.7M38.8 61.2h.7M42.8 50.5h.7M33.8 34.1h.7M35 39.5h.7M37.5 52.3h.7M40.5 37.5h.7M33.7 37.3h.7M37 41.8h.7M34.6 52h.7M39 56.7h.7M32.4 58.5h.7M36.1 51.8h.7M40.4 50.7h.7M43.5 46.4h.7M33.6 37.8h.7M42.3 50.6h.7M34.8 45.6h.7M41.6 50.9h.7M40.2 52.2h.7M41.3 50.4h.7M44.7 52.8h.7M36.8 46h.7M44.9 49.6h.7M39.4 36.9h.7M30.8 50.4h.7M36.3 34.6h.7M36.4 51.6h.7M32.4 50.3h.7M40.1 43.4h.7M36.8 50.2h.7M41.5 48.8h.7M40.2 45h.7M39.8 40.8h.7M34 52.6h.7M38.8 50.3h.7M41.3 53.1h.7M36.6 48.4h.7M35.9 49.4h.7M34.4 44.5h.7M35.1 45.9h.7M40.9 42.9h.7M36.5 34.3h.7M35.7 49.4h.7M32.7 43.9h.7M36.8 38.9h.7M34.5 47.7h.7M37.3 51.7h.7M33.7 58.5h.7M40 51.6h.7M35.5 46.5h.7M44.1 62h.7M36.9 44.5h.7M40.3 47.7h.7M34.8 52h.7M28 45.8h.7M36.8 58.6h.7M36 48.1h.7M39 52.4h.7M36.9 36.9h.7M40.5 54.5h.7M37.4 44.2h.7M32.4 48h.7M34.8 45.6h.7M35.1 39.5h.7M38.9 47.4h.7M37.1 52.4h.7M35 41.8h.7M31.9 45.5h.7M39.2 57.5h.7M40.6 55.9h.7M38 45h.7M35.2 46.3h.7M36.2 40.8h.7M37.9 54.8h.7M35 35.3h.7M35.5 59.5h.7M33.2 55.7h.7M34.4 48.1h.7M37 49.4h.7M39.1 46.2h.7M33.6 35.1h.7M32.3 56.8h.7M37.2 59.5h.7M33.4 43h.7M37.3 45.4h.7M32.6 56h.7M36.1 45.2h.7M36.1 49.8h.7M35.8 48.6h.7M40.7 43.1h.7M37.5 45.9h.7M35.1 50.8h.7M33.2 54.5h.7M41 30.7h.7M33.4 59.6h.7M40.3 34h.7M36.7 61.4h.7M40.7 52.4h.7M38.9 45.5h.7M34.1 56.7h.7M33.9 57.6h.7M37.8 50.6h.7M38.7 50.4h.7M34.4 47.1h.7M32.6 61.3h.7M35.4 31.8h.7M39.1 45.4h.7M38.8 57.1h.7M37.3 44.1h.7M35.7 50.7h.7M38 42.8h.7M31.8 52.4h.7M40 51h.7M33.2 62h.7M41.1 53.3h.7M34.4 46.8h.7M41 33.8h.7M32.1 43.5h.7M34.7 51.3h.7M41.4 51.2h.7M33.2 50.8h.7M30.5 51.8h.7M39.2 61.9h.7M33.5 48.5h.7M32.2 56.8h.7M33.5 46.5h.7M36.8 56.9h.7M33.9 44.6h.7M33.5 53.9h.7M31.6 49.7h.7M36 55.4h.7M36.6 51.4h.7M37.4 41.5h.7M42.3 58.4h.7M36.7 52.5h.7M31.8 36.2h.7M35.2 49.4h.7M36.5 41.6h.7M37.2 35h.7M39.8 48.6h.7M38.9 35.9h.7M34.8 57h.7M34.2 48.2h.7M34.3 48h.7M32.6 56.3h.7M35.2 56.6h.7M35.5 47.3h.7M34.7 41.2h.7M36.5 45.3h.7M36.6 53h.7M37.5 43.2h.7M35.7 53.8h.7M37.3 47.2h.7M32.7 31.8h.7M34 60.2h.7M35.1 54.1h.7M35.7 52.7h.7M36.2 49h.7M40.4 37.9h.7M39 44.5h.7M35.7 48h.7M36.5 60.8h.7M38.2 43.7h.7M39 37.8h.7M38 44.6h.7M28.7 43.5h.7M39 44.9h.7M37.4 48.8h.7M37.1 56.1h.7M35.8 32.3h.7M35.3 58.3h.7M29.8 51.6h.7M37 59h.7M33.1 37.6h.7M37.8 35.4h.7M39.7 55.1h.7M37.2 56.8h.7M41.9 56.4h.7M35.3 58.1h.7M34.7 36.6h.7M35.2 46.8h.7M30.5 36h.7M32.5 52.9h.7M42.1 54.7h.7M41.1 42.1h.7M38.5 50.3h.7M27.6 44.7h.7M37.6 54.7h.7M37.3 39.6h.7M39.4 47.6h.7M34.9 34h.7M31 53.8h.7M36.5 52.1h.7M31.5 52.3h.7M39.2 33.7h.7M39.2 36.4h.7M39.6 44h.7M37.8 36.7h.7M39.1 53.3h.7M40.3 60.1h.7M38.9 47.8h.7M36.3 47.8h.7M33.7 48.2h.7M34.5 42.4h.7M38.1 53.8h.7M38.7 43.8h.7M38.8 45.2h.7M37.8 47.3h.7M31.2 59.9h.7M41.2 49h.7M36.4 46.1h.7M41.8 37.1h.7M34.7 41.2h.7M35.7 40.9h.7M36.2 49.8h.7M33.2 55.3h.7M35.7 47.5h.7M33.9 56.1h.7M42.3 48.1h.7M37.3 35.5h.7M43 47.7h.7M38.4 48.1h.7M30 41.2h.7M33.9 45.3h.7M43.9 53.5h.7M36.3 40.8h.7M39.2 43.1h.7M31.7 50h.7M38.1 48.6h.7M33.7 49h.7M37.8 32.7h.7M41.6 51h.7M38.5 44.1h.7M32.2 50.2h.7M41.3 47.1h.7M31.8 51.6h.7M38.7 49.7h.7M36.4 55.3h.7M36.3 61.3h.7M35.2 33.5h.7M37.2 52.4h.7M43.4 37.9h.7M36 52.1h.7M32.6 45.8h.7M33 40.5h.7M36.2 40.8h.7M37.6 50.5h.7M40 51.8h.7M37 48.3h.7M32.6 45.4h.7M32.5 48.7h.7M39.7 54.3h.7M41.7 48.9h.7M35.7 57.4h.7M31.9 53.2h.7M34.8 46.1h.7M39 56.9h.7M32.5 44.4h.7M38.6 34.9h.7M34.4 49.4h.7M43 54.7h.7M33.1 48.5h.7M33.3 48h.7M34.3 43.9h.7M36.7 53.4h.7M33.9 59.9h.7M35.2 49.1h.7M34.4 36.2h.7M39.3 54.9h.7M36.5 47.3h.7M37.8 43.5h.7M31.7 61.1h.7M38.7 53.6h.7M38.7 47.1h.7M31.6 46.7h.7M37.7 43.2h.7M40 53.3h.7M38.7 52.2h.7M34.8 47.9h.7M38 32.4h.7M39 60h.7M37.7 42.3h.7M36.3 58.9h.7M38.9 49h.7M43.7 56.2h.7M35.3 59.9h.7M35.7 51.9h.7M34 42.2h.7M39.8 49.3h.7M37 40.1h.7M35.1 46.1h.7M38.8 37.6h.7M35.5 54.8h.7M38 43.8h.7M38.5 48.4h.7M35.7 58.8h.7M31.4 42h.7M40.5 56.2h.7M38.2 43.4h.7M37.4 52.8h.7M38.8 59.8h.7M31.2 48.9h.7M41.1 49.2h.7M40 53.4h.7M42 55.6h.7M40.4 37.5h.7M32.2 50.7h.7M35.2 54h.7M37.1 42.9h.7M37.2 43.7h.7M34.3 50.9h.7M38.3 57.6h.7M38.2 50.4h.7M37.4 45.6h.7M38.5 32.8h.7M40.8 40.7h.7M39.3 51h.7M42 47.6h.7M33.5 38.2h.7M39.6 60.8h.7M33.4 49h.7M46.3 46.5h.7M37.5 57.1h.7M32.5 48.5h.7M33.1 46.2h.7M38.2 38.7h.7M37.8 57.1h.7M37.1 48.5h.7M33.8 47h.7M40.5 52h.7M42.6 40.3h.7M34.5 50h.7M38.1 43.8h.7M35.3 44.2h.7M38.7 44.4h.7M34.1 57.8h.7M38.6 42.9h.7M28.8 45.9h.7M34 41.8h.7M39 41.9h.7M38.3 42.2h.7M39 43.9h.7M42.8 45.4h.7M36.2 53.1h.7M37.2 44.9h.7M34.8 46.3h.7M31.6 46.9h.7M39.7 50.3h.7M36.5 62.3h.7M36.1 42.8h.7M35.9 46.3h.7M41.4 52.5h.7M33.6 49h.7M36.7 58.4h.7M38.9 45.8h.7M40.3 55h.7M38.8 51h.7M37.9 49.6h.7M36.6 43.6h.7M39.1 45.5h.7M33.7 58.3h.7M36.6 44.6h.7M34.9 48.3h.7M36.8 43.9h.7M41.6 44.5h.7M34 60.7h.7M39.5 51.7h.7M37.6 48.2h.7M36 42.3h.7M31.8 56h.7M34.2 36.9h.7M36.3 29h.7M34.3 55.3h.7M35.3 44.1h.7M43.6 54h.7M39.3 47.7h.7M36.7 62.1h.7M38.3 51.1h.7M37.2 55.3h.7M38.6 49.3h.7M34.6 44.5h.7M38.5 50.9h.7M39 41.7h.7M28.6 38.3h.7M35.1 45.7h.7M32.5 52.5h.7M36.5 41.8h.7M39.8 49h.7M35.8 46.9h.7M35.9 53.4h.7M29.8 54.1h.7M39.3 50.7h.7M45.2 50h.7M38.4 53.2h.7M39.5 37.9h.7M31.8 40.9h.7M41.2 51.8h.7M28.7 56.3h.7M41.4 54.9h.7M32 49.9h.7M39.4 57.4h.7M34.2 60.3h.7M40 47h.7M34.8 46.5h.7M37.1 38.7h.7M38.5 54.7h.7M39.1 51.3h.7M46.5 50.9h.7M36 56.7h.7M37.3 49.7h.7M33.9 58.7h.7M35.3 61h.7M34.5 44.9h.7M36.5 52.2h.7M36.8 59.9h.7M40.6 43.5h.7M38.9 46h.7M33.4 41.7h.7M36.3 54.1h.7M36.5 49.8h.7M34.2 32.4h.7M33.1 41.1h.7M39.8 53.7h.7M40.1 56.7h.7M32.7 46.3h.7M36.2 57.3h.7M35 33.7h.7M41.3 43.9h.7M35.2 43.7h.7M33.5 54.4h.7M37.4 49.4h.7M38.3 42.5h.7M33.3 59.1h.7M36 43.3h.7M32.7 44.3h.7M29.4 54.8h.7M35.5 58.8h.7M38.3 47.1h.7M33.4 47.2h.7M27.3 55.8h.7M35.8 44.2h.7M43.1 43.6h.7M41.9 55.2h.7M35.8 48.7h.7M42.4 29.3h.7M39.9 43.1h.7M40.4 50.6h.7M32.3 46.7h.7M32.3 30.2h.7M31.6 44.9h.7M30 40.9h.7M39.2 61.6h.7M35.6 54.8h.7M32 47.4h.7M26.6 41.4h.7M36.6 55.1h.7M32.6 59.3h.7M39.5 52.3h.7M35.4 50h.7M37.3 59.4h.7M33.7 46.2h.7M32.3 52.5h.7M37.5 42.6h.7M41.6 57.9h.7M39.4 53.8h.7M41.8 61.5h.7M38.4 43.7h.7M34.5 42.6h.7M38.2 51h.7M36.2 43.6h.7M35.9 56.7h.7M33.1 48.4h.7M38.4 43.8h.7M35.5 51.6h.7M38.5 58.1h.7M35.6 55.2h.7M38.8 50.4h.7M30.3 36.2h.7M34.4 42.7h.7M39 44.4h.7M37.4 46.9h.7M28.7 46.4h.7M33.9 54.6h.7M35.5 50.8h.7M33.3 48.6h.7M37.3 43.9h.7M43.6 53.9h.7M41.7 60.7h.7M33 44.9h.7M38.5 55.8h.7M36.3 47.7h.7M36.8 38.2h.7M38.6 41.3h.7M41.3 40.8h.7M33.4 61.2h.7M35.6 55.8h.7M37.4 56.5h.7M40.8 49.9h.7M37.2 51.2h.7M35.3 39.4h.7M34.6 47.7h.7M37.1 47.4h.7M39.4 52.8h.7M36.8 56.1h.7M43.6 39.5h.7M37.1 53.6h.7M35.2 53.9h.7M40.8 55.1h.7M39.5 53h.7M41.5 57.5h.7M35.8 51.8h.7M36.3 43.3h.7M36.1 55.7h.7M36.1 57h.7M38.3 53.3h.7M33.7 44.1h.7M40.3 54.8h.7M34.3 39.5h.7M33.1 52.9h.7M31.7 51.6h.7M35.4 41h.7M38.5 54.7h.7M36.1 41.5h.7M38.9 54.9h.7M35.2 30.6h.7M36.9 43.8h.7M36.9 59.6h.7M36.2 55.1h.7M42.5 32.3h.7M40.2 38.7h.7M34.4 47.2h.7M34.9 53h.7M34.7 46.4h.7M39.2 43.9h.7M28.6 48.7h.7M34.5 37.9h.7M43.9 52.9h.7M36 48.9h.7M27.7 55.9h.7M33.4 54.6h.7M28.8 57.5h.7M37.2 39.5h.7M37 53.4h.7M34.4 60.4h.7M40.3 41.2h.7M30.7 49.6h.7M41.1 43.9h.7M35 35h.7M39.7 50.2h.7M37 40.1h.7M34.1 48.3h.7M38.7 36.7h.7M39.2 50.9h.7M33.6 52.6h.7M37.9 35.5h.7M37.4 44.6h.7M37.6 54.7h.7M14.8 41.9h.7M17.4 42h.7M3.8 47.6h.7M18.3 46.3h.7M4 43.6h.7M12.6 40.4h.7M2.6 61.2h.7M12.2 49.5h.7M13.8 60.2h.7M1.2 58.6h.7M1.2 60.6h.7M10.9 61.4h.7M18.9 48.4h.7M2 44.8h.7M12.6 57.9h.7M19 43.3h.7M1.2 50.7h.7M10.6 58.2h.7M8 42.8h.7M12.6 62.1h.7M15.5 55.6h.7M3.6 51h.7M2.3 52.3h.7M16.2 58.5h.7M7.3 46.5h.7M18.2 55.9h.7M10.2 55h.7M.8 56.9h.7M10.7 57.4h.7M3.2 51.1h.7M3.5 57.9h.7M3.7 43.4h.7M3.9 50.4h.7M4.8 48.2h.7M17.2 47.5h.7M.4 42.9h.7M17.5 40.1h.7M2.6 41.3h.7M11.3 56.4h.7M14.4 46h.7M6.7 62h.7M13.8 53.5h.7M.8 47.5h.7M.5 42h.7M6.7 42.9h.7M8.7 55.2h.7M2.2 52.7h.7M.5 44.9h.7M1.8 54.8h.7M10.3 60.1h.7M10.5 55.2h.7M17.9 59.4h.7M16.3 53.9h.7M11.2 59.2h.7M13.2 44.6h.7M10.4 61.5h.7M14.3 41.8h.7M12.2 59.9h.7M7.1 50h.7M3.4 61.7h.7M13.6 44.4h.7M7.7 53.3h.7M11.4 44.8h.7M9.7 53.8h.7M16 50h.7M16.9 42.8h.7M15.7 50.1h.7M12.2 50.8h.7M14 43.2h.7M9.9 53.3h.7M2.1 51.2h.7M14.3 40.6h.7M16.9 56.6h.7M1.1 61.8h.7M2.4 42.9h.7M16.9 61h.7M9.2 47.1h.7M5.8 46h.7M15.4 48.1h.7M6.7 59.8h.7M12.4 55.2h.7M11.1 48.6h.7M18.2 43.4h.7M7.1 60.8h.7M8.7 57.8h.7M17.9 41.9h.7M3.2 59.5h.7M11.5 40.5h.7M2.3 40.9h.7M5.1 56.3h.7M2.6 56.8h.7M8.2 54.6h.7M13.6 57.7h.7M16.6 60.2h.7M12.8 61.8h.7M8.6 52.1h.7M1.8 58h.7M3.8 48.6h.7M9.9 41.4h.7M37.8 38.3h.7M41.5 58h.7M21.4 27h.7M34.8 58.4h.7M40.4 38.9h.7M39.8 29.8h.7M38.5 30.3h.7M26.5 38.3h.7M34.3 56.5h.7M22.3 32h.7M20.3 35.4h.7M30.3 61.4h.7M32.6 35.1h.7M29.9 51.2h.7M39 44.4h.7M23.5 44.6h.7M39.8 58.5h.7M21.8 39.5h.7M20.2 61h.7M19.5 56h.7M35.4 61.5h.7M20.9 48h.7M24.9 49.4h.7M27.4 26.6h.7M19.8 28h.7M32.1 30.3h.7M24.1 48.9h.7M25.2 29.1h.7M40.8 42.1h.7M31.5 40.3h.7M37.2 41.5h.7M37.2 55.4h.7M20.7 45.6h.7M40.5 61.5h.7M26.1 27.3h.7M28.4 43.8h.7M25.7 29.4h.7M38 27.5h.7M31.6 29.8h.7M44.6 48.1h.7M35 40.3h.7M23.3 54h.7M21.5 35.5h.7M41.1 47h.7M28.4 33.5h.7M24.7 57.8h.7M27.6 40.9h.7M42.9 56.3h.7M26.3 33.9h.7M21.9 31.3h.7" stroke="#000" stroke-opacity="0.55" stroke-width="0.7" fill="none"/>
<ellipse cx="401.7" cy="293.5" rx="2" ry="5" fill="#000" fill-opacity="0.6" filter="url(#b2)"/>
</g>
<text x="369.4" y="41.5" font-size="11.7" textLength="12.8" lengthAdjust="spacingAndGlyphs" stroke="#000" stroke-width=".25">17</text>
<text x="409.8" y="41.5" font-size="11.7" textLength="6.7" lengthAdjust="spacingAndGlyphs" stroke="#000" stroke-width=".25">6</text>
<text x="369.4" y="82.6" font-size="11.7" textLength="12.8" lengthAdjust="spacingAndGlyphs" stroke="#000" stroke-width=".25">29</text>
<text x="403.8" y="83.3" font-size="11.8" font-weight="bold" textLength="13.4" lengthAdjust="spacingAndGlyphs" stroke="#000" stroke-width=".25">48</text>
<text x="369.4" y="117.3" font-size="11.7" textLength="12.8" lengthAdjust="spacingAndGlyphs" stroke="#000" stroke-width=".25">13</text>
<text x="403.8" y="117.3" font-size="11.7" textLength="12.7" lengthAdjust="spacingAndGlyphs" stroke="#000" stroke-width=".25">10</text>
<text x="369.4" y="158.6" font-size="11.7" textLength="12.8" lengthAdjust="spacingAndGlyphs" stroke="#000" stroke-width=".25">31</text>
<text x="403.8" y="158.6" font-size="11.8" font-weight="bold" textLength="13.4" lengthAdjust="spacingAndGlyphs" stroke="#000" stroke-width=".25">46</text>
<text x="369.4" y="188.6" font-size="11.7" textLength="12.8" lengthAdjust="spacingAndGlyphs" stroke="#000" stroke-width=".25">16</text>
<text x="410.2" y="188.6" font-size="11.7" textLength="6.3" lengthAdjust="spacingAndGlyphs" stroke="#000" stroke-width=".25">5</text>
<text x="369.4" y="229.7" font-size="11.7" textLength="12.8" lengthAdjust="spacingAndGlyphs" stroke="#000" stroke-width=".25">14</text>
<text x="403.8" y="228.9" font-size="11.8" font-weight="bold" textLength="13.4" lengthAdjust="spacingAndGlyphs" stroke="#000" stroke-width=".25">66</text>
<text x="369.4" y="262.2" font-size="11.7" textLength="12.8" lengthAdjust="spacingAndGlyphs" stroke="#000" stroke-width=".25">10</text>
<text x="409.8" y="262.2" font-size="11.7" textLength="6.7" lengthAdjust="spacingAndGlyphs" stroke="#000" stroke-width=".25">4</text>
<text x="369.4" y="302.6" font-size="11.7" textLength="12.8" lengthAdjust="spacingAndGlyphs" stroke="#000" stroke-width=".25">21</text>
<text x="403" y="302.6" font-size="11.8" font-weight="bold" textLength="14" lengthAdjust="spacingAndGlyphs" stroke="#000" stroke-width=".25">48</text>
<text x=".5" y="366.3" font-size="15.3" font-weight="bold">B</text>
<line x1="74.5" y1="520.2" x2="148.8" y2="520.2" stroke="#8c8c8c" stroke-width="0.9"/>
<text x="67.5" y="524.5" font-size="12" font-weight="bold" text-anchor="end">0</text>
<line x1="74.5" y1="482.4" x2="148.8" y2="482.4" stroke="#8c8c8c" stroke-width="0.9"/>
<text x="67.5" y="486.7" font-size="12" font-weight="bold" text-anchor="end">0.5</text>
<line x1="74.5" y1="444.6" x2="148.8" y2="444.6" stroke="#8c8c8c" stroke-width="0.9"/>
<text x="67.5" y="448.9" font-size="12" font-weight="bold" text-anchor="end">1</text>
<line x1="74.5" y1="406.7" x2="148.8" y2="406.7" stroke="#8c8c8c" stroke-width="0.9"/>
<text x="67.5" y="411" font-size="12" font-weight="bold" text-anchor="end">1.5</text>
<line x1="74.5" y1="368.9" x2="148.8" y2="368.9" stroke="#8c8c8c" stroke-width="0.9"/>
<text x="67.5" y="373.2" font-size="12" font-weight="bold" text-anchor="end">2</text>
<line x1="78.2" y1="368.9" x2="78.2" y2="520.6" stroke="#8c8c8c" stroke-width="0.9"/>
<line x1="78" y1="520.2" x2="78" y2="524" stroke="#8c8c8c" stroke-width="0.9"/>
<line x1="95.6" y1="520.2" x2="95.6" y2="524" stroke="#8c8c8c" stroke-width="0.9"/>
<line x1="113.2" y1="520.2" x2="113.2" y2="524" stroke="#8c8c8c" stroke-width="0.9"/>
<line x1="130.8" y1="520.2" x2="130.8" y2="524" stroke="#8c8c8c" stroke-width="0.9"/>
<line x1="148.4" y1="520.2" x2="148.4" y2="524" stroke="#8c8c8c" stroke-width="0.9"/>
<rect x="79.5" y="406.5" width="15" height="113.7" fill="#000"/>
<line x1="87" y1="371.3" x2="87" y2="406.5" stroke="#000" stroke-width="0.9"/>
<line x1="84.4" y1="371.3" x2="89.6" y2="371.3" stroke="#000" stroke-width="0.9"/>
<rect x="97" y="491.3" width="15.3" height="28.9" fill="#000"/>
<line x1="104.7" y1="478.5" x2="104.7" y2="491.3" stroke="#000" stroke-width="0.9"/>
<line x1="102.1" y1="478.5" x2="107.2" y2="478.5" stroke="#000" stroke-width="0.9"/>
<rect x="114.6" y="473.5" width="15.4" height="46.7" fill="#000"/>
<line x1="122.3" y1="460.8" x2="122.3" y2="473.5" stroke="#000" stroke-width="0.9"/>
<line x1="119.7" y1="460.8" x2="124.9" y2="460.8" stroke="#000" stroke-width="0.9"/>
<rect x="132.4" y="503.8" width="15.1" height="16.4" fill="#000"/>
<line x1="139.9" y1="497.5" x2="139.9" y2="503.8" stroke="#000" stroke-width="0.9"/>
<line x1="137.3" y1="497.5" x2="142.5" y2="497.5" stroke="#000" stroke-width="0.9"/>
<rect x="110.8" y="383.8" width="6.3" height="6.3" fill="#000"/>
<text x="120" y="390" font-size="12" font-weight="bold" textLength="40" lengthAdjust="spacingAndGlyphs">TCRγδ</text>
<text transform="translate(91.3 529.5) rotate(-90)" font-size="12" font-weight="bold" text-anchor="end" textLength="18" lengthAdjust="spacingAndGlyphs">WT</text>
<text transform="translate(108.8 529.5) rotate(-90)" font-size="12" font-weight="bold" text-anchor="end" textLength="11.5" lengthAdjust="spacingAndGlyphs">Eδ</text>
<text transform="translate(126.3 529.5) rotate(-90)" font-size="12" font-weight="bold" text-anchor="end" textLength="25" lengthAdjust="spacingAndGlyphs">ATM</text>
<text transform="translate(144.3 529.5) rotate(-90)" font-size="12" font-weight="bold" text-anchor="end" textLength="45" lengthAdjust="spacingAndGlyphs">ATM/Eδ</text>
<text transform="translate(41 486) rotate(-90)" font-size="12" font-weight="bold" textLength="100" lengthAdjust="spacingAndGlyphs">Cell number (10<tspan font-size="7.5" dy="-4">6</tspan><tspan dy="4">)</tspan></text>
<text x="184.3" y="366.3" font-size="15.3" font-weight="bold">C</text>
<line x1="237" y1="533.1" x2="339.5" y2="533.1" stroke="#8c8c8c" stroke-width="0.9"/>
<text x="229" y="537.2" font-size="12" font-weight="bold" text-anchor="end">0</text>
<line x1="237" y1="514.9" x2="339.5" y2="514.9" stroke="#8c8c8c" stroke-width="0.9"/>
<text x="229" y="519" font-size="12" font-weight="bold" text-anchor="end">20</text>
<line x1="237" y1="496.6" x2="339.5" y2="496.6" stroke="#8c8c8c" stroke-width="0.9"/>
<text x="229" y="500.7" font-size="12" font-weight="bold" text-anchor="end">40</text>
<line x1="237" y1="478.4" x2="339.5" y2="478.4" stroke="#8c8c8c" stroke-width="0.9"/>
<text x="229" y="482.5" font-size="12" font-weight="bold" text-anchor="end">60</text>
<line x1="237" y1="460.1" x2="339.5" y2="460.1" stroke="#8c8c8c" stroke-width="0.9"/>
<text x="229" y="464.2" font-size="12" font-weight="bold" text-anchor="end">80</text>
<line x1="237" y1="441.9" x2="339.5" y2="441.9" stroke="#8c8c8c" stroke-width="0.9"/>
<text x="229" y="446" font-size="12" font-weight="bold" text-anchor="end">100</text>
<line x1="237" y1="423.6" x2="339.5" y2="423.6" stroke="#8c8c8c" stroke-width="0.9"/>
<text x="229" y="427.7" font-size="12" font-weight="bold" text-anchor="end">120</text>
<line x1="237" y1="405.4" x2="339.5" y2="405.4" stroke="#8c8c8c" stroke-width="0.9"/>
<text x="229" y="409.5" font-size="12" font-weight="bold" text-anchor="end">140</text>
<line x1="237" y1="387.1" x2="339.5" y2="387.1" stroke="#8c8c8c" stroke-width="0.9"/>
<text x="229" y="391.2" font-size="12" font-weight="bold" text-anchor="end">160</text>
<line x1="237" y1="368.9" x2="339.5" y2="368.9" stroke="#8c8c8c" stroke-width="0.9"/>
<text x="229" y="373" font-size="12" font-weight="bold" text-anchor="end">180</text>
<line x1="240.6" y1="368.9" x2="240.6" y2="533.5" stroke="#8c8c8c" stroke-width="0.9"/>
<line x1="240.8" y1="533.1" x2="240.8" y2="536.9" stroke="#8c8c8c" stroke-width="0.9"/>
<line x1="265.4" y1="533.1" x2="265.4" y2="536.9" stroke="#8c8c8c" stroke-width="0.9"/>
<line x1="290" y1="533.1" x2="290" y2="536.9" stroke="#8c8c8c" stroke-width="0.9"/>
<line x1="314.6" y1="533.1" x2="314.6" y2="536.9" stroke="#8c8c8c" stroke-width="0.9"/>
<line x1="339.2" y1="533.1" x2="339.2" y2="536.9" stroke="#8c8c8c" stroke-width="0.9"/>
<rect x="243.8" y="432.7" width="11.2" height="100.4" fill="#9b9b9b"/>
<rect x="250.8" y="461.9" width="11.2" height="71.2" fill="#000"/>
<line x1="249.3" y1="416.3" x2="249.3" y2="448.2" stroke="#222" stroke-width="0.9"/>
<line x1="246.5" y1="416.3" x2="252.2" y2="416.3" stroke="#222" stroke-width="0.9"/>
<line x1="246.5" y1="448.2" x2="252.2" y2="448.2" stroke="#222" stroke-width="0.9"/>
<line x1="256.4" y1="456.5" x2="256.4" y2="461.9" stroke="#000" stroke-width="0.9"/>
<line x1="253.6" y1="456.5" x2="259.2" y2="456.5" stroke="#000" stroke-width="0.9"/>
<rect x="268.2" y="401.7" width="11.2" height="131.4" fill="#9b9b9b"/>
<rect x="275.2" y="437.3" width="11.2" height="95.8" fill="#000"/>
<line x1="273.9" y1="386.2" x2="273.9" y2="417.2" stroke="#222" stroke-width="0.9"/>
<line x1="271.1" y1="386.2" x2="276.7" y2="386.2" stroke="#222" stroke-width="0.9"/>
<line x1="271.1" y1="417.2" x2="276.7" y2="417.2" stroke="#222" stroke-width="0.9"/>
<line x1="280.9" y1="430.9" x2="280.9" y2="437.3" stroke="#000" stroke-width="0.9"/>
<line x1="278.1" y1="430.9" x2="283.7" y2="430.9" stroke="#000" stroke-width="0.9"/>
<rect x="293" y="478.4" width="11.2" height="54.8" fill="#9b9b9b"/>
<rect x="300" y="487.5" width="11.2" height="45.6" fill="#000"/>
<line x1="298.6" y1="471.1" x2="298.6" y2="485.7" stroke="#222" stroke-width="0.9"/>
<line x1="295.8" y1="471.1" x2="301.4" y2="471.1" stroke="#222" stroke-width="0.9"/>
<line x1="295.8" y1="485.7" x2="301.4" y2="485.7" stroke="#222" stroke-width="0.9"/>
<line x1="305.6" y1="485.7" x2="305.6" y2="487.5" stroke="#000" stroke-width="0.9"/>
<line x1="302.8" y1="485.7" x2="308.4" y2="485.7" stroke="#000" stroke-width="0.9"/>
<rect x="317.5" y="435.5" width="11.2" height="97.6" fill="#9b9b9b"/>
<rect x="324.5" y="443.7" width="11.2" height="89.4" fill="#000"/>
<line x1="323.1" y1="428.2" x2="323.1" y2="442.8" stroke="#222" stroke-width="0.9"/>
<line x1="320.3" y1="428.2" x2="325.9" y2="428.2" stroke="#222" stroke-width="0.9"/>
<line x1="320.3" y1="442.8" x2="325.9" y2="442.8" stroke="#222" stroke-width="0.9"/>
<line x1="330.1" y1="440.9" x2="330.1" y2="443.7" stroke="#000" stroke-width="0.9"/>
<line x1="327.3" y1="440.9" x2="332.9" y2="440.9" stroke="#000" stroke-width="0.9"/>
<rect x="276.3" y="373.8" width="6.2" height="6.2" fill="#9b9b9b"/>
<text x="285.7" y="380.5" font-size="12" font-weight="bold" textLength="28.8" lengthAdjust="spacingAndGlyphs">Total</text>
<rect x="319.3" y="373.8" width="6.2" height="6.2" fill="#000"/>
<text x="328.7" y="380.5" font-size="12" font-weight="bold" textLength="17" lengthAdjust="spacingAndGlyphs">DP</text>
<text x="303" y="398" font-size="11" font-weight="bold" textLength="44.5" lengthAdjust="spacingAndGlyphs">P=9x10<tspan font-size="7" dy="-4">-6</tspan></text>
<path d="M307.5 405V401.6Q307.5 399.6 309.5 399.6H334.3Q336.3 399.6 336.3 401.6V405" fill="none" stroke="#000" stroke-width=".9"/>
<text x="288.8" y="414.5" font-size="11" font-weight="bold" textLength="45" lengthAdjust="spacingAndGlyphs">P=2x10<tspan font-size="7" dy="-4">-5</tspan></text>
<path d="M297.5 421.3V417.2Q297.5 415.2 299.5 415.2H319.3Q321.3 415.2 321.3 417.2V421.3" fill="none" stroke="#000" stroke-width=".9"/>
<text transform="translate(257.5 546.5) rotate(-45)" font-size="12.4" font-weight="bold" text-anchor="end">WT</text>
<text transform="translate(281 546.5) rotate(-45)" font-size="12.4" font-weight="bold" text-anchor="end">Eδ</text>
<text transform="translate(304.5 546.5) rotate(-45)" font-size="12.4" font-weight="bold" text-anchor="end">ATM</text>
<text transform="translate(330 550) rotate(-45)" font-size="12.4" font-weight="bold" text-anchor="end">ATM/Eδ</text>
<text transform="translate(202.5 486) rotate(-90)" font-size="12" font-weight="bold" textLength="101" lengthAdjust="spacingAndGlyphs">Cell number (10<tspan font-size="7.5" dy="-4">6</tspan><tspan dy="4">)</tspan></text>
<text x="386" y="366.3" font-size="15.3" font-weight="bold">D</text>
<line x1="430" y1="506.9" x2="509.5" y2="506.9" stroke="#8c8c8c" stroke-width="0.9"/>
<text x="422.3" y="510.8" font-size="11.7" font-weight="bold" text-anchor="end">0</text>
<line x1="430" y1="489.8" x2="509.5" y2="489.8" stroke="#8c8c8c" stroke-width="0.9"/>
<text x="422.3" y="493.7" font-size="11.7" font-weight="bold" text-anchor="end">5</text>
<line x1="430" y1="472.8" x2="509.5" y2="472.8" stroke="#8c8c8c" stroke-width="0.9"/>
<text x="422.3" y="476.7" font-size="11.7" font-weight="bold" text-anchor="end">10</text>
<line x1="430" y1="455.7" x2="509.5" y2="455.7" stroke="#8c8c8c" stroke-width="0.9"/>
<text x="422.3" y="459.6" font-size="11.7" font-weight="bold" text-anchor="end">15</text>
<line x1="430" y1="438.6" x2="509.5" y2="438.6" stroke="#8c8c8c" stroke-width="0.9"/>
<text x="422.3" y="442.5" font-size="11.7" font-weight="bold" text-anchor="end">20</text>
<line x1="430" y1="421.6" x2="509.5" y2="421.6" stroke="#8c8c8c" stroke-width="0.9"/>
<text x="422.3" y="425.5" font-size="11.7" font-weight="bold" text-anchor="end">25</text>
<line x1="430" y1="404.5" x2="509.5" y2="404.5" stroke="#8c8c8c" stroke-width="0.9"/>
<text x="422.3" y="408.4" font-size="11.7" font-weight="bold" text-anchor="end">30</text>
<line x1="430" y1="387.5" x2="509.5" y2="387.5" stroke="#8c8c8c" stroke-width="0.9"/>
<text x="422.3" y="391.4" font-size="11.7" font-weight="bold" text-anchor="end">35</text>
<line x1="430" y1="370.4" x2="509.5" y2="370.4" stroke="#8c8c8c" stroke-width="0.9"/>
<text x="422.3" y="374.3" font-size="11.7" font-weight="bold" text-anchor="end">40</text>
<line x1="433.9" y1="370.4" x2="433.9" y2="507.3" stroke="#8c8c8c" stroke-width="0.9"/>
<line x1="433.9" y1="506.9" x2="433.9" y2="510.7" stroke="#8c8c8c" stroke-width="0.9"/>
<line x1="452.7" y1="506.9" x2="452.7" y2="510.7" stroke="#8c8c8c" stroke-width="0.9"/>
<line x1="471.6" y1="506.9" x2="471.6" y2="510.7" stroke="#8c8c8c" stroke-width="0.9"/>
<line x1="490.4" y1="506.9" x2="490.4" y2="510.7" stroke="#8c8c8c" stroke-width="0.9"/>
<line x1="509.2" y1="506.9" x2="509.2" y2="510.7" stroke="#8c8c8c" stroke-width="0.9"/>
<rect x="437.2" y="431.3" width="12.1" height="75.6" fill="#6b6b6b"/>
<line x1="443.3" y1="411.8" x2="443.3" y2="450.5" stroke="#111" stroke-width="0.9"/>
<line x1="440.5" y1="411.8" x2="446.1" y2="411.8" stroke="#111" stroke-width="0.9"/>
<line x1="440.5" y1="450.5" x2="446.1" y2="450.5" stroke="#111" stroke-width="0.9"/>
<rect x="456.2" y="408.3" width="12.1" height="98.6" fill="#6b6b6b"/>
<line x1="462.3" y1="384.5" x2="462.3" y2="431.3" stroke="#111" stroke-width="0.9"/>
<line x1="459.5" y1="384.5" x2="465.1" y2="384.5" stroke="#111" stroke-width="0.9"/>
<line x1="459.5" y1="431.3" x2="465.1" y2="431.3" stroke="#111" stroke-width="0.9"/>
<rect x="475" y="485.5" width="12.1" height="21.4" fill="#6b6b6b"/>
<line x1="481.1" y1="480.8" x2="481.1" y2="489.8" stroke="#111" stroke-width="0.9"/>
<line x1="478.3" y1="480.8" x2="483.9" y2="480.8" stroke="#111" stroke-width="0.9"/>
<line x1="478.3" y1="489.8" x2="483.9" y2="489.8" stroke="#111" stroke-width="0.9"/>
<rect x="494" y="465.5" width="12.1" height="41.4" fill="#6b6b6b"/>
<line x1="500.1" y1="457" x2="500.1" y2="473.8" stroke="#111" stroke-width="0.9"/>
<line x1="497.3" y1="457" x2="502.9" y2="457" stroke="#111" stroke-width="0.9"/>
<line x1="497.3" y1="473.8" x2="502.9" y2="473.8" stroke="#111" stroke-width="0.9"/>
<rect x="483" y="381.2" width="6.2" height="6.2" fill="#6b6b6b"/>
<text x="492" y="387.3" font-size="12" font-weight="bold" textLength="15.5" lengthAdjust="spacingAndGlyphs">SP</text>
<text x="473.8" y="443.3" font-size="11" font-weight="bold" textLength="45.7" lengthAdjust="spacingAndGlyphs">P=3x10<tspan font-size="7" dy="-4">-3</tspan></text>
<path d="M479.3 450.8V447Q479.3 445 481.3 445H506Q508 445 508 447V450.8" fill="none" stroke="#000" stroke-width=".9"/>
<text transform="translate(447.6 515.2) rotate(-90)" font-size="12" font-weight="bold" text-anchor="end" textLength="18.8" lengthAdjust="spacingAndGlyphs">WT</text>
<text transform="translate(466.5 515.2) rotate(-90)" font-size="12" font-weight="bold" text-anchor="end" textLength="11.8" lengthAdjust="spacingAndGlyphs">Eδ</text>
<text transform="translate(485.3 515.2) rotate(-90)" font-size="12" font-weight="bold" text-anchor="end" textLength="26" lengthAdjust="spacingAndGlyphs">ATM</text>
<text transform="translate(504.1 515.2) rotate(-90)" font-size="12" font-weight="bold" text-anchor="end" textLength="46.6" lengthAdjust="spacingAndGlyphs">ATM/Eδ</text>
<text transform="translate(401 485.5) rotate(-90)" font-size="12" font-weight="bold" textLength="100.5" lengthAdjust="spacingAndGlyphs">Cell number (10<tspan font-size="7.5" dy="-4">6</tspan><tspan dy="4">)</tspan></text>
</svg>
</body></html>
